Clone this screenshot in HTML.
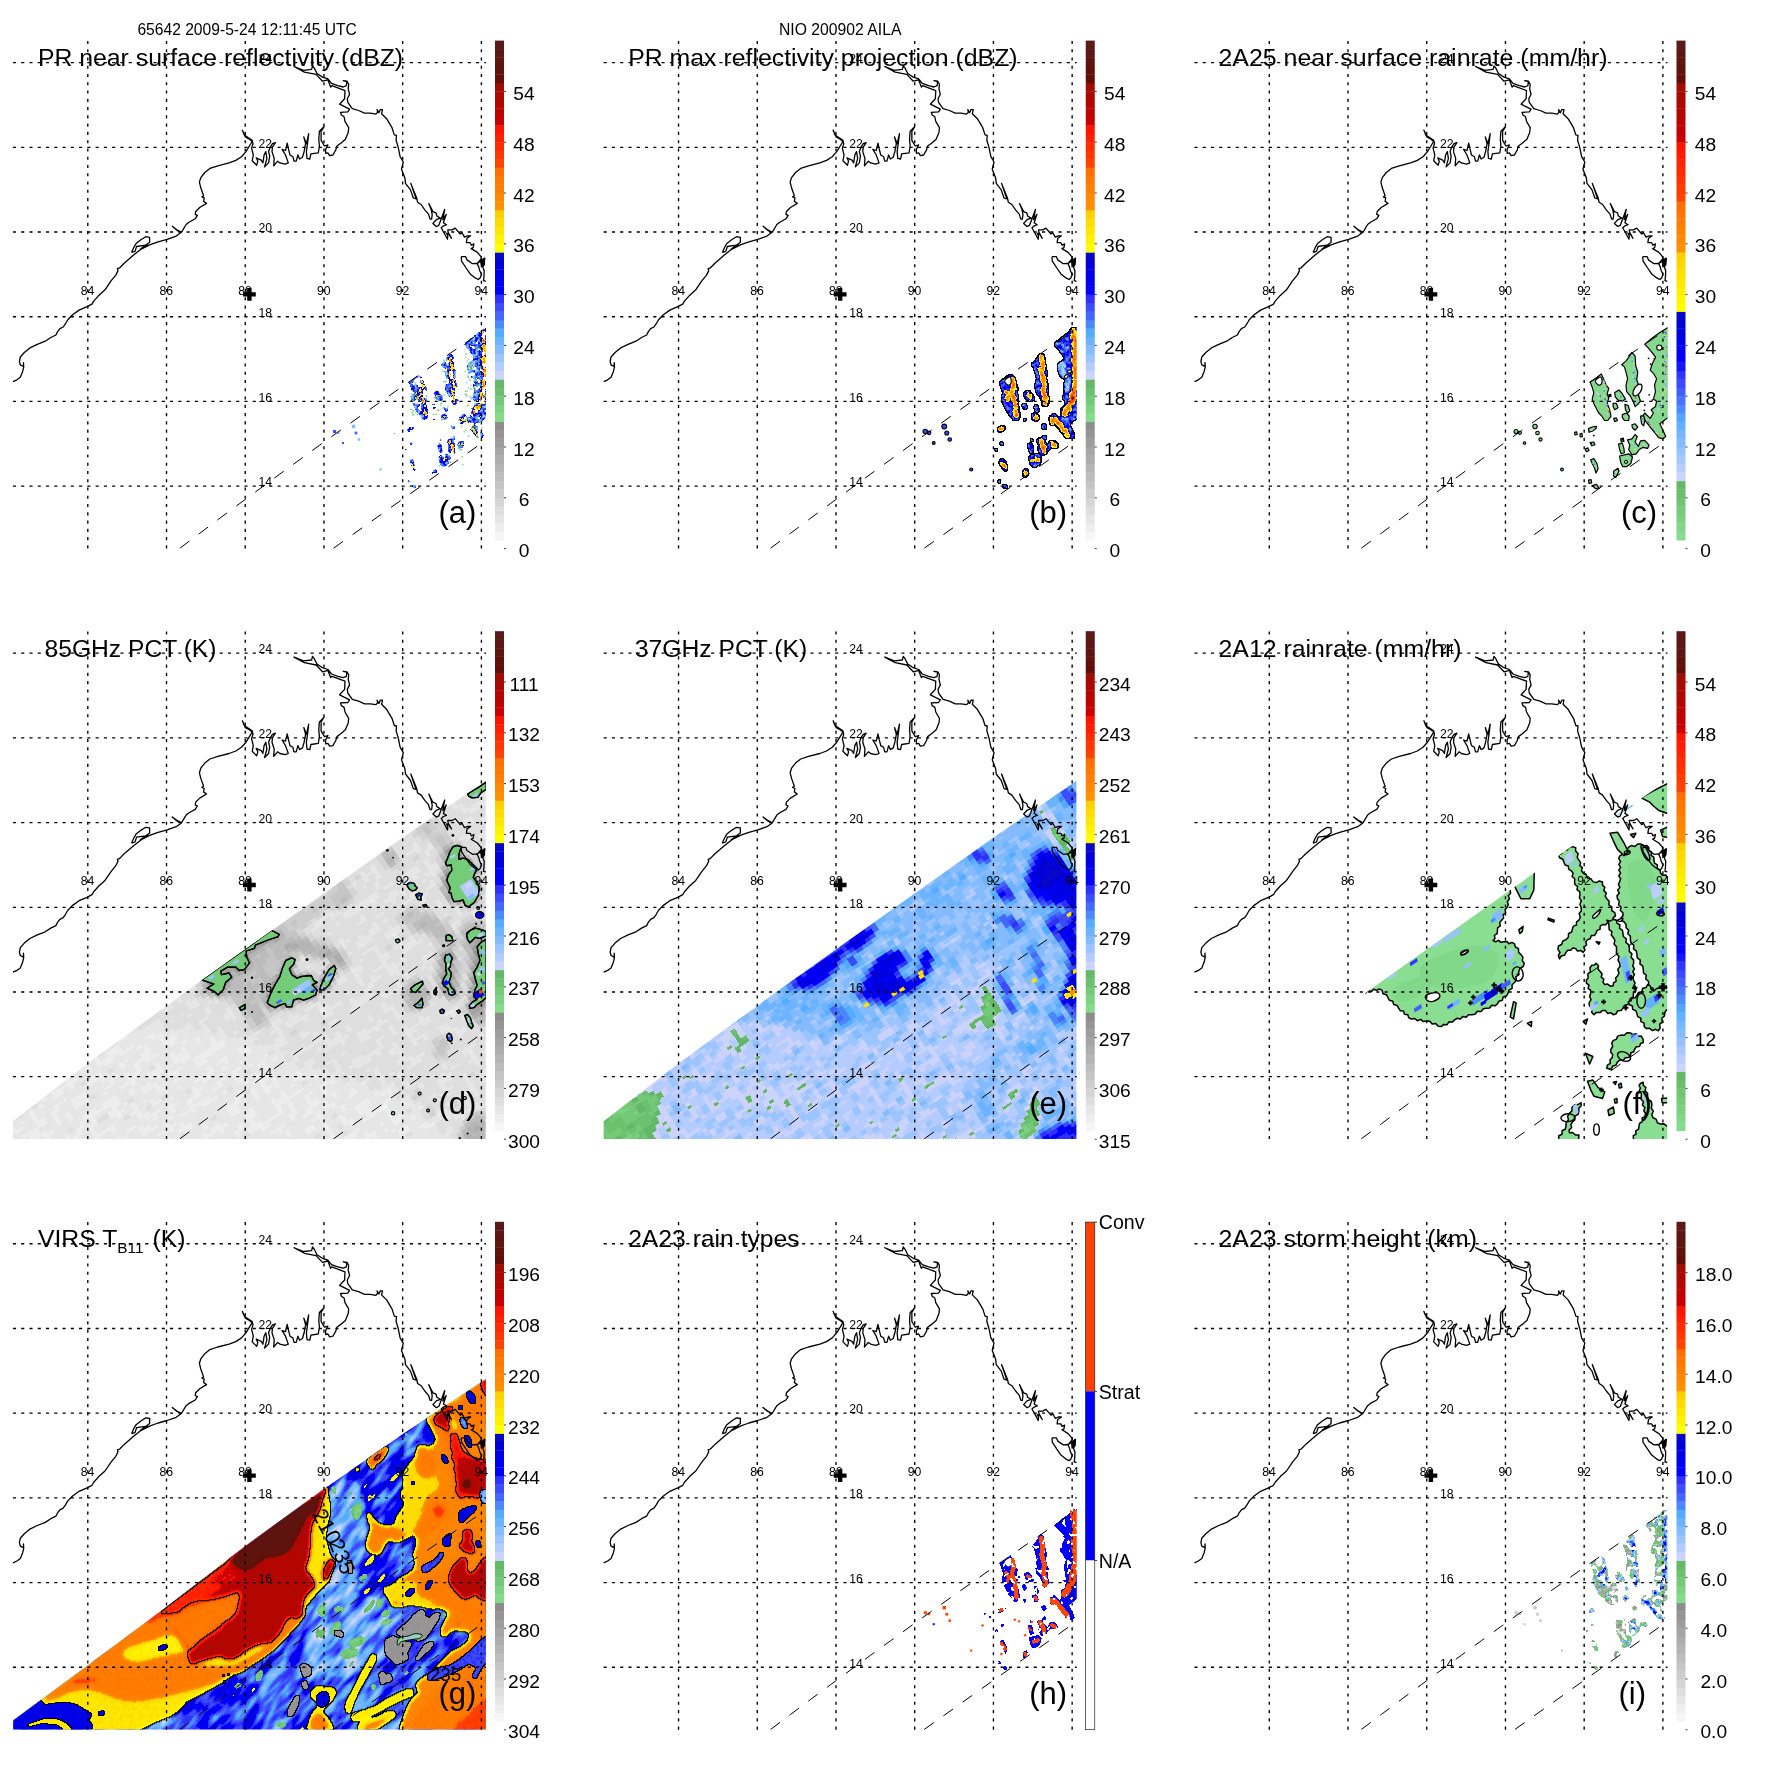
<!DOCTYPE html><html><head><meta charset="utf-8"><title>TRMM 65642 NIO 200902 AILA</title>
<style>html,body{margin:0;padding:0;background:#fff}svg{display:block}text{fill:#000;opacity:0.999}</style></head><body>
<svg width="1771" height="1771" viewBox="0 0 1771 1771">
<defs><clipPath id="plotclip"><rect x="12.9" y="41.0" width="473.1" height="507.8"/></clipPath>
<filter id="pa" x="300" y="300" width="200" height="250" filterUnits="userSpaceOnUse" color-interpolation-filters="sRGB"><feFlood flood-color="#6c6c6c" result="bg"/><feMerge result="comp"><feMergeNode in="bg"/><feMergeNode in="SourceGraphic"/></feMerge><feGaussianBlur in="comp" stdDeviation="0.80" result="f"/><feTurbulence type="fractalNoise" baseFrequency="0.33" numOctaves="2" seed="17" result="t"/><feColorMatrix in="t" type="matrix" values="1 0 0 0 0 1 0 0 0 0 1 0 0 0 0 0 0 0 0 1" result="tg"/><feComposite in="f" in2="tg" operator="arithmetic" k1="0" k2="1" k3="0.420" k4="-0.210" result="fn"/><feComponentTransfer in="fn" result="col"><feFuncR type="discrete" tableValues="1.000 0.965 0.933 0.902 0.871 0.839 0.808 0.776 0.745 0.714 0.682 0.651 0.620 0.588 0.557 0.518 0.486 0.455 0.424 0.392 0.800 0.706 0.612 0.518 0.424 0.329 0.298 0.267 0.235 0.188 0.000 0.000 0.000 0.000 0.031 1.000 1.000 1.000 1.000 1.000 1.000 1.000 1.000 1.000 1.000 1.000 1.000 1.000 1.000 1.000 0.784 0.745 0.706 0.667 0.627 0.384 0.376 0.369 0.361 0.353"/><feFuncG type="discrete" tableValues="1.000 0.965 0.933 0.902 0.871 0.835 0.804 0.773 0.741 0.710 0.678 0.643 0.612 0.580 0.549 0.863 0.827 0.792 0.757 0.722 0.831 0.800 0.769 0.737 0.706 0.675 0.533 0.408 0.298 0.188 0.000 0.000 0.000 0.000 0.031 1.000 0.953 0.910 0.863 0.816 0.565 0.533 0.502 0.471 0.439 0.267 0.220 0.173 0.125 0.078 0.000 0.012 0.024 0.035 0.047 0.055 0.067 0.078 0.090 0.102"/><feFuncB type="discrete" tableValues="1.000 0.965 0.933 0.902 0.871 0.835 0.804 0.773 0.741 0.710 0.678 0.643 0.612 0.580 0.549 0.533 0.502 0.471 0.439 0.408 0.988 1.000 1.000 1.000 1.000 1.000 1.000 1.000 1.000 1.000 1.000 0.957 0.902 0.847 0.784 0.000 0.000 0.000 0.000 0.000 0.000 0.000 0.000 0.000 0.000 0.000 0.000 0.000 0.000 0.000 0.000 0.000 0.000 0.000 0.000 0.024 0.039 0.059 0.078 0.094"/></feComponentTransfer><feGaussianBlur in="SourceAlpha" stdDeviation="0.80" result="ab"/><feComponentTransfer in="ab" result="m"><feFuncA type="discrete" tableValues="0 0 0 0 0 0 0 0 0 0 1 1 1 1 1 1 1 1 1 1"/></feComponentTransfer><feTurbulence type="fractalNoise" baseFrequency="0.22" numOctaves="1" seed="3" result="ht"/><feColorMatrix in="ht" type="matrix" values="0 0 0 0 0 0 0 0 0 0 0 0 0 0 0 1 0 0 0 0" result="hta"/><feComponentTransfer in="hta" result="hm"><feFuncA type="discrete" tableValues="0 0 0 0 0 0 0 0 0 0 0 0 0 0 0 0 1 1 1 1 1 1 1 1 1 1 1 1 1 1 1 1 1 1 1 1 1 1 1 1"/></feComponentTransfer><feComposite in="m" in2="hm" operator="in" result="m2"/><feComposite in="col" in2="m2" operator="in" result="colm"/><feMerge><feMergeNode in="colm"/></feMerge></filter><filter id="pb" x="300" y="300" width="200" height="250" filterUnits="userSpaceOnUse" color-interpolation-filters="sRGB"><feFlood flood-color="#797979" result="bg"/><feMerge result="comp"><feMergeNode in="bg"/><feMergeNode in="SourceGraphic"/></feMerge><feGaussianBlur in="comp" stdDeviation="0.90" result="f"/><feTurbulence type="fractalNoise" baseFrequency="0.28" numOctaves="2" seed="21" result="t"/><feColorMatrix in="t" type="matrix" values="1 0 0 0 0 1 0 0 0 0 1 0 0 0 0 0 0 0 0 1" result="tg"/><feComposite in="f" in2="tg" operator="arithmetic" k1="0" k2="1" k3="0.300" k4="-0.150" result="fn"/><feComponentTransfer in="fn" result="col"><feFuncR type="discrete" tableValues="1.000 0.965 0.933 0.902 0.871 0.839 0.808 0.776 0.745 0.714 0.682 0.651 0.620 0.588 0.557 0.518 0.486 0.455 0.424 0.392 0.800 0.706 0.612 0.518 0.424 0.329 0.298 0.267 0.235 0.188 0.000 0.000 0.000 0.000 0.031 1.000 1.000 1.000 1.000 1.000 1.000 1.000 1.000 1.000 1.000 1.000 1.000 1.000 1.000 1.000 0.784 0.745 0.706 0.667 0.627 0.384 0.376 0.369 0.361 0.353"/><feFuncG type="discrete" tableValues="1.000 0.965 0.933 0.902 0.871 0.835 0.804 0.773 0.741 0.710 0.678 0.643 0.612 0.580 0.549 0.863 0.827 0.792 0.757 0.722 0.831 0.800 0.769 0.737 0.706 0.675 0.533 0.408 0.298 0.188 0.000 0.000 0.000 0.000 0.031 1.000 0.953 0.910 0.863 0.816 0.565 0.533 0.502 0.471 0.439 0.267 0.220 0.173 0.125 0.078 0.000 0.012 0.024 0.035 0.047 0.055 0.067 0.078 0.090 0.102"/><feFuncB type="discrete" tableValues="1.000 0.965 0.933 0.902 0.871 0.835 0.804 0.773 0.741 0.710 0.678 0.643 0.612 0.580 0.549 0.533 0.502 0.471 0.439 0.408 0.988 1.000 1.000 1.000 1.000 1.000 1.000 1.000 1.000 1.000 1.000 0.957 0.902 0.847 0.784 0.000 0.000 0.000 0.000 0.000 0.000 0.000 0.000 0.000 0.000 0.000 0.000 0.000 0.000 0.000 0.000 0.000 0.000 0.000 0.000 0.024 0.039 0.059 0.078 0.094"/></feComponentTransfer><feGaussianBlur in="SourceAlpha" stdDeviation="0.90" result="ab"/><feComponentTransfer in="ab" result="m"><feFuncA type="discrete" tableValues="0 0 0 0 0 0 0 0 0 0 1 1 1 1 1 1 1 1 1 1"/></feComponentTransfer><feComposite in="col" in2="m" operator="in" result="colm"/><feMorphology in="m" operator="dilate" radius="0.60" result="md"/><feMorphology in="m" operator="erode" radius="0.36" result="me"/><feComposite in="md" in2="me" operator="out" result="edge"/><feMerge><feMergeNode in="colm"/><feMergeNode in="edge"/></feMerge></filter><clipPath id="trid"><path d="M12.3 531.1 L87.6 473.0 L189.2 398.6 L323.9 302.9 L402.7 247.0 L485.8 190.2 L485.8 548.3 L12.3 548.3Z"/></clipPath><filter id="pd" x="-80" y="40" width="660" height="660" filterUnits="userSpaceOnUse" color-interpolation-filters="sRGB"><feGaussianBlur in="SourceGraphic" stdDeviation="3.50" result="b"/><feTurbulence type="fractalNoise" baseFrequency="0.1" numOctaves="2" seed="11" result="t"/><feColorMatrix in="t" type="matrix" values="1 0 0 0 0 1 0 0 0 0 1 0 0 0 0 0 0 0 0 1" result="tg"/><feComposite in="b" in2="tg" operator="arithmetic" k1="0" k2="1" k3="0.060" k4="-0.030" result="bn"/><feFlood x="-77" y="42" width="1" height="1" flood-color="#000" result="dot"/><feComposite in="dot" in2="dot" operator="over" x="-80" y="40" width="6" height="4" result="cell"/><feTile in="cell" result="grid"/><feComposite in="bn" in2="grid" operator="in" result="samp"/><feMorphology in="samp" operator="dilate" radius="3 2" result="px"/><feComponentTransfer in="px"><feFuncR type="discrete" tableValues="1.000 0.965 0.933 0.902 0.871 0.839 0.808 0.776 0.745 0.714 0.682 0.651 0.620 0.588 0.557 0.518 0.486 0.455 0.424 0.392 0.800 0.706 0.612 0.518 0.424 0.329 0.298 0.267 0.235 0.188 0.000 0.000 0.000 0.000 0.031 1.000 1.000 1.000 1.000 1.000 1.000 1.000 1.000 1.000 1.000 1.000 1.000 1.000 1.000 1.000 0.784 0.745 0.706 0.667 0.627 0.384 0.376 0.369 0.361 0.353"/><feFuncG type="discrete" tableValues="1.000 0.965 0.933 0.902 0.871 0.835 0.804 0.773 0.741 0.710 0.678 0.643 0.612 0.580 0.549 0.863 0.827 0.792 0.757 0.722 0.831 0.800 0.769 0.737 0.706 0.675 0.533 0.408 0.298 0.188 0.000 0.000 0.000 0.000 0.031 1.000 0.953 0.910 0.863 0.816 0.565 0.533 0.502 0.471 0.439 0.267 0.220 0.173 0.125 0.078 0.000 0.012 0.024 0.035 0.047 0.055 0.067 0.078 0.090 0.102"/><feFuncB type="discrete" tableValues="1.000 0.965 0.933 0.902 0.871 0.835 0.804 0.773 0.741 0.710 0.678 0.643 0.612 0.580 0.549 0.533 0.502 0.471 0.439 0.408 0.988 1.000 1.000 1.000 1.000 1.000 1.000 1.000 1.000 1.000 1.000 0.957 0.902 0.847 0.784 0.000 0.000 0.000 0.000 0.000 0.000 0.000 0.000 0.000 0.000 0.000 0.000 0.000 0.000 0.000 0.000 0.000 0.000 0.000 0.000 0.024 0.039 0.059 0.078 0.094"/></feComponentTransfer></filter><clipPath id="trie"><path d="M12.3 531.1 L87.6 473.0 L189.2 398.6 L323.9 302.9 L402.7 247.0 L485.8 190.2 L485.8 548.3 L12.3 548.3Z"/></clipPath><filter id="pe" x="-80" y="40" width="660" height="660" filterUnits="userSpaceOnUse" color-interpolation-filters="sRGB"><feGaussianBlur in="SourceGraphic" stdDeviation="3.20" result="b"/><feTurbulence type="fractalNoise" baseFrequency="0.1" numOctaves="2" seed="5" result="t"/><feColorMatrix in="t" type="matrix" values="1 0 0 0 0 1 0 0 0 0 1 0 0 0 0 0 0 0 0 1" result="tg"/><feComposite in="b" in2="tg" operator="arithmetic" k1="0" k2="1" k3="0.105" k4="-0.052" result="bn"/><feFlood x="-77" y="42" width="1" height="1" flood-color="#000" result="dot"/><feComposite in="dot" in2="dot" operator="over" x="-80" y="40" width="6" height="4" result="cell"/><feTile in="cell" result="grid"/><feComposite in="bn" in2="grid" operator="in" result="samp"/><feMorphology in="samp" operator="dilate" radius="3 2" result="px"/><feComponentTransfer in="px"><feFuncR type="discrete" tableValues="1.000 0.965 0.933 0.902 0.871 0.839 0.808 0.776 0.745 0.714 0.682 0.651 0.620 0.588 0.557 0.518 0.486 0.455 0.424 0.392 0.800 0.706 0.612 0.518 0.424 0.329 0.298 0.267 0.235 0.188 0.000 0.000 0.000 0.000 0.031 1.000 1.000 1.000 1.000 1.000 1.000 1.000 1.000 1.000 1.000 1.000 1.000 1.000 1.000 1.000 0.784 0.745 0.706 0.667 0.627 0.384 0.376 0.369 0.361 0.353"/><feFuncG type="discrete" tableValues="1.000 0.965 0.933 0.902 0.871 0.835 0.804 0.773 0.741 0.710 0.678 0.643 0.612 0.580 0.549 0.863 0.827 0.792 0.757 0.722 0.831 0.800 0.769 0.737 0.706 0.675 0.533 0.408 0.298 0.188 0.000 0.000 0.000 0.000 0.031 1.000 0.953 0.910 0.863 0.816 0.565 0.533 0.502 0.471 0.439 0.267 0.220 0.173 0.125 0.078 0.000 0.012 0.024 0.035 0.047 0.055 0.067 0.078 0.090 0.102"/><feFuncB type="discrete" tableValues="1.000 0.965 0.933 0.902 0.871 0.835 0.804 0.773 0.741 0.710 0.678 0.643 0.612 0.580 0.549 0.533 0.502 0.471 0.439 0.408 0.988 1.000 1.000 1.000 1.000 1.000 1.000 1.000 1.000 1.000 1.000 0.957 0.902 0.847 0.784 0.000 0.000 0.000 0.000 0.000 0.000 0.000 0.000 0.000 0.000 0.000 0.000 0.000 0.000 0.000 0.000 0.000 0.000 0.000 0.000 0.024 0.039 0.059 0.078 0.094"/></feComponentTransfer></filter><clipPath id="trif"><path d="M12.3 531.1 L87.6 473.0 L189.2 398.6 L323.9 302.9 L402.7 247.0 L485.8 190.2 L485.8 548.3 L12.3 548.3Z"/></clipPath><filter id="pf" x="-80" y="40" width="660" height="660" filterUnits="userSpaceOnUse" color-interpolation-filters="sRGB"><feFlood x="-77" y="42" width="1" height="1" flood-color="#000" result="dot"/><feComposite in="dot" in2="dot" operator="over" x="-80" y="40" width="6" height="4" result="cell"/><feTile in="cell" result="grid"/><feComposite in="SourceGraphic" in2="grid" operator="in" result="samp"/><feMorphology in="samp" operator="dilate" radius="3 2" result="px0"/><feComponentTransfer in="px0" result="px"><feFuncA type="discrete" tableValues="0 1 1 1"/></feComponentTransfer><feComponentTransfer in="px" result="col"><feFuncR type="discrete" tableValues="1.000 0.525 0.506 0.482 0.463 0.443 0.420 0.400 0.800 0.729 0.663 0.592 0.522 0.455 0.384 0.325 0.302 0.278 0.255 0.231 0.196 0.078 0.000 0.000 0.000 0.000 0.008 0.031 1.000 1.000 1.000 1.000 1.000 1.000 1.000 1.000 1.000 1.000 1.000 1.000 1.000 1.000 1.000 1.000 1.000 1.000 1.000 1.000 0.784 0.757 0.733 0.706 0.678 0.655 0.627 0.384 0.376 0.369 0.361 0.353"/><feFuncG type="discrete" tableValues="1.000 0.863 0.839 0.816 0.792 0.769 0.745 0.722 0.831 0.808 0.784 0.761 0.737 0.718 0.694 0.651 0.549 0.455 0.369 0.286 0.204 0.078 0.000 0.000 0.000 0.000 0.008 0.031 1.000 0.969 0.937 0.910 0.878 0.847 0.816 0.565 0.541 0.514 0.490 0.463 0.439 0.267 0.235 0.204 0.173 0.141 0.110 0.078 0.000 0.008 0.016 0.024 0.031 0.039 0.047 0.055 0.067 0.078 0.090 0.102"/><feFuncB type="discrete" tableValues="1.000 0.557 0.529 0.506 0.478 0.451 0.427 0.400 0.988 0.996 1.000 1.000 1.000 1.000 1.000 1.000 1.000 1.000 1.000 1.000 1.000 1.000 0.988 0.953 0.914 0.875 0.831 0.784 0.000 0.000 0.000 0.000 0.000 0.000 0.000 0.000 0.000 0.000 0.000 0.000 0.000 0.000 0.000 0.000 0.000 0.000 0.000 0.000 0.000 0.000 0.000 0.000 0.000 0.000 0.000 0.024 0.039 0.059 0.078 0.094"/></feComponentTransfer><feColorMatrix in="px" type="matrix" values="0 0 0 0 0 0 0 0 0 0 0 0 0 0 0 0 0 0 1 0" result="a"/><feMorphology in="a" operator="dilate" radius="0.48" result="ad"/><feMorphology in="a" operator="erode" radius="0.80" result="ae"/><feComposite in="ad" in2="ae" operator="out" result="edge"/><feMerge><feMergeNode in="col"/><feMergeNode in="edge"/></feMerge></filter><clipPath id="trig"><path d="M13.2 539.2 L87.8 484.2 L166.4 425.7 L245.5 364.7 L324.0 307.8 L402.8 252.8 L485.8 198.0 L485.8 548.3 L13.2 548.3Z"/></clipPath><filter id="pg0" x="-200" y="-100" width="900" height="900" filterUnits="userSpaceOnUse" color-interpolation-filters="sRGB"><feGaussianBlur in="SourceGraphic" stdDeviation="1.40" result="b"/><feTurbulence type="fractalNoise" baseFrequency="0.035 0.11" numOctaves="2" seed="7" result="t"/><feColorMatrix in="t" type="matrix" values="1 0 0 0 0 1 0 0 0 0 1 0 0 0 0 0 0 0 0 1" result="tg"/><feComposite in="b" in2="tg" operator="arithmetic" k1="0" k2="1" k3="0.360" k4="-0.180" result="bn"/><feComponentTransfer in="bn"><feFuncR type="discrete" tableValues="1.000 0.965 0.933 0.902 0.871 0.839 0.808 0.776 0.745 0.714 0.682 0.651 0.620 0.588 0.557 0.518 0.486 0.455 0.424 0.392 0.800 0.706 0.612 0.518 0.424 0.329 0.298 0.267 0.235 0.188 0.000 0.000 0.000 0.000 0.031 1.000 1.000 1.000 1.000 1.000 1.000 1.000 1.000 1.000 1.000 1.000 1.000 1.000 1.000 1.000 0.784 0.745 0.706 0.667 0.627 0.384 0.376 0.369 0.361 0.353"/><feFuncG type="discrete" tableValues="1.000 0.965 0.933 0.902 0.871 0.835 0.804 0.773 0.741 0.710 0.678 0.643 0.612 0.580 0.549 0.863 0.827 0.792 0.757 0.722 0.831 0.800 0.769 0.737 0.706 0.675 0.533 0.408 0.298 0.188 0.000 0.000 0.000 0.000 0.031 1.000 0.953 0.910 0.863 0.816 0.565 0.533 0.502 0.471 0.439 0.267 0.220 0.173 0.125 0.078 0.000 0.012 0.024 0.035 0.047 0.055 0.067 0.078 0.090 0.102"/><feFuncB type="discrete" tableValues="1.000 0.965 0.933 0.902 0.871 0.835 0.804 0.773 0.741 0.710 0.678 0.643 0.612 0.580 0.549 0.533 0.502 0.471 0.439 0.408 0.988 1.000 1.000 1.000 1.000 1.000 1.000 1.000 1.000 1.000 1.000 0.957 0.902 0.847 0.784 0.000 0.000 0.000 0.000 0.000 0.000 0.000 0.000 0.000 0.000 0.000 0.000 0.000 0.000 0.000 0.000 0.000 0.000 0.000 0.000 0.024 0.039 0.059 0.078 0.094"/></feComponentTransfer></filter><filter id="pg1" x="-10" y="180" width="510" height="380" filterUnits="userSpaceOnUse" color-interpolation-filters="sRGB"><feFlood flood-color="#8f8f8f" result="bg"/><feMerge result="comp"><feMergeNode in="bg"/><feMergeNode in="SourceGraphic"/></feMerge><feGaussianBlur in="comp" stdDeviation="1.90" result="f"/><feTurbulence type="fractalNoise" baseFrequency="0.3" numOctaves="2" seed="4" result="t"/><feColorMatrix in="t" type="matrix" values="1 0 0 0 0 1 0 0 0 0 1 0 0 0 0 0 0 0 0 1" result="tg"/><feComposite in="f" in2="tg" operator="arithmetic" k1="0" k2="1" k3="0.035" k4="-0.018" result="fn"/><feComponentTransfer in="fn" result="col"><feFuncR type="discrete" tableValues="1.000 0.965 0.933 0.902 0.871 0.839 0.808 0.776 0.745 0.714 0.682 0.651 0.620 0.588 0.557 0.518 0.486 0.455 0.424 0.392 0.800 0.706 0.612 0.518 0.424 0.329 0.298 0.267 0.235 0.188 0.000 0.000 0.000 0.000 0.031 1.000 1.000 1.000 1.000 1.000 1.000 1.000 1.000 1.000 1.000 1.000 1.000 1.000 1.000 1.000 0.784 0.745 0.706 0.667 0.627 0.384 0.376 0.369 0.361 0.353"/><feFuncG type="discrete" tableValues="1.000 0.965 0.933 0.902 0.871 0.835 0.804 0.773 0.741 0.710 0.678 0.643 0.612 0.580 0.549 0.863 0.827 0.792 0.757 0.722 0.831 0.800 0.769 0.737 0.706 0.675 0.533 0.408 0.298 0.188 0.000 0.000 0.000 0.000 0.031 1.000 0.953 0.910 0.863 0.816 0.565 0.533 0.502 0.471 0.439 0.267 0.220 0.173 0.125 0.078 0.000 0.012 0.024 0.035 0.047 0.055 0.067 0.078 0.090 0.102"/><feFuncB type="discrete" tableValues="1.000 0.965 0.933 0.902 0.871 0.835 0.804 0.773 0.741 0.710 0.678 0.643 0.612 0.580 0.549 0.533 0.502 0.471 0.439 0.408 0.988 1.000 1.000 1.000 1.000 1.000 1.000 1.000 1.000 1.000 1.000 0.957 0.902 0.847 0.784 0.000 0.000 0.000 0.000 0.000 0.000 0.000 0.000 0.000 0.000 0.000 0.000 0.000 0.000 0.000 0.000 0.000 0.000 0.000 0.000 0.024 0.039 0.059 0.078 0.094"/></feComponentTransfer><feGaussianBlur in="SourceAlpha" stdDeviation="1.90" result="ab"/><feComponentTransfer in="ab" result="m"><feFuncA type="discrete" tableValues="0 0 0 0 0 0 0 0 0 1 1 1 1 1 1 1 1 1 1 1"/></feComponentTransfer><feComposite in="col" in2="m" operator="in" result="colm"/><feMorphology in="m" operator="dilate" radius="0.55" result="md"/><feMorphology in="m" operator="erode" radius="0.33" result="me"/><feComposite in="md" in2="me" operator="out" result="edge"/><feComponentTransfer in="f" result="th"><feFuncR type="discrete" tableValues="0 0 0 0 0 0 0 0 0 0 0 0 0 0 0 0 0 0 0 0 0 0 0 0 0 0 0 0 0 0 0 0 0 0 0 0 0 0 0 0 0 0 0 0 0 0 0 1 1 1 1 1 1 1 1 1 1 1 1 1"/></feComponentTransfer><feColorMatrix in="th" type="matrix" values="0 0 0 0 0 0 0 0 0 0 0 0 0 0 0 1 0 0 0 0" result="tha"/><feMorphology in="tha" operator="dilate" radius="0.55" result="thd"/><feMorphology in="tha" operator="erode" radius="0.33" result="the"/><feComposite in="thd" in2="the" operator="out" result="c0"/><feComposite in="c0" in2="m" operator="in" result="edge2"/><feMerge><feMergeNode in="colm"/><feMergeNode in="edge"/><feMergeNode in="edge2"/></feMerge></filter><filter id="pg2" x="-10" y="180" width="510" height="380" filterUnits="userSpaceOnUse" color-interpolation-filters="sRGB"><feFlood flood-color="#828282" result="bg"/><feMerge result="comp"><feMergeNode in="bg"/><feMergeNode in="SourceGraphic"/></feMerge><feGaussianBlur in="comp" stdDeviation="1.00" result="f"/><feTurbulence type="fractalNoise" baseFrequency="0.3" numOctaves="2" seed="9" result="t"/><feColorMatrix in="t" type="matrix" values="1 0 0 0 0 1 0 0 0 0 1 0 0 0 0 0 0 0 0 1" result="tg"/><feComposite in="f" in2="tg" operator="arithmetic" k1="0" k2="1" k3="0.050" k4="-0.025" result="fn"/><feComponentTransfer in="fn" result="col"><feFuncR type="discrete" tableValues="1.000 0.965 0.933 0.902 0.871 0.839 0.808 0.776 0.745 0.714 0.682 0.651 0.620 0.588 0.557 0.518 0.486 0.455 0.424 0.392 0.800 0.706 0.612 0.518 0.424 0.329 0.298 0.267 0.235 0.188 0.000 0.000 0.000 0.000 0.031 1.000 1.000 1.000 1.000 1.000 1.000 1.000 1.000 1.000 1.000 1.000 1.000 1.000 1.000 1.000 0.784 0.745 0.706 0.667 0.627 0.384 0.376 0.369 0.361 0.353"/><feFuncG type="discrete" tableValues="1.000 0.965 0.933 0.902 0.871 0.835 0.804 0.773 0.741 0.710 0.678 0.643 0.612 0.580 0.549 0.863 0.827 0.792 0.757 0.722 0.831 0.800 0.769 0.737 0.706 0.675 0.533 0.408 0.298 0.188 0.000 0.000 0.000 0.000 0.031 1.000 0.953 0.910 0.863 0.816 0.565 0.533 0.502 0.471 0.439 0.267 0.220 0.173 0.125 0.078 0.000 0.012 0.024 0.035 0.047 0.055 0.067 0.078 0.090 0.102"/><feFuncB type="discrete" tableValues="1.000 0.965 0.933 0.902 0.871 0.835 0.804 0.773 0.741 0.710 0.678 0.643 0.612 0.580 0.549 0.533 0.502 0.471 0.439 0.408 0.988 1.000 1.000 1.000 1.000 1.000 1.000 1.000 1.000 1.000 1.000 0.957 0.902 0.847 0.784 0.000 0.000 0.000 0.000 0.000 0.000 0.000 0.000 0.000 0.000 0.000 0.000 0.000 0.000 0.000 0.000 0.000 0.000 0.000 0.000 0.024 0.039 0.059 0.078 0.094"/></feComponentTransfer><feGaussianBlur in="SourceAlpha" stdDeviation="1.00" result="ab"/><feComponentTransfer in="ab" result="m"><feFuncA type="discrete" tableValues="0 0 0 0 0 0 0 0 0 0 1 1 1 1 1 1 1 1 1 1"/></feComponentTransfer><feComposite in="col" in2="m" operator="in" result="colm"/><feMorphology in="m" operator="dilate" radius="0.55" result="md"/><feMorphology in="m" operator="erode" radius="0.33" result="me"/><feComposite in="md" in2="me" operator="out" result="edge"/><feMerge><feMergeNode in="colm"/><feMergeNode in="edge"/></feMerge></filter><filter id="pg4" x="-10" y="180" width="510" height="380" filterUnits="userSpaceOnUse" color-interpolation-filters="sRGB"><feFlood flood-color="#5b5b5b" result="bg"/><feMerge result="comp"><feMergeNode in="bg"/><feMergeNode in="SourceGraphic"/></feMerge><feGaussianBlur in="comp" stdDeviation="1.20" result="f"/><feTurbulence type="fractalNoise" baseFrequency="0.22" numOctaves="2" seed="13" result="t"/><feColorMatrix in="t" type="matrix" values="1 0 0 0 0 1 0 0 0 0 1 0 0 0 0 0 0 0 0 1" result="tg"/><feComposite in="f" in2="tg" operator="arithmetic" k1="0" k2="1" k3="0.090" k4="-0.045" result="fn"/><feComponentTransfer in="fn" result="col"><feFuncR type="discrete" tableValues="1.000 0.965 0.933 0.902 0.871 0.839 0.808 0.776 0.745 0.714 0.682 0.651 0.620 0.588 0.557 0.518 0.486 0.455 0.424 0.392 0.800 0.706 0.612 0.518 0.424 0.329 0.298 0.267 0.235 0.188 0.000 0.000 0.000 0.000 0.031 1.000 1.000 1.000 1.000 1.000 1.000 1.000 1.000 1.000 1.000 1.000 1.000 1.000 1.000 1.000 0.784 0.745 0.706 0.667 0.627 0.384 0.376 0.369 0.361 0.353"/><feFuncG type="discrete" tableValues="1.000 0.965 0.933 0.902 0.871 0.835 0.804 0.773 0.741 0.710 0.678 0.643 0.612 0.580 0.549 0.863 0.827 0.792 0.757 0.722 0.831 0.800 0.769 0.737 0.706 0.675 0.533 0.408 0.298 0.188 0.000 0.000 0.000 0.000 0.031 1.000 0.953 0.910 0.863 0.816 0.565 0.533 0.502 0.471 0.439 0.267 0.220 0.173 0.125 0.078 0.000 0.012 0.024 0.035 0.047 0.055 0.067 0.078 0.090 0.102"/><feFuncB type="discrete" tableValues="1.000 0.965 0.933 0.902 0.871 0.835 0.804 0.773 0.741 0.710 0.678 0.643 0.612 0.580 0.549 0.533 0.502 0.471 0.439 0.408 0.988 1.000 1.000 1.000 1.000 1.000 1.000 1.000 1.000 1.000 1.000 0.957 0.902 0.847 0.784 0.000 0.000 0.000 0.000 0.000 0.000 0.000 0.000 0.000 0.000 0.000 0.000 0.000 0.000 0.000 0.000 0.000 0.000 0.000 0.000 0.024 0.039 0.059 0.078 0.094"/></feComponentTransfer><feGaussianBlur in="SourceAlpha" stdDeviation="1.20" result="ab"/><feComponentTransfer in="ab" result="m"><feFuncA type="discrete" tableValues="0 0 0 0 0 0 0 0 0 0 0 1 1 1 1 1 1 1 1 1"/></feComponentTransfer><feComposite in="col" in2="m" operator="in" result="colm"/><feMerge><feMergeNode in="colm"/></feMerge></filter><filter id="pg3" x="-10" y="180" width="510" height="380" filterUnits="userSpaceOnUse" color-interpolation-filters="sRGB"><feFlood flood-color="#393939" result="bg"/><feMerge result="comp"><feMergeNode in="bg"/><feMergeNode in="SourceGraphic"/></feMerge><feGaussianBlur in="comp" stdDeviation="0.80" result="f"/><feTurbulence type="fractalNoise" baseFrequency="0.3" numOctaves="2" seed="9" result="t"/><feColorMatrix in="t" type="matrix" values="1 0 0 0 0 1 0 0 0 0 1 0 0 0 0 0 0 0 0 1" result="tg"/><feComposite in="f" in2="tg" operator="arithmetic" k1="0" k2="1" k3="0.012" k4="-0.006" result="fn"/><feComponentTransfer in="fn" result="col"><feFuncR type="discrete" tableValues="1.000 0.965 0.933 0.902 0.871 0.839 0.808 0.776 0.745 0.714 0.682 0.651 0.620 0.588 0.557 0.518 0.486 0.455 0.424 0.392 0.800 0.706 0.612 0.518 0.424 0.329 0.298 0.267 0.235 0.188 0.000 0.000 0.000 0.000 0.031 1.000 1.000 1.000 1.000 1.000 1.000 1.000 1.000 1.000 1.000 1.000 1.000 1.000 1.000 1.000 0.784 0.745 0.706 0.667 0.627 0.384 0.376 0.369 0.361 0.353"/><feFuncG type="discrete" tableValues="1.000 0.965 0.933 0.902 0.871 0.835 0.804 0.773 0.741 0.710 0.678 0.643 0.612 0.580 0.549 0.863 0.827 0.792 0.757 0.722 0.831 0.800 0.769 0.737 0.706 0.675 0.533 0.408 0.298 0.188 0.000 0.000 0.000 0.000 0.031 1.000 0.953 0.910 0.863 0.816 0.565 0.533 0.502 0.471 0.439 0.267 0.220 0.173 0.125 0.078 0.000 0.012 0.024 0.035 0.047 0.055 0.067 0.078 0.090 0.102"/><feFuncB type="discrete" tableValues="1.000 0.965 0.933 0.902 0.871 0.835 0.804 0.773 0.741 0.710 0.678 0.643 0.612 0.580 0.549 0.533 0.502 0.471 0.439 0.408 0.988 1.000 1.000 1.000 1.000 1.000 1.000 1.000 1.000 1.000 1.000 0.957 0.902 0.847 0.784 0.000 0.000 0.000 0.000 0.000 0.000 0.000 0.000 0.000 0.000 0.000 0.000 0.000 0.000 0.000 0.000 0.000 0.000 0.000 0.000 0.024 0.039 0.059 0.078 0.094"/></feComponentTransfer><feGaussianBlur in="SourceAlpha" stdDeviation="0.80" result="ab"/><feComponentTransfer in="ab" result="m"><feFuncA type="discrete" tableValues="0 0 0 0 0 0 0 0 0 0 1 1 1 1 1 1 1 1 1 1"/></feComponentTransfer><feComposite in="col" in2="m" operator="in" result="colm"/><feMorphology in="m" operator="dilate" radius="0.50" result="md"/><feMorphology in="m" operator="erode" radius="0.30" result="me"/><feComposite in="md" in2="me" operator="out" result="edge"/><feMerge><feMergeNode in="colm"/><feMergeNode in="edge"/></feMerge></filter><filter id="ph" x="300" y="300" width="200" height="250" filterUnits="userSpaceOnUse" color-interpolation-filters="sRGB"><feFlood flood-color="#2d2d2d" result="bg"/><feMerge result="comp"><feMergeNode in="bg"/><feMergeNode in="SourceGraphic"/></feMerge><feGaussianBlur in="comp" stdDeviation="0.60" result="f"/><feTurbulence type="fractalNoise" baseFrequency="0.5" numOctaves="2" seed="31" result="t"/><feColorMatrix in="t" type="matrix" values="1 0 0 0 0 1 0 0 0 0 1 0 0 0 0 0 0 0 0 1" result="tg"/><feComposite in="f" in2="tg" operator="arithmetic" k1="0" k2="1" k3="0.350" k4="-0.175" result="fn"/><feComponentTransfer in="fn" result="col"><feFuncR type="discrete" tableValues="0.000 0.000 0.000 0.000 0.000 0.000 0.000 0.000 0.000 0.000 0.000 0.000 0.000 0.000 0.000 0.000 0.000 0.000 0.000 0.000 0.000 0.000 0.000 0.000 0.000 0.000 0.000 0.000 0.000 0.000 1.000 1.000 1.000 1.000 1.000 1.000 1.000 1.000 1.000 1.000 1.000 1.000 1.000 1.000 1.000 1.000 1.000 1.000 1.000 1.000 1.000 1.000 1.000 1.000 1.000 1.000 1.000 1.000 1.000 1.000"/><feFuncG type="discrete" tableValues="0.000 0.000 0.000 0.000 0.000 0.000 0.000 0.000 0.000 0.000 0.000 0.000 0.000 0.000 0.000 0.000 0.000 0.000 0.000 0.000 0.000 0.000 0.000 0.000 0.000 0.000 0.000 0.000 0.000 0.000 0.271 0.271 0.271 0.271 0.271 0.271 0.271 0.271 0.271 0.271 0.271 0.271 0.271 0.271 0.271 0.271 0.271 0.271 0.271 0.271 0.271 0.271 0.271 0.271 0.271 0.271 0.271 0.271 0.271 0.271"/><feFuncB type="discrete" tableValues="1.000 1.000 1.000 1.000 1.000 1.000 1.000 1.000 1.000 1.000 1.000 1.000 1.000 1.000 1.000 1.000 1.000 1.000 1.000 1.000 1.000 1.000 1.000 1.000 1.000 1.000 1.000 1.000 1.000 1.000 0.000 0.000 0.000 0.000 0.000 0.000 0.000 0.000 0.000 0.000 0.000 0.000 0.000 0.000 0.000 0.000 0.000 0.000 0.000 0.000 0.000 0.000 0.000 0.000 0.000 0.000 0.000 0.000 0.000 0.000"/></feComponentTransfer><feGaussianBlur in="SourceAlpha" stdDeviation="0.60" result="ab"/><feComponentTransfer in="ab" result="m"><feFuncA type="discrete" tableValues="0 0 0 0 0 0 0 0 0 0 1 1 1 1 1 1 1 1 1 1"/></feComponentTransfer><feTurbulence type="fractalNoise" baseFrequency="0.25" numOctaves="1" seed="5" result="ht"/><feColorMatrix in="ht" type="matrix" values="0 0 0 0 0 0 0 0 0 0 0 0 0 0 0 1 0 0 0 0" result="hta"/><feComponentTransfer in="hta" result="hm"><feFuncA type="discrete" tableValues="0 0 0 0 0 0 0 0 0 0 0 0 0 0 0 1 1 1 1 1 1 1 1 1 1 1 1 1 1 1 1 1 1 1 1 1 1 1 1 1"/></feComponentTransfer><feComposite in="m" in2="hm" operator="in" result="m2"/><feComposite in="col" in2="m2" operator="in" result="colm"/><feMerge><feMergeNode in="colm"/></feMerge></filter><filter id="pi" x="300" y="300" width="200" height="250" filterUnits="userSpaceOnUse" color-interpolation-filters="sRGB"><feFlood flood-color="#464646" result="bg"/><feMerge result="comp"><feMergeNode in="bg"/><feMergeNode in="SourceGraphic"/></feMerge><feGaussianBlur in="comp" stdDeviation="0.90" result="f"/><feTurbulence type="fractalNoise" baseFrequency="0.2" numOctaves="2" seed="41" result="t"/><feColorMatrix in="t" type="matrix" values="1 0 0 0 0 1 0 0 0 0 1 0 0 0 0 0 0 0 0 1" result="tg"/><feComposite in="f" in2="tg" operator="arithmetic" k1="0" k2="1" k3="0.600" k4="-0.300" result="fn"/><feComponentTransfer in="fn" result="col"><feFuncR type="discrete" tableValues="1.000 0.965 0.933 0.902 0.871 0.839 0.808 0.776 0.745 0.714 0.682 0.651 0.620 0.588 0.557 0.518 0.486 0.455 0.424 0.392 0.800 0.706 0.612 0.518 0.424 0.329 0.298 0.267 0.235 0.188 0.000 0.000 0.000 0.000 0.031 1.000 1.000 1.000 1.000 1.000 1.000 1.000 1.000 1.000 1.000 1.000 1.000 1.000 1.000 1.000 0.784 0.745 0.706 0.667 0.627 0.384 0.376 0.369 0.361 0.353"/><feFuncG type="discrete" tableValues="1.000 0.965 0.933 0.902 0.871 0.835 0.804 0.773 0.741 0.710 0.678 0.643 0.612 0.580 0.549 0.863 0.827 0.792 0.757 0.722 0.831 0.800 0.769 0.737 0.706 0.675 0.533 0.408 0.298 0.188 0.000 0.000 0.000 0.000 0.031 1.000 0.953 0.910 0.863 0.816 0.565 0.533 0.502 0.471 0.439 0.267 0.220 0.173 0.125 0.078 0.000 0.012 0.024 0.035 0.047 0.055 0.067 0.078 0.090 0.102"/><feFuncB type="discrete" tableValues="1.000 0.965 0.933 0.902 0.871 0.835 0.804 0.773 0.741 0.710 0.678 0.643 0.612 0.580 0.549 0.533 0.502 0.471 0.439 0.408 0.988 1.000 1.000 1.000 1.000 1.000 1.000 1.000 1.000 1.000 1.000 0.957 0.902 0.847 0.784 0.000 0.000 0.000 0.000 0.000 0.000 0.000 0.000 0.000 0.000 0.000 0.000 0.000 0.000 0.000 0.000 0.000 0.000 0.000 0.000 0.024 0.039 0.059 0.078 0.094"/></feComponentTransfer><feGaussianBlur in="SourceAlpha" stdDeviation="0.90" result="ab"/><feComponentTransfer in="ab" result="m"><feFuncA type="discrete" tableValues="0 0 0 0 0 0 0 0 0 0 1 1 1 1 1 1 1 1 1 1"/></feComponentTransfer><feTurbulence type="fractalNoise" baseFrequency="0.2" numOctaves="1" seed="7" result="ht"/><feColorMatrix in="ht" type="matrix" values="0 0 0 0 0 0 0 0 0 0 0 0 0 0 0 1 0 0 0 0" result="hta"/><feComponentTransfer in="hta" result="hm"><feFuncA type="discrete" tableValues="0 0 0 0 0 0 0 0 0 0 0 0 0 0 0 0 0 1 1 1 1 1 1 1 1 1 1 1 1 1 1 1 1 1 1 1 1 1 1 1"/></feComponentTransfer><feComposite in="m" in2="hm" operator="in" result="m2"/><feComposite in="col" in2="m2" operator="in" result="colm"/><feMerge><feMergeNode in="colm"/></feMerge></filter></defs>
<rect width="1771" height="1771" fill="#fff"/>
<text x="137.4" y="35.4" font-size="15.6" textLength="219.5" lengthAdjust="spacingAndGlyphs" font-family="Liberation Sans, Arial, Helvetica, sans-serif">65642 2009-5-24 12:11:45 UTC</text>
<text x="779.0" y="35.4" font-size="15.6" textLength="122.5" lengthAdjust="spacingAndGlyphs" font-family="Liberation Sans, Arial, Helvetica, sans-serif">NIO 200902 AILA</text>
<g transform="translate(0.00 0.00)">
<g clip-path="url(#plotclip)"><g filter="url(#pa)"><path d="M408.6 381.9 L413.9 378.7 L419.8 373.9 L422.0 378.7 L424.7 385.1 L427.3 388.3 L425.7 393.7 L427.3 398.0 L425.7 403.4 L427.9 408.7 L429.5 416.2 L426.3 420.5 L423.1 420.5 L420.4 416.2 L417.2 413.0 L415.0 408.7 L412.3 403.4 L410.7 399.1 L412.3 392.6 L410.7 387.3Z" fill="#777777" /><path d="M440.2 364.7 L445.1 360.4 L450.4 352.4 L453.6 356.1 L454.2 365.8 L456.3 372.2 L455.2 379.8 L457.9 387.3 L456.9 394.8 L459.0 401.2 L456.3 404.4 L453.6 406.6 L452.0 402.3 L448.8 395.9 L445.1 391.6 L444.5 385.1 L446.1 378.7 L444.5 372.2 L442.9 366.9Z" fill="#777777" /><path d="M463.3 344.3 L470.8 337.9 L478.3 332.5 L486.9 327.2 L486.9 417.3 L482.6 420.5 L478.3 423.8 L481.5 430.2 L484.2 436.6 L481.5 438.8 L477.2 437.7 L473.0 432.3 L468.7 427.0 L464.4 421.6 L461.2 416.2 L463.3 413.0 L468.7 418.4 L471.9 413.0 L469.7 409.8 L474.0 406.6 L475.1 401.2 L471.9 399.1 L474.0 391.6 L473.0 385.1 L475.1 378.7 L471.9 373.3 L468.7 370.1 L470.8 363.7 L474.0 357.2 L470.8 352.9 L466.5 347.6Z" fill="#777777" /><path d="M433.2 392.6 L437.5 390.0 L440.8 393.7 L444.0 399.1 L440.8 401.2 L436.5 400.1 L433.8 396.9Z" fill="#777777" /><path d="M431.6 403.4 L434.9 403.4 L436.5 407.7 L433.2 409.8 L431.6 406.6Z" fill="#777777" /><path d="M443.4 404.4 L446.7 405.5 L448.3 410.9 L446.1 413.0 L444.0 409.8Z" fill="#777777" /><path d="M440.8 414.6 L445.1 413.0 L447.7 416.2 L447.2 420.5 L442.9 420.5 L440.8 417.3Z" fill="#777777" /><path d="M432.2 418.4 L434.9 417.9 L435.9 420.5 L433.2 421.6Z" fill="#777777" /><path d="M459.0 416.2 L462.2 415.7 L463.3 420.5 L462.2 425.9 L460.1 423.8Z" fill="#777777" /><path d="M450.4 424.8 L453.6 423.8 L456.3 427.0 L453.6 430.2 L451.0 428.0Z" fill="#777777" /><path d="M446.1 439.9 L450.4 438.8 L453.6 434.5 L455.8 436.6 L453.6 442.0 L456.9 446.3 L459.0 440.9 L463.3 440.4 L467.6 445.2 L466.0 448.4 L461.2 447.4 L457.9 449.5 L454.7 453.8 L450.4 454.9 L447.2 449.5 L448.3 445.2Z" fill="#777777" /><path d="M438.1 456.0 L442.9 454.9 L447.2 453.8 L451.0 457.0 L449.3 463.5 L445.1 466.7 L441.3 466.7 L439.2 462.4Z" fill="#777777" /><path d="M437.0 444.1 L440.8 443.1 L442.4 448.4 L442.9 452.7 L439.7 453.8 L438.1 449.5Z" fill="#777777" /><path d="M439.2 438.8 L441.8 438.2 L442.4 441.5 L439.7 442.0Z" fill="#777777" /><path d="M407.0 428.6 L410.7 427.0 L415.0 426.4 L414.5 428.6 L410.7 431.3 L407.5 432.3Z" fill="#777777" /><path d="M393.0 432.3 L395.2 431.8 L395.7 434.5 L393.5 435.0Z" fill="#777777" /><path d="M398.4 434.0 L400.5 433.4 L400.8 436.6 L398.7 436.8Z" fill="#777777" /><path d="M403.7 449.0 L406.4 447.9 L407.5 450.6 L404.8 451.7Z" fill="#777777" /><path d="M409.1 459.7 L412.3 458.6 L415.5 463.5 L416.6 468.8 L414.5 473.1 L412.9 467.8 L410.7 463.5Z" fill="#777777" /><path d="M407.0 480.1 L409.6 479.6 L410.2 482.8 L407.5 483.3Z" fill="#777777" /><path d="M410.7 485.5 L415.0 484.4 L417.7 488.1 L413.9 488.7Z" fill="#777777" /><path d="M432.2 471.0 L436.5 468.3 L437.5 471.0 L434.3 477.4 L432.2 476.3Z" fill="#777777" /><path d="M408.6 442.5 L412.3 442.0 L413.4 444.7 L410.2 445.8Z" fill="#777777" /><path d="M427.3 394.8 L429.2 394.2 L429.5 396.4 L427.7 396.7Z" fill="#777777" /><path d="M421.4 378.7 L423.1 385.1 L420.9 392.6 L423.6 400.1 L425.2 408.7 L425.7 416.2" fill="none" stroke="#9d9d9d" stroke-width="3.1" stroke-linecap="round" stroke-linejoin="round"/><path d="M450.4 357.2 L452.0 365.8 L451.0 374.4 L453.6 383.0 L452.6 391.6 L454.7 399.1 L454.2 403.4" fill="none" stroke="#9d9d9d" stroke-width="3.4" stroke-linecap="round" stroke-linejoin="round"/><path d="M482.6 331.5 L484.8 345.4 L483.7 361.5 L485.3 378.7 L482.6 391.6 L481.5 400.1 L478.3 406.6 L474.0 413.0" fill="none" stroke="#9d9d9d" stroke-width="4.5" stroke-linecap="round" stroke-linejoin="round"/><path d="M464.4 419.5 L468.7 424.8 L473.0 430.2 L477.2 435.6" fill="none" stroke="#9d9d9d" stroke-width="3.2" stroke-linecap="round" stroke-linejoin="round"/><path d="M449.3 440.9 L452.6 446.3 L453.6 451.7" fill="none" stroke="#9d9d9d" stroke-width="3.1" stroke-linecap="round" stroke-linejoin="round"/><path d="M461.2 444.1 L464.4 445.8" fill="none" stroke="#9d9d9d" stroke-width="2.7" stroke-linecap="round" stroke-linejoin="round"/><path d="M442.9 460.2 L447.2 459.2" fill="none" stroke="#9d9d9d" stroke-width="2.7" stroke-linecap="round" stroke-linejoin="round"/><path d="M437.0 394.8 L439.7 396.9" fill="none" stroke="#9d9d9d" stroke-width="2.3" stroke-linecap="round" stroke-linejoin="round"/><path d="M444.5 416.2 L446.1 418.4" fill="none" stroke="#9d9d9d" stroke-width="2.3" stroke-linecap="round" stroke-linejoin="round"/><path d="M460.6 418.4 L461.7 422.7" fill="none" stroke="#9d9d9d" stroke-width="2.3" stroke-linecap="round" stroke-linejoin="round"/><path d="M410.7 462.4 L414.5 467.8" fill="none" stroke="#9d9d9d" stroke-width="2.3" stroke-linecap="round" stroke-linejoin="round"/><path d="M409.1 429.1 L412.3 428.0" fill="none" stroke="#9d9d9d" stroke-width="2.2" stroke-linecap="round" stroke-linejoin="round"/><path d="M434.3 472.0 L435.4 474.2" fill="none" stroke="#9d9d9d" stroke-width="2.2" stroke-linecap="round" stroke-linejoin="round"/><path d="M415.0 391.6 L418.2 395.9 L416.6 400.1" fill="none" stroke="#9d9d9d" stroke-width="2.3" stroke-linecap="round" stroke-linejoin="round"/><path d="M421.4 378.7 L423.1 385.1 L420.9 392.6 L423.6 400.1 L425.2 408.7 L425.7 416.2" fill="none" stroke="#b7b7b7" stroke-width="1.2" stroke-linecap="round" stroke-linejoin="round"/><path d="M450.4 357.2 L452.0 365.8 L451.0 374.4 L453.6 383.0 L452.6 391.6 L454.7 399.1 L454.2 403.4" fill="none" stroke="#b7b7b7" stroke-width="1.3" stroke-linecap="round" stroke-linejoin="round"/><path d="M482.6 331.5 L484.8 345.4 L483.7 361.5 L485.3 378.7 L482.6 391.6 L481.5 400.1 L478.3 406.6 L474.0 413.0" fill="none" stroke="#b7b7b7" stroke-width="1.8" stroke-linecap="round" stroke-linejoin="round"/><path d="M464.4 419.5 L468.7 424.8 L473.0 430.2 L477.2 435.6" fill="none" stroke="#b7b7b7" stroke-width="1.3" stroke-linecap="round" stroke-linejoin="round"/><path d="M449.3 440.9 L452.6 446.3 L453.6 451.7" fill="none" stroke="#b7b7b7" stroke-width="1.2" stroke-linecap="round" stroke-linejoin="round"/><path d="M461.2 444.1 L464.4 445.8" fill="none" stroke="#b7b7b7" stroke-width="1.0" stroke-linecap="round" stroke-linejoin="round"/><path d="M442.9 460.2 L447.2 459.2" fill="none" stroke="#b7b7b7" stroke-width="1.0" stroke-linecap="round" stroke-linejoin="round"/><path d="M437.0 394.8 L439.7 396.9" fill="none" stroke="#b7b7b7" stroke-width="0.9" stroke-linecap="round" stroke-linejoin="round"/><path d="M444.5 416.2 L446.1 418.4" fill="none" stroke="#b7b7b7" stroke-width="0.9" stroke-linecap="round" stroke-linejoin="round"/><path d="M460.6 418.4 L461.7 422.7" fill="none" stroke="#b7b7b7" stroke-width="0.9" stroke-linecap="round" stroke-linejoin="round"/><path d="M410.7 462.4 L414.5 467.8" fill="none" stroke="#b7b7b7" stroke-width="0.9" stroke-linecap="round" stroke-linejoin="round"/><path d="M409.1 429.1 L412.3 428.0" fill="none" stroke="#b7b7b7" stroke-width="0.8" stroke-linecap="round" stroke-linejoin="round"/><path d="M434.3 472.0 L435.4 474.2" fill="none" stroke="#b7b7b7" stroke-width="0.8" stroke-linecap="round" stroke-linejoin="round"/><path d="M415.0 391.6 L418.2 395.9 L416.6 400.1" fill="none" stroke="#b7b7b7" stroke-width="0.9" stroke-linecap="round" stroke-linejoin="round"/><path d="M467.6 363.7 C468.5 361.7 472.8 361.5 474.0 362.6 C475.3 363.7 475.1 367.4 475.1 370.1 C475.1 372.8 475.1 378.0 474.0 378.7 C473.0 379.4 469.7 376.9 468.7 374.4 C467.6 371.9 466.7 365.6 467.6 363.7Z" fill="#626262" /><ellipse cx="482.8" cy="399.1" rx="2.0" ry="3.2" fill="#cecece"/></g><path d="M413.9 380.8 C414.3 379.5 418.2 376.7 419.3 377.1 C420.4 377.4 420.7 381.6 420.4 383.0 C420.0 384.3 418.2 385.5 417.2 385.1 C416.1 384.8 413.6 382.2 413.9 380.8Z" fill="#fff"/><rect x="474.4" y="390.8" width="1.5" height="1.2" fill="#70c874"/><rect x="477.9" y="392.9" width="1.5" height="1.2" fill="#7cd480"/><rect x="474.8" y="400.5" width="1.5" height="1.2" fill="#70c874"/><rect x="470.4" y="398.5" width="1.5" height="1.2" fill="#9cc4ff"/><rect x="473.1" y="380.5" width="1.5" height="1.2" fill="#70c874"/><rect x="476.1" y="370.4" width="1.5" height="1.2" fill="#7cd480"/><rect x="479.1" y="392.3" width="1.5" height="1.2" fill="#7cd480"/><rect x="476.6" y="349.8" width="1.5" height="1.2" fill="#9cc4ff"/><rect x="466.4" y="345.5" width="1.5" height="1.2" fill="#70c874"/><rect x="467.7" y="358.6" width="1.5" height="1.2" fill="#7cd480"/><rect x="478.4" y="363.1" width="1.5" height="1.2" fill="#7cd480"/><rect x="473.1" y="386.9" width="1.5" height="1.2" fill="#7cd480"/><rect x="467.3" y="404.7" width="1.5" height="1.2" fill="#7cd480"/><rect x="479.9" y="400.1" width="1.5" height="1.2" fill="#64b868"/><rect x="464.7" y="370.8" width="1.5" height="1.2" fill="#7cd480"/><rect x="468.6" y="365.7" width="1.5" height="1.2" fill="#70c874"/><rect x="474.0" y="388.7" width="1.5" height="1.2" fill="#70c874"/><rect x="469.4" y="395.5" width="1.5" height="1.2" fill="#9cc4ff"/><rect x="475.6" y="356.7" width="1.5" height="1.2" fill="#9cc4ff"/><rect x="475.7" y="348.9" width="1.5" height="1.2" fill="#70c874"/><rect x="479.7" y="367.3" width="1.5" height="1.2" fill="#9cc4ff"/><rect x="464.7" y="393.6" width="1.5" height="1.2" fill="#64b868"/><rect x="470.4" y="396.9" width="1.5" height="1.2" fill="#9cc4ff"/><rect x="465.1" y="356.5" width="1.5" height="1.2" fill="#7cd480"/><rect x="466.3" y="360.5" width="1.5" height="1.2" fill="#9cc4ff"/><rect x="469.9" y="367.1" width="1.5" height="1.2" fill="#64b868"/><rect x="476.9" y="352.0" width="1.5" height="1.2" fill="#64b868"/><rect x="478.2" y="347.7" width="1.5" height="1.2" fill="#70c874"/><rect x="467.7" y="376.8" width="1.5" height="1.2" fill="#64b868"/><rect x="479.2" y="366.2" width="1.5" height="1.2" fill="#70c874"/><rect x="469.4" y="364.8" width="1.5" height="1.2" fill="#7cd480"/><rect x="477.2" y="383.8" width="1.5" height="1.2" fill="#64b868"/><rect x="480.4" y="355.3" width="1.5" height="1.2" fill="#70c874"/><rect x="465.7" y="382.2" width="1.5" height="1.2" fill="#9cc4ff"/><rect x="464.9" y="390.7" width="1.5" height="1.2" fill="#64b868"/><rect x="477.7" y="373.3" width="1.5" height="1.2" fill="#9cc4ff"/><rect x="466.7" y="405.3" width="1.5" height="1.2" fill="#70c874"/><rect x="477.3" y="365.9" width="1.5" height="1.2" fill="#7cd480"/><rect x="466.5" y="390.2" width="1.5" height="1.2" fill="#7cd480"/><rect x="474.5" y="393.6" width="1.5" height="1.2" fill="#70c874"/><rect x="467.1" y="368.2" width="1.5" height="1.2" fill="#70c874"/><rect x="478.0" y="363.4" width="1.5" height="1.2" fill="#9cc4ff"/><rect x="479.2" y="383.4" width="1.5" height="1.2" fill="#7cd480"/><rect x="480.1" y="373.2" width="1.5" height="1.2" fill="#9cc4ff"/><rect x="475.5" y="364.8" width="1.5" height="1.2" fill="#64b868"/><rect x="469.1" y="370.1" width="1.5" height="1.2" fill="#7cd480"/><rect x="466.2" y="395.7" width="1.5" height="1.2" fill="#7cd480"/><rect x="474.5" y="376.0" width="1.5" height="1.2" fill="#64b868"/><rect x="467.3" y="375.5" width="1.5" height="1.2" fill="#64b868"/><rect x="465.4" y="394.1" width="1.5" height="1.2" fill="#64b868"/><rect x="475.6" y="386.0" width="1.5" height="1.2" fill="#64b868"/><rect x="470.2" y="388.5" width="1.5" height="1.2" fill="#64b868"/><rect x="477.8" y="361.6" width="1.5" height="1.2" fill="#64b868"/><rect x="479.8" y="366.2" width="1.5" height="1.2" fill="#7cd480"/><rect x="473.7" y="346.1" width="1.5" height="1.2" fill="#64b868"/><rect x="469.6" y="362.2" width="1.5" height="1.2" fill="#64b868"/><rect x="477.5" y="385.0" width="1.5" height="1.2" fill="#64b868"/><rect x="470.0" y="384.8" width="1.5" height="1.2" fill="#9cc4ff"/><rect x="470.0" y="397.0" width="1.5" height="1.2" fill="#9cc4ff"/><rect x="480.1" y="403.9" width="1.5" height="1.2" fill="#7cd480"/><rect x="472.9" y="355.6" width="1.5" height="1.2" fill="#64b868"/><rect x="479.5" y="374.6" width="1.5" height="1.2" fill="#70c874"/><rect x="476.0" y="390.1" width="1.5" height="1.2" fill="#7cd480"/><rect x="474.3" y="402.7" width="1.5" height="1.2" fill="#9cc4ff"/><rect x="469.2" y="379.3" width="1.5" height="1.2" fill="#64b868"/><rect x="476.0" y="347.1" width="1.5" height="1.2" fill="#7cd480"/><rect x="473.8" y="383.6" width="1.5" height="1.2" fill="#7cd480"/><rect x="467.9" y="387.4" width="1.5" height="1.2" fill="#70c874"/><rect x="480.3" y="405.3" width="1.5" height="1.2" fill="#7cd480"/><rect x="465.2" y="353.6" width="1.5" height="1.2" fill="#64b868"/><rect x="416.9" y="396.8" width="1.5" height="1.2" fill="#64b868"/><rect x="409.9" y="396.2" width="1.5" height="1.2" fill="#7cd480"/><rect x="414.6" y="382.3" width="1.5" height="1.2" fill="#70c874"/><rect x="411.4" y="411.7" width="1.5" height="1.2" fill="#70c874"/><rect x="412.3" y="413.5" width="1.5" height="1.2" fill="#7cd480"/><rect x="416.1" y="404.2" width="1.5" height="1.2" fill="#64b868"/><rect x="412.4" y="381.0" width="1.5" height="1.2" fill="#64b868"/><rect x="411.9" y="390.2" width="1.5" height="1.2" fill="#64b868"/><rect x="412.2" y="400.3" width="1.5" height="1.2" fill="#7cd480"/><rect x="415.8" y="394.6" width="1.5" height="1.2" fill="#64b868"/><rect x="414.5" y="392.8" width="1.5" height="1.2" fill="#70c874"/><rect x="410.8" y="393.3" width="1.5" height="1.2" fill="#7cd480"/><rect x="416.8" y="414.0" width="1.5" height="1.2" fill="#64b868"/><rect x="410.3" y="408.8" width="1.5" height="1.2" fill="#64b868"/><rect x="409.6" y="383.6" width="1.5" height="1.2" fill="#64b868"/><rect x="416.5" y="398.9" width="1.5" height="1.2" fill="#7cd480"/><rect x="414.4" y="411.3" width="1.5" height="1.2" fill="#7cd480"/><rect x="412.9" y="414.3" width="1.5" height="1.2" fill="#7cd480"/><rect x="411.8" y="414.2" width="1.5" height="1.2" fill="#7cd480"/><rect x="412.5" y="410.0" width="1.5" height="1.2" fill="#70c874"/><rect x="414.1" y="389.0" width="1.5" height="1.2" fill="#7cd480"/><rect x="413.4" y="394.5" width="1.5" height="1.2" fill="#7cd480"/><rect x="446.9" y="373.1" width="1.5" height="1.2" fill="#64b868"/><rect x="442.6" y="359.4" width="1.5" height="1.2" fill="#9cc4ff"/><rect x="443.2" y="360.2" width="1.5" height="1.2" fill="#7cd480"/><rect x="446.3" y="358.9" width="1.5" height="1.2" fill="#64b868"/><rect x="443.1" y="381.2" width="1.5" height="1.2" fill="#70c874"/><rect x="443.2" y="371.2" width="1.5" height="1.2" fill="#7cd480"/><rect x="445.7" y="372.1" width="1.5" height="1.2" fill="#9cc4ff"/><rect x="445.1" y="381.2" width="1.5" height="1.2" fill="#70c874"/><rect x="441.9" y="364.4" width="1.5" height="1.2" fill="#64b868"/><rect x="444.7" y="374.5" width="1.5" height="1.2" fill="#64b868"/><rect x="445.8" y="359.6" width="1.5" height="1.2" fill="#64b868"/><rect x="443.8" y="394.3" width="1.5" height="1.2" fill="#7cd480"/><rect x="442.0" y="370.5" width="1.5" height="1.2" fill="#9cc4ff"/><rect x="445.5" y="363.5" width="1.5" height="1.2" fill="#7cd480"/><rect x="441.9" y="395.9" width="1.5" height="1.2" fill="#9cc4ff"/><rect x="445.0" y="391.6" width="1.5" height="1.2" fill="#9cc4ff"/><rect x="480.0" y="435.4" width="1.5" height="1.2" fill="#7cd480"/><rect x="468.0" y="435.6" width="1.5" height="1.2" fill="#70c874"/><rect x="481.1" y="427.3" width="1.5" height="1.2" fill="#70c874"/><rect x="465.8" y="417.4" width="1.5" height="1.2" fill="#7cd480"/><rect x="472.9" y="431.2" width="1.5" height="1.2" fill="#7cd480"/><rect x="481.4" y="420.4" width="1.5" height="1.2" fill="#7cd480"/><rect x="475.8" y="436.4" width="1.5" height="1.2" fill="#7cd480"/><rect x="471.8" y="426.5" width="1.5" height="1.2" fill="#64b868"/><rect x="478.8" y="418.8" width="1.5" height="1.2" fill="#70c874"/><rect x="464.8" y="419.1" width="1.5" height="1.2" fill="#70c874"/><rect x="475.0" y="417.9" width="1.5" height="1.2" fill="#64b868"/><rect x="469.0" y="418.8" width="1.5" height="1.2" fill="#7cd480"/><rect x="476.0" y="418.4" width="1.5" height="1.2" fill="#70c874"/><rect x="463.6" y="431.2" width="1.5" height="1.2" fill="#70c874"/><rect x="476.3" y="420.2" width="1.5" height="1.2" fill="#7cd480"/><rect x="476.1" y="426.7" width="1.5" height="1.2" fill="#70c874"/><rect x="473.7" y="426.2" width="1.5" height="1.2" fill="#70c874"/><rect x="459.7" y="421.9" width="1.5" height="1.2" fill="#64b868"/><rect x="460.7" y="425.5" width="1.5" height="1.2" fill="#70c874"/><rect x="465.1" y="429.6" width="1.5" height="1.2" fill="#70c874"/><rect x="477.1" y="436.2" width="1.5" height="1.2" fill="#70c874"/><rect x="458.2" y="419.3" width="1.5" height="1.2" fill="#64b868"/><rect x="442.5" y="407.4" width="1.5" height="1.2" fill="#64b868"/><rect x="438.6" y="395.3" width="1.5" height="1.2" fill="#64b868"/><rect x="437.2" y="409.6" width="1.5" height="1.2" fill="#64b868"/><rect x="440.9" y="419.1" width="1.5" height="1.2" fill="#64b868"/><rect x="441.6" y="399.9" width="1.5" height="1.2" fill="#70c874"/><rect x="441.6" y="400.8" width="1.5" height="1.2" fill="#7cd480"/><rect x="441.1" y="397.4" width="1.5" height="1.2" fill="#70c874"/><rect x="447.0" y="406.4" width="1.5" height="1.2" fill="#7cd480"/><rect x="435.3" y="413.6" width="1.5" height="1.2" fill="#64b868"/><rect x="438.0" y="409.7" width="1.5" height="1.2" fill="#70c874"/><rect x="433.7" y="397.2" width="1.5" height="1.2" fill="#64b868"/><rect x="440.0" y="404.6" width="1.5" height="1.2" fill="#7cd480"/><rect x="440.4" y="402.7" width="1.5" height="1.2" fill="#64b868"/><rect x="432.7" y="413.9" width="1.5" height="1.2" fill="#70c874"/><rect x="462.1" y="464.1" width="1.5" height="1.2" fill="#7cd480"/><rect x="457.3" y="444.8" width="1.5" height="1.2" fill="#70c874"/><rect x="440.0" y="463.2" width="1.5" height="1.2" fill="#7cd480"/><rect x="461.3" y="442.5" width="1.5" height="1.2" fill="#64b868"/><rect x="448.4" y="461.2" width="1.5" height="1.2" fill="#7cd480"/><rect x="447.2" y="455.2" width="1.5" height="1.2" fill="#7cd480"/><rect x="460.6" y="448.9" width="1.5" height="1.2" fill="#64b868"/><rect x="461.6" y="456.2" width="1.5" height="1.2" fill="#64b868"/><rect x="450.1" y="461.6" width="1.5" height="1.2" fill="#64b868"/><rect x="438.6" y="465.4" width="1.5" height="1.2" fill="#70c874"/><rect x="459.0" y="449.4" width="1.5" height="1.2" fill="#70c874"/><rect x="438.6" y="443.8" width="1.5" height="1.2" fill="#70c874"/><rect x="333.0" y="430.0" width="3.1" height="3.1" fill="#3c4cff"/><rect x="337.0" y="431.5" width="2.5" height="2.5" fill="#84bcff"/><rect x="351.8" y="424.8" width="3.4" height="3.4" fill="#84bcff"/><rect x="354.6" y="431.6" width="2.8" height="2.8" fill="#4468ff"/><rect x="357.7" y="438.2" width="2.5" height="2.5" fill="#84bcff"/><rect x="342.0" y="442.0" width="2.0" height="2.0" fill="#3c4cff"/><rect x="379.4" y="468.4" width="2.1" height="2.1" fill="#84bcff"/></g>
<line x1="87.80" y1="40.9" x2="87.80" y2="548.8" stroke="#000" stroke-width="1.35" stroke-dasharray="3.1 5.17" fill="none"/>
<line x1="166.52" y1="40.9" x2="166.52" y2="548.8" stroke="#000" stroke-width="1.35" stroke-dasharray="3.1 5.17" fill="none"/>
<line x1="245.24" y1="40.9" x2="245.24" y2="548.8" stroke="#000" stroke-width="1.35" stroke-dasharray="3.1 5.17" fill="none"/>
<line x1="323.96" y1="40.9" x2="323.96" y2="548.8" stroke="#000" stroke-width="1.35" stroke-dasharray="3.1 5.17" fill="none"/>
<line x1="402.68" y1="40.9" x2="402.68" y2="548.8" stroke="#000" stroke-width="1.35" stroke-dasharray="3.1 5.17" fill="none"/>
<line x1="481.40" y1="40.9" x2="481.40" y2="548.8" stroke="#000" stroke-width="1.35" stroke-dasharray="3.1 5.17" fill="none"/>
<line x1="12.9" y1="486.10" x2="486.0" y2="486.10" stroke="#000" stroke-width="1.35" stroke-dasharray="3.1 5.17" fill="none"/>
<line x1="12.9" y1="401.40" x2="486.0" y2="401.40" stroke="#000" stroke-width="1.35" stroke-dasharray="3.1 5.17" fill="none"/>
<line x1="12.9" y1="316.70" x2="486.0" y2="316.70" stroke="#000" stroke-width="1.35" stroke-dasharray="3.1 5.17" fill="none"/>
<line x1="12.9" y1="232.00" x2="486.0" y2="232.00" stroke="#000" stroke-width="1.35" stroke-dasharray="3.1 5.17" fill="none"/>
<line x1="12.9" y1="147.30" x2="486.0" y2="147.30" stroke="#000" stroke-width="1.35" stroke-dasharray="3.1 5.17" fill="none"/>
<line x1="12.9" y1="62.60" x2="486.0" y2="62.60" stroke="#000" stroke-width="1.35" stroke-dasharray="3.1 5.17" fill="none"/>
<text x="87.60" y="294.9" font-size="12.2" text-anchor="middle" font-family="Liberation Sans, Arial, Helvetica, sans-serif">84</text>
<text x="166.32" y="294.9" font-size="12.2" text-anchor="middle" font-family="Liberation Sans, Arial, Helvetica, sans-serif">86</text>
<text x="245.04" y="294.9" font-size="12.2" text-anchor="middle" font-family="Liberation Sans, Arial, Helvetica, sans-serif">88</text>
<text x="323.76" y="294.9" font-size="12.2" text-anchor="middle" font-family="Liberation Sans, Arial, Helvetica, sans-serif">90</text>
<text x="402.48" y="294.9" font-size="12.2" text-anchor="middle" font-family="Liberation Sans, Arial, Helvetica, sans-serif">92</text>
<text x="481.20" y="294.9" font-size="12.2" text-anchor="middle" font-family="Liberation Sans, Arial, Helvetica, sans-serif">94</text>
<text x="258.6" y="486.40" font-size="12.2" font-family="Liberation Sans, Arial, Helvetica, sans-serif">14</text>
<text x="258.6" y="401.70" font-size="12.2" font-family="Liberation Sans, Arial, Helvetica, sans-serif">16</text>
<text x="258.6" y="317.00" font-size="12.2" font-family="Liberation Sans, Arial, Helvetica, sans-serif">18</text>
<text x="258.6" y="232.30" font-size="12.2" font-family="Liberation Sans, Arial, Helvetica, sans-serif">20</text>
<text x="258.6" y="147.60" font-size="12.2" font-family="Liberation Sans, Arial, Helvetica, sans-serif">22</text>
<text x="258.6" y="62.90" font-size="12.2" font-family="Liberation Sans, Arial, Helvetica, sans-serif">24</text>
<g clip-path="url(#plotclip)"><path d="M179.9 548.2 L199.9 533.2 L219.9 518.2 L239.9 503.4 L259.9 488.7 L279.9 474.0 L299.9 459.5 L319.9 445.0 L339.9 430.7 L359.9 416.4 L379.9 402.3 L399.9 388.2 L419.9 374.3 L439.9 360.4 L459.9 346.6 L479.9 333.0" stroke="#000" stroke-width="1.0" stroke-dasharray="11.75 11.75" fill="none"/><line x1="333.5" y1="548.2" x2="492" y2="435.8" stroke="#000" stroke-width="1.0" stroke-dasharray="11.75 11.75" fill="none"/></g>
<path d="M13.0 381.6 L16.9 379.8 L20.3 377.3 L22.6 371.7 L23.7 367.1 L23.5 362.6 L23.4 366.5 L20.3 364.9 L19.4 361.5 L20.3 357.0 L24.3 352.5 L29.9 347.9 L37.3 344.3 L45.2 341.2 L50.8 337.5 L55.9 335.0 L57.6 331.6 L59.9 328.7 L63.2 327.0 L65.5 323.7 L67.8 319.7 L72.3 315.0 L79.1 310.1 L87.0 306.7 L92.0 304.1 L93.7 301.1 L98.8 295.4 L105.0 289.8 L111.2 280.7 L115.8 275.1 L118.0 270.6 L117.4 268.7 L119.7 267.8 L124.2 263.2 L133.3 255.3 L141.2 249.1 L150.2 244.6 L158.1 241.8 L167.1 239.3 L176.2 236.1 L181.4 232.3 L176.5 229.5 L172.3 226.3 L177.0 230.3 L181.4 232.3 L186.1 224.5 L189.0 222.2 L195.2 218.8 L197.4 215.4 L195.2 214.3 L195.7 211.5 L199.7 207.5 L206.5 203.4 L203.6 201.3 L204.2 197.9 L201.9 196.8 L203.6 195.7 L200.8 187.8 L199.4 182.1 L200.8 177.6 L204.8 172.5 L209.9 168.4 L217.8 165.8 L229.1 162.9 L235.8 160.4 L241.5 156.7 L246.0 151.6 L249.4 146.0 L252.2 141.5 L249.4 139.2 L245.4 137.0 L243.7 133.6 L242.4 130.2 L244.4 134.5 L245.4 135.8 L252.2 140.3 L253.0 143.7 L251.6 148.2 L253.3 155.0 L252.2 160.7 L256.7 165.2 L257.8 161.2 L256.2 157.8 L261.2 160.1 L262.9 162.9 L264.1 155.0 L265.8 151.6 L266.9 158.4 L264.6 166.9 L268.6 162.9 L269.7 156.2 L268.6 151.6 L270.3 147.1 L272.5 143.7 L275.4 142.6 L272.5 147.1 L272.0 151.6 L274.2 158.4 L273.7 165.8 L277.6 161.2 L279.9 162.9 L285.0 164.1 L288.3 162.9 L285.5 155.0 L282.1 149.4 L285.5 150.5 L287.2 143.2 L288.3 148.2 L290.0 155.0 L292.9 156.7 L294.0 161.2 L296.2 161.2 L297.9 155.0 L299.6 159.0 L302.5 157.3 L304.1 151.6 L305.6 143.7 L303.8 137.0 L306.4 143.7 L308.7 133.6 L307.5 143.7 L306.4 151.6 L307.0 158.4 L309.8 159.0 L310.9 153.9 L318.3 152.8 L319.4 146.0 L318.8 139.2 L319.4 131.3 L323.9 126.8 L321.1 131.3 L321.1 140.3 L324.5 146.0 L327.9 144.9 L325.6 149.4 L325.6 153.3 L327.9 152.8 L329.6 155.6 L332.9 155.0 L335.8 149.9 L336.9 146.0 L340.8 143.2 L345.4 139.2 L348.2 132.4 L348.7 127.7 L345.0 121.4 L344.1 116.8 L341.4 115.0 L340.5 112.3 L347.8 111.9 L349.6 109.2 L339.6 104.2 L344.6 98.8 L345.0 90.6 L331.9 85.7 L330.6 87.0 L327.9 79.8 L322.5 81.2 L316.1 74.4 L304.4 72.1 L293.6 66.3 M293.6 66.3 L303.5 70.3 L311.6 69.4 L312.5 65.8 L314.3 68.1 L317.0 73.5 L322.5 77.1 L327.9 78.9 L331.5 83.4 L337.8 85.7 L343.2 87.0 L346.4 85.7 L346.8 81.6 L343.2 80.7 L347.0 81.2 L348.7 84.3 L348.2 88.8 L349.6 94.3 L347.3 98.8 L347.8 102.4 L352.3 108.7 L358.6 110.5 L364.5 113.2 L370.3 113.2 L375.8 114.1 L377.6 112.3 L377.1 109.6 L378.9 112.8 L380.3 109.6 L382.5 109.6 L381.6 113.7 L386.6 118.7 L392.0 127.7 L394.3 134.9 L396.5 135.4 L396.1 140.3 L398.3 147.6 L400.1 156.6 L403.3 162.0 L401.5 169.2 L404.9 178.1 L405.5 183.4 L410.5 189.9 L413.3 198.0 L416.1 198.9 L410.8 183.4 L416.7 198.0 L417.6 202.3 L421.1 204.5 L424.8 209.8 L428.5 214.1 L430.1 219.1 L431.6 219.1 L432.2 214.7 L431.3 209.8 L428.8 203.5 L432.9 211.6 L436.0 212.9 L436.9 216.0 L440.3 218.1 L436.3 219.7 L432.9 223.4 L436.3 226.5 L438.8 225.3 L440.9 219.7 L444.7 209.4 L442.8 219.7 L446.2 214.4 L443.4 222.8 L446.5 224.7 L443.4 225.9 L441.2 227.8 L444.0 232.7 L447.5 239.3 L447.8 235.8 L446.5 233.4 L448.7 234.0 L451.5 238.3 L448.1 232.1 L447.8 229.9 L452.1 229.9 L455.2 228.1 L460.2 234.0 L462.0 232.7 L464.5 237.1 L467.6 235.8 L470.7 235.8 L467.0 238.3 L466.4 242.7 L470.1 242.7 L471.4 245.2 L473.9 243.9 L473.2 247.6 L471.2 248.6 L477.4 252.4 L481.0 256.7 L481.5 258.5 L477.4 263.5 L484.7 258.1 L484.2 264.4 L482.8 267.1 L484.2 270.7 L484.0 276.1 L483.5 280.7 L485.8 281.3 M461.2 256.7 L465.7 256.7 L467.0 259.9 L472.5 263.7 L477.0 263.3 L478.8 267.1 L479.7 270.7 L481.5 274.3 L480.1 277.9 L478.3 279.5 L475.2 277.9 L470.2 273.9 L466.1 268.0 L461.6 261.2 L461.2 256.7 M131.6 252.5 L133.8 247.4 L136.1 243.5 L141.2 239.5 L145.7 236.7 L149.6 237.3 L149.6 242.3 L145.7 245.2 L136.6 246.5 L135.0 251.4 L131.6 252.5 M140.0 249.5 L143.5 246.8 L147.5 244.3 L146.0 246.2" fill="none" stroke="#000" stroke-width="1.3" stroke-linejoin="round"/><path d="M480.1 261.2 L484.7 258.1 L484.2 264.8 L481.9 267.1Z" fill="#000" stroke="#000" stroke-width="0.8"/>
<path d="M243.0 294.4h12.8M249.4 288.0v12.8" stroke="#000" stroke-width="4.4" fill="none"/>

<text x="37.9" y="66.0" font-size="24.8" textLength="365.2" lengthAdjust="spacingAndGlyphs" font-family="Liberation Sans, Arial, Helvetica, sans-serif">PR near surface reflectivity (dBZ)</text>
<text x="438.5" y="523.3" font-size="31" font-family="Liberation Sans, Arial, Helvetica, sans-serif">(a)</text>
<rect x="495.0" y="531.67" width="9.0" height="8.77" fill="#f6f6f6"/>
<rect x="495.0" y="523.20" width="9.0" height="8.77" fill="#eeeeee"/>
<rect x="495.0" y="514.73" width="9.0" height="8.77" fill="#e6e6e6"/>
<rect x="495.0" y="506.27" width="9.0" height="8.77" fill="#dedede"/>
<rect x="495.0" y="497.80" width="9.0" height="8.77" fill="#d6d5d5"/>
<rect x="495.0" y="489.33" width="9.0" height="8.77" fill="#cecdcd"/>
<rect x="495.0" y="480.87" width="9.0" height="8.77" fill="#c6c5c5"/>
<rect x="495.0" y="472.40" width="9.0" height="8.77" fill="#bebdbd"/>
<rect x="495.0" y="463.93" width="9.0" height="8.77" fill="#b6b5b5"/>
<rect x="495.0" y="455.47" width="9.0" height="8.77" fill="#aeadad"/>
<rect x="495.0" y="447.00" width="9.0" height="8.77" fill="#a6a4a4"/>
<rect x="495.0" y="438.53" width="9.0" height="8.77" fill="#9e9c9c"/>
<rect x="495.0" y="430.07" width="9.0" height="8.77" fill="#969494"/>
<rect x="495.0" y="421.60" width="9.0" height="8.77" fill="#8e8c8c"/>
<rect x="495.0" y="413.13" width="9.0" height="8.77" fill="#84dc88"/>
<rect x="495.0" y="404.67" width="9.0" height="8.77" fill="#7cd380"/>
<rect x="495.0" y="396.20" width="9.0" height="8.77" fill="#74ca78"/>
<rect x="495.0" y="387.73" width="9.0" height="8.77" fill="#6cc170"/>
<rect x="495.0" y="379.27" width="9.0" height="8.77" fill="#64b868"/>
<rect x="495.0" y="370.80" width="9.0" height="8.77" fill="#ccd4fc"/>
<rect x="495.0" y="362.33" width="9.0" height="8.77" fill="#b4ccff"/>
<rect x="495.0" y="353.87" width="9.0" height="8.77" fill="#9cc4ff"/>
<rect x="495.0" y="345.40" width="9.0" height="8.77" fill="#84bcff"/>
<rect x="495.0" y="336.93" width="9.0" height="8.77" fill="#6cb4ff"/>
<rect x="495.0" y="328.47" width="9.0" height="8.77" fill="#54acff"/>
<rect x="495.0" y="320.00" width="9.0" height="8.77" fill="#4c88ff"/>
<rect x="495.0" y="311.53" width="9.0" height="8.77" fill="#4468ff"/>
<rect x="495.0" y="303.07" width="9.0" height="8.77" fill="#3c4cff"/>
<rect x="495.0" y="294.60" width="9.0" height="8.77" fill="#3030ff"/>
<rect x="495.0" y="286.13" width="9.0" height="8.77" fill="#0000ff"/>
<rect x="495.0" y="277.67" width="9.0" height="8.77" fill="#0000f4"/>
<rect x="495.0" y="269.20" width="9.0" height="8.77" fill="#0000e6"/>
<rect x="495.0" y="260.73" width="9.0" height="8.77" fill="#0000d8"/>
<rect x="495.0" y="252.27" width="9.0" height="8.77" fill="#0808c8"/>
<rect x="495.0" y="243.80" width="9.0" height="8.77" fill="#ffff00"/>
<rect x="495.0" y="235.33" width="9.0" height="8.77" fill="#fff300"/>
<rect x="495.0" y="226.87" width="9.0" height="8.77" fill="#ffe800"/>
<rect x="495.0" y="218.40" width="9.0" height="8.77" fill="#ffdc00"/>
<rect x="495.0" y="209.93" width="9.0" height="8.77" fill="#ffd000"/>
<rect x="495.0" y="201.47" width="9.0" height="8.77" fill="#ff9000"/>
<rect x="495.0" y="193.00" width="9.0" height="8.77" fill="#ff8800"/>
<rect x="495.0" y="184.53" width="9.0" height="8.77" fill="#ff8000"/>
<rect x="495.0" y="176.07" width="9.0" height="8.77" fill="#ff7800"/>
<rect x="495.0" y="167.60" width="9.0" height="8.77" fill="#ff7000"/>
<rect x="495.0" y="159.13" width="9.0" height="8.77" fill="#ff4400"/>
<rect x="495.0" y="150.67" width="9.0" height="8.77" fill="#ff3800"/>
<rect x="495.0" y="142.20" width="9.0" height="8.77" fill="#ff2c00"/>
<rect x="495.0" y="133.73" width="9.0" height="8.77" fill="#ff2000"/>
<rect x="495.0" y="125.27" width="9.0" height="8.77" fill="#ff1400"/>
<rect x="495.0" y="116.80" width="9.0" height="8.77" fill="#c80000"/>
<rect x="495.0" y="108.33" width="9.0" height="8.77" fill="#be0300"/>
<rect x="495.0" y="99.87" width="9.0" height="8.77" fill="#b40600"/>
<rect x="495.0" y="91.40" width="9.0" height="8.77" fill="#aa0900"/>
<rect x="495.0" y="82.93" width="9.0" height="8.77" fill="#a00c00"/>
<rect x="495.0" y="74.47" width="9.0" height="8.77" fill="#620e06"/>
<rect x="495.0" y="66.00" width="9.0" height="8.77" fill="#60110a"/>
<rect x="495.0" y="57.53" width="9.0" height="8.77" fill="#5e140f"/>
<rect x="495.0" y="49.07" width="9.0" height="8.77" fill="#5c1714"/>
<rect x="495.0" y="40.60" width="9.0" height="8.77" fill="#5a1a18"/>
<line x1="504.0" y1="548.60" x2="506.0" y2="548.60" stroke="#222" stroke-width="0.9"/>
<text x="524.0" y="557.20" font-size="19.2" text-anchor="middle" font-family="Liberation Sans, Arial, Helvetica, sans-serif">0</text>
<line x1="504.0" y1="497.80" x2="506.0" y2="497.80" stroke="#222" stroke-width="0.9"/>
<text x="524.0" y="506.40" font-size="19.2" text-anchor="middle" font-family="Liberation Sans, Arial, Helvetica, sans-serif">6</text>
<line x1="504.0" y1="447.00" x2="506.0" y2="447.00" stroke="#222" stroke-width="0.9"/>
<text x="524.0" y="455.60" font-size="19.2" text-anchor="middle" font-family="Liberation Sans, Arial, Helvetica, sans-serif">12</text>
<line x1="504.0" y1="396.20" x2="506.0" y2="396.20" stroke="#222" stroke-width="0.9"/>
<text x="524.0" y="404.80" font-size="19.2" text-anchor="middle" font-family="Liberation Sans, Arial, Helvetica, sans-serif">18</text>
<line x1="504.0" y1="345.40" x2="506.0" y2="345.40" stroke="#222" stroke-width="0.9"/>
<text x="524.0" y="354.00" font-size="19.2" text-anchor="middle" font-family="Liberation Sans, Arial, Helvetica, sans-serif">24</text>
<line x1="504.0" y1="294.60" x2="506.0" y2="294.60" stroke="#222" stroke-width="0.9"/>
<text x="524.0" y="303.20" font-size="19.2" text-anchor="middle" font-family="Liberation Sans, Arial, Helvetica, sans-serif">30</text>
<line x1="504.0" y1="243.80" x2="506.0" y2="243.80" stroke="#222" stroke-width="0.9"/>
<text x="524.0" y="252.40" font-size="19.2" text-anchor="middle" font-family="Liberation Sans, Arial, Helvetica, sans-serif">36</text>
<line x1="504.0" y1="193.00" x2="506.0" y2="193.00" stroke="#222" stroke-width="0.9"/>
<text x="524.0" y="201.60" font-size="19.2" text-anchor="middle" font-family="Liberation Sans, Arial, Helvetica, sans-serif">42</text>
<line x1="504.0" y1="142.20" x2="506.0" y2="142.20" stroke="#222" stroke-width="0.9"/>
<text x="524.0" y="150.80" font-size="19.2" text-anchor="middle" font-family="Liberation Sans, Arial, Helvetica, sans-serif">48</text>
<line x1="504.0" y1="91.40" x2="506.0" y2="91.40" stroke="#222" stroke-width="0.9"/>
<text x="524.0" y="100.00" font-size="19.2" text-anchor="middle" font-family="Liberation Sans, Arial, Helvetica, sans-serif">54</text>
</g>
<g transform="translate(590.75 0.00)">
<g clip-path="url(#plotclip)"><g filter="url(#pb)"><path d="M408.6 381.9 L413.9 378.7 L419.8 373.9 L422.0 378.7 L424.7 385.1 L427.3 388.3 L425.7 393.7 L427.3 398.0 L425.7 403.4 L427.9 408.7 L429.5 416.2 L426.3 420.5 L423.1 420.5 L420.4 416.2 L417.2 413.0 L415.0 408.7 L412.3 403.4 L410.7 399.1 L412.3 392.6 L410.7 387.3Z" fill="#7b7b7b" /><path d="M440.2 364.7 L445.1 360.4 L450.4 352.4 L453.6 356.1 L454.2 365.8 L456.3 372.2 L455.2 379.8 L457.9 387.3 L456.9 394.8 L459.0 401.2 L456.3 404.4 L453.6 406.6 L452.0 402.3 L448.8 395.9 L445.1 391.6 L444.5 385.1 L446.1 378.7 L444.5 372.2 L442.9 366.9Z" fill="#7b7b7b" /><path d="M463.3 344.3 L470.8 337.9 L478.3 332.5 L486.9 327.2 L486.9 417.3 L482.6 420.5 L478.3 423.8 L481.5 430.2 L484.2 436.6 L481.5 438.8 L477.2 437.7 L473.0 432.3 L468.7 427.0 L464.4 421.6 L461.2 416.2 L463.3 413.0 L468.7 418.4 L471.9 413.0 L469.7 409.8 L474.0 406.6 L475.1 401.2 L471.9 399.1 L474.0 391.6 L473.0 385.1 L475.1 378.7 L471.9 373.3 L468.7 370.1 L470.8 363.7 L474.0 357.2 L470.8 352.9 L466.5 347.6Z" fill="#7b7b7b" /><path d="M433.2 392.6 L437.5 390.0 L440.8 393.7 L444.0 399.1 L440.8 401.2 L436.5 400.1 L433.8 396.9Z" fill="#7b7b7b" /><path d="M431.6 403.4 L434.9 403.4 L436.5 407.7 L433.2 409.8 L431.6 406.6Z" fill="#7b7b7b" /><path d="M443.4 404.4 L446.7 405.5 L448.3 410.9 L446.1 413.0 L444.0 409.8Z" fill="#7b7b7b" /><path d="M440.8 414.6 L445.1 413.0 L447.7 416.2 L447.2 420.5 L442.9 420.5 L440.8 417.3Z" fill="#7b7b7b" /><path d="M432.2 418.4 L434.9 417.9 L435.9 420.5 L433.2 421.6Z" fill="#7b7b7b" /><path d="M459.0 416.2 L462.2 415.7 L463.3 420.5 L462.2 425.9 L460.1 423.8Z" fill="#7b7b7b" /><path d="M450.4 424.8 L453.6 423.8 L456.3 427.0 L453.6 430.2 L451.0 428.0Z" fill="#7b7b7b" /><path d="M446.1 439.9 L450.4 438.8 L453.6 434.5 L455.8 436.6 L453.6 442.0 L456.9 446.3 L459.0 440.9 L463.3 440.4 L467.6 445.2 L466.0 448.4 L461.2 447.4 L457.9 449.5 L454.7 453.8 L450.4 454.9 L447.2 449.5 L448.3 445.2Z" fill="#7b7b7b" /><path d="M438.1 456.0 L442.9 454.9 L447.2 453.8 L451.0 457.0 L449.3 463.5 L445.1 466.7 L441.3 466.7 L439.2 462.4Z" fill="#7b7b7b" /><path d="M437.0 444.1 L440.8 443.1 L442.4 448.4 L442.9 452.7 L439.7 453.8 L438.1 449.5Z" fill="#7b7b7b" /><path d="M439.2 438.8 L441.8 438.2 L442.4 441.5 L439.7 442.0Z" fill="#7b7b7b" /><path d="M407.0 428.6 L410.7 427.0 L415.0 426.4 L414.5 428.6 L410.7 431.3 L407.5 432.3Z" fill="#7b7b7b" /><path d="M393.0 432.3 L395.2 431.8 L395.7 434.5 L393.5 435.0Z" fill="#7b7b7b" /><path d="M398.4 434.0 L400.5 433.4 L400.8 436.6 L398.7 436.8Z" fill="#7b7b7b" /><path d="M403.7 449.0 L406.4 447.9 L407.5 450.6 L404.8 451.7Z" fill="#7b7b7b" /><path d="M409.1 459.7 L412.3 458.6 L415.5 463.5 L416.6 468.8 L414.5 473.1 L412.9 467.8 L410.7 463.5Z" fill="#7b7b7b" /><path d="M407.0 480.1 L409.6 479.6 L410.2 482.8 L407.5 483.3Z" fill="#7b7b7b" /><path d="M410.7 485.5 L415.0 484.4 L417.7 488.1 L413.9 488.7Z" fill="#7b7b7b" /><path d="M432.2 471.0 L436.5 468.3 L437.5 471.0 L434.3 477.4 L432.2 476.3Z" fill="#7b7b7b" /><path d="M408.6 442.5 L412.3 442.0 L413.4 444.7 L410.2 445.8Z" fill="#7b7b7b" /><path d="M427.3 394.8 L429.2 394.2 L429.5 396.4 L427.7 396.7Z" fill="#7b7b7b" /><path d="M421.4 378.7 L423.1 385.1 L420.9 392.6 L423.6 400.1 L425.2 408.7 L425.7 416.2" fill="none" stroke="#a4a4a4" stroke-width="5.4" stroke-linecap="round" stroke-linejoin="round"/><path d="M450.4 357.2 L452.0 365.8 L451.0 374.4 L453.6 383.0 L452.6 391.6 L454.7 399.1 L454.2 403.4" fill="none" stroke="#a4a4a4" stroke-width="5.8" stroke-linecap="round" stroke-linejoin="round"/><path d="M482.6 331.5 L484.8 345.4 L483.7 361.5 L485.3 378.7 L482.6 391.6 L481.5 400.1 L478.3 406.6 L474.0 413.0" fill="none" stroke="#a4a4a4" stroke-width="7.0" stroke-linecap="round" stroke-linejoin="round"/><path d="M464.4 419.5 L468.7 424.8 L473.0 430.2 L477.2 435.6" fill="none" stroke="#a4a4a4" stroke-width="5.6" stroke-linecap="round" stroke-linejoin="round"/><path d="M449.3 440.9 L452.6 446.3 L453.6 451.7" fill="none" stroke="#a4a4a4" stroke-width="5.4" stroke-linecap="round" stroke-linejoin="round"/><path d="M461.2 444.1 L464.4 445.8" fill="none" stroke="#a4a4a4" stroke-width="5.0" stroke-linecap="round" stroke-linejoin="round"/><path d="M442.9 460.2 L447.2 459.2" fill="none" stroke="#a4a4a4" stroke-width="5.0" stroke-linecap="round" stroke-linejoin="round"/><path d="M437.0 394.8 L439.7 396.9" fill="none" stroke="#a4a4a4" stroke-width="4.6" stroke-linecap="round" stroke-linejoin="round"/><path d="M444.5 416.2 L446.1 418.4" fill="none" stroke="#a4a4a4" stroke-width="4.6" stroke-linecap="round" stroke-linejoin="round"/><path d="M460.6 418.4 L461.7 422.7" fill="none" stroke="#a4a4a4" stroke-width="4.6" stroke-linecap="round" stroke-linejoin="round"/><path d="M410.7 462.4 L414.5 467.8" fill="none" stroke="#a4a4a4" stroke-width="4.6" stroke-linecap="round" stroke-linejoin="round"/><path d="M409.1 429.1 L412.3 428.0" fill="none" stroke="#a4a4a4" stroke-width="4.4" stroke-linecap="round" stroke-linejoin="round"/><path d="M434.3 472.0 L435.4 474.2" fill="none" stroke="#a4a4a4" stroke-width="4.4" stroke-linecap="round" stroke-linejoin="round"/><path d="M415.0 391.6 L418.2 395.9 L416.6 400.1" fill="none" stroke="#a4a4a4" stroke-width="4.6" stroke-linecap="round" stroke-linejoin="round"/><path d="M421.4 378.7 L423.1 385.1 L420.9 392.6 L423.6 400.1 L425.2 408.7 L425.7 416.2" fill="none" stroke="#bbbbbb" stroke-width="2.4" stroke-linecap="round" stroke-linejoin="round"/><path d="M450.4 357.2 L452.0 365.8 L451.0 374.4 L453.6 383.0 L452.6 391.6 L454.7 399.1 L454.2 403.4" fill="none" stroke="#bbbbbb" stroke-width="2.7" stroke-linecap="round" stroke-linejoin="round"/><path d="M482.6 331.5 L484.8 345.4 L483.7 361.5 L485.3 378.7 L482.6 391.6 L481.5 400.1 L478.3 406.6 L474.0 413.0" fill="none" stroke="#bbbbbb" stroke-width="3.5" stroke-linecap="round" stroke-linejoin="round"/><path d="M464.4 419.5 L468.7 424.8 L473.0 430.2 L477.2 435.6" fill="none" stroke="#bbbbbb" stroke-width="2.5" stroke-linecap="round" stroke-linejoin="round"/><path d="M449.3 440.9 L452.6 446.3 L453.6 451.7" fill="none" stroke="#bbbbbb" stroke-width="2.4" stroke-linecap="round" stroke-linejoin="round"/><path d="M461.2 444.1 L464.4 445.8" fill="none" stroke="#bbbbbb" stroke-width="2.1" stroke-linecap="round" stroke-linejoin="round"/><path d="M442.9 460.2 L447.2 459.2" fill="none" stroke="#bbbbbb" stroke-width="2.1" stroke-linecap="round" stroke-linejoin="round"/><path d="M437.0 394.8 L439.7 396.9" fill="none" stroke="#bbbbbb" stroke-width="1.8" stroke-linecap="round" stroke-linejoin="round"/><path d="M444.5 416.2 L446.1 418.4" fill="none" stroke="#bbbbbb" stroke-width="1.8" stroke-linecap="round" stroke-linejoin="round"/><path d="M460.6 418.4 L461.7 422.7" fill="none" stroke="#bbbbbb" stroke-width="1.8" stroke-linecap="round" stroke-linejoin="round"/><path d="M410.7 462.4 L414.5 467.8" fill="none" stroke="#bbbbbb" stroke-width="1.8" stroke-linecap="round" stroke-linejoin="round"/><path d="M409.1 429.1 L412.3 428.0" fill="none" stroke="#bbbbbb" stroke-width="1.7" stroke-linecap="round" stroke-linejoin="round"/><path d="M434.3 472.0 L435.4 474.2" fill="none" stroke="#bbbbbb" stroke-width="1.7" stroke-linecap="round" stroke-linejoin="round"/><path d="M415.0 391.6 L418.2 395.9 L416.6 400.1" fill="none" stroke="#bbbbbb" stroke-width="1.8" stroke-linecap="round" stroke-linejoin="round"/><path d="M467.6 363.7 C468.5 361.7 472.8 361.5 474.0 362.6 C475.3 363.7 475.1 367.4 475.1 370.1 C475.1 372.8 475.1 378.0 474.0 378.7 C473.0 379.4 469.7 376.9 468.7 374.4 C467.6 371.9 466.7 365.6 467.6 363.7Z" fill="#626262" /><path d="M475.1 379.8 C475.8 377.6 478.5 377.4 479.4 378.7 C480.3 379.9 481.2 385.1 480.5 387.3 C479.8 389.4 476.0 392.8 475.1 391.6 C474.2 390.3 474.4 381.9 475.1 379.8Z" fill="#646464" /><ellipse cx="482.8" cy="399.1" rx="2.2" ry="3.5" fill="#cecece"/></g><path d="M413.9 380.8 C414.3 379.5 418.2 376.7 419.3 377.1 C420.4 377.4 420.7 381.6 420.4 383.0 C420.0 384.3 418.2 385.5 417.2 385.1 C416.1 384.8 413.6 382.2 413.9 380.8Z" fill="#fff" stroke="#000" stroke-width="1.1"/><path d="M474.0 376.0 C474.5 375.3 476.8 374.1 477.2 374.4 C477.7 374.7 477.2 376.9 476.7 377.6 C476.3 378.3 475.0 379.0 474.6 378.7 C474.1 378.4 473.6 376.7 474.0 376.0Z" fill="#fff" stroke="#000" stroke-width="1.1"/><path d="M476.7 371.2 C477.1 370.6 479.3 369.5 479.9 369.6 C480.6 369.7 480.8 371.1 480.5 371.7 C480.1 372.3 478.4 373.2 477.8 373.1 C477.2 373.0 476.4 371.8 476.7 371.2Z" fill="#fff" stroke="#000" stroke-width="1.1"/><circle cx="334.5" cy="431.5" r="2.2" fill="#3c4cff" stroke="#000" stroke-width="1.1"/><circle cx="338.3" cy="432.8" r="1.8" fill="#3c4cff" stroke="#000" stroke-width="1.1"/><circle cx="353.5" cy="426.5" r="2.4" fill="#3c4cff" stroke="#000" stroke-width="1.1"/><circle cx="356.0" cy="433.0" r="2.0" fill="#3c4cff" stroke="#000" stroke-width="1.1"/><circle cx="359.0" cy="439.5" r="1.8" fill="#3c4cff" stroke="#000" stroke-width="1.1"/><circle cx="343.0" cy="443.0" r="1.4" fill="#3c4cff" stroke="#000" stroke-width="1.1"/><circle cx="380.5" cy="469.5" r="1.5" fill="#3c4cff" stroke="#000" stroke-width="1.1"/></g>
<line x1="87.80" y1="40.9" x2="87.80" y2="548.8" stroke="#000" stroke-width="1.35" stroke-dasharray="3.1 5.17" fill="none"/>
<line x1="166.52" y1="40.9" x2="166.52" y2="548.8" stroke="#000" stroke-width="1.35" stroke-dasharray="3.1 5.17" fill="none"/>
<line x1="245.24" y1="40.9" x2="245.24" y2="548.8" stroke="#000" stroke-width="1.35" stroke-dasharray="3.1 5.17" fill="none"/>
<line x1="323.96" y1="40.9" x2="323.96" y2="548.8" stroke="#000" stroke-width="1.35" stroke-dasharray="3.1 5.17" fill="none"/>
<line x1="402.68" y1="40.9" x2="402.68" y2="548.8" stroke="#000" stroke-width="1.35" stroke-dasharray="3.1 5.17" fill="none"/>
<line x1="481.40" y1="40.9" x2="481.40" y2="548.8" stroke="#000" stroke-width="1.35" stroke-dasharray="3.1 5.17" fill="none"/>
<line x1="12.9" y1="486.10" x2="486.0" y2="486.10" stroke="#000" stroke-width="1.35" stroke-dasharray="3.1 5.17" fill="none"/>
<line x1="12.9" y1="401.40" x2="486.0" y2="401.40" stroke="#000" stroke-width="1.35" stroke-dasharray="3.1 5.17" fill="none"/>
<line x1="12.9" y1="316.70" x2="486.0" y2="316.70" stroke="#000" stroke-width="1.35" stroke-dasharray="3.1 5.17" fill="none"/>
<line x1="12.9" y1="232.00" x2="486.0" y2="232.00" stroke="#000" stroke-width="1.35" stroke-dasharray="3.1 5.17" fill="none"/>
<line x1="12.9" y1="147.30" x2="486.0" y2="147.30" stroke="#000" stroke-width="1.35" stroke-dasharray="3.1 5.17" fill="none"/>
<line x1="12.9" y1="62.60" x2="486.0" y2="62.60" stroke="#000" stroke-width="1.35" stroke-dasharray="3.1 5.17" fill="none"/>
<text x="87.60" y="294.9" font-size="12.2" text-anchor="middle" font-family="Liberation Sans, Arial, Helvetica, sans-serif">84</text>
<text x="166.32" y="294.9" font-size="12.2" text-anchor="middle" font-family="Liberation Sans, Arial, Helvetica, sans-serif">86</text>
<text x="245.04" y="294.9" font-size="12.2" text-anchor="middle" font-family="Liberation Sans, Arial, Helvetica, sans-serif">88</text>
<text x="323.76" y="294.9" font-size="12.2" text-anchor="middle" font-family="Liberation Sans, Arial, Helvetica, sans-serif">90</text>
<text x="402.48" y="294.9" font-size="12.2" text-anchor="middle" font-family="Liberation Sans, Arial, Helvetica, sans-serif">92</text>
<text x="481.20" y="294.9" font-size="12.2" text-anchor="middle" font-family="Liberation Sans, Arial, Helvetica, sans-serif">94</text>
<text x="258.6" y="486.40" font-size="12.2" font-family="Liberation Sans, Arial, Helvetica, sans-serif">14</text>
<text x="258.6" y="401.70" font-size="12.2" font-family="Liberation Sans, Arial, Helvetica, sans-serif">16</text>
<text x="258.6" y="317.00" font-size="12.2" font-family="Liberation Sans, Arial, Helvetica, sans-serif">18</text>
<text x="258.6" y="232.30" font-size="12.2" font-family="Liberation Sans, Arial, Helvetica, sans-serif">20</text>
<text x="258.6" y="147.60" font-size="12.2" font-family="Liberation Sans, Arial, Helvetica, sans-serif">22</text>
<text x="258.6" y="62.90" font-size="12.2" font-family="Liberation Sans, Arial, Helvetica, sans-serif">24</text>
<g clip-path="url(#plotclip)"><path d="M179.9 548.2 L199.9 533.2 L219.9 518.2 L239.9 503.4 L259.9 488.7 L279.9 474.0 L299.9 459.5 L319.9 445.0 L339.9 430.7 L359.9 416.4 L379.9 402.3 L399.9 388.2 L419.9 374.3 L439.9 360.4 L459.9 346.6 L479.9 333.0" stroke="#000" stroke-width="1.0" stroke-dasharray="11.75 11.75" fill="none"/><line x1="333.5" y1="548.2" x2="492" y2="435.8" stroke="#000" stroke-width="1.0" stroke-dasharray="11.75 11.75" fill="none"/></g>
<path d="M13.0 381.6 L16.9 379.8 L20.3 377.3 L22.6 371.7 L23.7 367.1 L23.5 362.6 L23.4 366.5 L20.3 364.9 L19.4 361.5 L20.3 357.0 L24.3 352.5 L29.9 347.9 L37.3 344.3 L45.2 341.2 L50.8 337.5 L55.9 335.0 L57.6 331.6 L59.9 328.7 L63.2 327.0 L65.5 323.7 L67.8 319.7 L72.3 315.0 L79.1 310.1 L87.0 306.7 L92.0 304.1 L93.7 301.1 L98.8 295.4 L105.0 289.8 L111.2 280.7 L115.8 275.1 L118.0 270.6 L117.4 268.7 L119.7 267.8 L124.2 263.2 L133.3 255.3 L141.2 249.1 L150.2 244.6 L158.1 241.8 L167.1 239.3 L176.2 236.1 L181.4 232.3 L176.5 229.5 L172.3 226.3 L177.0 230.3 L181.4 232.3 L186.1 224.5 L189.0 222.2 L195.2 218.8 L197.4 215.4 L195.2 214.3 L195.7 211.5 L199.7 207.5 L206.5 203.4 L203.6 201.3 L204.2 197.9 L201.9 196.8 L203.6 195.7 L200.8 187.8 L199.4 182.1 L200.8 177.6 L204.8 172.5 L209.9 168.4 L217.8 165.8 L229.1 162.9 L235.8 160.4 L241.5 156.7 L246.0 151.6 L249.4 146.0 L252.2 141.5 L249.4 139.2 L245.4 137.0 L243.7 133.6 L242.4 130.2 L244.4 134.5 L245.4 135.8 L252.2 140.3 L253.0 143.7 L251.6 148.2 L253.3 155.0 L252.2 160.7 L256.7 165.2 L257.8 161.2 L256.2 157.8 L261.2 160.1 L262.9 162.9 L264.1 155.0 L265.8 151.6 L266.9 158.4 L264.6 166.9 L268.6 162.9 L269.7 156.2 L268.6 151.6 L270.3 147.1 L272.5 143.7 L275.4 142.6 L272.5 147.1 L272.0 151.6 L274.2 158.4 L273.7 165.8 L277.6 161.2 L279.9 162.9 L285.0 164.1 L288.3 162.9 L285.5 155.0 L282.1 149.4 L285.5 150.5 L287.2 143.2 L288.3 148.2 L290.0 155.0 L292.9 156.7 L294.0 161.2 L296.2 161.2 L297.9 155.0 L299.6 159.0 L302.5 157.3 L304.1 151.6 L305.6 143.7 L303.8 137.0 L306.4 143.7 L308.7 133.6 L307.5 143.7 L306.4 151.6 L307.0 158.4 L309.8 159.0 L310.9 153.9 L318.3 152.8 L319.4 146.0 L318.8 139.2 L319.4 131.3 L323.9 126.8 L321.1 131.3 L321.1 140.3 L324.5 146.0 L327.9 144.9 L325.6 149.4 L325.6 153.3 L327.9 152.8 L329.6 155.6 L332.9 155.0 L335.8 149.9 L336.9 146.0 L340.8 143.2 L345.4 139.2 L348.2 132.4 L348.7 127.7 L345.0 121.4 L344.1 116.8 L341.4 115.0 L340.5 112.3 L347.8 111.9 L349.6 109.2 L339.6 104.2 L344.6 98.8 L345.0 90.6 L331.9 85.7 L330.6 87.0 L327.9 79.8 L322.5 81.2 L316.1 74.4 L304.4 72.1 L293.6 66.3 M293.6 66.3 L303.5 70.3 L311.6 69.4 L312.5 65.8 L314.3 68.1 L317.0 73.5 L322.5 77.1 L327.9 78.9 L331.5 83.4 L337.8 85.7 L343.2 87.0 L346.4 85.7 L346.8 81.6 L343.2 80.7 L347.0 81.2 L348.7 84.3 L348.2 88.8 L349.6 94.3 L347.3 98.8 L347.8 102.4 L352.3 108.7 L358.6 110.5 L364.5 113.2 L370.3 113.2 L375.8 114.1 L377.6 112.3 L377.1 109.6 L378.9 112.8 L380.3 109.6 L382.5 109.6 L381.6 113.7 L386.6 118.7 L392.0 127.7 L394.3 134.9 L396.5 135.4 L396.1 140.3 L398.3 147.6 L400.1 156.6 L403.3 162.0 L401.5 169.2 L404.9 178.1 L405.5 183.4 L410.5 189.9 L413.3 198.0 L416.1 198.9 L410.8 183.4 L416.7 198.0 L417.6 202.3 L421.1 204.5 L424.8 209.8 L428.5 214.1 L430.1 219.1 L431.6 219.1 L432.2 214.7 L431.3 209.8 L428.8 203.5 L432.9 211.6 L436.0 212.9 L436.9 216.0 L440.3 218.1 L436.3 219.7 L432.9 223.4 L436.3 226.5 L438.8 225.3 L440.9 219.7 L444.7 209.4 L442.8 219.7 L446.2 214.4 L443.4 222.8 L446.5 224.7 L443.4 225.9 L441.2 227.8 L444.0 232.7 L447.5 239.3 L447.8 235.8 L446.5 233.4 L448.7 234.0 L451.5 238.3 L448.1 232.1 L447.8 229.9 L452.1 229.9 L455.2 228.1 L460.2 234.0 L462.0 232.7 L464.5 237.1 L467.6 235.8 L470.7 235.8 L467.0 238.3 L466.4 242.7 L470.1 242.7 L471.4 245.2 L473.9 243.9 L473.2 247.6 L471.2 248.6 L477.4 252.4 L481.0 256.7 L481.5 258.5 L477.4 263.5 L484.7 258.1 L484.2 264.4 L482.8 267.1 L484.2 270.7 L484.0 276.1 L483.5 280.7 L485.8 281.3 M461.2 256.7 L465.7 256.7 L467.0 259.9 L472.5 263.7 L477.0 263.3 L478.8 267.1 L479.7 270.7 L481.5 274.3 L480.1 277.9 L478.3 279.5 L475.2 277.9 L470.2 273.9 L466.1 268.0 L461.6 261.2 L461.2 256.7 M131.6 252.5 L133.8 247.4 L136.1 243.5 L141.2 239.5 L145.7 236.7 L149.6 237.3 L149.6 242.3 L145.7 245.2 L136.6 246.5 L135.0 251.4 L131.6 252.5 M140.0 249.5 L143.5 246.8 L147.5 244.3 L146.0 246.2" fill="none" stroke="#000" stroke-width="1.3" stroke-linejoin="round"/><path d="M480.1 261.2 L484.7 258.1 L484.2 264.8 L481.9 267.1Z" fill="#000" stroke="#000" stroke-width="0.8"/>
<path d="M243.0 294.4h12.8M249.4 288.0v12.8" stroke="#000" stroke-width="4.4" fill="none"/>

<text x="37.4" y="66.0" font-size="24.8" textLength="389.5" lengthAdjust="spacingAndGlyphs" font-family="Liberation Sans, Arial, Helvetica, sans-serif">PR max reflectivity projection (dBZ)</text>
<text x="438.5" y="523.3" font-size="31" font-family="Liberation Sans, Arial, Helvetica, sans-serif">(b)</text>
<rect x="495.0" y="531.67" width="9.0" height="8.77" fill="#f6f6f6"/>
<rect x="495.0" y="523.20" width="9.0" height="8.77" fill="#eeeeee"/>
<rect x="495.0" y="514.73" width="9.0" height="8.77" fill="#e6e6e6"/>
<rect x="495.0" y="506.27" width="9.0" height="8.77" fill="#dedede"/>
<rect x="495.0" y="497.80" width="9.0" height="8.77" fill="#d6d5d5"/>
<rect x="495.0" y="489.33" width="9.0" height="8.77" fill="#cecdcd"/>
<rect x="495.0" y="480.87" width="9.0" height="8.77" fill="#c6c5c5"/>
<rect x="495.0" y="472.40" width="9.0" height="8.77" fill="#bebdbd"/>
<rect x="495.0" y="463.93" width="9.0" height="8.77" fill="#b6b5b5"/>
<rect x="495.0" y="455.47" width="9.0" height="8.77" fill="#aeadad"/>
<rect x="495.0" y="447.00" width="9.0" height="8.77" fill="#a6a4a4"/>
<rect x="495.0" y="438.53" width="9.0" height="8.77" fill="#9e9c9c"/>
<rect x="495.0" y="430.07" width="9.0" height="8.77" fill="#969494"/>
<rect x="495.0" y="421.60" width="9.0" height="8.77" fill="#8e8c8c"/>
<rect x="495.0" y="413.13" width="9.0" height="8.77" fill="#84dc88"/>
<rect x="495.0" y="404.67" width="9.0" height="8.77" fill="#7cd380"/>
<rect x="495.0" y="396.20" width="9.0" height="8.77" fill="#74ca78"/>
<rect x="495.0" y="387.73" width="9.0" height="8.77" fill="#6cc170"/>
<rect x="495.0" y="379.27" width="9.0" height="8.77" fill="#64b868"/>
<rect x="495.0" y="370.80" width="9.0" height="8.77" fill="#ccd4fc"/>
<rect x="495.0" y="362.33" width="9.0" height="8.77" fill="#b4ccff"/>
<rect x="495.0" y="353.87" width="9.0" height="8.77" fill="#9cc4ff"/>
<rect x="495.0" y="345.40" width="9.0" height="8.77" fill="#84bcff"/>
<rect x="495.0" y="336.93" width="9.0" height="8.77" fill="#6cb4ff"/>
<rect x="495.0" y="328.47" width="9.0" height="8.77" fill="#54acff"/>
<rect x="495.0" y="320.00" width="9.0" height="8.77" fill="#4c88ff"/>
<rect x="495.0" y="311.53" width="9.0" height="8.77" fill="#4468ff"/>
<rect x="495.0" y="303.07" width="9.0" height="8.77" fill="#3c4cff"/>
<rect x="495.0" y="294.60" width="9.0" height="8.77" fill="#3030ff"/>
<rect x="495.0" y="286.13" width="9.0" height="8.77" fill="#0000ff"/>
<rect x="495.0" y="277.67" width="9.0" height="8.77" fill="#0000f4"/>
<rect x="495.0" y="269.20" width="9.0" height="8.77" fill="#0000e6"/>
<rect x="495.0" y="260.73" width="9.0" height="8.77" fill="#0000d8"/>
<rect x="495.0" y="252.27" width="9.0" height="8.77" fill="#0808c8"/>
<rect x="495.0" y="243.80" width="9.0" height="8.77" fill="#ffff00"/>
<rect x="495.0" y="235.33" width="9.0" height="8.77" fill="#fff300"/>
<rect x="495.0" y="226.87" width="9.0" height="8.77" fill="#ffe800"/>
<rect x="495.0" y="218.40" width="9.0" height="8.77" fill="#ffdc00"/>
<rect x="495.0" y="209.93" width="9.0" height="8.77" fill="#ffd000"/>
<rect x="495.0" y="201.47" width="9.0" height="8.77" fill="#ff9000"/>
<rect x="495.0" y="193.00" width="9.0" height="8.77" fill="#ff8800"/>
<rect x="495.0" y="184.53" width="9.0" height="8.77" fill="#ff8000"/>
<rect x="495.0" y="176.07" width="9.0" height="8.77" fill="#ff7800"/>
<rect x="495.0" y="167.60" width="9.0" height="8.77" fill="#ff7000"/>
<rect x="495.0" y="159.13" width="9.0" height="8.77" fill="#ff4400"/>
<rect x="495.0" y="150.67" width="9.0" height="8.77" fill="#ff3800"/>
<rect x="495.0" y="142.20" width="9.0" height="8.77" fill="#ff2c00"/>
<rect x="495.0" y="133.73" width="9.0" height="8.77" fill="#ff2000"/>
<rect x="495.0" y="125.27" width="9.0" height="8.77" fill="#ff1400"/>
<rect x="495.0" y="116.80" width="9.0" height="8.77" fill="#c80000"/>
<rect x="495.0" y="108.33" width="9.0" height="8.77" fill="#be0300"/>
<rect x="495.0" y="99.87" width="9.0" height="8.77" fill="#b40600"/>
<rect x="495.0" y="91.40" width="9.0" height="8.77" fill="#aa0900"/>
<rect x="495.0" y="82.93" width="9.0" height="8.77" fill="#a00c00"/>
<rect x="495.0" y="74.47" width="9.0" height="8.77" fill="#620e06"/>
<rect x="495.0" y="66.00" width="9.0" height="8.77" fill="#60110a"/>
<rect x="495.0" y="57.53" width="9.0" height="8.77" fill="#5e140f"/>
<rect x="495.0" y="49.07" width="9.0" height="8.77" fill="#5c1714"/>
<rect x="495.0" y="40.60" width="9.0" height="8.77" fill="#5a1a18"/>
<line x1="504.0" y1="548.60" x2="506.0" y2="548.60" stroke="#222" stroke-width="0.9"/>
<text x="524.0" y="557.20" font-size="19.2" text-anchor="middle" font-family="Liberation Sans, Arial, Helvetica, sans-serif">0</text>
<line x1="504.0" y1="497.80" x2="506.0" y2="497.80" stroke="#222" stroke-width="0.9"/>
<text x="524.0" y="506.40" font-size="19.2" text-anchor="middle" font-family="Liberation Sans, Arial, Helvetica, sans-serif">6</text>
<line x1="504.0" y1="447.00" x2="506.0" y2="447.00" stroke="#222" stroke-width="0.9"/>
<text x="524.0" y="455.60" font-size="19.2" text-anchor="middle" font-family="Liberation Sans, Arial, Helvetica, sans-serif">12</text>
<line x1="504.0" y1="396.20" x2="506.0" y2="396.20" stroke="#222" stroke-width="0.9"/>
<text x="524.0" y="404.80" font-size="19.2" text-anchor="middle" font-family="Liberation Sans, Arial, Helvetica, sans-serif">18</text>
<line x1="504.0" y1="345.40" x2="506.0" y2="345.40" stroke="#222" stroke-width="0.9"/>
<text x="524.0" y="354.00" font-size="19.2" text-anchor="middle" font-family="Liberation Sans, Arial, Helvetica, sans-serif">24</text>
<line x1="504.0" y1="294.60" x2="506.0" y2="294.60" stroke="#222" stroke-width="0.9"/>
<text x="524.0" y="303.20" font-size="19.2" text-anchor="middle" font-family="Liberation Sans, Arial, Helvetica, sans-serif">30</text>
<line x1="504.0" y1="243.80" x2="506.0" y2="243.80" stroke="#222" stroke-width="0.9"/>
<text x="524.0" y="252.40" font-size="19.2" text-anchor="middle" font-family="Liberation Sans, Arial, Helvetica, sans-serif">36</text>
<line x1="504.0" y1="193.00" x2="506.0" y2="193.00" stroke="#222" stroke-width="0.9"/>
<text x="524.0" y="201.60" font-size="19.2" text-anchor="middle" font-family="Liberation Sans, Arial, Helvetica, sans-serif">42</text>
<line x1="504.0" y1="142.20" x2="506.0" y2="142.20" stroke="#222" stroke-width="0.9"/>
<text x="524.0" y="150.80" font-size="19.2" text-anchor="middle" font-family="Liberation Sans, Arial, Helvetica, sans-serif">48</text>
<line x1="504.0" y1="91.40" x2="506.0" y2="91.40" stroke="#222" stroke-width="0.9"/>
<text x="524.0" y="100.00" font-size="19.2" text-anchor="middle" font-family="Liberation Sans, Arial, Helvetica, sans-serif">54</text>
</g>
<g transform="translate(1181.50 0.00)">
<g clip-path="url(#plotclip)"><path d="M408.6 381.9 L413.9 378.7 L419.8 373.9 L422.0 378.7 L424.7 385.1 L427.3 388.3 L425.7 393.7 L427.3 398.0 L425.7 403.4 L427.9 408.7 L429.5 416.2 L426.3 420.5 L423.1 420.5 L420.4 416.2 L417.2 413.0 L415.0 408.7 L412.3 403.4 L410.7 399.1 L412.3 392.6 L410.7 387.3Z" fill="#86d98c" stroke="#000" stroke-width="1.2" stroke-linejoin="round"/><path d="M440.2 364.7 L445.1 360.4 L450.4 352.4 L453.6 356.1 L454.2 365.8 L456.3 372.2 L455.2 379.8 L457.9 387.3 L456.9 394.8 L459.0 401.2 L456.3 404.4 L453.6 406.6 L452.0 402.3 L448.8 395.9 L445.1 391.6 L444.5 385.1 L446.1 378.7 L444.5 372.2 L442.9 366.9Z" fill="#86d98c" stroke="#000" stroke-width="1.2" stroke-linejoin="round"/><path d="M463.3 344.3 L470.8 337.9 L478.3 332.5 L486.9 327.2 L486.9 417.3 L482.6 420.5 L478.3 423.8 L481.5 430.2 L484.2 436.6 L481.5 438.8 L477.2 437.7 L473.0 432.3 L468.7 427.0 L464.4 421.6 L461.2 416.2 L463.3 413.0 L468.7 418.4 L471.9 413.0 L469.7 409.8 L474.0 406.6 L475.1 401.2 L471.9 399.1 L474.0 391.6 L473.0 385.1 L475.1 378.7 L471.9 373.3 L468.7 370.1 L470.8 363.7 L474.0 357.2 L470.8 352.9 L466.5 347.6Z" fill="#86d98c" stroke="#000" stroke-width="1.2" stroke-linejoin="round"/><path d="M433.2 392.6 L437.5 390.0 L440.8 393.7 L444.0 399.1 L440.8 401.2 L436.5 400.1 L433.8 396.9Z" fill="#86d98c" stroke="#000" stroke-width="1.2" stroke-linejoin="round"/><path d="M431.6 403.4 L434.9 403.4 L436.5 407.7 L433.2 409.8 L431.6 406.6Z" fill="#86d98c" stroke="#000" stroke-width="1.2" stroke-linejoin="round"/><path d="M443.4 404.4 L446.7 405.5 L448.3 410.9 L446.1 413.0 L444.0 409.8Z" fill="#86d98c" stroke="#000" stroke-width="1.2" stroke-linejoin="round"/><path d="M440.8 414.6 L445.1 413.0 L447.7 416.2 L447.2 420.5 L442.9 420.5 L440.8 417.3Z" fill="#86d98c" stroke="#000" stroke-width="1.2" stroke-linejoin="round"/><path d="M432.2 418.4 L434.9 417.9 L435.9 420.5 L433.2 421.6Z" fill="#86d98c" stroke="#000" stroke-width="1.2" stroke-linejoin="round"/><path d="M459.0 416.2 L462.2 415.7 L463.3 420.5 L462.2 425.9 L460.1 423.8Z" fill="#86d98c" stroke="#000" stroke-width="1.2" stroke-linejoin="round"/><path d="M450.4 424.8 L453.6 423.8 L456.3 427.0 L453.6 430.2 L451.0 428.0Z" fill="#86d98c" stroke="#000" stroke-width="1.2" stroke-linejoin="round"/><path d="M446.1 439.9 L450.4 438.8 L453.6 434.5 L455.8 436.6 L453.6 442.0 L456.9 446.3 L459.0 440.9 L463.3 440.4 L467.6 445.2 L466.0 448.4 L461.2 447.4 L457.9 449.5 L454.7 453.8 L450.4 454.9 L447.2 449.5 L448.3 445.2Z" fill="#86d98c" stroke="#000" stroke-width="1.2" stroke-linejoin="round"/><path d="M438.1 456.0 L442.9 454.9 L447.2 453.8 L451.0 457.0 L449.3 463.5 L445.1 466.7 L441.3 466.7 L439.2 462.4Z" fill="#86d98c" stroke="#000" stroke-width="1.2" stroke-linejoin="round"/><path d="M437.0 444.1 L440.8 443.1 L442.4 448.4 L442.9 452.7 L439.7 453.8 L438.1 449.5Z" fill="#86d98c" stroke="#000" stroke-width="1.2" stroke-linejoin="round"/><path d="M439.2 438.8 L441.8 438.2 L442.4 441.5 L439.7 442.0Z" fill="#86d98c" stroke="#000" stroke-width="1.2" stroke-linejoin="round"/><path d="M407.0 428.6 L410.7 427.0 L415.0 426.4 L414.5 428.6 L410.7 431.3 L407.5 432.3Z" fill="#86d98c" stroke="#000" stroke-width="1.2" stroke-linejoin="round"/><path d="M393.0 432.3 L395.2 431.8 L395.7 434.5 L393.5 435.0Z" fill="#86d98c" stroke="#000" stroke-width="1.2" stroke-linejoin="round"/><path d="M398.4 434.0 L400.5 433.4 L400.8 436.6 L398.7 436.8Z" fill="#86d98c" stroke="#000" stroke-width="1.2" stroke-linejoin="round"/><path d="M403.7 449.0 L406.4 447.9 L407.5 450.6 L404.8 451.7Z" fill="#86d98c" stroke="#000" stroke-width="1.2" stroke-linejoin="round"/><path d="M409.1 459.7 L412.3 458.6 L415.5 463.5 L416.6 468.8 L414.5 473.1 L412.9 467.8 L410.7 463.5Z" fill="#86d98c" stroke="#000" stroke-width="1.2" stroke-linejoin="round"/><path d="M407.0 480.1 L409.6 479.6 L410.2 482.8 L407.5 483.3Z" fill="#86d98c" stroke="#000" stroke-width="1.2" stroke-linejoin="round"/><path d="M410.7 485.5 L415.0 484.4 L417.7 488.1 L413.9 488.7Z" fill="#86d98c" stroke="#000" stroke-width="1.2" stroke-linejoin="round"/><path d="M432.2 471.0 L436.5 468.3 L437.5 471.0 L434.3 477.4 L432.2 476.3Z" fill="#86d98c" stroke="#000" stroke-width="1.2" stroke-linejoin="round"/><path d="M408.6 442.5 L412.3 442.0 L413.4 444.7 L410.2 445.8Z" fill="#86d98c" stroke="#000" stroke-width="1.2" stroke-linejoin="round"/><path d="M427.3 394.8 L429.2 394.2 L429.5 396.4 L427.7 396.7Z" fill="#86d98c" stroke="#000" stroke-width="1.2" stroke-linejoin="round"/><rect x="420.8" y="378.7" width="1.4" height="1.2" fill="#3030ff"/><rect x="421.8" y="380.4" width="1.4" height="1.2" fill="#b4ccff"/><rect x="422.2" y="382.0" width="1.4" height="1.2" fill="#ccd4fc"/><rect x="422.6" y="383.9" width="1.4" height="1.2" fill="#ccd4fc"/><rect x="423.9" y="384.8" width="1.4" height="1.2" fill="#ff9000"/><rect x="422.3" y="386.4" width="1.4" height="1.2" fill="#9cc4ff"/><rect x="422.6" y="389.0" width="1.4" height="1.2" fill="#ccd4fc"/><rect x="422.2" y="390.5" width="1.4" height="1.2" fill="#4468ff"/><rect x="421.4" y="393.1" width="1.4" height="1.2" fill="#b4ccff"/><rect x="421.8" y="395.1" width="1.4" height="1.2" fill="#ffe000"/><rect x="421.3" y="396.0" width="1.4" height="1.2" fill="#ccd4fc"/><rect x="422.8" y="398.4" width="1.4" height="1.2" fill="#3030ff"/><rect x="424.4" y="400.2" width="1.4" height="1.2" fill="#4468ff"/><rect x="424.1" y="402.3" width="1.4" height="1.2" fill="#ccd4fc"/><rect x="425.1" y="404.2" width="1.4" height="1.2" fill="#9cc4ff"/><rect x="425.0" y="405.1" width="1.4" height="1.2" fill="#3030ff"/><rect x="425.0" y="407.3" width="1.4" height="1.2" fill="#b4ccff"/><rect x="426.4" y="408.5" width="1.4" height="1.2" fill="#ffe000"/><rect x="426.2" y="411.2" width="1.4" height="1.2" fill="#ff2000"/><rect x="425.3" y="412.1" width="1.4" height="1.2" fill="#b4ccff"/><rect x="425.4" y="413.9" width="1.4" height="1.2" fill="#b4ccff"/><rect x="449.2" y="357.5" width="1.4" height="1.2" fill="#6cb4ff"/><rect x="450.8" y="359.5" width="1.4" height="1.2" fill="#ccd4fc"/><rect x="450.0" y="360.7" width="1.4" height="1.2" fill="#4468ff"/><rect x="450.8" y="362.1" width="1.4" height="1.2" fill="#b4ccff"/><rect x="451.3" y="363.9" width="1.4" height="1.2" fill="#ffe000"/><rect x="451.7" y="366.2" width="1.4" height="1.2" fill="#b4ccff"/><rect x="452.1" y="367.6" width="1.4" height="1.2" fill="#b4ccff"/><rect x="451.6" y="369.2" width="1.4" height="1.2" fill="#9cc4ff"/><rect x="452.5" y="370.9" width="1.4" height="1.2" fill="#6cb4ff"/><rect x="451.3" y="372.1" width="1.4" height="1.2" fill="#3030ff"/><rect x="450.5" y="374.2" width="1.4" height="1.2" fill="#9cc4ff"/><rect x="450.3" y="376.3" width="1.4" height="1.2" fill="#ccd4fc"/><rect x="453.1" y="378.0" width="1.4" height="1.2" fill="#4468ff"/><rect x="451.3" y="379.0" width="1.4" height="1.2" fill="#6cb4ff"/><rect x="452.4" y="381.2" width="1.4" height="1.2" fill="#6cb4ff"/><rect x="452.8" y="382.6" width="1.4" height="1.2" fill="#b4ccff"/><rect x="453.7" y="384.5" width="1.4" height="1.2" fill="#b4ccff"/><rect x="454.0" y="387.0" width="1.4" height="1.2" fill="#9cc4ff"/><rect x="452.5" y="387.8" width="1.4" height="1.2" fill="#9cc4ff"/><rect x="452.3" y="390.1" width="1.4" height="1.2" fill="#ccd4fc"/><rect x="451.5" y="391.3" width="1.4" height="1.2" fill="#b4ccff"/><rect x="452.4" y="393.8" width="1.4" height="1.2" fill="#ccd4fc"/><rect x="453.2" y="395.5" width="1.4" height="1.2" fill="#4468ff"/><rect x="453.6" y="397.5" width="1.4" height="1.2" fill="#ff2000"/><rect x="454.2" y="399.5" width="1.4" height="1.2" fill="#b4ccff"/><rect x="453.9" y="401.6" width="1.4" height="1.2" fill="#b4ccff"/><rect x="483.0" y="331.6" width="1.4" height="1.2" fill="#3030ff"/><rect x="483.9" y="332.9" width="1.4" height="1.2" fill="#4468ff"/><rect x="482.4" y="335.0" width="1.4" height="1.2" fill="#ffe000"/><rect x="482.2" y="336.1" width="1.4" height="1.2" fill="#3030ff"/><rect x="485.4" y="338.4" width="1.4" height="1.2" fill="#ccd4fc"/><rect x="483.0" y="340.5" width="1.4" height="1.2" fill="#ccd4fc"/><rect x="485.1" y="342.5" width="1.4" height="1.2" fill="#9cc4ff"/><rect x="485.8" y="344.1" width="1.4" height="1.2" fill="#ccd4fc"/><rect x="485.8" y="344.9" width="1.4" height="1.2" fill="#ccd4fc"/><rect x="484.7" y="346.7" width="1.4" height="1.2" fill="#4468ff"/><rect x="484.8" y="348.0" width="1.4" height="1.2" fill="#9cc4ff"/><rect x="484.5" y="349.9" width="1.4" height="1.2" fill="#ff9000"/><rect x="484.0" y="352.4" width="1.4" height="1.2" fill="#6cb4ff"/><rect x="482.9" y="354.0" width="1.4" height="1.2" fill="#b4ccff"/><rect x="485.1" y="354.9" width="1.4" height="1.2" fill="#3030ff"/><rect x="485.4" y="356.2" width="1.4" height="1.2" fill="#6cb4ff"/><rect x="485.4" y="358.7" width="1.4" height="1.2" fill="#ccd4fc"/><rect x="483.8" y="360.0" width="1.4" height="1.2" fill="#b4ccff"/><rect x="482.9" y="361.2" width="1.4" height="1.2" fill="#4468ff"/><rect x="482.3" y="363.0" width="1.4" height="1.2" fill="#b4ccff"/><rect x="482.5" y="364.5" width="1.4" height="1.2" fill="#ff2000"/><rect x="484.1" y="366.1" width="1.4" height="1.2" fill="#3030ff"/><rect x="484.3" y="368.2" width="1.4" height="1.2" fill="#6cb4ff"/><rect x="484.1" y="370.0" width="1.4" height="1.2" fill="#6cb4ff"/><rect x="483.6" y="371.6" width="1.4" height="1.2" fill="#ff9000"/><rect x="483.1" y="373.8" width="1.4" height="1.2" fill="#3030ff"/><rect x="483.9" y="375.1" width="1.4" height="1.2" fill="#b4ccff"/><rect x="485.3" y="377.1" width="1.4" height="1.2" fill="#ffe000"/><rect x="483.7" y="378.8" width="1.4" height="1.2" fill="#6cb4ff"/><rect x="484.7" y="380.5" width="1.4" height="1.2" fill="#9cc4ff"/><rect x="483.6" y="381.6" width="1.4" height="1.2" fill="#b4ccff"/><rect x="484.0" y="383.4" width="1.4" height="1.2" fill="#6cb4ff"/><rect x="483.5" y="385.6" width="1.4" height="1.2" fill="#6cb4ff"/><rect x="482.3" y="387.0" width="1.4" height="1.2" fill="#ccd4fc"/><rect x="483.9" y="388.8" width="1.4" height="1.2" fill="#ccd4fc"/><rect x="481.6" y="389.7" width="1.4" height="1.2" fill="#b4ccff"/><rect x="482.9" y="391.0" width="1.4" height="1.2" fill="#ffe000"/><rect x="480.8" y="392.8" width="1.4" height="1.2" fill="#ffe000"/><rect x="481.1" y="394.4" width="1.4" height="1.2" fill="#ccd4fc"/><rect x="480.3" y="396.3" width="1.4" height="1.2" fill="#ccd4fc"/><rect x="483.3" y="398.5" width="1.4" height="1.2" fill="#ccd4fc"/><rect x="483.3" y="400.2" width="1.4" height="1.2" fill="#9cc4ff"/><rect x="479.4" y="402.1" width="1.4" height="1.2" fill="#ccd4fc"/><rect x="480.1" y="403.8" width="1.4" height="1.2" fill="#ccd4fc"/><rect x="478.2" y="404.6" width="1.4" height="1.2" fill="#3030ff"/><rect x="479.0" y="407.1" width="1.4" height="1.2" fill="#3030ff"/><rect x="476.9" y="408.0" width="1.4" height="1.2" fill="#ccd4fc"/><rect x="475.7" y="409.5" width="1.4" height="1.2" fill="#b4ccff"/><rect x="476.0" y="411.0" width="1.4" height="1.2" fill="#b4ccff"/><rect x="464.6" y="420.0" width="1.4" height="1.2" fill="#9cc4ff"/><rect x="465.8" y="421.3" width="1.4" height="1.2" fill="#ff2000"/><rect x="466.5" y="422.1" width="1.4" height="1.2" fill="#4468ff"/><rect x="467.8" y="423.9" width="1.4" height="1.2" fill="#ff2000"/><rect x="467.8" y="424.8" width="1.4" height="1.2" fill="#b4ccff"/><rect x="470.2" y="426.7" width="1.4" height="1.2" fill="#ccd4fc"/><rect x="471.7" y="427.6" width="1.4" height="1.2" fill="#6cb4ff"/><rect x="472.9" y="428.6" width="1.4" height="1.2" fill="#b4ccff"/><rect x="472.7" y="429.8" width="1.4" height="1.2" fill="#6cb4ff"/><rect x="474.0" y="432.0" width="1.4" height="1.2" fill="#ccd4fc"/><rect x="475.1" y="433.0" width="1.4" height="1.2" fill="#b4ccff"/><rect x="477.2" y="434.4" width="1.4" height="1.2" fill="#ff9000"/><rect x="448.3" y="441.5" width="1.4" height="1.2" fill="#ccd4fc"/><rect x="450.3" y="442.4" width="1.4" height="1.2" fill="#ccd4fc"/><rect x="452.2" y="444.0" width="1.4" height="1.2" fill="#6cb4ff"/><rect x="452.0" y="445.9" width="1.4" height="1.2" fill="#9cc4ff"/><rect x="453.2" y="448.3" width="1.4" height="1.2" fill="#ffe000"/><rect x="452.5" y="449.3" width="1.4" height="1.2" fill="#ccd4fc"/><rect x="461.6" y="443.6" width="1.4" height="1.2" fill="#ccd4fc"/><rect x="462.3" y="445.4" width="1.4" height="1.2" fill="#ccd4fc"/><rect x="442.6" y="460.3" width="1.4" height="1.2" fill="#ccd4fc"/><rect x="444.7" y="459.1" width="1.4" height="1.2" fill="#6cb4ff"/><rect x="436.9" y="394.8" width="1.4" height="1.2" fill="#9cc4ff"/><rect x="438.6" y="396.1" width="1.4" height="1.2" fill="#4468ff"/><rect x="444.3" y="416.3" width="1.4" height="1.2" fill="#ccd4fc"/><rect x="461.3" y="417.9" width="1.4" height="1.2" fill="#4468ff"/><rect x="460.4" y="421.0" width="1.4" height="1.2" fill="#6cb4ff"/><rect x="410.0" y="462.9" width="1.4" height="1.2" fill="#6cb4ff"/><rect x="412.0" y="463.6" width="1.4" height="1.2" fill="#4468ff"/><rect x="412.2" y="465.3" width="1.4" height="1.2" fill="#ccd4fc"/><rect x="414.3" y="466.8" width="1.4" height="1.2" fill="#ccd4fc"/><rect x="409.5" y="429.7" width="1.4" height="1.2" fill="#ccd4fc"/><rect x="410.8" y="428.6" width="1.4" height="1.2" fill="#ccd4fc"/><rect x="434.3" y="471.9" width="1.4" height="1.2" fill="#ccd4fc"/><rect x="414.6" y="391.8" width="1.4" height="1.2" fill="#ccd4fc"/><rect x="415.5" y="393.2" width="1.4" height="1.2" fill="#ccd4fc"/><rect x="416.5" y="394.3" width="1.4" height="1.2" fill="#ccd4fc"/><rect x="418.1" y="395.4" width="1.4" height="1.2" fill="#3030ff"/><rect x="416.8" y="397.8" width="1.4" height="1.2" fill="#ccd4fc"/><path d="M413.9 380.8 C414.3 379.5 418.2 376.7 419.3 377.1 C420.4 377.4 420.7 381.6 420.4 383.0 C420.0 384.3 418.2 385.5 417.2 385.1 C416.1 384.8 413.6 382.2 413.9 380.8Z" fill="#fff" stroke="#000" stroke-width="1.1"/><circle cx="477.8" cy="347.6" r="2.6" fill="#fff" stroke="#000" stroke-width="1.1"/><ellipse cx="456.0" cy="390.0" rx="3.4" ry="6.6" fill="#fff" stroke="#000" stroke-width="1.3" transform="rotate(32 456.0 390.0)"/><circle cx="444.5" cy="461.9" r="1.6" fill="none" stroke="#000" stroke-width="1"/><circle cx="334.5" cy="431.5" r="2.0" fill="#86d98c" stroke="#000" stroke-width="1.1"/><circle cx="338.3" cy="432.8" r="1.6" fill="#86d98c" stroke="#000" stroke-width="1.1"/><circle cx="353.5" cy="426.5" r="2.2" fill="#86d98c" stroke="#000" stroke-width="1.1"/><circle cx="356.0" cy="433.0" r="1.8" fill="#86d98c" stroke="#000" stroke-width="1.1"/><circle cx="359.0" cy="439.5" r="1.6" fill="#86d98c" stroke="#000" stroke-width="1.1"/><circle cx="343.0" cy="443.0" r="1.3" fill="#86d98c" stroke="#000" stroke-width="1.1"/><circle cx="380.5" cy="469.5" r="1.4" fill="#86d98c" stroke="#000" stroke-width="1.1"/><circle cx="467.1" cy="358.3" r="0.9" fill="#000"/><circle cx="473.0" cy="358.8" r="0.9" fill="#000"/><circle cx="469.2" cy="364.2" r="0.9" fill="#000"/><circle cx="463.3" cy="405.0" r="0.9" fill="#000"/><circle cx="462.8" cy="410.3" r="0.9" fill="#000"/><circle cx="467.6" cy="394.8" r="0.9" fill="#000"/><circle cx="470.8" cy="400.1" r="0.9" fill="#000"/><circle cx="427.9" cy="395.3" r="0.9" fill="#000"/><circle cx="412.3" cy="435.6" r="0.9" fill="#000"/><circle cx="409.6" cy="443.1" r="0.9" fill="#000"/><circle cx="440.8" cy="439.9" r="0.9" fill="#000"/></g>
<line x1="87.80" y1="40.9" x2="87.80" y2="548.8" stroke="#000" stroke-width="1.35" stroke-dasharray="3.1 5.17" fill="none"/>
<line x1="166.52" y1="40.9" x2="166.52" y2="548.8" stroke="#000" stroke-width="1.35" stroke-dasharray="3.1 5.17" fill="none"/>
<line x1="245.24" y1="40.9" x2="245.24" y2="548.8" stroke="#000" stroke-width="1.35" stroke-dasharray="3.1 5.17" fill="none"/>
<line x1="323.96" y1="40.9" x2="323.96" y2="548.8" stroke="#000" stroke-width="1.35" stroke-dasharray="3.1 5.17" fill="none"/>
<line x1="402.68" y1="40.9" x2="402.68" y2="548.8" stroke="#000" stroke-width="1.35" stroke-dasharray="3.1 5.17" fill="none"/>
<line x1="481.40" y1="40.9" x2="481.40" y2="548.8" stroke="#000" stroke-width="1.35" stroke-dasharray="3.1 5.17" fill="none"/>
<line x1="12.9" y1="486.10" x2="486.0" y2="486.10" stroke="#000" stroke-width="1.35" stroke-dasharray="3.1 5.17" fill="none"/>
<line x1="12.9" y1="401.40" x2="486.0" y2="401.40" stroke="#000" stroke-width="1.35" stroke-dasharray="3.1 5.17" fill="none"/>
<line x1="12.9" y1="316.70" x2="486.0" y2="316.70" stroke="#000" stroke-width="1.35" stroke-dasharray="3.1 5.17" fill="none"/>
<line x1="12.9" y1="232.00" x2="486.0" y2="232.00" stroke="#000" stroke-width="1.35" stroke-dasharray="3.1 5.17" fill="none"/>
<line x1="12.9" y1="147.30" x2="486.0" y2="147.30" stroke="#000" stroke-width="1.35" stroke-dasharray="3.1 5.17" fill="none"/>
<line x1="12.9" y1="62.60" x2="486.0" y2="62.60" stroke="#000" stroke-width="1.35" stroke-dasharray="3.1 5.17" fill="none"/>
<text x="87.60" y="294.9" font-size="12.2" text-anchor="middle" font-family="Liberation Sans, Arial, Helvetica, sans-serif">84</text>
<text x="166.32" y="294.9" font-size="12.2" text-anchor="middle" font-family="Liberation Sans, Arial, Helvetica, sans-serif">86</text>
<text x="245.04" y="294.9" font-size="12.2" text-anchor="middle" font-family="Liberation Sans, Arial, Helvetica, sans-serif">88</text>
<text x="323.76" y="294.9" font-size="12.2" text-anchor="middle" font-family="Liberation Sans, Arial, Helvetica, sans-serif">90</text>
<text x="402.48" y="294.9" font-size="12.2" text-anchor="middle" font-family="Liberation Sans, Arial, Helvetica, sans-serif">92</text>
<text x="481.20" y="294.9" font-size="12.2" text-anchor="middle" font-family="Liberation Sans, Arial, Helvetica, sans-serif">94</text>
<text x="258.6" y="486.40" font-size="12.2" font-family="Liberation Sans, Arial, Helvetica, sans-serif">14</text>
<text x="258.6" y="401.70" font-size="12.2" font-family="Liberation Sans, Arial, Helvetica, sans-serif">16</text>
<text x="258.6" y="317.00" font-size="12.2" font-family="Liberation Sans, Arial, Helvetica, sans-serif">18</text>
<text x="258.6" y="232.30" font-size="12.2" font-family="Liberation Sans, Arial, Helvetica, sans-serif">20</text>
<text x="258.6" y="147.60" font-size="12.2" font-family="Liberation Sans, Arial, Helvetica, sans-serif">22</text>
<text x="258.6" y="62.90" font-size="12.2" font-family="Liberation Sans, Arial, Helvetica, sans-serif">24</text>
<g clip-path="url(#plotclip)"><path d="M179.9 548.2 L199.9 533.2 L219.9 518.2 L239.9 503.4 L259.9 488.7 L279.9 474.0 L299.9 459.5 L319.9 445.0 L339.9 430.7 L359.9 416.4 L379.9 402.3 L399.9 388.2 L419.9 374.3 L439.9 360.4 L459.9 346.6 L479.9 333.0" stroke="#000" stroke-width="1.0" stroke-dasharray="11.75 11.75" fill="none"/><line x1="333.5" y1="548.2" x2="492" y2="435.8" stroke="#000" stroke-width="1.0" stroke-dasharray="11.75 11.75" fill="none"/></g>
<path d="M13.0 381.6 L16.9 379.8 L20.3 377.3 L22.6 371.7 L23.7 367.1 L23.5 362.6 L23.4 366.5 L20.3 364.9 L19.4 361.5 L20.3 357.0 L24.3 352.5 L29.9 347.9 L37.3 344.3 L45.2 341.2 L50.8 337.5 L55.9 335.0 L57.6 331.6 L59.9 328.7 L63.2 327.0 L65.5 323.7 L67.8 319.7 L72.3 315.0 L79.1 310.1 L87.0 306.7 L92.0 304.1 L93.7 301.1 L98.8 295.4 L105.0 289.8 L111.2 280.7 L115.8 275.1 L118.0 270.6 L117.4 268.7 L119.7 267.8 L124.2 263.2 L133.3 255.3 L141.2 249.1 L150.2 244.6 L158.1 241.8 L167.1 239.3 L176.2 236.1 L181.4 232.3 L176.5 229.5 L172.3 226.3 L177.0 230.3 L181.4 232.3 L186.1 224.5 L189.0 222.2 L195.2 218.8 L197.4 215.4 L195.2 214.3 L195.7 211.5 L199.7 207.5 L206.5 203.4 L203.6 201.3 L204.2 197.9 L201.9 196.8 L203.6 195.7 L200.8 187.8 L199.4 182.1 L200.8 177.6 L204.8 172.5 L209.9 168.4 L217.8 165.8 L229.1 162.9 L235.8 160.4 L241.5 156.7 L246.0 151.6 L249.4 146.0 L252.2 141.5 L249.4 139.2 L245.4 137.0 L243.7 133.6 L242.4 130.2 L244.4 134.5 L245.4 135.8 L252.2 140.3 L253.0 143.7 L251.6 148.2 L253.3 155.0 L252.2 160.7 L256.7 165.2 L257.8 161.2 L256.2 157.8 L261.2 160.1 L262.9 162.9 L264.1 155.0 L265.8 151.6 L266.9 158.4 L264.6 166.9 L268.6 162.9 L269.7 156.2 L268.6 151.6 L270.3 147.1 L272.5 143.7 L275.4 142.6 L272.5 147.1 L272.0 151.6 L274.2 158.4 L273.7 165.8 L277.6 161.2 L279.9 162.9 L285.0 164.1 L288.3 162.9 L285.5 155.0 L282.1 149.4 L285.5 150.5 L287.2 143.2 L288.3 148.2 L290.0 155.0 L292.9 156.7 L294.0 161.2 L296.2 161.2 L297.9 155.0 L299.6 159.0 L302.5 157.3 L304.1 151.6 L305.6 143.7 L303.8 137.0 L306.4 143.7 L308.7 133.6 L307.5 143.7 L306.4 151.6 L307.0 158.4 L309.8 159.0 L310.9 153.9 L318.3 152.8 L319.4 146.0 L318.8 139.2 L319.4 131.3 L323.9 126.8 L321.1 131.3 L321.1 140.3 L324.5 146.0 L327.9 144.9 L325.6 149.4 L325.6 153.3 L327.9 152.8 L329.6 155.6 L332.9 155.0 L335.8 149.9 L336.9 146.0 L340.8 143.2 L345.4 139.2 L348.2 132.4 L348.7 127.7 L345.0 121.4 L344.1 116.8 L341.4 115.0 L340.5 112.3 L347.8 111.9 L349.6 109.2 L339.6 104.2 L344.6 98.8 L345.0 90.6 L331.9 85.7 L330.6 87.0 L327.9 79.8 L322.5 81.2 L316.1 74.4 L304.4 72.1 L293.6 66.3 M293.6 66.3 L303.5 70.3 L311.6 69.4 L312.5 65.8 L314.3 68.1 L317.0 73.5 L322.5 77.1 L327.9 78.9 L331.5 83.4 L337.8 85.7 L343.2 87.0 L346.4 85.7 L346.8 81.6 L343.2 80.7 L347.0 81.2 L348.7 84.3 L348.2 88.8 L349.6 94.3 L347.3 98.8 L347.8 102.4 L352.3 108.7 L358.6 110.5 L364.5 113.2 L370.3 113.2 L375.8 114.1 L377.6 112.3 L377.1 109.6 L378.9 112.8 L380.3 109.6 L382.5 109.6 L381.6 113.7 L386.6 118.7 L392.0 127.7 L394.3 134.9 L396.5 135.4 L396.1 140.3 L398.3 147.6 L400.1 156.6 L403.3 162.0 L401.5 169.2 L404.9 178.1 L405.5 183.4 L410.5 189.9 L413.3 198.0 L416.1 198.9 L410.8 183.4 L416.7 198.0 L417.6 202.3 L421.1 204.5 L424.8 209.8 L428.5 214.1 L430.1 219.1 L431.6 219.1 L432.2 214.7 L431.3 209.8 L428.8 203.5 L432.9 211.6 L436.0 212.9 L436.9 216.0 L440.3 218.1 L436.3 219.7 L432.9 223.4 L436.3 226.5 L438.8 225.3 L440.9 219.7 L444.7 209.4 L442.8 219.7 L446.2 214.4 L443.4 222.8 L446.5 224.7 L443.4 225.9 L441.2 227.8 L444.0 232.7 L447.5 239.3 L447.8 235.8 L446.5 233.4 L448.7 234.0 L451.5 238.3 L448.1 232.1 L447.8 229.9 L452.1 229.9 L455.2 228.1 L460.2 234.0 L462.0 232.7 L464.5 237.1 L467.6 235.8 L470.7 235.8 L467.0 238.3 L466.4 242.7 L470.1 242.7 L471.4 245.2 L473.9 243.9 L473.2 247.6 L471.2 248.6 L477.4 252.4 L481.0 256.7 L481.5 258.5 L477.4 263.5 L484.7 258.1 L484.2 264.4 L482.8 267.1 L484.2 270.7 L484.0 276.1 L483.5 280.7 L485.8 281.3 M461.2 256.7 L465.7 256.7 L467.0 259.9 L472.5 263.7 L477.0 263.3 L478.8 267.1 L479.7 270.7 L481.5 274.3 L480.1 277.9 L478.3 279.5 L475.2 277.9 L470.2 273.9 L466.1 268.0 L461.6 261.2 L461.2 256.7 M131.6 252.5 L133.8 247.4 L136.1 243.5 L141.2 239.5 L145.7 236.7 L149.6 237.3 L149.6 242.3 L145.7 245.2 L136.6 246.5 L135.0 251.4 L131.6 252.5 M140.0 249.5 L143.5 246.8 L147.5 244.3 L146.0 246.2" fill="none" stroke="#000" stroke-width="1.3" stroke-linejoin="round"/><path d="M480.1 261.2 L484.7 258.1 L484.2 264.8 L481.9 267.1Z" fill="#000" stroke="#000" stroke-width="0.8"/>
<path d="M243.0 294.4h12.8M249.4 288.0v12.8" stroke="#000" stroke-width="4.4" fill="none"/>

<text x="37.0" y="66.0" font-size="24.8" textLength="389.0" lengthAdjust="spacingAndGlyphs" font-family="Liberation Sans, Arial, Helvetica, sans-serif">2A25 near surface rainrate (mm/hr)</text>
<text x="439.5" y="523.3" font-size="31" font-family="Liberation Sans, Arial, Helvetica, sans-serif">(c)</text>
<rect x="495.0" y="531.67" width="9.0" height="8.77" fill="#86dc8e"/>
<rect x="495.0" y="523.20" width="9.0" height="8.77" fill="#81d687"/>
<rect x="495.0" y="514.73" width="9.0" height="8.77" fill="#7bd081"/>
<rect x="495.0" y="506.27" width="9.0" height="8.77" fill="#76ca7a"/>
<rect x="495.0" y="497.80" width="9.0" height="8.77" fill="#71c473"/>
<rect x="495.0" y="489.33" width="9.0" height="8.77" fill="#6bbe6d"/>
<rect x="495.0" y="480.87" width="9.0" height="8.77" fill="#66b866"/>
<rect x="495.0" y="472.40" width="9.0" height="8.77" fill="#ccd4fc"/>
<rect x="495.0" y="463.93" width="9.0" height="8.77" fill="#bacefe"/>
<rect x="495.0" y="455.47" width="9.0" height="8.77" fill="#a9c8ff"/>
<rect x="495.0" y="447.00" width="9.0" height="8.77" fill="#97c2ff"/>
<rect x="495.0" y="438.53" width="9.0" height="8.77" fill="#85bcff"/>
<rect x="495.0" y="430.07" width="9.0" height="8.77" fill="#74b7ff"/>
<rect x="495.0" y="421.60" width="9.0" height="8.77" fill="#62b1ff"/>
<rect x="495.0" y="413.13" width="9.0" height="8.77" fill="#53a6ff"/>
<rect x="495.0" y="404.67" width="9.0" height="8.77" fill="#4d8cff"/>
<rect x="495.0" y="396.20" width="9.0" height="8.77" fill="#4774ff"/>
<rect x="495.0" y="387.73" width="9.0" height="8.77" fill="#415eff"/>
<rect x="495.0" y="379.27" width="9.0" height="8.77" fill="#3b49ff"/>
<rect x="495.0" y="370.80" width="9.0" height="8.77" fill="#3234ff"/>
<rect x="495.0" y="362.33" width="9.0" height="8.77" fill="#1414ff"/>
<rect x="495.0" y="353.87" width="9.0" height="8.77" fill="#0000fc"/>
<rect x="495.0" y="345.40" width="9.0" height="8.77" fill="#0000f3"/>
<rect x="495.0" y="336.93" width="9.0" height="8.77" fill="#0000e9"/>
<rect x="495.0" y="328.47" width="9.0" height="8.77" fill="#0000df"/>
<rect x="495.0" y="320.00" width="9.0" height="8.77" fill="#0202d4"/>
<rect x="495.0" y="311.53" width="9.0" height="8.77" fill="#0808c8"/>
<rect x="495.0" y="303.07" width="9.0" height="8.77" fill="#ffff00"/>
<rect x="495.0" y="294.60" width="9.0" height="8.77" fill="#fff700"/>
<rect x="495.0" y="286.13" width="9.0" height="8.77" fill="#ffef00"/>
<rect x="495.0" y="277.67" width="9.0" height="8.77" fill="#ffe800"/>
<rect x="495.0" y="269.20" width="9.0" height="8.77" fill="#ffe000"/>
<rect x="495.0" y="260.73" width="9.0" height="8.77" fill="#ffd800"/>
<rect x="495.0" y="252.27" width="9.0" height="8.77" fill="#ffd000"/>
<rect x="495.0" y="243.80" width="9.0" height="8.77" fill="#ff9000"/>
<rect x="495.0" y="235.33" width="9.0" height="8.77" fill="#ff8a00"/>
<rect x="495.0" y="226.87" width="9.0" height="8.77" fill="#ff8300"/>
<rect x="495.0" y="218.40" width="9.0" height="8.77" fill="#ff7d00"/>
<rect x="495.0" y="209.93" width="9.0" height="8.77" fill="#ff7600"/>
<rect x="495.0" y="201.47" width="9.0" height="8.77" fill="#ff7000"/>
<rect x="495.0" y="193.00" width="9.0" height="8.77" fill="#ff4400"/>
<rect x="495.0" y="184.53" width="9.0" height="8.77" fill="#ff3c00"/>
<rect x="495.0" y="176.07" width="9.0" height="8.77" fill="#ff3400"/>
<rect x="495.0" y="167.60" width="9.0" height="8.77" fill="#ff2c00"/>
<rect x="495.0" y="159.13" width="9.0" height="8.77" fill="#ff2400"/>
<rect x="495.0" y="150.67" width="9.0" height="8.77" fill="#ff1c00"/>
<rect x="495.0" y="142.20" width="9.0" height="8.77" fill="#ff1400"/>
<rect x="495.0" y="133.73" width="9.0" height="8.77" fill="#c80000"/>
<rect x="495.0" y="125.27" width="9.0" height="8.77" fill="#c10200"/>
<rect x="495.0" y="116.80" width="9.0" height="8.77" fill="#bb0400"/>
<rect x="495.0" y="108.33" width="9.0" height="8.77" fill="#b40600"/>
<rect x="495.0" y="99.87" width="9.0" height="8.77" fill="#ad0800"/>
<rect x="495.0" y="91.40" width="9.0" height="8.77" fill="#a70a00"/>
<rect x="495.0" y="82.93" width="9.0" height="8.77" fill="#a00c00"/>
<rect x="495.0" y="74.47" width="9.0" height="8.77" fill="#620e06"/>
<rect x="495.0" y="66.00" width="9.0" height="8.77" fill="#60110a"/>
<rect x="495.0" y="57.53" width="9.0" height="8.77" fill="#5e140f"/>
<rect x="495.0" y="49.07" width="9.0" height="8.77" fill="#5c1714"/>
<rect x="495.0" y="40.60" width="9.0" height="8.77" fill="#5a1a18"/>
<line x1="504.0" y1="548.60" x2="506.0" y2="548.60" stroke="#222" stroke-width="0.9"/>
<text x="524.0" y="557.20" font-size="19.2" text-anchor="middle" font-family="Liberation Sans, Arial, Helvetica, sans-serif">0</text>
<line x1="504.0" y1="497.80" x2="506.0" y2="497.80" stroke="#222" stroke-width="0.9"/>
<text x="524.0" y="506.40" font-size="19.2" text-anchor="middle" font-family="Liberation Sans, Arial, Helvetica, sans-serif">6</text>
<line x1="504.0" y1="447.00" x2="506.0" y2="447.00" stroke="#222" stroke-width="0.9"/>
<text x="524.0" y="455.60" font-size="19.2" text-anchor="middle" font-family="Liberation Sans, Arial, Helvetica, sans-serif">12</text>
<line x1="504.0" y1="396.20" x2="506.0" y2="396.20" stroke="#222" stroke-width="0.9"/>
<text x="524.0" y="404.80" font-size="19.2" text-anchor="middle" font-family="Liberation Sans, Arial, Helvetica, sans-serif">18</text>
<line x1="504.0" y1="345.40" x2="506.0" y2="345.40" stroke="#222" stroke-width="0.9"/>
<text x="524.0" y="354.00" font-size="19.2" text-anchor="middle" font-family="Liberation Sans, Arial, Helvetica, sans-serif">24</text>
<line x1="504.0" y1="294.60" x2="506.0" y2="294.60" stroke="#222" stroke-width="0.9"/>
<text x="524.0" y="303.20" font-size="19.2" text-anchor="middle" font-family="Liberation Sans, Arial, Helvetica, sans-serif">30</text>
<line x1="504.0" y1="243.80" x2="506.0" y2="243.80" stroke="#222" stroke-width="0.9"/>
<text x="524.0" y="252.40" font-size="19.2" text-anchor="middle" font-family="Liberation Sans, Arial, Helvetica, sans-serif">36</text>
<line x1="504.0" y1="193.00" x2="506.0" y2="193.00" stroke="#222" stroke-width="0.9"/>
<text x="524.0" y="201.60" font-size="19.2" text-anchor="middle" font-family="Liberation Sans, Arial, Helvetica, sans-serif">42</text>
<line x1="504.0" y1="142.20" x2="506.0" y2="142.20" stroke="#222" stroke-width="0.9"/>
<text x="524.0" y="150.80" font-size="19.2" text-anchor="middle" font-family="Liberation Sans, Arial, Helvetica, sans-serif">48</text>
<line x1="504.0" y1="91.40" x2="506.0" y2="91.40" stroke="#222" stroke-width="0.9"/>
<text x="524.0" y="100.00" font-size="19.2" text-anchor="middle" font-family="Liberation Sans, Arial, Helvetica, sans-serif">54</text>
</g>
<g transform="translate(0.00 590.60)">
<g clip-path="url(#plotclip)"><g clip-path="url(#trid)"><g transform="rotate(-33 250 370)"><g filter="url(#pd)"><g transform="rotate(33 250 370)"><rect x="-200" y="-100" width="900" height="900" fill="#111111"/><path d="M-16.9 592.3 C-90.3 577.0 -36.7 526.2 -16.9 500.8 C2.8 475.4 59.3 448.3 101.6 439.8 C144.0 431.4 197.6 441.5 237.2 450.0 C276.7 458.5 310.6 481.0 338.8 490.6 C367.0 500.2 392.4 490.6 406.5 507.6 C420.7 524.5 494.1 578.2 423.5 592.3 C352.9 606.4 56.5 607.5 -16.9 592.3Z" fill="#0d0d0d" /><path d="M200.3 394.3 C212.2 383.0 265.3 345.1 281.6 336.7 C298.0 328.2 288.7 339.5 298.6 343.4 C308.5 347.4 333.0 354.7 340.9 360.4 C348.8 366.0 347.4 375.6 346.0 377.3 C344.6 379.0 338.7 372.8 332.5 370.5 C326.2 368.3 316.1 364.9 308.7 363.8 C301.4 362.6 294.1 360.9 288.4 363.8 C282.8 366.6 278.8 373.4 274.9 380.7 C270.9 388.1 267.2 399.9 264.7 407.8 C262.2 415.7 263.0 425.3 259.6 428.1 C256.2 431.0 249.2 428.1 244.4 424.8 C239.6 421.4 236.5 411.2 230.8 407.8 C225.2 404.4 215.6 406.7 210.5 404.4 C205.4 402.2 188.5 405.6 200.3 394.3Z" fill="#222222" /><path d="M281.6 355.3 C286.2 355.7 300.3 356.1 308.7 357.8 C317.2 359.5 326.8 362.8 332.5 365.5 C338.1 368.1 340.9 372.5 342.6 373.9" fill="none" stroke="#2f2f2f" stroke-width="7.0" stroke-linecap="round" stroke-linejoin="round"/><path d="M274.9 331.6 C278.2 325.9 296.3 315.5 308.7 309.6 C321.2 303.6 342.6 296.0 349.4 296.0 C356.2 296.0 354.5 304.8 349.4 309.6 C344.3 314.4 329.1 319.2 318.9 324.8 C308.7 330.5 295.8 342.3 288.4 343.4 C281.1 344.6 271.5 337.2 274.9 331.6Z" fill="#1c1c1c" /><ellipse cx="259.6" cy="429.8" rx="10.2" ry="5.9" fill="#262626" transform="rotate(-35.0 259.6 429.8)"/><ellipse cx="274.9" cy="401.0" rx="8.5" ry="18.6" fill="#282828" transform="rotate(20.0 274.9 401.0)"/><path d="M403.6 323.1 C406.7 320.6 418.8 317.5 425.6 319.7 C432.4 322.0 438.9 330.7 444.3 336.7 C449.6 342.6 457.8 352.2 457.8 355.3 C457.8 358.4 449.9 357.6 444.3 355.3 C438.6 353.0 430.1 345.1 423.9 341.7 C417.7 338.4 410.4 338.1 407.0 335.0 C403.6 331.9 400.5 325.7 403.6 323.1Z" fill="#242424" /><ellipse cx="417.2" cy="404.4" rx="11.9" ry="15.2" fill="#2a2a2a"/><path d="M382.9 257.5 C383.8 255.8 388.6 256.3 390.8 258.6 C393.1 260.9 396.1 268.0 396.5 271.0 C396.8 274.0 395.0 277.0 393.1 276.7 C391.2 276.3 386.9 272.0 385.2 268.8 C383.5 265.6 382.0 259.2 382.9 257.5Z" fill="#2f2f2f" /><path d="M413.4 232.6 C414.5 229.2 426.8 225.9 432.6 228.1 C438.4 230.4 445.0 240.9 448.4 246.2 C451.8 251.5 453.5 257.1 452.9 259.7 C452.4 262.4 449.5 263.9 445.0 262.0 C440.5 260.1 431.1 253.3 425.8 248.4 C420.5 243.5 412.3 236.0 413.4 232.6Z" fill="#1e1e1e" /><path d="M445.0 259.7 C446.7 255.8 452.7 251.1 454.0 253.0 C455.4 254.8 453.5 266.1 452.9 271.0 C452.4 275.9 451.4 278.6 450.7 282.3 C449.9 286.1 448.2 288.9 448.4 293.6 C448.6 298.3 452.2 308.1 451.8 310.5 C451.4 313.0 447.6 311.1 446.1 308.3 C444.7 305.5 443.7 298.9 443.3 293.6 C442.9 288.3 443.6 282.3 443.9 276.7 C444.2 271.0 443.3 263.7 445.0 259.7Z" fill="#2f2f2f" /><path d="M403.2 325.2 C405.5 322.8 412.6 318.8 419.0 319.6 C425.4 320.3 436.0 325.4 441.6 329.7 C447.3 334.1 452.9 342.9 452.9 345.5 C452.9 348.2 446.9 347.2 441.6 345.5 C436.4 343.9 427.3 337.3 421.3 335.4 C415.3 333.5 408.5 335.9 405.5 334.3 C402.5 332.6 401.0 327.7 403.2 325.2Z" fill="#242424" /><path d="M337.7 291.3 C338.9 288.0 343.2 290.2 344.5 293.6 C345.8 297.0 346.8 308.3 345.6 311.7 C344.5 315.1 339.1 317.3 337.7 313.9 C336.4 310.5 336.6 294.7 337.7 291.3Z" fill="#262626" /><path d="M464.2 334.3 C468.2 330.9 483.0 326.1 486.8 332.0 C490.6 337.8 489.0 363.1 486.8 369.4 C484.5 375.6 477.2 372.2 473.2 369.4 C469.3 366.5 464.6 358.2 463.1 352.3 C461.6 346.5 460.3 337.6 464.2 334.3Z" fill="#282828" /><path d="M469.9 360.7 C471.9 354.7 479.4 349.4 482.3 347.1 C485.1 344.9 486.0 333.6 486.8 347.1 C487.5 360.7 488.7 414.5 486.8 428.4 C484.9 442.4 478.9 431.8 475.5 430.7 C472.1 429.6 467.2 425.8 466.5 421.7 C465.7 417.5 470.4 412.3 471.0 405.9 C471.5 399.5 470.0 390.8 469.9 383.3 C469.7 375.7 467.8 366.7 469.9 360.7Z" fill="#2d2d2d" /><path d="M439.4 362.9 C442.0 357.3 452.0 353.9 455.2 360.7 C458.4 367.5 460.1 395.7 458.6 403.6 C457.1 411.5 449.3 409.6 446.1 408.1 C442.9 406.6 440.5 402.1 439.4 394.6 C438.2 387.0 436.7 368.6 439.4 362.9Z" fill="#262626" /><path d="M433.7 451.0 C435.6 447.6 444.8 446.5 447.3 448.8 C449.7 451.0 450.3 461.2 448.4 464.6 C446.5 468.0 438.4 471.3 436.0 469.1 C433.5 466.8 431.8 454.4 433.7 451.0Z" fill="#202020" /><path d="M466.5 530.1 C470.4 525.7 483.4 522.0 486.8 525.5 C490.2 529.1 490.7 547.2 486.8 551.5 C482.8 555.8 466.5 555.1 463.1 551.5 C459.7 547.9 462.5 534.4 466.5 530.1Z" fill="#282828" /><ellipse cx="416.8" cy="505.2" rx="5.6" ry="4.5" fill="#1e1e1e"/><ellipse cx="429.2" cy="521.0" rx="5.6" ry="4.5" fill="#1e1e1e"/><ellipse cx="352.4" cy="428.4" rx="5.6" ry="2.5" fill="#1c1c1c" transform="rotate(-33.0 352.4 428.4)"/><path d="M202.0 389.2 L271.5 339.7 L279.1 343.8 L278.2 346.0 L268.1 349.4 L255.4 354.5 L254.5 357.8 L246.1 360.4 L246.9 367.2 L249.5 372.2 L244.4 379.0 L239.3 379.9 L235.9 376.5 L227.4 376.5 L220.7 380.7 L221.5 384.1 L229.1 382.4 L231.7 386.6 L225.7 391.7 L223.2 399.3 L218.1 404.4 L214.7 401.0 L207.1 397.6 L213.9 393.4 L203.7 390.0Z" fill="#4b4b4b" /><path d="M267.2 412.0 L271.5 401.0 L274.9 394.3 L279.9 385.8 L282.5 377.3 L285.9 369.7 L291.8 367.2 L295.2 368.9 L293.5 373.9 L289.3 378.2 L291.8 384.1 L296.9 387.5 L302.0 385.8 L311.3 384.9 L313.8 390.0 L317.2 391.7 L312.1 394.3 L317.2 399.3 L315.5 404.4 L308.7 407.8 L303.7 409.5 L298.6 407.8 L293.5 409.5 L291.8 416.3 L286.7 416.3 L285.0 412.9 L279.9 414.6 L274.9 417.1 L269.8 414.6Z" fill="#4b4b4b" /><path d="M320.6 396.0 L324.0 387.5 L329.1 379.0 L334.2 374.8 L335.8 378.2 L333.3 385.8 L329.1 394.3 L324.0 399.3 L319.8 399.3Z" fill="#4b4b4b" /><path d="M452.9 256.3 L457.4 254.7 L461.4 256.3 L459.7 260.9 L458.6 265.4 L459.1 268.8 L463.1 267.6 L467.6 268.8 L472.1 273.3 L477.2 277.8 L474.9 282.3 L473.2 286.8 L477.2 292.5 L479.4 297.0 L478.3 304.9 L474.4 311.7 L468.7 316.2 L465.3 315.1 L463.1 309.4 L458.6 310.5 L454.0 311.1 L451.8 306.6 L451.2 302.6 L449.0 302.1 L450.1 297.0 L446.7 289.7 L448.4 284.6 L451.8 279.5 L451.2 274.4 L446.7 275.0 L445.6 272.7 L448.4 265.4 L450.1 260.9Z" fill="#4b4b4b" /><path d="M486.2 348.8 L481.1 351.7 L477.2 356.2 L478.3 362.9 L480.0 369.7 L477.2 376.5 L473.8 382.1 L475.5 388.9 L477.2 394.6 L474.9 399.1 L473.8 405.9 L476.6 409.2 L473.2 410.9 L469.3 414.9 L469.9 417.7 L473.8 417.1 L477.2 413.8 L482.3 410.4 L486.2 407.0Z" fill="#4b4b4b" /><path d="M445.6 364.6 L449.5 363.5 L452.4 367.5 L450.7 372.0 L450.1 376.5 L448.4 378.2 L451.2 382.1 L450.7 386.7 L449.0 391.2 L451.2 396.8 L454.6 400.2 L455.2 403.0 L451.8 404.7 L449.0 403.6 L447.8 398.0 L444.4 395.7 L442.2 392.3 L443.9 387.8 L446.7 383.3 L445.6 377.6 L446.1 373.1 L444.4 369.7Z" fill="#4b4b4b" /></g></g></g><path d="M202.0 389.2 L271.5 339.7 L279.1 343.8 L278.2 346.0 L268.1 349.4 L255.4 354.5 L254.5 357.8 L246.1 360.4 L246.9 367.2 L249.5 372.2 L244.4 379.0 L239.3 379.9 L235.9 376.5 L227.4 376.5 L220.7 380.7 L221.5 384.1 L229.1 382.4 L231.7 386.6 L225.7 391.7 L223.2 399.3 L218.1 404.4 L214.7 401.0 L207.1 397.6 L213.9 393.4 L203.7 390.0Z" fill="#74cc78" stroke="#000" stroke-width="1.3" stroke-linejoin="round"/><path d="M267.2 412.0 L271.5 401.0 L274.9 394.3 L279.9 385.8 L282.5 377.3 L285.9 369.7 L291.8 367.2 L295.2 368.9 L293.5 373.9 L289.3 378.2 L291.8 384.1 L296.9 387.5 L302.0 385.8 L311.3 384.9 L313.8 390.0 L317.2 391.7 L312.1 394.3 L317.2 399.3 L315.5 404.4 L308.7 407.8 L303.7 409.5 L298.6 407.8 L293.5 409.5 L291.8 416.3 L286.7 416.3 L285.0 412.9 L279.9 414.6 L274.9 417.1 L269.8 414.6Z" fill="#74cc78" stroke="#000" stroke-width="1.3" stroke-linejoin="round"/><path d="M320.6 396.0 L324.0 387.5 L329.1 379.0 L334.2 374.8 L335.8 378.2 L333.3 385.8 L329.1 394.3 L324.0 399.3 L319.8 399.3Z" fill="#74cc78" stroke="#000" stroke-width="1.3" stroke-linejoin="round"/><path d="M239.3 417.1 L244.4 414.3 L245.2 418.0 L241.0 419.7Z" fill="#74cc78" stroke="#000" stroke-width="1.3" stroke-linejoin="round"/><path d="M395.5 349.4 L398.5 348.5 L399.9 350.6 L397.7 351.9Z" fill="#74cc78" stroke="#000" stroke-width="1.3" stroke-linejoin="round"/><path d="M452.9 256.3 L457.4 254.7 L461.4 256.3 L459.7 260.9 L458.6 265.4 L459.1 268.8 L463.1 267.6 L467.6 268.8 L472.1 273.3 L477.2 277.8 L474.9 282.3 L473.2 286.8 L477.2 292.5 L479.4 297.0 L478.3 304.9 L474.4 311.7 L468.7 316.2 L465.3 315.1 L463.1 309.4 L458.6 310.5 L454.0 311.1 L451.8 306.6 L451.2 302.6 L449.0 302.1 L450.1 297.0 L446.7 289.7 L448.4 284.6 L451.8 279.5 L451.2 274.4 L446.7 275.0 L445.6 272.7 L448.4 265.4 L450.1 260.9Z" fill="#74cc78" stroke="#000" stroke-width="1.3" stroke-linejoin="round"/><path d="M467.6 203.3 L473.2 199.9 L478.9 196.5 L486.2 191.4 L486.2 198.8 L481.1 202.1 L477.8 206.7 L472.1 207.2 L468.7 205.5Z" fill="#74cc78" stroke="#000" stroke-width="1.3" stroke-linejoin="round"/><path d="M407.7 293.0 L410.6 291.9 L414.5 293.0 L415.1 295.3 L417.3 297.0 L415.7 299.3 L412.3 300.4 L408.9 298.1 L407.2 295.3Z" fill="#74cc78" stroke="#000" stroke-width="1.3" stroke-linejoin="round"/><path d="M415.7 304.3 L419.0 302.6 L422.4 303.2 L420.7 306.6 L421.3 309.4 L417.9 308.8Z" fill="#74cc78" stroke="#000" stroke-width="1.3" stroke-linejoin="round"/><path d="M423.0 314.5 L425.8 313.7 L426.9 315.6 L424.1 316.4Z" fill="#74cc78" stroke="#000" stroke-width="1.3" stroke-linejoin="round"/><path d="M466.5 343.9 L469.9 339.9 L475.5 337.6 L482.3 339.3 L486.2 341.0 L486.2 345.5 L478.9 347.8 L475.5 346.7 L472.1 350.1 L469.9 352.3 L467.6 348.9Z" fill="#74cc78" stroke="#000" stroke-width="1.3" stroke-linejoin="round"/><path d="M486.2 348.8 L481.1 351.7 L477.2 356.2 L478.3 362.9 L480.0 369.7 L477.2 376.5 L473.8 382.1 L475.5 388.9 L477.2 394.6 L474.9 399.1 L473.8 405.9 L476.6 409.2 L473.2 410.9 L469.3 414.9 L469.9 417.7 L473.8 417.1 L477.2 413.8 L482.3 410.4 L486.2 407.0Z" fill="#74cc78" stroke="#000" stroke-width="1.3" stroke-linejoin="round"/><path d="M445.6 364.6 L449.5 363.5 L452.4 367.5 L450.7 372.0 L450.1 376.5 L448.4 378.2 L451.2 382.1 L450.7 386.7 L449.0 391.2 L451.2 396.8 L454.6 400.2 L455.2 403.0 L451.8 404.7 L449.0 403.6 L447.8 398.0 L444.4 395.7 L442.2 392.3 L443.9 387.8 L446.7 383.3 L445.6 377.6 L446.1 373.1 L444.4 369.7Z" fill="#74cc78" stroke="#000" stroke-width="1.3" stroke-linejoin="round"/><path d="M410.6 398.0 L414.5 394.6 L422.4 390.6 L423.0 393.4 L419.0 398.0 L415.7 401.9 L412.3 400.8Z" fill="#74cc78" stroke="#000" stroke-width="1.3" stroke-linejoin="round"/><path d="M414.0 414.9 L417.9 412.1 L421.9 407.6 L423.0 413.8 L421.9 417.1 L416.8 417.1Z" fill="#74cc78" stroke="#000" stroke-width="1.3" stroke-linejoin="round"/><path d="M433.7 400.8 L436.5 396.8 L436.0 404.2 L434.3 403.6Z" fill="#74cc78" stroke="#000" stroke-width="1.3" stroke-linejoin="round"/><path d="M439.9 420.0 L442.2 418.5 L444.4 420.0 L443.3 422.8 L440.5 422.6Z" fill="#74cc78" stroke="#000" stroke-width="1.3" stroke-linejoin="round"/><path d="M456.9 420.3 L459.1 419.4 L460.3 421.1 L458.6 422.8Z" fill="#74cc78" stroke="#000" stroke-width="1.3" stroke-linejoin="round"/><path d="M464.8 425.1 L467.6 423.9 L470.4 427.3 L471.5 431.8 L473.2 435.2 L471.5 438.0 L468.7 435.2 L467.0 430.7Z" fill="#74cc78" stroke="#000" stroke-width="1.3" stroke-linejoin="round"/><path d="M446.7 444.8 L449.0 442.6 L451.2 444.2 L452.4 448.8 L450.7 451.0 L447.8 449.3Z" fill="#74cc78" stroke="#000" stroke-width="1.3" stroke-linejoin="round"/><path d="M446.1 344.9 L449.0 344.0 L451.8 346.0 L452.9 350.0 L446.1 350.0Z" fill="#74cc78" stroke="#000" stroke-width="1.3" stroke-linejoin="round"/><rect x="232.5" y="370.0" width="6.8" height="2.7" fill="#9cc4ff" transform="rotate(-33 235.9 371.4)"/><rect x="208.3" y="385.3" width="6.1" height="2.7" fill="#9cc4ff" transform="rotate(-33 211.3 386.6)"/><rect x="291.8" y="393.4" width="20.3" height="6.8" fill="#9cc4ff" transform="rotate(-33 302.0 396.8)"/><rect x="302.0" y="397.3" width="10.2" height="4.1" fill="#6cb4ff" transform="rotate(-33 307.0 399.3)"/><rect x="292.6" y="399.3" width="8.5" height="3.4" fill="#ccd4fc" transform="rotate(-33 296.9 401.0)"/><rect x="276.0" y="409.8" width="6.1" height="2.7" fill="#4468ff" transform="rotate(-33 279.1 411.2)"/><rect x="311.3" y="398.5" width="5.1" height="2.4" fill="#3c4cff" transform="rotate(-33 313.8 399.7)"/><rect x="286.7" y="410.0" width="5.1" height="2.4" fill="#84bcff" transform="rotate(-33 289.3 411.2)"/><rect x="324.8" y="386.0" width="8.5" height="3.0" fill="#9cc4ff" transform="rotate(-33 329.1 387.5)"/><rect x="327.9" y="383.1" width="4.1" height="2.0" fill="#3c4cff" transform="rotate(-33 329.9 384.1)"/><rect x="320.9" y="395.8" width="4.4" height="2.0" fill="#b4ccff" transform="rotate(-33 323.1 396.8)"/><rect x="463.1" y="290.8" width="13.5" height="16.9" fill="#b4ccff" transform="rotate(-33 469.9 299.3)"/><rect x="465.3" y="292.5" width="6.8" height="4.5" fill="#ccd4fc" transform="rotate(-33 468.7 294.7)"/><rect x="467.6" y="304.3" width="6.8" height="3.4" fill="#84bcff" transform="rotate(-33 471.0 306.0)"/><rect x="450.1" y="264.7" width="5.6" height="2.5" fill="#b4ccff" transform="rotate(-33 452.9 265.9)"/><rect x="469.3" y="277.1" width="5.6" height="2.5" fill="#9cc4ff" transform="rotate(-33 472.1 278.4)"/><rect x="472.7" y="203.2" width="5.6" height="2.5" fill="#9cc4ff" transform="rotate(-33 475.5 204.4)"/><rect x="408.9" y="292.6" width="4.5" height="2.0" fill="#54acff" transform="rotate(-33 411.1 293.6)"/><rect x="417.1" y="303.9" width="3.8" height="2.0" fill="#0000f4" transform="rotate(-33 419.0 304.9)"/><rect x="477.8" y="342.7" width="5.6" height="3.4" fill="#b4ccff" transform="rotate(-33 480.6 344.4)"/><rect x="480.9" y="359.6" width="4.5" height="4.5" fill="#84bcff" transform="rotate(-33 483.2 361.8)"/><rect x="480.2" y="376.5" width="4.5" height="4.5" fill="#9cc4ff" transform="rotate(-33 482.5 378.8)"/><rect x="477.2" y="381.6" width="3.4" height="3.4" fill="#ccd4fc" transform="rotate(-33 478.9 383.3)"/><rect x="474.4" y="399.6" width="9.0" height="7.9" fill="#0000f4" transform="rotate(-33 478.9 403.6)"/><rect x="478.7" y="399.4" width="3.8" height="3.4" fill="#ff4400" transform="rotate(-33 480.6 401.1)"/><rect x="478.1" y="407.3" width="2.9" height="1.6" fill="#ffe000" transform="rotate(-33 479.6 408.1)"/><rect x="481.7" y="391.0" width="3.4" height="2.7" fill="#3c4cff" transform="rotate(-33 483.4 392.3)"/><rect x="470.1" y="412.1" width="4.1" height="4.5" fill="#b4ccff" transform="rotate(-33 472.1 414.3)"/><rect x="446.9" y="366.0" width="3.4" height="2.9" fill="#84bcff" transform="rotate(-33 448.6 367.5)"/><rect x="446.7" y="372.8" width="3.4" height="2.9" fill="#ccd4fc" transform="rotate(-33 448.4 374.2)"/><rect x="443.7" y="390.0" width="5.0" height="4.5" fill="#0000f4" transform="rotate(-33 446.1 392.3)"/><rect x="446.7" y="387.8" width="2.9" height="2.3" fill="#84bcff" transform="rotate(-33 448.2 388.9)"/><rect x="449.5" y="399.9" width="4.5" height="3.4" fill="#9cc4ff" transform="rotate(-33 451.8 401.6)"/><rect x="417.9" y="413.3" width="3.4" height="2.0" fill="#4468ff" transform="rotate(-33 419.6 414.3)"/><rect x="440.7" y="419.9" width="2.5" height="1.8" fill="#3c4cff" transform="rotate(-33 442.0 420.8)"/><rect x="457.7" y="420.4" width="1.8" height="1.4" fill="#6cb4ff" transform="rotate(-33 458.6 421.1)"/><rect x="467.0" y="427.9" width="3.4" height="4.5" fill="#b4ccff" transform="rotate(-33 468.7 430.1)"/><rect x="447.6" y="444.5" width="3.4" height="4.5" fill="#3c4cff" transform="rotate(-33 449.3 446.7)"/><rect x="447.9" y="444.2" width="2.0" height="1.8" fill="#9cc4ff" transform="rotate(-33 449.0 445.2)"/><path d="M202.0 389.2 L271.5 339.7 L279.1 343.8 L278.2 346.0 L268.1 349.4 L255.4 354.5 L254.5 357.8 L246.1 360.4 L246.9 367.2 L249.5 372.2 L244.4 379.0 L239.3 379.9 L235.9 376.5 L227.4 376.5 L220.7 380.7 L221.5 384.1 L229.1 382.4 L231.7 386.6 L225.7 391.7 L223.2 399.3 L218.1 404.4 L214.7 401.0 L207.1 397.6 L213.9 393.4 L203.7 390.0Z" fill="none" stroke="#000" stroke-width="1.3" stroke-linejoin="round"/><path d="M267.2 412.0 L271.5 401.0 L274.9 394.3 L279.9 385.8 L282.5 377.3 L285.9 369.7 L291.8 367.2 L295.2 368.9 L293.5 373.9 L289.3 378.2 L291.8 384.1 L296.9 387.5 L302.0 385.8 L311.3 384.9 L313.8 390.0 L317.2 391.7 L312.1 394.3 L317.2 399.3 L315.5 404.4 L308.7 407.8 L303.7 409.5 L298.6 407.8 L293.5 409.5 L291.8 416.3 L286.7 416.3 L285.0 412.9 L279.9 414.6 L274.9 417.1 L269.8 414.6Z" fill="none" stroke="#000" stroke-width="1.3" stroke-linejoin="round"/><path d="M320.6 396.0 L324.0 387.5 L329.1 379.0 L334.2 374.8 L335.8 378.2 L333.3 385.8 L329.1 394.3 L324.0 399.3 L319.8 399.3Z" fill="none" stroke="#000" stroke-width="1.3" stroke-linejoin="round"/><path d="M239.3 417.1 L244.4 414.3 L245.2 418.0 L241.0 419.7Z" fill="none" stroke="#000" stroke-width="1.3" stroke-linejoin="round"/><path d="M395.5 349.4 L398.5 348.5 L399.9 350.6 L397.7 351.9Z" fill="none" stroke="#000" stroke-width="1.3" stroke-linejoin="round"/><path d="M452.9 256.3 L457.4 254.7 L461.4 256.3 L459.7 260.9 L458.6 265.4 L459.1 268.8 L463.1 267.6 L467.6 268.8 L472.1 273.3 L477.2 277.8 L474.9 282.3 L473.2 286.8 L477.2 292.5 L479.4 297.0 L478.3 304.9 L474.4 311.7 L468.7 316.2 L465.3 315.1 L463.1 309.4 L458.6 310.5 L454.0 311.1 L451.8 306.6 L451.2 302.6 L449.0 302.1 L450.1 297.0 L446.7 289.7 L448.4 284.6 L451.8 279.5 L451.2 274.4 L446.7 275.0 L445.6 272.7 L448.4 265.4 L450.1 260.9Z" fill="none" stroke="#000" stroke-width="1.3" stroke-linejoin="round"/><path d="M467.6 203.3 L473.2 199.9 L478.9 196.5 L486.2 191.4 L486.2 198.8 L481.1 202.1 L477.8 206.7 L472.1 207.2 L468.7 205.5Z" fill="none" stroke="#000" stroke-width="1.3" stroke-linejoin="round"/><path d="M407.7 293.0 L410.6 291.9 L414.5 293.0 L415.1 295.3 L417.3 297.0 L415.7 299.3 L412.3 300.4 L408.9 298.1 L407.2 295.3Z" fill="none" stroke="#000" stroke-width="1.3" stroke-linejoin="round"/><path d="M415.7 304.3 L419.0 302.6 L422.4 303.2 L420.7 306.6 L421.3 309.4 L417.9 308.8Z" fill="none" stroke="#000" stroke-width="1.3" stroke-linejoin="round"/><path d="M423.0 314.5 L425.8 313.7 L426.9 315.6 L424.1 316.4Z" fill="none" stroke="#000" stroke-width="1.3" stroke-linejoin="round"/><path d="M466.5 343.9 L469.9 339.9 L475.5 337.6 L482.3 339.3 L486.2 341.0 L486.2 345.5 L478.9 347.8 L475.5 346.7 L472.1 350.1 L469.9 352.3 L467.6 348.9Z" fill="none" stroke="#000" stroke-width="1.3" stroke-linejoin="round"/><path d="M486.2 348.8 L481.1 351.7 L477.2 356.2 L478.3 362.9 L480.0 369.7 L477.2 376.5 L473.8 382.1 L475.5 388.9 L477.2 394.6 L474.9 399.1 L473.8 405.9 L476.6 409.2 L473.2 410.9 L469.3 414.9 L469.9 417.7 L473.8 417.1 L477.2 413.8 L482.3 410.4 L486.2 407.0Z" fill="none" stroke="#000" stroke-width="1.3" stroke-linejoin="round"/><path d="M445.6 364.6 L449.5 363.5 L452.4 367.5 L450.7 372.0 L450.1 376.5 L448.4 378.2 L451.2 382.1 L450.7 386.7 L449.0 391.2 L451.2 396.8 L454.6 400.2 L455.2 403.0 L451.8 404.7 L449.0 403.6 L447.8 398.0 L444.4 395.7 L442.2 392.3 L443.9 387.8 L446.7 383.3 L445.6 377.6 L446.1 373.1 L444.4 369.7Z" fill="none" stroke="#000" stroke-width="1.3" stroke-linejoin="round"/><path d="M410.6 398.0 L414.5 394.6 L422.4 390.6 L423.0 393.4 L419.0 398.0 L415.7 401.9 L412.3 400.8Z" fill="none" stroke="#000" stroke-width="1.3" stroke-linejoin="round"/><path d="M414.0 414.9 L417.9 412.1 L421.9 407.6 L423.0 413.8 L421.9 417.1 L416.8 417.1Z" fill="none" stroke="#000" stroke-width="1.3" stroke-linejoin="round"/><path d="M433.7 400.8 L436.5 396.8 L436.0 404.2 L434.3 403.6Z" fill="none" stroke="#000" stroke-width="1.3" stroke-linejoin="round"/><path d="M439.9 420.0 L442.2 418.5 L444.4 420.0 L443.3 422.8 L440.5 422.6Z" fill="none" stroke="#000" stroke-width="1.3" stroke-linejoin="round"/><path d="M456.9 420.3 L459.1 419.4 L460.3 421.1 L458.6 422.8Z" fill="none" stroke="#000" stroke-width="1.3" stroke-linejoin="round"/><path d="M464.8 425.1 L467.6 423.9 L470.4 427.3 L471.5 431.8 L473.2 435.2 L471.5 438.0 L468.7 435.2 L467.0 430.7Z" fill="none" stroke="#000" stroke-width="1.3" stroke-linejoin="round"/><path d="M446.7 444.8 L449.0 442.6 L451.2 444.2 L452.4 448.8 L450.7 451.0 L447.8 449.3Z" fill="none" stroke="#000" stroke-width="1.3" stroke-linejoin="round"/><path d="M446.1 344.9 L449.0 344.0 L451.8 346.0 L452.9 350.0 L446.1 350.0Z" fill="none" stroke="#000" stroke-width="1.3" stroke-linejoin="round"/><circle cx="307.0" cy="368.9" r="1.5" fill="#000"/><circle cx="252.0" cy="387.1" r="1.2" fill="#000"/><circle cx="252.0" cy="421.4" r="1.0" fill="#000"/><circle cx="443.4" cy="355.3" r="1.4" fill="#000"/><circle cx="423.9" cy="315.5" r="1.5" fill="#222"/><circle cx="387.4" cy="259.7" r="1.4" fill="#000"/><circle cx="393.1" cy="267.1" r="0.9" fill="#000"/><circle cx="452.9" cy="244.8" r="1.4" fill="#000"/><circle cx="397.6" cy="350.4" r="1.8" fill="#9ad0a0" stroke="#000" stroke-width="1.2"/><circle cx="443.9" cy="355.1" r="1.4" fill="#000"/><circle cx="476.1" cy="333.1" r="1.0" fill="#000"/><circle cx="478.3" cy="317.3" r="1.4" fill="#9ad0a0" stroke="#000" stroke-width="1.2"/><circle cx="460.8" cy="448.8" r="1.0" fill="#000"/><circle cx="451.8" cy="452.7" r="0.9" fill="#000"/><circle cx="451.2" cy="427.9" r="0.7" fill="#000"/><circle cx="419.6" cy="503.0" r="1.5" fill="#9ad0a0" stroke="#000" stroke-width="1.2"/><circle cx="434.8" cy="509.7" r="1.5" fill="#9ad0a0" stroke="#000" stroke-width="1.2"/><circle cx="428.1" cy="519.9" r="1.4" fill="#9ad0a0" stroke="#000" stroke-width="1.2"/><circle cx="393.1" cy="522.7" r="1.7" fill="#9ad0a0" stroke="#000" stroke-width="1.2"/><circle cx="464.8" cy="507.5" r="1.6" fill="#9cc4ff" stroke="#000" stroke-width="1.2"/><circle cx="467.6" cy="543.0" r="1.0" fill="#000"/><circle cx="473.2" cy="515.4" r="0.7" fill="#000"/><circle cx="459.7" cy="547.6" r="1.1" fill="#000"/><ellipse cx="479.7" cy="324.4" rx="4.2" ry="3.4" fill="#0000f4" stroke="#000" stroke-width="1.2"/></g></g>
<line x1="87.80" y1="40.9" x2="87.80" y2="548.8" stroke="#000" stroke-width="1.35" stroke-dasharray="3.1 5.17" fill="none"/>
<line x1="166.52" y1="40.9" x2="166.52" y2="548.8" stroke="#000" stroke-width="1.35" stroke-dasharray="3.1 5.17" fill="none"/>
<line x1="245.24" y1="40.9" x2="245.24" y2="548.8" stroke="#000" stroke-width="1.35" stroke-dasharray="3.1 5.17" fill="none"/>
<line x1="323.96" y1="40.9" x2="323.96" y2="548.8" stroke="#000" stroke-width="1.35" stroke-dasharray="3.1 5.17" fill="none"/>
<line x1="402.68" y1="40.9" x2="402.68" y2="548.8" stroke="#000" stroke-width="1.35" stroke-dasharray="3.1 5.17" fill="none"/>
<line x1="481.40" y1="40.9" x2="481.40" y2="548.8" stroke="#000" stroke-width="1.35" stroke-dasharray="3.1 5.17" fill="none"/>
<line x1="12.9" y1="486.10" x2="486.0" y2="486.10" stroke="#000" stroke-width="1.35" stroke-dasharray="3.1 5.17" fill="none"/>
<line x1="12.9" y1="401.40" x2="486.0" y2="401.40" stroke="#000" stroke-width="1.35" stroke-dasharray="3.1 5.17" fill="none"/>
<line x1="12.9" y1="316.70" x2="486.0" y2="316.70" stroke="#000" stroke-width="1.35" stroke-dasharray="3.1 5.17" fill="none"/>
<line x1="12.9" y1="232.00" x2="486.0" y2="232.00" stroke="#000" stroke-width="1.35" stroke-dasharray="3.1 5.17" fill="none"/>
<line x1="12.9" y1="147.30" x2="486.0" y2="147.30" stroke="#000" stroke-width="1.35" stroke-dasharray="3.1 5.17" fill="none"/>
<line x1="12.9" y1="62.60" x2="486.0" y2="62.60" stroke="#000" stroke-width="1.35" stroke-dasharray="3.1 5.17" fill="none"/>
<text x="87.60" y="294.9" font-size="12.2" text-anchor="middle" font-family="Liberation Sans, Arial, Helvetica, sans-serif">84</text>
<text x="166.32" y="294.9" font-size="12.2" text-anchor="middle" font-family="Liberation Sans, Arial, Helvetica, sans-serif">86</text>
<text x="245.04" y="294.9" font-size="12.2" text-anchor="middle" font-family="Liberation Sans, Arial, Helvetica, sans-serif">88</text>
<text x="323.76" y="294.9" font-size="12.2" text-anchor="middle" font-family="Liberation Sans, Arial, Helvetica, sans-serif">90</text>
<text x="402.48" y="294.9" font-size="12.2" text-anchor="middle" font-family="Liberation Sans, Arial, Helvetica, sans-serif">92</text>
<text x="481.20" y="294.9" font-size="12.2" text-anchor="middle" font-family="Liberation Sans, Arial, Helvetica, sans-serif">94</text>
<text x="258.6" y="486.40" font-size="12.2" font-family="Liberation Sans, Arial, Helvetica, sans-serif">14</text>
<text x="258.6" y="401.70" font-size="12.2" font-family="Liberation Sans, Arial, Helvetica, sans-serif">16</text>
<text x="258.6" y="317.00" font-size="12.2" font-family="Liberation Sans, Arial, Helvetica, sans-serif">18</text>
<text x="258.6" y="232.30" font-size="12.2" font-family="Liberation Sans, Arial, Helvetica, sans-serif">20</text>
<text x="258.6" y="147.60" font-size="12.2" font-family="Liberation Sans, Arial, Helvetica, sans-serif">22</text>
<text x="258.6" y="62.90" font-size="12.2" font-family="Liberation Sans, Arial, Helvetica, sans-serif">24</text>
<g clip-path="url(#plotclip)"><path d="M179.9 548.2 L199.9 533.2 L219.9 518.2 L239.9 503.4 L259.9 488.7 L279.9 474.0 L299.9 459.5 L319.9 445.0 L339.9 430.7 L359.9 416.4 L379.9 402.3 L399.9 388.2 L419.9 374.3 L439.9 360.4 L459.9 346.6 L479.9 333.0" stroke="#000" stroke-width="1.0" stroke-dasharray="11.75 11.75" fill="none"/><line x1="333.5" y1="548.2" x2="492" y2="435.8" stroke="#000" stroke-width="1.0" stroke-dasharray="11.75 11.75" fill="none"/></g>
<path d="M13.0 381.6 L16.9 379.8 L20.3 377.3 L22.6 371.7 L23.7 367.1 L23.5 362.6 L23.4 366.5 L20.3 364.9 L19.4 361.5 L20.3 357.0 L24.3 352.5 L29.9 347.9 L37.3 344.3 L45.2 341.2 L50.8 337.5 L55.9 335.0 L57.6 331.6 L59.9 328.7 L63.2 327.0 L65.5 323.7 L67.8 319.7 L72.3 315.0 L79.1 310.1 L87.0 306.7 L92.0 304.1 L93.7 301.1 L98.8 295.4 L105.0 289.8 L111.2 280.7 L115.8 275.1 L118.0 270.6 L117.4 268.7 L119.7 267.8 L124.2 263.2 L133.3 255.3 L141.2 249.1 L150.2 244.6 L158.1 241.8 L167.1 239.3 L176.2 236.1 L181.4 232.3 L176.5 229.5 L172.3 226.3 L177.0 230.3 L181.4 232.3 L186.1 224.5 L189.0 222.2 L195.2 218.8 L197.4 215.4 L195.2 214.3 L195.7 211.5 L199.7 207.5 L206.5 203.4 L203.6 201.3 L204.2 197.9 L201.9 196.8 L203.6 195.7 L200.8 187.8 L199.4 182.1 L200.8 177.6 L204.8 172.5 L209.9 168.4 L217.8 165.8 L229.1 162.9 L235.8 160.4 L241.5 156.7 L246.0 151.6 L249.4 146.0 L252.2 141.5 L249.4 139.2 L245.4 137.0 L243.7 133.6 L242.4 130.2 L244.4 134.5 L245.4 135.8 L252.2 140.3 L253.0 143.7 L251.6 148.2 L253.3 155.0 L252.2 160.7 L256.7 165.2 L257.8 161.2 L256.2 157.8 L261.2 160.1 L262.9 162.9 L264.1 155.0 L265.8 151.6 L266.9 158.4 L264.6 166.9 L268.6 162.9 L269.7 156.2 L268.6 151.6 L270.3 147.1 L272.5 143.7 L275.4 142.6 L272.5 147.1 L272.0 151.6 L274.2 158.4 L273.7 165.8 L277.6 161.2 L279.9 162.9 L285.0 164.1 L288.3 162.9 L285.5 155.0 L282.1 149.4 L285.5 150.5 L287.2 143.2 L288.3 148.2 L290.0 155.0 L292.9 156.7 L294.0 161.2 L296.2 161.2 L297.9 155.0 L299.6 159.0 L302.5 157.3 L304.1 151.6 L305.6 143.7 L303.8 137.0 L306.4 143.7 L308.7 133.6 L307.5 143.7 L306.4 151.6 L307.0 158.4 L309.8 159.0 L310.9 153.9 L318.3 152.8 L319.4 146.0 L318.8 139.2 L319.4 131.3 L323.9 126.8 L321.1 131.3 L321.1 140.3 L324.5 146.0 L327.9 144.9 L325.6 149.4 L325.6 153.3 L327.9 152.8 L329.6 155.6 L332.9 155.0 L335.8 149.9 L336.9 146.0 L340.8 143.2 L345.4 139.2 L348.2 132.4 L348.7 127.7 L345.0 121.4 L344.1 116.8 L341.4 115.0 L340.5 112.3 L347.8 111.9 L349.6 109.2 L339.6 104.2 L344.6 98.8 L345.0 90.6 L331.9 85.7 L330.6 87.0 L327.9 79.8 L322.5 81.2 L316.1 74.4 L304.4 72.1 L293.6 66.3 M293.6 66.3 L303.5 70.3 L311.6 69.4 L312.5 65.8 L314.3 68.1 L317.0 73.5 L322.5 77.1 L327.9 78.9 L331.5 83.4 L337.8 85.7 L343.2 87.0 L346.4 85.7 L346.8 81.6 L343.2 80.7 L347.0 81.2 L348.7 84.3 L348.2 88.8 L349.6 94.3 L347.3 98.8 L347.8 102.4 L352.3 108.7 L358.6 110.5 L364.5 113.2 L370.3 113.2 L375.8 114.1 L377.6 112.3 L377.1 109.6 L378.9 112.8 L380.3 109.6 L382.5 109.6 L381.6 113.7 L386.6 118.7 L392.0 127.7 L394.3 134.9 L396.5 135.4 L396.1 140.3 L398.3 147.6 L400.1 156.6 L403.3 162.0 L401.5 169.2 L404.9 178.1 L405.5 183.4 L410.5 189.9 L413.3 198.0 L416.1 198.9 L410.8 183.4 L416.7 198.0 L417.6 202.3 L421.1 204.5 L424.8 209.8 L428.5 214.1 L430.1 219.1 L431.6 219.1 L432.2 214.7 L431.3 209.8 L428.8 203.5 L432.9 211.6 L436.0 212.9 L436.9 216.0 L440.3 218.1 L436.3 219.7 L432.9 223.4 L436.3 226.5 L438.8 225.3 L440.9 219.7 L444.7 209.4 L442.8 219.7 L446.2 214.4 L443.4 222.8 L446.5 224.7 L443.4 225.9 L441.2 227.8 L444.0 232.7 L447.5 239.3 L447.8 235.8 L446.5 233.4 L448.7 234.0 L451.5 238.3 L448.1 232.1 L447.8 229.9 L452.1 229.9 L455.2 228.1 L460.2 234.0 L462.0 232.7 L464.5 237.1 L467.6 235.8 L470.7 235.8 L467.0 238.3 L466.4 242.7 L470.1 242.7 L471.4 245.2 L473.9 243.9 L473.2 247.6 L471.2 248.6 L477.4 252.4 L481.0 256.7 L481.5 258.5 L477.4 263.5 L484.7 258.1 L484.2 264.4 L482.8 267.1 L484.2 270.7 L484.0 276.1 L483.5 280.7 L485.8 281.3 M461.2 256.7 L465.7 256.7 L467.0 259.9 L472.5 263.7 L477.0 263.3 L478.8 267.1 L479.7 270.7 L481.5 274.3 L480.1 277.9 L478.3 279.5 L475.2 277.9 L470.2 273.9 L466.1 268.0 L461.6 261.2 L461.2 256.7 M131.6 252.5 L133.8 247.4 L136.1 243.5 L141.2 239.5 L145.7 236.7 L149.6 237.3 L149.6 242.3 L145.7 245.2 L136.6 246.5 L135.0 251.4 L131.6 252.5 M140.0 249.5 L143.5 246.8 L147.5 244.3 L146.0 246.2" fill="none" stroke="#000" stroke-width="1.3" stroke-linejoin="round"/><path d="M480.1 261.2 L484.7 258.1 L484.2 264.8 L481.9 267.1Z" fill="#000" stroke="#000" stroke-width="0.8"/>
<path d="M243.0 294.4h12.8M249.4 288.0v12.8" stroke="#000" stroke-width="4.4" fill="none"/>

<text x="44.5" y="66.0" font-size="24.8" textLength="172.0" lengthAdjust="spacingAndGlyphs" font-family="Liberation Sans, Arial, Helvetica, sans-serif">85GHz PCT (K)</text>
<text x="438.5" y="523.3" font-size="31" font-family="Liberation Sans, Arial, Helvetica, sans-serif">(d)</text>
<rect x="495.0" y="531.67" width="9.0" height="8.77" fill="#f6f6f6"/>
<rect x="495.0" y="523.20" width="9.0" height="8.77" fill="#eeeeee"/>
<rect x="495.0" y="514.73" width="9.0" height="8.77" fill="#e6e6e6"/>
<rect x="495.0" y="506.27" width="9.0" height="8.77" fill="#dedede"/>
<rect x="495.0" y="497.80" width="9.0" height="8.77" fill="#d6d5d5"/>
<rect x="495.0" y="489.33" width="9.0" height="8.77" fill="#cecdcd"/>
<rect x="495.0" y="480.87" width="9.0" height="8.77" fill="#c6c5c5"/>
<rect x="495.0" y="472.40" width="9.0" height="8.77" fill="#bebdbd"/>
<rect x="495.0" y="463.93" width="9.0" height="8.77" fill="#b6b5b5"/>
<rect x="495.0" y="455.47" width="9.0" height="8.77" fill="#aeadad"/>
<rect x="495.0" y="447.00" width="9.0" height="8.77" fill="#a6a4a4"/>
<rect x="495.0" y="438.53" width="9.0" height="8.77" fill="#9e9c9c"/>
<rect x="495.0" y="430.07" width="9.0" height="8.77" fill="#969494"/>
<rect x="495.0" y="421.60" width="9.0" height="8.77" fill="#8e8c8c"/>
<rect x="495.0" y="413.13" width="9.0" height="8.77" fill="#84dc88"/>
<rect x="495.0" y="404.67" width="9.0" height="8.77" fill="#7cd380"/>
<rect x="495.0" y="396.20" width="9.0" height="8.77" fill="#74ca78"/>
<rect x="495.0" y="387.73" width="9.0" height="8.77" fill="#6cc170"/>
<rect x="495.0" y="379.27" width="9.0" height="8.77" fill="#64b868"/>
<rect x="495.0" y="370.80" width="9.0" height="8.77" fill="#ccd4fc"/>
<rect x="495.0" y="362.33" width="9.0" height="8.77" fill="#b4ccff"/>
<rect x="495.0" y="353.87" width="9.0" height="8.77" fill="#9cc4ff"/>
<rect x="495.0" y="345.40" width="9.0" height="8.77" fill="#84bcff"/>
<rect x="495.0" y="336.93" width="9.0" height="8.77" fill="#6cb4ff"/>
<rect x="495.0" y="328.47" width="9.0" height="8.77" fill="#54acff"/>
<rect x="495.0" y="320.00" width="9.0" height="8.77" fill="#4c88ff"/>
<rect x="495.0" y="311.53" width="9.0" height="8.77" fill="#4468ff"/>
<rect x="495.0" y="303.07" width="9.0" height="8.77" fill="#3c4cff"/>
<rect x="495.0" y="294.60" width="9.0" height="8.77" fill="#3030ff"/>
<rect x="495.0" y="286.13" width="9.0" height="8.77" fill="#0000ff"/>
<rect x="495.0" y="277.67" width="9.0" height="8.77" fill="#0000f4"/>
<rect x="495.0" y="269.20" width="9.0" height="8.77" fill="#0000e6"/>
<rect x="495.0" y="260.73" width="9.0" height="8.77" fill="#0000d8"/>
<rect x="495.0" y="252.27" width="9.0" height="8.77" fill="#0808c8"/>
<rect x="495.0" y="243.80" width="9.0" height="8.77" fill="#ffff00"/>
<rect x="495.0" y="235.33" width="9.0" height="8.77" fill="#fff300"/>
<rect x="495.0" y="226.87" width="9.0" height="8.77" fill="#ffe800"/>
<rect x="495.0" y="218.40" width="9.0" height="8.77" fill="#ffdc00"/>
<rect x="495.0" y="209.93" width="9.0" height="8.77" fill="#ffd000"/>
<rect x="495.0" y="201.47" width="9.0" height="8.77" fill="#ff9000"/>
<rect x="495.0" y="193.00" width="9.0" height="8.77" fill="#ff8800"/>
<rect x="495.0" y="184.53" width="9.0" height="8.77" fill="#ff8000"/>
<rect x="495.0" y="176.07" width="9.0" height="8.77" fill="#ff7800"/>
<rect x="495.0" y="167.60" width="9.0" height="8.77" fill="#ff7000"/>
<rect x="495.0" y="159.13" width="9.0" height="8.77" fill="#ff4400"/>
<rect x="495.0" y="150.67" width="9.0" height="8.77" fill="#ff3800"/>
<rect x="495.0" y="142.20" width="9.0" height="8.77" fill="#ff2c00"/>
<rect x="495.0" y="133.73" width="9.0" height="8.77" fill="#ff2000"/>
<rect x="495.0" y="125.27" width="9.0" height="8.77" fill="#ff1400"/>
<rect x="495.0" y="116.80" width="9.0" height="8.77" fill="#c80000"/>
<rect x="495.0" y="108.33" width="9.0" height="8.77" fill="#be0300"/>
<rect x="495.0" y="99.87" width="9.0" height="8.77" fill="#b40600"/>
<rect x="495.0" y="91.40" width="9.0" height="8.77" fill="#aa0900"/>
<rect x="495.0" y="82.93" width="9.0" height="8.77" fill="#a00c00"/>
<rect x="495.0" y="74.47" width="9.0" height="8.77" fill="#620e06"/>
<rect x="495.0" y="66.00" width="9.0" height="8.77" fill="#60110a"/>
<rect x="495.0" y="57.53" width="9.0" height="8.77" fill="#5e140f"/>
<rect x="495.0" y="49.07" width="9.0" height="8.77" fill="#5c1714"/>
<rect x="495.0" y="40.60" width="9.0" height="8.77" fill="#5a1a18"/>
<line x1="504.0" y1="548.60" x2="506.0" y2="548.60" stroke="#222" stroke-width="0.9"/>
<text x="524.0" y="557.20" font-size="19.2" text-anchor="middle" font-family="Liberation Sans, Arial, Helvetica, sans-serif">300</text>
<line x1="504.0" y1="497.80" x2="506.0" y2="497.80" stroke="#222" stroke-width="0.9"/>
<text x="524.0" y="506.40" font-size="19.2" text-anchor="middle" font-family="Liberation Sans, Arial, Helvetica, sans-serif">279</text>
<line x1="504.0" y1="447.00" x2="506.0" y2="447.00" stroke="#222" stroke-width="0.9"/>
<text x="524.0" y="455.60" font-size="19.2" text-anchor="middle" font-family="Liberation Sans, Arial, Helvetica, sans-serif">258</text>
<line x1="504.0" y1="396.20" x2="506.0" y2="396.20" stroke="#222" stroke-width="0.9"/>
<text x="524.0" y="404.80" font-size="19.2" text-anchor="middle" font-family="Liberation Sans, Arial, Helvetica, sans-serif">237</text>
<line x1="504.0" y1="345.40" x2="506.0" y2="345.40" stroke="#222" stroke-width="0.9"/>
<text x="524.0" y="354.00" font-size="19.2" text-anchor="middle" font-family="Liberation Sans, Arial, Helvetica, sans-serif">216</text>
<line x1="504.0" y1="294.60" x2="506.0" y2="294.60" stroke="#222" stroke-width="0.9"/>
<text x="524.0" y="303.20" font-size="19.2" text-anchor="middle" font-family="Liberation Sans, Arial, Helvetica, sans-serif">195</text>
<line x1="504.0" y1="243.80" x2="506.0" y2="243.80" stroke="#222" stroke-width="0.9"/>
<text x="524.0" y="252.40" font-size="19.2" text-anchor="middle" font-family="Liberation Sans, Arial, Helvetica, sans-serif">174</text>
<line x1="504.0" y1="193.00" x2="506.0" y2="193.00" stroke="#222" stroke-width="0.9"/>
<text x="524.0" y="201.60" font-size="19.2" text-anchor="middle" font-family="Liberation Sans, Arial, Helvetica, sans-serif">153</text>
<line x1="504.0" y1="142.20" x2="506.0" y2="142.20" stroke="#222" stroke-width="0.9"/>
<text x="524.0" y="150.80" font-size="19.2" text-anchor="middle" font-family="Liberation Sans, Arial, Helvetica, sans-serif">132</text>
<line x1="504.0" y1="91.40" x2="506.0" y2="91.40" stroke="#222" stroke-width="0.9"/>
<text x="524.0" y="100.00" font-size="19.2" text-anchor="middle" font-family="Liberation Sans, Arial, Helvetica, sans-serif">111</text>
</g>
<g transform="translate(590.75 590.60)">
<g clip-path="url(#plotclip)"><g clip-path="url(#trie)"><g transform="rotate(-33 250 370)"><g filter="url(#pe)"><g transform="rotate(33 250 370)"><rect x="-200" y="-100" width="900" height="900" fill="#616161"/><path d="M-17.7 592.3 C-82.6 578.2 -37.5 531.3 -17.7 507.6 C2.1 483.9 68.7 462.4 100.9 450.0 C133.1 437.6 152.8 433.1 175.4 433.1 C198.0 433.1 214.9 449.4 236.4 450.0 C257.9 450.6 287.2 442.1 304.2 436.4 C321.1 430.8 327.9 425.7 338.0 416.1 C348.2 406.5 355.0 386.2 365.1 378.8 C375.3 371.5 387.2 370.4 399.0 372.1 C410.9 373.8 427.8 381.7 436.3 389.0 C444.8 396.4 452.1 402.0 449.8 416.1 C447.6 430.2 434.6 461.3 422.7 473.7 C410.9 486.1 387.2 470.9 378.7 490.6 C370.2 510.4 438.0 575.3 371.9 592.3 C305.9 609.2 47.2 606.4 -17.7 592.3Z" fill="#5b5b5b" /><path d="M388.9 456.8 C394.5 448.3 419.9 441.0 439.7 439.8 C459.4 438.7 496.1 438.7 507.4 450.0 C518.7 461.3 517.0 499.1 507.4 507.6 C497.8 516.1 466.8 503.6 449.8 500.8 C432.9 498.0 416.0 498.0 405.8 490.6 C395.6 483.3 383.2 465.2 388.9 456.8Z" fill="#5d5d5d" /><path d="M287.2 321.3 C317.4 294.1 448.7 204.4 485.4 182.3 C522.1 160.3 503.8 179.0 507.4 189.1 C511.1 199.3 521.6 228.6 507.4 243.3 C493.3 258.0 448.1 263.7 422.7 277.2 C397.3 290.8 374.7 313.3 355.0 324.6 C335.2 335.9 315.5 345.5 304.2 345.0 C292.9 344.4 257.0 348.4 287.2 321.3Z" fill="#636363" /><path d="M168.6 416.1 C169.8 408.8 204.8 387.3 216.1 385.6 C227.4 383.9 237.5 398.6 236.4 405.9 C235.3 413.3 220.6 428.0 209.3 429.7 C198.0 431.4 167.5 423.5 168.6 416.1Z" fill="#656565" /><path d="M450.1 257.2 C454.4 256.0 462.3 258.9 467.1 262.2 C471.9 265.6 475.5 272.7 478.9 277.5 C482.3 282.3 486.0 284.3 487.4 291.0 C488.8 297.8 490.5 314.5 487.4 318.1 C484.3 321.8 474.4 313.3 468.8 313.1 C463.1 312.8 458.6 318.4 453.5 316.4 C448.4 314.5 441.2 306.0 438.3 301.2 C435.3 296.4 435.2 293.0 435.7 287.6 C436.3 282.3 439.2 274.1 441.6 269.0 C444.0 263.9 445.9 258.3 450.1 257.2Z" fill="#828282" /><path d="M453.5 263.9 C457.0 263.1 463.1 264.5 467.1 267.3 C471.0 270.1 474.1 276.4 477.2 280.9 C480.3 285.4 484.3 289.9 485.7 294.4 C487.1 298.9 488.5 306.3 485.7 308.0 C482.9 309.7 473.8 304.9 468.8 304.6 C463.7 304.3 459.4 307.7 455.2 306.3 C451.0 304.9 445.6 299.2 443.3 296.1 C441.1 293.0 441.2 291.6 441.6 287.6 C442.1 283.7 443.9 276.4 445.9 272.4 C447.9 268.5 450.0 264.8 453.5 263.9Z" fill="#8e8e8e" /><path d="M375.6 263.9 C375.9 262.0 384.1 257.2 387.4 257.2 C390.8 257.2 394.6 261.1 395.9 263.9 C397.2 266.8 396.8 273.3 395.1 274.1 C393.4 274.9 389.0 270.7 385.7 269.0 C382.5 267.3 375.3 265.9 375.6 263.9Z" fill="#868686" /><path d="M404.4 293.6 C405.9 292.2 413.0 294.1 416.2 296.1 C419.5 298.1 423.6 303.0 423.9 305.4 C424.1 307.8 420.8 310.7 417.9 310.5 C415.1 310.4 409.2 307.4 406.9 304.6 C404.7 301.8 402.8 295.0 404.4 293.6Z" fill="#848484" /><path d="M339.2 294.4 C339.7 295.6 341.7 298.8 342.6 301.2 C343.4 303.6 344.0 307.6 344.2 308.8" fill="none" stroke="#777777" stroke-width="4.0" stroke-linecap="round" stroke-linejoin="round"/><path d="M465.4 203.0 C465.9 200.6 473.6 197.6 477.2 197.9 C480.9 198.2 485.7 202.1 487.4 204.6 C489.1 207.2 489.6 211.8 487.4 213.1 C485.1 214.4 477.5 214.0 473.8 212.3 C470.2 210.6 464.8 205.4 465.4 203.0Z" fill="#7b7b7b" /><path d="M404.4 323.2 C405.2 321.8 410.9 323.8 414.5 324.9 C418.2 326.0 422.7 328.6 426.4 330.0 C430.1 331.4 435.4 331.8 436.6 333.4 C437.7 334.9 435.4 338.9 433.2 339.3 C430.9 339.7 427.0 336.9 423.0 335.9 C419.1 334.9 412.6 335.5 409.5 333.4 C406.4 331.3 403.5 324.6 404.4 323.2Z" fill="#777777" /><path d="M455.2 324.9 C456.6 323.2 463.4 322.7 468.8 321.5 C474.1 320.4 484.3 316.4 487.4 318.1 C490.5 319.8 489.6 329.2 487.4 331.7 C485.1 334.2 478.4 333.4 473.8 333.4 C469.3 333.4 463.4 333.1 460.3 331.7 C457.2 330.3 453.8 326.6 455.2 324.9Z" fill="#7d7d7d" /><path d="M196.0 395.2 C208.0 385.1 263.8 343.9 278.2 335.4 C292.5 326.9 283.4 340.5 282.1 344.4 C280.8 348.3 274.7 355.7 270.2 358.8 C265.7 361.9 258.9 360.2 255.0 363.0 C251.0 365.9 249.9 371.4 246.5 375.7 C243.1 380.1 238.9 385.7 234.6 389.3 C230.4 392.9 225.8 396.2 221.1 397.4 C216.4 398.6 210.4 396.8 206.2 396.4 C202.0 396.0 184.0 405.4 196.0 395.2Z" fill="#868686" /><ellipse cx="263.8" cy="350.3" rx="11.9" ry="5.1" fill="#8e8e8e" transform="rotate(-35.0 263.8 350.3)"/><ellipse cx="235.0" cy="372.3" rx="14.4" ry="5.8" fill="#8e8e8e" transform="rotate(-35.0 235.0 372.3)"/><ellipse cx="213.0" cy="389.3" rx="10.2" ry="4.1" fill="#8c8c8c" transform="rotate(-35.0 213.0 389.3)"/><ellipse cx="262.1" cy="371.5" rx="6.4" ry="4.4" fill="#848484" transform="rotate(-35.0 262.1 371.5)"/><path d="M284.1 372.3 C286.8 369.2 290.3 364.0 294.3 362.2 C298.2 360.3 303.9 360.3 307.8 361.3 C311.8 362.3 316.7 365.9 318.0 368.1 C319.3 370.4 317.4 373.5 315.4 374.9 C313.5 376.3 307.0 374.7 306.1 376.6 C305.3 378.4 307.5 383.6 310.4 385.9 C313.2 388.2 319.8 391.8 323.1 390.1 C326.3 388.4 328.4 380.7 329.8 375.7 C331.3 370.8 330.1 362.9 331.5 360.5 C333.0 358.1 336.5 359.9 338.3 361.3 C340.2 362.7 343.0 364.9 342.6 369.0 C342.1 373.1 338.6 381.0 335.8 385.9 C333.0 390.8 329.7 395.6 325.6 398.6 C321.5 401.6 316.4 402.6 311.2 403.7 C306.0 404.8 299.4 405.9 294.3 405.4 C289.2 404.8 284.3 402.4 280.7 400.3 C277.2 398.2 273.5 395.9 273.1 392.7 C272.7 389.4 276.3 384.2 278.2 380.8 C280.0 377.4 281.4 375.5 284.1 372.3Z" fill="#8a8a8a" /><path d="M284.1 389.3 C286.1 388.0 293.7 389.6 297.7 391.0 C301.6 392.4 307.8 395.9 307.8 397.8 C307.8 399.6 301.3 401.9 297.7 402.0 C294.0 402.1 288.1 400.7 285.8 398.6 C283.5 396.5 282.1 390.6 284.1 389.3Z" fill="#909090" /><path d="M268.9 397.8 C272.3 397.5 277.6 401.1 284.1 402.8 C290.6 404.5 305.6 405.9 307.8 407.9 C310.1 409.9 302.7 414.1 297.7 414.7 C292.6 415.3 283.0 413.0 277.3 411.3 C271.7 409.6 265.2 406.8 263.8 404.5 C262.4 402.3 265.5 398.0 268.9 397.8Z" fill="#808080" /><path d="M236.4 416.3 C235.8 413.7 240.4 413.2 244.9 414.6 C249.4 416.0 261.0 421.6 263.5 424.8 C266.0 427.9 262.7 432.4 260.1 433.2 C257.6 434.1 252.2 432.7 248.3 429.8 C244.3 427.0 237.0 418.8 236.4 416.3Z" fill="#777777" /><path d="M458.6 331.6 C460.3 331.3 465.4 338.1 468.8 338.4 C472.2 338.6 475.9 335.5 479.0 333.3 C482.1 331.0 486.0 310.1 487.4 324.8 C488.9 339.5 489.4 406.1 487.4 421.4 C485.5 436.6 478.7 418.5 475.6 416.3 C472.5 414.0 468.8 411.5 468.8 407.8 C468.8 404.1 473.9 399.3 475.6 394.3 C477.3 389.2 479.0 383.5 479.0 377.3 C479.0 371.1 477.6 361.8 475.6 357.0 C473.6 352.2 469.9 351.3 467.1 348.5 C464.3 345.7 460.1 342.9 458.6 340.1 C457.2 337.2 457.0 331.9 458.6 331.6Z" fill="#848484" /><path d="M441.7 299.4 C447.6 297.7 479.8 296.9 487.4 299.4 C495.1 301.9 491.1 312.4 487.4 314.6 C483.8 316.9 471.4 313.8 465.4 313.0 C459.5 312.1 455.8 311.8 451.9 309.6 C447.9 307.3 435.8 301.1 441.7 299.4Z" fill="#868686" /><path d="M407.8 387.5 C409.0 389.2 412.9 393.7 414.6 397.6 C416.3 401.6 416.4 407.7 418.0 411.2 C419.5 414.7 422.9 417.6 423.9 418.8" fill="none" stroke="#868686" stroke-width="6.5" stroke-linecap="round" stroke-linejoin="round"/><path d="M438.3 355.3 C439.7 358.1 444.8 366.3 446.8 372.2 C448.8 378.2 449.2 386.1 450.2 390.9 C451.2 395.7 452.3 399.3 452.7 401.0" fill="none" stroke="#828282" stroke-width="5.0" stroke-linecap="round" stroke-linejoin="round"/><path d="M407.8 328.2 C409.5 329.0 414.9 331.4 418.0 333.3 C421.1 335.1 423.6 338.8 426.5 339.2 C429.3 339.6 433.5 336.4 434.9 335.8" fill="none" stroke="#777777" stroke-width="5.0" stroke-linecap="round" stroke-linejoin="round"/><path d="M463.7 421.4 L469.7 434.9" fill="none" stroke="#868686" stroke-width="5.0" stroke-linecap="round" stroke-linejoin="round"/><path d="M440.0 418.0 L441.7 421.4" fill="none" stroke="#868686" stroke-width="5.0" stroke-linecap="round" stroke-linejoin="round"/><path d="M448.5 443.4 C448.8 444.8 451.2 448.9 450.2 451.9 C449.2 454.8 445.1 459.5 442.6 461.2 C440.0 462.9 436.2 461.9 434.9 462.0" fill="none" stroke="#757575" stroke-width="5.0" stroke-linecap="round" stroke-linejoin="round"/><path d="M414.6 497.6 L418.8 508.6" fill="none" stroke="#797979" stroke-width="5.0" stroke-linecap="round" stroke-linejoin="round"/><path d="M390.9 517.9 L392.6 521.3" fill="none" stroke="#797979" stroke-width="5.0" stroke-linecap="round" stroke-linejoin="round"/><path d="M406.1 394.3 C407.0 393.1 409.0 389.2 411.2 387.5 C413.5 385.8 418.3 384.7 419.7 384.1" fill="none" stroke="#757575" stroke-width="4.0" stroke-linecap="round" stroke-linejoin="round"/><ellipse cx="397.7" cy="352.8" rx="4.7" ry="3.7" fill="#777777" transform="rotate(-35.0 397.7 352.8)"/><ellipse cx="407.8" cy="470.5" rx="7.6" ry="4.2" fill="#6a6a6a" transform="rotate(-35.0 407.8 470.5)"/><ellipse cx="433.2" cy="456.9" rx="10.2" ry="5.1" fill="#6a6a6a" transform="rotate(-35.0 433.2 456.9)"/><path d="M446.8 550.1 C442.0 547.8 451.9 539.7 458.6 536.6 C465.4 533.4 482.6 529.2 487.4 531.5 C492.2 533.7 494.2 547.0 487.4 550.1 C480.7 553.2 451.6 552.4 446.8 550.1Z" fill="#808080" /><ellipse cx="480.3" cy="401.0" rx="5.8" ry="8.1" fill="#a2a2a2" transform="rotate(25.0 480.3 401.0)"/><ellipse cx="480.3" cy="400.7" rx="2.4" ry="4.1" fill="#cacaca" transform="rotate(25.0 480.3 400.7)"/><path d="M9.4 532.3 C16.2 524.3 40.5 506.3 50.1 501.8 C59.7 497.3 63.5 502.3 67.0 505.2 C70.5 508.2 71.7 515.5 71.2 519.6 C70.8 523.7 67.0 527.0 64.5 529.8 C61.9 532.6 56.0 533.2 56.0 536.6 C56.0 539.9 72.2 547.8 64.5 550.1 C56.7 552.4 18.6 553.1 9.4 550.1 C0.2 547.1 2.6 540.4 9.4 532.3Z" fill="#4b4b4b" /><path d="M55.2 524.7 C57.1 521.6 74.1 523.8 78.9 526.4 C83.7 528.9 85.9 536.8 83.9 539.9 C82.0 543.0 71.8 547.6 67.0 545.0 C62.2 542.5 53.2 527.8 55.2 524.7Z" fill="#555555" /><path d="M128.0 438.3 C130.8 432.4 146.6 430.1 151.7 433.2 C156.8 436.3 161.3 451.0 158.5 456.9 C155.7 462.9 139.8 471.9 134.8 468.8 C129.7 465.7 125.2 444.2 128.0 438.3Z" fill="#565656" /><path d="M134.8 499.3 C143.2 496.7 191.2 494.8 202.5 497.6 C213.8 500.4 211.0 513.7 202.5 516.2 C194.1 518.8 163.0 515.7 151.7 512.8 C140.4 510.0 126.3 501.8 134.8 499.3Z" fill="#565656" /><path d="M389.2 401.9 C390.1 399.9 397.3 400.0 400.2 402.7 C403.1 405.4 405.5 413.6 406.5 418.0 C407.5 422.4 407.6 426.4 406.1 429.0 C404.7 431.6 400.5 433.7 397.7 433.6 C394.8 433.4 389.4 431.3 388.9 428.1 C388.3 425.0 394.6 419.0 394.6 414.6 C394.7 410.2 388.3 403.9 389.2 401.9Z" fill="#4a4a4a" /><path d="M367.2 433.2 C369.4 431.5 380.2 429.6 384.1 429.8 C388.1 430.1 393.1 433.2 390.9 434.9 C388.6 436.6 374.5 440.3 370.6 440.0 C366.6 439.7 364.9 434.9 367.2 433.2Z" fill="#545454" /><path d="M428.2 535.7 C429.1 531.5 434.6 530.1 437.0 524.7 C439.3 519.3 440.1 505.8 442.0 503.5 C444.0 501.3 448.0 505.6 448.8 511.1 C449.7 516.7 448.3 530.1 447.1 536.6 C446.0 543.0 444.6 547.8 442.0 550.1 C439.4 552.4 433.9 552.5 431.5 550.1 C429.2 547.7 427.3 539.9 428.2 535.7Z" fill="#4a4a4a" /><path d="M407.8 507.8 C409.2 501.8 419.4 495.1 423.1 494.2 C426.7 493.4 431.3 496.7 429.8 502.7 C428.4 508.6 418.3 528.9 414.6 529.8 C410.9 530.6 406.4 513.7 407.8 507.8Z" fill="#555555" /><path d="M443.3 216.5 C444.2 215.7 450.1 216.5 453.5 218.2 C456.9 219.9 463.1 224.9 463.7 226.7 C464.2 228.4 459.4 229.3 456.9 228.7 C454.4 228.1 450.7 225.3 448.4 223.3 C446.2 221.2 442.5 217.4 443.3 216.5Z" fill="#4c4c4c" /><path d="M455.2 238.5 C456.6 236.8 463.4 234.9 467.1 236.8 C470.7 238.8 474.3 246.4 477.2 250.4 C480.1 254.3 483.2 255.3 484.3 260.5 C485.5 265.8 485.5 280.3 484.3 281.7 C483.2 283.1 480.1 273.4 477.2 269.0 C474.3 264.6 470.2 259.1 467.1 255.5 C464.0 251.8 460.6 249.8 458.6 247.0 C456.6 244.2 453.8 240.2 455.2 238.5Z" fill="#4c4c4c" /></g></g></g><rect x="475.9" y="322.2" width="5.5" height="3.6" fill="#ffe000" transform="rotate(-33 478.6 324.0)"/><rect x="440.7" y="388.2" width="5.5" height="3.6" fill="#ffe000" transform="rotate(-33 443.4 390.0)"/><rect x="481.4" y="378.9" width="5.5" height="3.6" fill="#ffe000" transform="rotate(-33 484.1 380.7)"/><rect x="328.1" y="384.0" width="5.5" height="3.6" fill="#ffe000" transform="rotate(-33 330.8 385.8)"/><rect x="327.2" y="380.3" width="5.5" height="3.6" fill="#ffe000" transform="rotate(-33 329.9 382.1)"/><rect x="308.6" y="397.2" width="5.5" height="3.6" fill="#ffe000" transform="rotate(-33 311.3 399.0)"/><rect x="300.9" y="401.3" width="5.5" height="3.6" fill="#ffe000" transform="rotate(-33 303.6 403.1)"/><rect x="273.0" y="412.5" width="5.5" height="3.6" fill="#ffe000" transform="rotate(-33 275.7 414.3)"/></g></g>
<line x1="87.80" y1="40.9" x2="87.80" y2="548.8" stroke="#000" stroke-width="1.35" stroke-dasharray="3.1 5.17" fill="none"/>
<line x1="166.52" y1="40.9" x2="166.52" y2="548.8" stroke="#000" stroke-width="1.35" stroke-dasharray="3.1 5.17" fill="none"/>
<line x1="245.24" y1="40.9" x2="245.24" y2="548.8" stroke="#000" stroke-width="1.35" stroke-dasharray="3.1 5.17" fill="none"/>
<line x1="323.96" y1="40.9" x2="323.96" y2="548.8" stroke="#000" stroke-width="1.35" stroke-dasharray="3.1 5.17" fill="none"/>
<line x1="402.68" y1="40.9" x2="402.68" y2="548.8" stroke="#000" stroke-width="1.35" stroke-dasharray="3.1 5.17" fill="none"/>
<line x1="481.40" y1="40.9" x2="481.40" y2="548.8" stroke="#000" stroke-width="1.35" stroke-dasharray="3.1 5.17" fill="none"/>
<line x1="12.9" y1="486.10" x2="486.0" y2="486.10" stroke="#000" stroke-width="1.35" stroke-dasharray="3.1 5.17" fill="none"/>
<line x1="12.9" y1="401.40" x2="486.0" y2="401.40" stroke="#000" stroke-width="1.35" stroke-dasharray="3.1 5.17" fill="none"/>
<line x1="12.9" y1="316.70" x2="486.0" y2="316.70" stroke="#000" stroke-width="1.35" stroke-dasharray="3.1 5.17" fill="none"/>
<line x1="12.9" y1="232.00" x2="486.0" y2="232.00" stroke="#000" stroke-width="1.35" stroke-dasharray="3.1 5.17" fill="none"/>
<line x1="12.9" y1="147.30" x2="486.0" y2="147.30" stroke="#000" stroke-width="1.35" stroke-dasharray="3.1 5.17" fill="none"/>
<line x1="12.9" y1="62.60" x2="486.0" y2="62.60" stroke="#000" stroke-width="1.35" stroke-dasharray="3.1 5.17" fill="none"/>
<text x="87.60" y="294.9" font-size="12.2" text-anchor="middle" font-family="Liberation Sans, Arial, Helvetica, sans-serif">84</text>
<text x="166.32" y="294.9" font-size="12.2" text-anchor="middle" font-family="Liberation Sans, Arial, Helvetica, sans-serif">86</text>
<text x="245.04" y="294.9" font-size="12.2" text-anchor="middle" font-family="Liberation Sans, Arial, Helvetica, sans-serif">88</text>
<text x="323.76" y="294.9" font-size="12.2" text-anchor="middle" font-family="Liberation Sans, Arial, Helvetica, sans-serif">90</text>
<text x="402.48" y="294.9" font-size="12.2" text-anchor="middle" font-family="Liberation Sans, Arial, Helvetica, sans-serif">92</text>
<text x="481.20" y="294.9" font-size="12.2" text-anchor="middle" font-family="Liberation Sans, Arial, Helvetica, sans-serif">94</text>
<text x="258.6" y="486.40" font-size="12.2" font-family="Liberation Sans, Arial, Helvetica, sans-serif">14</text>
<text x="258.6" y="401.70" font-size="12.2" font-family="Liberation Sans, Arial, Helvetica, sans-serif">16</text>
<text x="258.6" y="317.00" font-size="12.2" font-family="Liberation Sans, Arial, Helvetica, sans-serif">18</text>
<text x="258.6" y="232.30" font-size="12.2" font-family="Liberation Sans, Arial, Helvetica, sans-serif">20</text>
<text x="258.6" y="147.60" font-size="12.2" font-family="Liberation Sans, Arial, Helvetica, sans-serif">22</text>
<text x="258.6" y="62.90" font-size="12.2" font-family="Liberation Sans, Arial, Helvetica, sans-serif">24</text>
<g clip-path="url(#plotclip)"><path d="M179.9 548.2 L199.9 533.2 L219.9 518.2 L239.9 503.4 L259.9 488.7 L279.9 474.0 L299.9 459.5 L319.9 445.0 L339.9 430.7 L359.9 416.4 L379.9 402.3 L399.9 388.2 L419.9 374.3 L439.9 360.4 L459.9 346.6 L479.9 333.0" stroke="#000" stroke-width="1.0" stroke-dasharray="11.75 11.75" fill="none"/><line x1="333.5" y1="548.2" x2="492" y2="435.8" stroke="#000" stroke-width="1.0" stroke-dasharray="11.75 11.75" fill="none"/></g>
<path d="M13.0 381.6 L16.9 379.8 L20.3 377.3 L22.6 371.7 L23.7 367.1 L23.5 362.6 L23.4 366.5 L20.3 364.9 L19.4 361.5 L20.3 357.0 L24.3 352.5 L29.9 347.9 L37.3 344.3 L45.2 341.2 L50.8 337.5 L55.9 335.0 L57.6 331.6 L59.9 328.7 L63.2 327.0 L65.5 323.7 L67.8 319.7 L72.3 315.0 L79.1 310.1 L87.0 306.7 L92.0 304.1 L93.7 301.1 L98.8 295.4 L105.0 289.8 L111.2 280.7 L115.8 275.1 L118.0 270.6 L117.4 268.7 L119.7 267.8 L124.2 263.2 L133.3 255.3 L141.2 249.1 L150.2 244.6 L158.1 241.8 L167.1 239.3 L176.2 236.1 L181.4 232.3 L176.5 229.5 L172.3 226.3 L177.0 230.3 L181.4 232.3 L186.1 224.5 L189.0 222.2 L195.2 218.8 L197.4 215.4 L195.2 214.3 L195.7 211.5 L199.7 207.5 L206.5 203.4 L203.6 201.3 L204.2 197.9 L201.9 196.8 L203.6 195.7 L200.8 187.8 L199.4 182.1 L200.8 177.6 L204.8 172.5 L209.9 168.4 L217.8 165.8 L229.1 162.9 L235.8 160.4 L241.5 156.7 L246.0 151.6 L249.4 146.0 L252.2 141.5 L249.4 139.2 L245.4 137.0 L243.7 133.6 L242.4 130.2 L244.4 134.5 L245.4 135.8 L252.2 140.3 L253.0 143.7 L251.6 148.2 L253.3 155.0 L252.2 160.7 L256.7 165.2 L257.8 161.2 L256.2 157.8 L261.2 160.1 L262.9 162.9 L264.1 155.0 L265.8 151.6 L266.9 158.4 L264.6 166.9 L268.6 162.9 L269.7 156.2 L268.6 151.6 L270.3 147.1 L272.5 143.7 L275.4 142.6 L272.5 147.1 L272.0 151.6 L274.2 158.4 L273.7 165.8 L277.6 161.2 L279.9 162.9 L285.0 164.1 L288.3 162.9 L285.5 155.0 L282.1 149.4 L285.5 150.5 L287.2 143.2 L288.3 148.2 L290.0 155.0 L292.9 156.7 L294.0 161.2 L296.2 161.2 L297.9 155.0 L299.6 159.0 L302.5 157.3 L304.1 151.6 L305.6 143.7 L303.8 137.0 L306.4 143.7 L308.7 133.6 L307.5 143.7 L306.4 151.6 L307.0 158.4 L309.8 159.0 L310.9 153.9 L318.3 152.8 L319.4 146.0 L318.8 139.2 L319.4 131.3 L323.9 126.8 L321.1 131.3 L321.1 140.3 L324.5 146.0 L327.9 144.9 L325.6 149.4 L325.6 153.3 L327.9 152.8 L329.6 155.6 L332.9 155.0 L335.8 149.9 L336.9 146.0 L340.8 143.2 L345.4 139.2 L348.2 132.4 L348.7 127.7 L345.0 121.4 L344.1 116.8 L341.4 115.0 L340.5 112.3 L347.8 111.9 L349.6 109.2 L339.6 104.2 L344.6 98.8 L345.0 90.6 L331.9 85.7 L330.6 87.0 L327.9 79.8 L322.5 81.2 L316.1 74.4 L304.4 72.1 L293.6 66.3 M293.6 66.3 L303.5 70.3 L311.6 69.4 L312.5 65.8 L314.3 68.1 L317.0 73.5 L322.5 77.1 L327.9 78.9 L331.5 83.4 L337.8 85.7 L343.2 87.0 L346.4 85.7 L346.8 81.6 L343.2 80.7 L347.0 81.2 L348.7 84.3 L348.2 88.8 L349.6 94.3 L347.3 98.8 L347.8 102.4 L352.3 108.7 L358.6 110.5 L364.5 113.2 L370.3 113.2 L375.8 114.1 L377.6 112.3 L377.1 109.6 L378.9 112.8 L380.3 109.6 L382.5 109.6 L381.6 113.7 L386.6 118.7 L392.0 127.7 L394.3 134.9 L396.5 135.4 L396.1 140.3 L398.3 147.6 L400.1 156.6 L403.3 162.0 L401.5 169.2 L404.9 178.1 L405.5 183.4 L410.5 189.9 L413.3 198.0 L416.1 198.9 L410.8 183.4 L416.7 198.0 L417.6 202.3 L421.1 204.5 L424.8 209.8 L428.5 214.1 L430.1 219.1 L431.6 219.1 L432.2 214.7 L431.3 209.8 L428.8 203.5 L432.9 211.6 L436.0 212.9 L436.9 216.0 L440.3 218.1 L436.3 219.7 L432.9 223.4 L436.3 226.5 L438.8 225.3 L440.9 219.7 L444.7 209.4 L442.8 219.7 L446.2 214.4 L443.4 222.8 L446.5 224.7 L443.4 225.9 L441.2 227.8 L444.0 232.7 L447.5 239.3 L447.8 235.8 L446.5 233.4 L448.7 234.0 L451.5 238.3 L448.1 232.1 L447.8 229.9 L452.1 229.9 L455.2 228.1 L460.2 234.0 L462.0 232.7 L464.5 237.1 L467.6 235.8 L470.7 235.8 L467.0 238.3 L466.4 242.7 L470.1 242.7 L471.4 245.2 L473.9 243.9 L473.2 247.6 L471.2 248.6 L477.4 252.4 L481.0 256.7 L481.5 258.5 L477.4 263.5 L484.7 258.1 L484.2 264.4 L482.8 267.1 L484.2 270.7 L484.0 276.1 L483.5 280.7 L485.8 281.3 M461.2 256.7 L465.7 256.7 L467.0 259.9 L472.5 263.7 L477.0 263.3 L478.8 267.1 L479.7 270.7 L481.5 274.3 L480.1 277.9 L478.3 279.5 L475.2 277.9 L470.2 273.9 L466.1 268.0 L461.6 261.2 L461.2 256.7 M131.6 252.5 L133.8 247.4 L136.1 243.5 L141.2 239.5 L145.7 236.7 L149.6 237.3 L149.6 242.3 L145.7 245.2 L136.6 246.5 L135.0 251.4 L131.6 252.5 M140.0 249.5 L143.5 246.8 L147.5 244.3 L146.0 246.2" fill="none" stroke="#000" stroke-width="1.3" stroke-linejoin="round"/><path d="M480.1 261.2 L484.7 258.1 L484.2 264.8 L481.9 267.1Z" fill="#000" stroke="#000" stroke-width="0.8"/>
<path d="M243.0 294.4h12.8M249.4 288.0v12.8" stroke="#000" stroke-width="4.4" fill="none"/>

<text x="44.0" y="66.0" font-size="24.8" textLength="172.5" lengthAdjust="spacingAndGlyphs" font-family="Liberation Sans, Arial, Helvetica, sans-serif">37GHz PCT (K)</text>
<text x="438.5" y="523.3" font-size="31" font-family="Liberation Sans, Arial, Helvetica, sans-serif">(e)</text>
<rect x="495.0" y="531.67" width="9.0" height="8.77" fill="#f6f6f6"/>
<rect x="495.0" y="523.20" width="9.0" height="8.77" fill="#eeeeee"/>
<rect x="495.0" y="514.73" width="9.0" height="8.77" fill="#e6e6e6"/>
<rect x="495.0" y="506.27" width="9.0" height="8.77" fill="#dedede"/>
<rect x="495.0" y="497.80" width="9.0" height="8.77" fill="#d6d5d5"/>
<rect x="495.0" y="489.33" width="9.0" height="8.77" fill="#cecdcd"/>
<rect x="495.0" y="480.87" width="9.0" height="8.77" fill="#c6c5c5"/>
<rect x="495.0" y="472.40" width="9.0" height="8.77" fill="#bebdbd"/>
<rect x="495.0" y="463.93" width="9.0" height="8.77" fill="#b6b5b5"/>
<rect x="495.0" y="455.47" width="9.0" height="8.77" fill="#aeadad"/>
<rect x="495.0" y="447.00" width="9.0" height="8.77" fill="#a6a4a4"/>
<rect x="495.0" y="438.53" width="9.0" height="8.77" fill="#9e9c9c"/>
<rect x="495.0" y="430.07" width="9.0" height="8.77" fill="#969494"/>
<rect x="495.0" y="421.60" width="9.0" height="8.77" fill="#8e8c8c"/>
<rect x="495.0" y="413.13" width="9.0" height="8.77" fill="#84dc88"/>
<rect x="495.0" y="404.67" width="9.0" height="8.77" fill="#7cd380"/>
<rect x="495.0" y="396.20" width="9.0" height="8.77" fill="#74ca78"/>
<rect x="495.0" y="387.73" width="9.0" height="8.77" fill="#6cc170"/>
<rect x="495.0" y="379.27" width="9.0" height="8.77" fill="#64b868"/>
<rect x="495.0" y="370.80" width="9.0" height="8.77" fill="#ccd4fc"/>
<rect x="495.0" y="362.33" width="9.0" height="8.77" fill="#b4ccff"/>
<rect x="495.0" y="353.87" width="9.0" height="8.77" fill="#9cc4ff"/>
<rect x="495.0" y="345.40" width="9.0" height="8.77" fill="#84bcff"/>
<rect x="495.0" y="336.93" width="9.0" height="8.77" fill="#6cb4ff"/>
<rect x="495.0" y="328.47" width="9.0" height="8.77" fill="#54acff"/>
<rect x="495.0" y="320.00" width="9.0" height="8.77" fill="#4c88ff"/>
<rect x="495.0" y="311.53" width="9.0" height="8.77" fill="#4468ff"/>
<rect x="495.0" y="303.07" width="9.0" height="8.77" fill="#3c4cff"/>
<rect x="495.0" y="294.60" width="9.0" height="8.77" fill="#3030ff"/>
<rect x="495.0" y="286.13" width="9.0" height="8.77" fill="#0000ff"/>
<rect x="495.0" y="277.67" width="9.0" height="8.77" fill="#0000f4"/>
<rect x="495.0" y="269.20" width="9.0" height="8.77" fill="#0000e6"/>
<rect x="495.0" y="260.73" width="9.0" height="8.77" fill="#0000d8"/>
<rect x="495.0" y="252.27" width="9.0" height="8.77" fill="#0808c8"/>
<rect x="495.0" y="243.80" width="9.0" height="8.77" fill="#ffff00"/>
<rect x="495.0" y="235.33" width="9.0" height="8.77" fill="#fff300"/>
<rect x="495.0" y="226.87" width="9.0" height="8.77" fill="#ffe800"/>
<rect x="495.0" y="218.40" width="9.0" height="8.77" fill="#ffdc00"/>
<rect x="495.0" y="209.93" width="9.0" height="8.77" fill="#ffd000"/>
<rect x="495.0" y="201.47" width="9.0" height="8.77" fill="#ff9000"/>
<rect x="495.0" y="193.00" width="9.0" height="8.77" fill="#ff8800"/>
<rect x="495.0" y="184.53" width="9.0" height="8.77" fill="#ff8000"/>
<rect x="495.0" y="176.07" width="9.0" height="8.77" fill="#ff7800"/>
<rect x="495.0" y="167.60" width="9.0" height="8.77" fill="#ff7000"/>
<rect x="495.0" y="159.13" width="9.0" height="8.77" fill="#ff4400"/>
<rect x="495.0" y="150.67" width="9.0" height="8.77" fill="#ff3800"/>
<rect x="495.0" y="142.20" width="9.0" height="8.77" fill="#ff2c00"/>
<rect x="495.0" y="133.73" width="9.0" height="8.77" fill="#ff2000"/>
<rect x="495.0" y="125.27" width="9.0" height="8.77" fill="#ff1400"/>
<rect x="495.0" y="116.80" width="9.0" height="8.77" fill="#c80000"/>
<rect x="495.0" y="108.33" width="9.0" height="8.77" fill="#be0300"/>
<rect x="495.0" y="99.87" width="9.0" height="8.77" fill="#b40600"/>
<rect x="495.0" y="91.40" width="9.0" height="8.77" fill="#aa0900"/>
<rect x="495.0" y="82.93" width="9.0" height="8.77" fill="#a00c00"/>
<rect x="495.0" y="74.47" width="9.0" height="8.77" fill="#620e06"/>
<rect x="495.0" y="66.00" width="9.0" height="8.77" fill="#60110a"/>
<rect x="495.0" y="57.53" width="9.0" height="8.77" fill="#5e140f"/>
<rect x="495.0" y="49.07" width="9.0" height="8.77" fill="#5c1714"/>
<rect x="495.0" y="40.60" width="9.0" height="8.77" fill="#5a1a18"/>
<line x1="504.0" y1="548.60" x2="506.0" y2="548.60" stroke="#222" stroke-width="0.9"/>
<text x="524.0" y="557.20" font-size="19.2" text-anchor="middle" font-family="Liberation Sans, Arial, Helvetica, sans-serif">315</text>
<line x1="504.0" y1="497.80" x2="506.0" y2="497.80" stroke="#222" stroke-width="0.9"/>
<text x="524.0" y="506.40" font-size="19.2" text-anchor="middle" font-family="Liberation Sans, Arial, Helvetica, sans-serif">306</text>
<line x1="504.0" y1="447.00" x2="506.0" y2="447.00" stroke="#222" stroke-width="0.9"/>
<text x="524.0" y="455.60" font-size="19.2" text-anchor="middle" font-family="Liberation Sans, Arial, Helvetica, sans-serif">297</text>
<line x1="504.0" y1="396.20" x2="506.0" y2="396.20" stroke="#222" stroke-width="0.9"/>
<text x="524.0" y="404.80" font-size="19.2" text-anchor="middle" font-family="Liberation Sans, Arial, Helvetica, sans-serif">288</text>
<line x1="504.0" y1="345.40" x2="506.0" y2="345.40" stroke="#222" stroke-width="0.9"/>
<text x="524.0" y="354.00" font-size="19.2" text-anchor="middle" font-family="Liberation Sans, Arial, Helvetica, sans-serif">279</text>
<line x1="504.0" y1="294.60" x2="506.0" y2="294.60" stroke="#222" stroke-width="0.9"/>
<text x="524.0" y="303.20" font-size="19.2" text-anchor="middle" font-family="Liberation Sans, Arial, Helvetica, sans-serif">270</text>
<line x1="504.0" y1="243.80" x2="506.0" y2="243.80" stroke="#222" stroke-width="0.9"/>
<text x="524.0" y="252.40" font-size="19.2" text-anchor="middle" font-family="Liberation Sans, Arial, Helvetica, sans-serif">261</text>
<line x1="504.0" y1="193.00" x2="506.0" y2="193.00" stroke="#222" stroke-width="0.9"/>
<text x="524.0" y="201.60" font-size="19.2" text-anchor="middle" font-family="Liberation Sans, Arial, Helvetica, sans-serif">252</text>
<line x1="504.0" y1="142.20" x2="506.0" y2="142.20" stroke="#222" stroke-width="0.9"/>
<text x="524.0" y="150.80" font-size="19.2" text-anchor="middle" font-family="Liberation Sans, Arial, Helvetica, sans-serif">243</text>
<line x1="504.0" y1="91.40" x2="506.0" y2="91.40" stroke="#222" stroke-width="0.9"/>
<text x="524.0" y="100.00" font-size="19.2" text-anchor="middle" font-family="Liberation Sans, Arial, Helvetica, sans-serif">234</text>
</g>
<g transform="translate(1181.50 590.60)">
<g clip-path="url(#plotclip)"><g clip-path="url(#trif)"><path d="M178.5 402.6 L180.7 400.1 L180.6 396.5 L182.8 394.0 L185.8 393.0 L187.2 389.8 L190.7 389.5 L192.1 386.2 L195.6 385.9 L197.0 382.7 L200.5 382.4 L201.9 379.2 L205.4 378.9 L206.8 375.7 L210.3 375.4 L211.7 372.1 L215.2 371.8 L216.6 368.6 L220.1 368.3 L221.5 365.1 L225.0 364.8 L226.4 361.6 L229.9 361.3 L231.3 358.0 L234.8 357.7 L236.2 354.5 L239.7 354.2 L241.1 351.0 L244.6 350.7 L246.0 347.5 L249.5 347.2 L250.9 343.9 L254.4 343.6 L255.9 340.4 L259.4 340.1 L260.8 336.9 L264.3 336.6 L265.7 333.3 L269.2 333.0 L270.6 329.8 L274.1 329.5 L275.5 326.3 L279.0 326.0 L280.4 322.8 L283.9 322.5 L285.3 319.2 L288.8 318.9 L290.2 315.7 L293.7 315.4 L295.1 312.2 L298.6 311.9 L300.0 308.7 L303.5 308.4 L304.9 305.1 L308.4 304.8 L309.8 301.6 L313.3 301.3 L314.7 298.1 L318.2 297.8 L320.1 295.3 L323.4 295.9 L325.5 299.0 L328.7 299.6 L329.1 302.6 L326.8 305.1 L328.0 308.3 L325.7 310.9 L326.9 314.1 L325.5 316.8 L323.6 319.0 L324.2 322.3 L321.5 324.1 L322.1 327.4 L320.1 329.6 L318.2 332.0 L318.8 335.3 L316.1 337.3 L315.9 340.4 L315.6 343.1 L312.9 344.8 L313.5 348.0 L311.6 350.0 L314.2 351.2 L317.0 349.7 L319.5 351.7 L322.3 351.1 L325.2 350.8 L327.5 353.1 L330.5 351.8 L333.0 353.2 L333.9 356.4 L337.0 358.1 L337.1 361.8 L339.5 364.0 L341.4 366.5 L340.8 370.0 L342.7 372.6 L341.7 375.9 L338.3 377.8 L337.3 381.1 L337.1 384.2 L334.3 386.2 L334.9 389.5 L333.0 391.9 L330.6 394.1 L330.6 397.7 L327.4 399.5 L326.6 402.6 L325.1 405.4 L321.7 406.3 L320.8 409.7 L317.4 410.6 L315.9 413.3 L313.5 415.2 L310.2 414.6 L308.1 417.4 L305.1 417.6 L301.8 418.1 L299.5 421.0 L295.8 420.7 L293.5 423.6 L290.1 424.1 L287.0 424.1 L284.6 426.7 L281.2 425.9 L278.9 428.5 L275.5 427.7 L272.9 429.4 L270.8 431.5 L267.4 431.2 L265.6 434.1 L262.2 433.8 L260.1 435.9 L256.7 435.6 L254.3 432.9 L250.7 433.5 L248.3 430.7 L245.0 430.5 L241.9 431.0 L239.2 428.8 L235.9 430.1 L233.1 427.9 L230.0 428.4 L227.3 427.3 L226.3 424.1 L223.0 423.7 L222.0 420.5 L218.7 420.1 L217.1 417.6 L215.6 414.8 L212.2 414.0 L211.3 410.6 L207.9 409.7 L206.4 406.9 L204.9 404.1 L201.5 403.2 L200.6 399.8 L197.8 398.3 L195.3 399.8 L192.1 398.7 L189.7 401.0 L186.6 399.9 L184.2 402.3 L181.1 401.1Z" fill="#8ade92" stroke="#000" stroke-width="1.5" stroke-linejoin="round"/><path d="M333.0 295.3 L352.8 279.8 L352.3 299.6 L348.1 308.2 L339.5 308.2 L336.2 301.7Z" fill="#8ade92" stroke="#000" stroke-width="1.5" stroke-linejoin="round"/><path d="M328.7 426.2 L332.0 411.2 L334.7 412.3 L332.0 428.4Z" fill="#8ade92" stroke="#000" stroke-width="1.5" stroke-linejoin="round"/><path d="M337.3 339.3 L341.6 335.6 L340.8 340.8 L338.4 342.9Z" fill="#8ade92" stroke="#000" stroke-width="1.5" stroke-linejoin="round"/><path d="M366.9 327.5 L372.7 329.6 L372.3 331.4 L366.5 329.2Z" fill="#8ade92" stroke="#000" stroke-width="1.5" stroke-linejoin="round"/><path d="M345.9 432.7 L350.2 430.9 L349.8 435.9Z" fill="#8ade92" stroke="#000" stroke-width="1.5" stroke-linejoin="round"/><path d="M377.0 264.2 L380.2 263.0 L381.9 259.7 L385.6 259.3 L387.8 256.7 L391.0 256.0 L394.2 257.1 L394.1 260.4 L396.7 263.1 L395.7 266.7 L397.4 269.5 L399.1 271.8 L398.3 275.0 L400.8 277.0 L400.0 280.1 L401.7 282.4 L404.7 283.9 L405.9 287.4 L409.5 288.2 L411.4 291.0 L414.5 292.0 L417.8 290.4 L421.0 291.4 L420.9 294.4 L423.3 296.8 L422.3 300.0 L424.8 302.4 L423.7 305.6 L425.3 308.2 L427.6 310.6 L427.4 314.3 L430.4 316.4 L430.2 320.0 L433.3 322.1 L433.9 325.3 L431.7 327.0 L431.8 330.1 L429.6 331.8 L426.5 331.6 L424.1 334.1 L421.0 333.9 L418.7 335.5 L418.5 338.8 L415.5 339.8 L414.6 342.5 L413.0 344.8 L409.8 345.0 L408.7 348.1 L406.0 349.0 L404.3 351.2 L405.1 354.4 L402.6 356.4 L403.4 359.5 L401.7 361.8 L399.4 359.9 L396.0 360.5 L394.0 357.8 L391.0 357.5 L389.3 359.7 L386.2 359.6 L384.5 361.8 L383.0 364.6 L379.6 365.5 L378.1 368.3 L376.9 365.1 L378.5 361.8 L376.4 358.7 L377.0 355.4 L380.1 353.9 L381.4 350.4 L384.5 349.0 L386.9 346.7 L387.0 343.1 L390.1 341.4 L391.0 338.2 L391.9 335.5 L394.9 334.5 L395.1 331.2 L397.4 329.6 L398.8 326.6 L397.6 323.0 L399.9 320.1 L399.6 316.8 L398.4 313.6 L399.9 310.2 L397.9 307.2 L398.5 303.9 L398.2 301.0 L395.5 299.1 L396.1 295.8 L393.4 293.9 L393.1 291.0 L393.2 288.1 L390.6 285.9 L391.6 282.7 L389.9 280.3 L387.3 278.7 L386.8 275.4 L383.6 274.4 L382.4 271.7 L381.3 268.7 L378.1 267.2Z" fill="#8ade92" stroke="#000" stroke-width="1.5" stroke-linejoin="round"/><path d="M438.2 265.2 L441.0 263.7 L441.8 260.3 L445.3 259.4 L446.8 256.7 L449.8 255.0 L453.4 255.9 L456.2 253.4 L459.7 253.4 L461.8 255.3 L465.0 254.8 L467.2 256.7 L467.4 259.6 L470.1 261.5 L469.6 264.7 L472.3 266.6 L472.5 269.5 L473.0 272.5 L475.9 274.3 L475.6 277.7 L478.5 279.4 L479.0 282.4 L481.0 284.6 L484.4 284.5 L486.0 287.5 L489.4 287.4 L491.0 290.4 L494.0 291.0 L494.9 294.0 L493.1 297.0 L494.9 300.0 L493.1 303.0 L494.9 306.0 L493.1 309.0 L494.9 312.0 L493.1 315.0 L494.9 318.0 L493.1 321.0 L494.9 324.1 L493.1 327.1 L494.9 330.1 L493.1 333.1 L494.9 336.1 L493.1 339.1 L494.9 342.1 L493.1 345.1 L494.9 348.1 L493.1 351.1 L494.9 354.1 L493.1 357.1 L494.9 360.1 L493.1 363.1 L494.9 366.1 L493.1 369.1 L494.9 372.1 L493.1 375.1 L494.9 378.1 L493.1 381.1 L494.9 384.1 L493.1 387.2 L494.9 390.2 L493.1 393.2 L494.0 396.2 L490.8 397.3 L487.5 395.7 L484.4 397.7 L481.1 396.1 L477.9 397.2 L475.7 399.6 L472.5 400.5 L471.4 397.7 L468.3 396.7 L467.2 394.0 L466.9 390.7 L464.2 388.3 L464.8 384.7 L462.0 382.3 L461.8 379.0 L461.3 375.6 L458.4 373.3 L458.8 369.6 L455.8 367.3 L455.4 364.0 L454.9 360.6 L452.0 358.3 L452.3 354.6 L449.4 352.3 L448.9 349.0 L448.9 345.7 L446.3 343.2 L447.2 339.7 L444.6 337.2 L444.6 333.9 L442.5 331.1 L439.3 329.6 L439.5 327.1 L441.4 325.3 L441.4 322.2 L438.8 319.9 L439.6 316.5 L437.0 314.2 L437.8 310.8 L436.0 308.2 L435.5 305.2 L437.7 302.6 L436.2 299.5 L438.4 296.8 L436.9 293.8 L438.2 291.0 L439.1 288.1 L437.3 285.3 L439.1 282.4 L437.3 279.6 L439.1 276.7 L437.3 273.8 L439.1 271.0 L437.3 268.1Z" fill="#8ade92" stroke="#000" stroke-width="1.5" stroke-linejoin="round"/><path d="M428.5 242.7 L436.0 241.6 L442.5 252.4 L446.8 261.0 L442.5 265.2 L436.0 258.8 L431.8 250.2Z" fill="#8ade92" stroke="#000" stroke-width="1.5" stroke-linejoin="round"/><path d="M425.3 329.6 L428.5 330.5 L431.8 328.7 L435.0 329.6 L435.5 332.6 L438.4 334.4 L438.0 337.8 L440.9 339.5 L441.4 342.5 L441.9 345.9 L444.8 348.2 L444.4 351.9 L447.4 354.2 L447.8 357.5 L447.8 360.8 L450.4 363.3 L449.6 366.8 L452.1 369.3 L452.1 372.6 L451.2 375.4 L453.0 378.3 L451.2 381.1 L453.0 384.0 L451.2 386.9 L452.1 389.7 L453.6 392.2 L452.3 395.3 L454.6 397.6 L454.3 400.5 L451.9 402.7 L451.8 406.3 L448.7 408.0 L447.8 411.2 L446.3 414.0 L442.9 414.8 L441.4 417.6 L439.5 420.0 L436.1 420.1 L434.7 423.2 L431.8 424.1 L429.4 422.2 L426.1 422.8 L424.0 420.0 L421.0 419.8 L418.6 422.0 L414.9 421.8 L412.4 424.1 L410.2 421.6 L410.4 417.9 L408.1 415.5 L407.5 412.2 L409.6 409.1 L408.1 405.8 L409.2 402.6 L409.2 399.7 L406.6 397.7 L407.5 394.6 L404.9 392.6 L404.9 389.7 L406.8 387.0 L406.2 383.4 L409.0 381.0 L408.4 377.4 L410.3 374.7 L412.8 374.4 L414.6 372.6 L416.8 375.0 L416.6 378.7 L418.9 381.1 L420.6 383.4 L419.7 386.6 L422.3 388.6 L421.5 391.7 L423.2 394.0 L426.1 393.5 L428.8 395.6 L431.8 395.1 L432.0 392.3 L434.7 390.6 L434.1 387.5 L436.0 385.4 L437.5 382.4 L436.2 378.8 L438.5 375.9 L438.2 372.6 L436.5 369.6 L437.5 365.9 L434.9 363.1 L435.0 359.7 L435.0 356.2 L432.5 353.5 L433.4 349.8 L431.8 346.8 L429.8 344.5 L430.4 341.1 L427.7 339.1 L427.5 336.1 L427.2 332.6Z" fill="#8ade92" stroke="#000" stroke-width="1.5" stroke-linejoin="round"/><path d="M446.8 411.2 L449.5 410.3 L450.5 407.3 L453.8 407.1 L455.4 404.8 L456.9 402.0 L460.3 401.1 L461.2 397.7 L464.6 396.8 L466.1 394.0 L468.9 395.5 L469.7 398.9 L472.5 400.5 L474.8 398.1 L477.9 397.2 L481.2 397.9 L484.3 395.9 L487.6 397.5 L490.7 395.5 L494.0 396.2 L493.1 399.0 L494.9 401.9 L493.1 404.8 L494.9 407.6 L493.1 410.5 L494.0 413.3 L492.4 415.8 L489.1 416.1 L488.1 419.2 L484.8 419.5 L483.3 421.9 L483.0 425.3 L480.3 427.7 L480.9 431.3 L478.1 433.8 L478.7 437.4 L476.8 440.2 L474.0 438.7 L470.8 440.0 L468.1 437.7 L465.0 438.0 L462.7 436.0 L462.6 432.5 L459.4 431.0 L459.3 427.5 L456.2 426.0 L455.4 423.0 L454.4 420.1 L451.2 418.8 L450.9 415.4 L447.8 414.1Z" fill="#8ade92" stroke="#000" stroke-width="1.5" stroke-linejoin="round"/><path d="M431.8 449.8 L434.8 448.8 L436.2 445.5 L439.3 444.5 L442.7 444.6 L445.5 442.1 L448.9 442.3 L451.3 444.0 L454.5 443.1 L456.7 445.6 L459.7 445.5 L461.6 448.5 L461.8 452.0 L459.1 452.9 L458.0 455.9 L454.8 456.1 L453.2 458.4 L452.3 461.1 L449.3 462.2 L449.1 465.4 L446.8 467.0 L443.8 467.2 L441.7 470.0 L438.4 469.4 L436.0 471.3 L434.6 474.4 L431.1 475.7 L429.6 478.8 L425.3 477.7 L425.9 474.6 L428.8 472.8 L428.5 469.3 L430.7 467.0 L431.2 464.0 L429.1 461.4 L429.6 458.4 L431.2 455.8 L430.2 452.5Z" fill="#8ade92" stroke="#000" stroke-width="1.5" stroke-linejoin="round"/><path d="M403.9 462.7 L411.4 465.9 L408.1 473.4Z" fill="#8ade92" stroke="#000" stroke-width="1.5" stroke-linejoin="round"/><path d="M406.0 490.6 L411.4 489.5 L416.7 497.0 L423.2 501.3 L421.0 507.8 L412.4 505.6 L409.2 499.2Z" fill="#8ade92" stroke="#000" stroke-width="1.5" stroke-linejoin="round"/><path d="M374.9 550.7 L377.2 548.7 L377.3 545.2 L380.5 543.7 L380.6 540.2 L383.7 538.7 L384.5 535.7 L384.5 532.2 L387.0 529.5 L386.1 525.8 L387.8 522.8 L390.3 520.4 L390.6 516.6 L393.1 514.2 L396.6 514.0 L399.6 512.1 L399.7 515.1 L397.3 517.6 L397.4 520.6 L396.6 523.8 L393.4 525.5 L393.4 529.2 L391.0 531.4 L389.3 533.8 L390.2 537.0 L387.7 539.2 L387.8 542.1 L391.2 541.9 L394.0 544.4 L397.4 544.3 L397.2 547.8 L395.3 550.7 L392.4 549.8 L389.4 551.6 L386.5 549.8 L383.6 551.6 L380.7 549.8 L377.8 551.6Z" fill="#8ade92" stroke="#000" stroke-width="1.5" stroke-linejoin="round"/><path d="M450.0 550.7 L452.1 548.6 L451.7 545.3 L454.6 543.6 L454.2 540.3 L457.1 538.6 L457.5 535.7 L458.0 532.7 L460.9 530.9 L460.6 527.5 L463.5 525.8 L463.9 522.8 L462.4 520.2 L463.4 516.9 L460.9 514.4 L462.0 511.1 L459.5 508.7 L459.7 505.6 L460.0 502.8 L457.7 500.4 L458.9 497.4 L457.5 494.9 L459.1 492.6 L461.8 491.7 L461.8 494.7 L464.4 497.0 L463.5 500.3 L466.1 502.6 L466.1 505.6 L466.7 508.9 L469.8 510.9 L470.4 514.2 L469.8 517.5 L471.8 520.6 L470.3 523.9 L471.5 527.1 L474.5 528.5 L475.9 532.1 L479.0 533.5 L482.1 533.1 L484.9 535.3 L488.1 533.9 L490.9 536.1 L494.0 535.7 L494.9 538.7 L493.1 541.7 L494.9 544.7 L493.1 547.7 L494.0 550.7 L491.1 551.6 L488.1 549.8 L485.2 551.6 L482.3 549.8 L479.3 551.6 L476.4 549.8 L473.5 551.6 L470.5 549.8 L467.6 551.6 L464.7 549.8 L461.7 551.6 L458.8 549.8 L455.9 551.6 L452.9 549.8Z" fill="#8ade92" stroke="#000" stroke-width="1.5" stroke-linejoin="round"/><path d="M426.4 519.6 L431.8 516.4 L432.8 522.8 L427.5 524.9Z" fill="#8ade92" stroke="#000" stroke-width="1.5" stroke-linejoin="round"/><path d="M432.8 508.8 L435.4 507.8 L435.6 512.1 L433.5 512.5Z" fill="#8ade92" stroke="#000" stroke-width="1.5" stroke-linejoin="round"/><path d="M437.1 493.8 L439.7 492.7 L440.3 497.0 L437.8 497.5Z" fill="#8ade92" stroke="#000" stroke-width="1.5" stroke-linejoin="round"/><path d="M431.8 491.7 L435.0 491.0 L433.9 493.8Z" fill="#8ade92" stroke="#000" stroke-width="1.5" stroke-linejoin="round"/><path d="M480.0 507.8 L494.0 506.7 L494.0 512.5 L480.7 512.1Z" fill="#8ade92" stroke="#000" stroke-width="1.5" stroke-linejoin="round"/><path d="M459.7 207.3 L470.4 200.9 L494.0 189.1 L494.0 225.5 L477.9 220.2 L472.5 215.9 L468.2 211.6Z" fill="#8ade92" stroke="#000" stroke-width="1.5" stroke-linejoin="round"/><path d="M479.0 239.5 L494.0 233.1 L494.0 248.1 L481.1 245.9Z" fill="#8ade92" stroke="#000" stroke-width="1.5" stroke-linejoin="round"/><path d="M448.9 243.8 L454.3 242.7 L452.1 247.0Z" fill="#8ade92" stroke="#000" stroke-width="1.5" stroke-linejoin="round"/><path d="M414.6 351.1 L418.4 351.7 L417.2 353.7Z" fill="#8ade92" stroke="#000" stroke-width="1.5" stroke-linejoin="round"/><path d="M401.7 430.9 L406.0 428.4 L404.3 433.7Z" fill="#8ade92" stroke="#000" stroke-width="1.5" stroke-linejoin="round"/><path d="M242.9 372.6 C250.8 366.8 277.9 356.8 290.1 355.4 C302.3 354.0 313.0 358.3 315.9 364.0 C318.7 369.7 315.1 384.0 307.3 389.7 C299.4 395.5 279.4 398.3 268.6 398.3 C257.9 398.3 247.2 394.0 242.9 389.7 C238.6 385.4 235.0 378.3 242.9 372.6Z" fill="#7cd684" opacity="0.7"/><path d="M446.8 276.0 C449.3 268.5 461.4 267.8 466.1 271.7 C470.7 275.6 475.0 289.9 474.7 299.6 C474.3 309.2 467.9 326.8 463.9 329.6 C460.0 332.5 453.9 325.7 451.1 316.8 C448.2 307.8 444.3 283.5 446.8 276.0Z" fill="#7cd684" opacity="0.7"/><path d="M210.7 398.3 C214.3 394.0 236.4 385.8 242.9 385.4 C249.3 385.1 252.9 391.9 249.3 396.2 C245.7 400.5 227.9 410.8 221.4 411.2 C215.0 411.5 207.1 402.6 210.7 398.3Z" fill="#7cd684" opacity="0.7"/><rect x="-9.7" y="-2.8" width="19.3" height="5.6" fill="#4d8cff" transform="translate(298.7 406.9) rotate(-33) skewX(-20)"/><rect x="-7.5" y="-3.2" width="15.0" height="6.4" fill="#0000fc" transform="translate(309.4 403.7) rotate(-33) skewX(-20)"/><rect x="-6.4" y="-2.6" width="12.9" height="5.2" fill="#0000df" transform="translate(315.9 398.3) rotate(-33) skewX(-20)"/><rect x="-5.4" y="-2.4" width="10.7" height="4.7" fill="#415eff" transform="translate(324.4 394.0) rotate(-33) skewX(-20)"/><rect x="-3.2" y="-1.7" width="6.4" height="3.4" fill="#0808c8" transform="translate(311.6 402.6) rotate(-33) skewX(-20)"/><rect x="-3.2" y="-1.5" width="6.4" height="3.0" fill="#0000e9" transform="translate(301.9 412.3) rotate(-33) skewX(-20)"/><rect x="-5.4" y="-4.3" width="10.7" height="8.6" fill="#85bcff" transform="translate(315.9 325.3) rotate(-33) skewX(-20)"/><rect x="-2.6" y="-1.5" width="5.2" height="3.0" fill="#4d8cff" transform="translate(311.6 329.6) rotate(-33) skewX(-20)"/><rect x="-9.7" y="-2.4" width="19.3" height="4.7" fill="#97c2ff" transform="translate(270.8 344.7) rotate(-33) skewX(-20)"/><rect x="-5.4" y="-1.5" width="10.7" height="3.0" fill="#a9c8ff" transform="translate(255.8 353.2) rotate(-33) skewX(-20)"/><rect x="-4.3" y="-1.7" width="8.6" height="3.4" fill="#3234ff" transform="translate(232.2 371.5) rotate(-33) skewX(-20)"/><rect x="-6.4" y="-2.1" width="12.9" height="4.3" fill="#97c2ff" transform="translate(227.9 368.3) rotate(-33) skewX(-20)"/><rect x="-4.3" y="-1.9" width="8.6" height="3.9" fill="#415eff" transform="translate(236.4 417.6) rotate(-33) skewX(-20)"/><rect x="-6.4" y="-2.1" width="12.9" height="4.3" fill="#74b7ff" transform="translate(272.9 413.3) rotate(-33) skewX(-20)"/><rect x="-3.2" y="-1.3" width="6.4" height="2.6" fill="#3234ff" transform="translate(268.6 415.5) rotate(-33) skewX(-20)"/><rect x="-4.3" y="-1.5" width="8.6" height="3.0" fill="#a9c8ff" transform="translate(210.7 385.4) rotate(-33) skewX(-20)"/><rect x="-4.3" y="-4.3" width="8.6" height="8.6" fill="#a9c8ff" transform="translate(328.7 364.0) rotate(-33) skewX(-20)"/><rect x="-2.4" y="-1.5" width="4.7" height="3.0" fill="#62b1ff" transform="translate(333.0 372.6) rotate(-33) skewX(-20)"/><rect x="-4.3" y="-1.5" width="8.6" height="3.0" fill="#97c2ff" transform="translate(285.8 374.7) rotate(-33) skewX(-20)"/><rect x="-4.3" y="-1.5" width="8.6" height="3.0" fill="#85bcff" transform="translate(305.1 357.5) rotate(-33) skewX(-20)"/><rect x="-4.3" y="-2.6" width="8.6" height="5.2" fill="#85bcff" transform="translate(341.6 298.5) rotate(-33) skewX(-20)"/><rect x="-1.9" y="-1.1" width="3.9" height="2.1" fill="#4d8cff" transform="translate(343.8 296.4) rotate(-33) skewX(-20)"/><rect x="-4.3" y="-4.3" width="8.6" height="8.6" fill="#bacefe" transform="translate(387.8 267.4) rotate(-33) skewX(-20)"/><rect x="-2.6" y="-1.5" width="5.2" height="3.0" fill="#97c2ff" transform="translate(393.1 273.8) rotate(-33) skewX(-20)"/><rect x="-3.2" y="-2.1" width="6.4" height="4.3" fill="#a9c8ff" transform="translate(414.6 299.6) rotate(-33) skewX(-20)"/><rect x="-4.3" y="-2.6" width="8.6" height="5.2" fill="#a9c8ff" transform="translate(412.4 415.5) rotate(-33) skewX(-20)"/><rect x="-2.1" y="-1.3" width="4.3" height="2.6" fill="#53a6ff" transform="translate(414.6 412.3) rotate(-33) skewX(-20)"/><rect x="-5.4" y="-6.4" width="10.7" height="12.9" fill="#bacefe" transform="translate(474.7 299.6) rotate(-33) skewX(-20)"/><rect x="-2.6" y="-1.7" width="5.2" height="3.4" fill="#97c2ff" transform="translate(468.2 295.3) rotate(-33) skewX(-20)"/><rect x="-3.2" y="-2.1" width="6.4" height="4.3" fill="#a9c8ff" transform="translate(479.0 310.3) rotate(-33) skewX(-20)"/><rect x="-3.6" y="-2.4" width="7.3" height="4.7" fill="#0000e9" transform="translate(479.0 321.0) rotate(-33) skewX(-20)"/><rect x="-3.2" y="-1.7" width="6.4" height="3.4" fill="#a9c8ff" transform="translate(459.7 338.2) rotate(-33) skewX(-20)"/><rect x="-3.2" y="-1.7" width="6.4" height="3.4" fill="#a9c8ff" transform="translate(465.0 351.1) rotate(-33) skewX(-20)"/><rect x="-3.2" y="-3.2" width="6.4" height="6.4" fill="#74b7ff" transform="translate(481.1 361.8) rotate(-33) skewX(-20)"/><rect x="-2.6" y="-3.2" width="5.2" height="6.4" fill="#415eff" transform="translate(483.3 381.1) rotate(-33) skewX(-20)"/><rect x="-3.9" y="-11.8" width="7.7" height="23.6" fill="#74b7ff" transform="translate(444.6 379.0) rotate(-33) skewX(-20)"/><rect x="-2.1" y="-4.3" width="4.3" height="8.6" fill="#3b49ff" transform="translate(446.8 385.4) rotate(-33) skewX(-20)"/><rect x="-7.5" y="-4.7" width="15.0" height="9.4" fill="#62b1ff" transform="translate(470.4 411.2) rotate(-33) skewX(-20)"/><rect x="-3.2" y="-2.6" width="6.4" height="5.2" fill="#3234ff" transform="translate(475.8 406.9) rotate(-33) skewX(-20)"/><rect x="-4.3" y="-3.2" width="8.6" height="6.4" fill="#97c2ff" transform="translate(463.9 421.9) rotate(-33) skewX(-20)"/><rect x="-4.3" y="-2.6" width="8.6" height="5.2" fill="#85bcff" transform="translate(453.2 447.7) rotate(-33) skewX(-20)"/><rect x="-1.9" y="-1.3" width="3.9" height="2.6" fill="#4774ff" transform="translate(451.1 445.5) rotate(-33) skewX(-20)"/><rect x="-2.1" y="-4.3" width="4.3" height="8.6" fill="#a9c8ff" transform="translate(394.2 518.5) rotate(-33) skewX(-20)"/><rect x="-1.7" y="-3.2" width="3.4" height="6.4" fill="#a9c8ff" transform="translate(463.9 507.8) rotate(-33) skewX(-20)"/><rect x="-2.6" y="-1.7" width="5.2" height="3.4" fill="#bacefe" transform="translate(466.1 265.2) rotate(-33) skewX(-20)"/><path d="M244.0 405.8 C244.5 404.6 247.2 403.1 249.3 402.6 C251.5 402.1 255.4 401.9 256.8 402.6 C258.3 403.3 258.8 405.5 257.9 406.9 C257.0 408.3 253.4 410.2 251.5 410.8 C249.5 411.3 247.4 410.9 246.1 410.1 C244.9 409.3 243.4 407.1 244.0 405.8Z" fill="#fff" stroke="#000" stroke-width="1.4"/><path d="M279.4 362.9 C280.2 362.0 284.6 359.5 285.8 359.3 C287.0 359.0 287.3 360.5 286.5 361.4 C285.6 362.3 281.8 364.2 280.7 364.4 C279.5 364.7 278.5 363.8 279.4 362.9Z" fill="#fff" stroke="#000" stroke-width="1.4"/><path d="M411.4 325.3 C412.4 323.9 417.9 319.2 418.9 318.9 C419.8 318.6 418.2 322.2 417.2 323.6 C416.2 325.1 413.8 327.2 412.9 327.5 C411.9 327.8 410.4 326.8 411.4 325.3Z" fill="#fff" stroke="#000" stroke-width="1.4"/><path d="M436.0 329.6 C436.4 329.1 440.9 327.3 441.4 327.5 C441.9 327.7 440.2 330.4 439.3 330.7 C438.4 331.1 435.7 330.2 436.0 329.6Z" fill="#fff" stroke="#000" stroke-width="1.4"/><ellipse cx="336.2" cy="383.3" rx="5.4" ry="7.1" fill="none" stroke="#000" stroke-width="1.4" transform="rotate(-10 336.2 383.3)"/><ellipse cx="459.7" cy="410.1" rx="4.3" ry="7.5" fill="none" stroke="#000" stroke-width="1.4" transform="rotate(0 459.7 410.1)"/><ellipse cx="442.5" cy="465.9" rx="6.9" ry="4.3" fill="none" stroke="#000" stroke-width="1.4" transform="rotate(25 442.5 465.9)"/><ellipse cx="386.3" cy="527.1" rx="6.9" ry="3.9" fill="none" stroke="#000" stroke-width="1.4" transform="rotate(-5 386.3 527.1)"/><ellipse cx="415.0" cy="538.9" rx="2.8" ry="5.6" fill="none" stroke="#000" stroke-width="1.4" transform="rotate(0 415.0 538.9)"/><ellipse cx="282.6" cy="361.8" rx="3.4" ry="1.7" fill="none" stroke="#000" stroke-width="1.4" transform="rotate(-25 282.6 361.8)"/><ellipse cx="445.7" cy="262.0" rx="3.0" ry="1.9" fill="none" stroke="#000" stroke-width="1.4" transform="rotate(-20 445.7 262.0)"/><ellipse cx="463.9" cy="262.0" rx="2.6" ry="8.6" fill="none" stroke="#000" stroke-width="1.4" transform="rotate(-25 463.9 262.0)"/><ellipse cx="479.0" cy="323.2" rx="3.9" ry="2.1" fill="none" stroke="#000" stroke-width="1.4" transform="rotate(10 479.0 323.2)"/><path d="M289.4 406.5h4.8M291.8 404.1v4.8" stroke="#000" stroke-width="1.9" fill="none"/><path d="M286.6 412.3h4.8M289.0 409.8v4.8" stroke="#000" stroke-width="1.9" fill="none"/><path d="M310.0 394.7h5.4M312.6 392.0v5.4" stroke="#000" stroke-width="2.1" fill="none"/><path d="M314.2 398.3h5.4M316.9 395.6v5.4" stroke="#000" stroke-width="2.1" fill="none"/><path d="M317.5 400.5h5.4M320.1 397.8v5.4" stroke="#000" stroke-width="2.1" fill="none"/><path d="M446.7 387.2h5.4M449.4 384.5v5.4" stroke="#000" stroke-width="2.1" fill="none"/><path d="M450.5 397.2h5.4M453.2 394.6v5.4" stroke="#000" stroke-width="2.1" fill="none"/><path d="M419.7 411.2h4.8M422.1 408.8v4.8" stroke="#000" stroke-width="1.9" fill="none"/><path d="M441.5 417.2h5.4M444.2 414.5v5.4" stroke="#000" stroke-width="2.1" fill="none"/><path d="M475.2 404.8h5.4M477.9 402.1v5.4" stroke="#000" stroke-width="2.1" fill="none"/><path d="M477.3 396.6h8.6M481.5 392.3v8.6" stroke="#000" stroke-width="3.4" fill="none"/><path d="M470.4 430.5h4.3M472.5 428.4v4.3" stroke="#000" stroke-width="1.7" fill="none"/><path d="M417.5 499.2h4.8M419.9 496.8v4.8" stroke="#000" stroke-width="1.9" fill="none"/><path d="M335.1 383.7h3.2M336.7 382.1v3.2" stroke="#000" stroke-width="1.3" fill="none"/><line x1="430.0" y1="227.7" x2="451.1" y2="214.8" stroke="#54acff" stroke-width="1.3"/></g></g>
<line x1="87.80" y1="40.9" x2="87.80" y2="548.8" stroke="#000" stroke-width="1.35" stroke-dasharray="3.1 5.17" fill="none"/>
<line x1="166.52" y1="40.9" x2="166.52" y2="548.8" stroke="#000" stroke-width="1.35" stroke-dasharray="3.1 5.17" fill="none"/>
<line x1="245.24" y1="40.9" x2="245.24" y2="548.8" stroke="#000" stroke-width="1.35" stroke-dasharray="3.1 5.17" fill="none"/>
<line x1="323.96" y1="40.9" x2="323.96" y2="548.8" stroke="#000" stroke-width="1.35" stroke-dasharray="3.1 5.17" fill="none"/>
<line x1="402.68" y1="40.9" x2="402.68" y2="548.8" stroke="#000" stroke-width="1.35" stroke-dasharray="3.1 5.17" fill="none"/>
<line x1="481.40" y1="40.9" x2="481.40" y2="548.8" stroke="#000" stroke-width="1.35" stroke-dasharray="3.1 5.17" fill="none"/>
<line x1="12.9" y1="486.10" x2="486.0" y2="486.10" stroke="#000" stroke-width="1.35" stroke-dasharray="3.1 5.17" fill="none"/>
<line x1="12.9" y1="401.40" x2="486.0" y2="401.40" stroke="#000" stroke-width="1.35" stroke-dasharray="3.1 5.17" fill="none"/>
<line x1="12.9" y1="316.70" x2="486.0" y2="316.70" stroke="#000" stroke-width="1.35" stroke-dasharray="3.1 5.17" fill="none"/>
<line x1="12.9" y1="232.00" x2="486.0" y2="232.00" stroke="#000" stroke-width="1.35" stroke-dasharray="3.1 5.17" fill="none"/>
<line x1="12.9" y1="147.30" x2="486.0" y2="147.30" stroke="#000" stroke-width="1.35" stroke-dasharray="3.1 5.17" fill="none"/>
<line x1="12.9" y1="62.60" x2="486.0" y2="62.60" stroke="#000" stroke-width="1.35" stroke-dasharray="3.1 5.17" fill="none"/>
<text x="87.60" y="294.9" font-size="12.2" text-anchor="middle" font-family="Liberation Sans, Arial, Helvetica, sans-serif">84</text>
<text x="166.32" y="294.9" font-size="12.2" text-anchor="middle" font-family="Liberation Sans, Arial, Helvetica, sans-serif">86</text>
<text x="245.04" y="294.9" font-size="12.2" text-anchor="middle" font-family="Liberation Sans, Arial, Helvetica, sans-serif">88</text>
<text x="323.76" y="294.9" font-size="12.2" text-anchor="middle" font-family="Liberation Sans, Arial, Helvetica, sans-serif">90</text>
<text x="402.48" y="294.9" font-size="12.2" text-anchor="middle" font-family="Liberation Sans, Arial, Helvetica, sans-serif">92</text>
<text x="481.20" y="294.9" font-size="12.2" text-anchor="middle" font-family="Liberation Sans, Arial, Helvetica, sans-serif">94</text>
<text x="258.6" y="486.40" font-size="12.2" font-family="Liberation Sans, Arial, Helvetica, sans-serif">14</text>
<text x="258.6" y="401.70" font-size="12.2" font-family="Liberation Sans, Arial, Helvetica, sans-serif">16</text>
<text x="258.6" y="317.00" font-size="12.2" font-family="Liberation Sans, Arial, Helvetica, sans-serif">18</text>
<text x="258.6" y="232.30" font-size="12.2" font-family="Liberation Sans, Arial, Helvetica, sans-serif">20</text>
<text x="258.6" y="147.60" font-size="12.2" font-family="Liberation Sans, Arial, Helvetica, sans-serif">22</text>
<text x="258.6" y="62.90" font-size="12.2" font-family="Liberation Sans, Arial, Helvetica, sans-serif">24</text>
<g clip-path="url(#plotclip)"><path d="M179.9 548.2 L199.9 533.2 L219.9 518.2 L239.9 503.4 L259.9 488.7 L279.9 474.0 L299.9 459.5 L319.9 445.0 L339.9 430.7 L359.9 416.4 L379.9 402.3 L399.9 388.2 L419.9 374.3 L439.9 360.4 L459.9 346.6 L479.9 333.0" stroke="#000" stroke-width="1.0" stroke-dasharray="11.75 11.75" fill="none"/><line x1="333.5" y1="548.2" x2="492" y2="435.8" stroke="#000" stroke-width="1.0" stroke-dasharray="11.75 11.75" fill="none"/></g>
<path d="M13.0 381.6 L16.9 379.8 L20.3 377.3 L22.6 371.7 L23.7 367.1 L23.5 362.6 L23.4 366.5 L20.3 364.9 L19.4 361.5 L20.3 357.0 L24.3 352.5 L29.9 347.9 L37.3 344.3 L45.2 341.2 L50.8 337.5 L55.9 335.0 L57.6 331.6 L59.9 328.7 L63.2 327.0 L65.5 323.7 L67.8 319.7 L72.3 315.0 L79.1 310.1 L87.0 306.7 L92.0 304.1 L93.7 301.1 L98.8 295.4 L105.0 289.8 L111.2 280.7 L115.8 275.1 L118.0 270.6 L117.4 268.7 L119.7 267.8 L124.2 263.2 L133.3 255.3 L141.2 249.1 L150.2 244.6 L158.1 241.8 L167.1 239.3 L176.2 236.1 L181.4 232.3 L176.5 229.5 L172.3 226.3 L177.0 230.3 L181.4 232.3 L186.1 224.5 L189.0 222.2 L195.2 218.8 L197.4 215.4 L195.2 214.3 L195.7 211.5 L199.7 207.5 L206.5 203.4 L203.6 201.3 L204.2 197.9 L201.9 196.8 L203.6 195.7 L200.8 187.8 L199.4 182.1 L200.8 177.6 L204.8 172.5 L209.9 168.4 L217.8 165.8 L229.1 162.9 L235.8 160.4 L241.5 156.7 L246.0 151.6 L249.4 146.0 L252.2 141.5 L249.4 139.2 L245.4 137.0 L243.7 133.6 L242.4 130.2 L244.4 134.5 L245.4 135.8 L252.2 140.3 L253.0 143.7 L251.6 148.2 L253.3 155.0 L252.2 160.7 L256.7 165.2 L257.8 161.2 L256.2 157.8 L261.2 160.1 L262.9 162.9 L264.1 155.0 L265.8 151.6 L266.9 158.4 L264.6 166.9 L268.6 162.9 L269.7 156.2 L268.6 151.6 L270.3 147.1 L272.5 143.7 L275.4 142.6 L272.5 147.1 L272.0 151.6 L274.2 158.4 L273.7 165.8 L277.6 161.2 L279.9 162.9 L285.0 164.1 L288.3 162.9 L285.5 155.0 L282.1 149.4 L285.5 150.5 L287.2 143.2 L288.3 148.2 L290.0 155.0 L292.9 156.7 L294.0 161.2 L296.2 161.2 L297.9 155.0 L299.6 159.0 L302.5 157.3 L304.1 151.6 L305.6 143.7 L303.8 137.0 L306.4 143.7 L308.7 133.6 L307.5 143.7 L306.4 151.6 L307.0 158.4 L309.8 159.0 L310.9 153.9 L318.3 152.8 L319.4 146.0 L318.8 139.2 L319.4 131.3 L323.9 126.8 L321.1 131.3 L321.1 140.3 L324.5 146.0 L327.9 144.9 L325.6 149.4 L325.6 153.3 L327.9 152.8 L329.6 155.6 L332.9 155.0 L335.8 149.9 L336.9 146.0 L340.8 143.2 L345.4 139.2 L348.2 132.4 L348.7 127.7 L345.0 121.4 L344.1 116.8 L341.4 115.0 L340.5 112.3 L347.8 111.9 L349.6 109.2 L339.6 104.2 L344.6 98.8 L345.0 90.6 L331.9 85.7 L330.6 87.0 L327.9 79.8 L322.5 81.2 L316.1 74.4 L304.4 72.1 L293.6 66.3 M293.6 66.3 L303.5 70.3 L311.6 69.4 L312.5 65.8 L314.3 68.1 L317.0 73.5 L322.5 77.1 L327.9 78.9 L331.5 83.4 L337.8 85.7 L343.2 87.0 L346.4 85.7 L346.8 81.6 L343.2 80.7 L347.0 81.2 L348.7 84.3 L348.2 88.8 L349.6 94.3 L347.3 98.8 L347.8 102.4 L352.3 108.7 L358.6 110.5 L364.5 113.2 L370.3 113.2 L375.8 114.1 L377.6 112.3 L377.1 109.6 L378.9 112.8 L380.3 109.6 L382.5 109.6 L381.6 113.7 L386.6 118.7 L392.0 127.7 L394.3 134.9 L396.5 135.4 L396.1 140.3 L398.3 147.6 L400.1 156.6 L403.3 162.0 L401.5 169.2 L404.9 178.1 L405.5 183.4 L410.5 189.9 L413.3 198.0 L416.1 198.9 L410.8 183.4 L416.7 198.0 L417.6 202.3 L421.1 204.5 L424.8 209.8 L428.5 214.1 L430.1 219.1 L431.6 219.1 L432.2 214.7 L431.3 209.8 L428.8 203.5 L432.9 211.6 L436.0 212.9 L436.9 216.0 L440.3 218.1 L436.3 219.7 L432.9 223.4 L436.3 226.5 L438.8 225.3 L440.9 219.7 L444.7 209.4 L442.8 219.7 L446.2 214.4 L443.4 222.8 L446.5 224.7 L443.4 225.9 L441.2 227.8 L444.0 232.7 L447.5 239.3 L447.8 235.8 L446.5 233.4 L448.7 234.0 L451.5 238.3 L448.1 232.1 L447.8 229.9 L452.1 229.9 L455.2 228.1 L460.2 234.0 L462.0 232.7 L464.5 237.1 L467.6 235.8 L470.7 235.8 L467.0 238.3 L466.4 242.7 L470.1 242.7 L471.4 245.2 L473.9 243.9 L473.2 247.6 L471.2 248.6 L477.4 252.4 L481.0 256.7 L481.5 258.5 L477.4 263.5 L484.7 258.1 L484.2 264.4 L482.8 267.1 L484.2 270.7 L484.0 276.1 L483.5 280.7 L485.8 281.3 M461.2 256.7 L465.7 256.7 L467.0 259.9 L472.5 263.7 L477.0 263.3 L478.8 267.1 L479.7 270.7 L481.5 274.3 L480.1 277.9 L478.3 279.5 L475.2 277.9 L470.2 273.9 L466.1 268.0 L461.6 261.2 L461.2 256.7 M131.6 252.5 L133.8 247.4 L136.1 243.5 L141.2 239.5 L145.7 236.7 L149.6 237.3 L149.6 242.3 L145.7 245.2 L136.6 246.5 L135.0 251.4 L131.6 252.5 M140.0 249.5 L143.5 246.8 L147.5 244.3 L146.0 246.2" fill="none" stroke="#000" stroke-width="1.3" stroke-linejoin="round"/><path d="M480.1 261.2 L484.7 258.1 L484.2 264.8 L481.9 267.1Z" fill="#000" stroke="#000" stroke-width="0.8"/>
<path d="M243.0 294.4h12.8M249.4 288.0v12.8" stroke="#000" stroke-width="4.4" fill="none"/>

<text x="37.0" y="66.0" font-size="24.8" textLength="243.0" lengthAdjust="spacingAndGlyphs" font-family="Liberation Sans, Arial, Helvetica, sans-serif">2A12 rainrate (mm/hr)</text>
<text x="441.0" y="523.3" font-size="31" font-family="Liberation Sans, Arial, Helvetica, sans-serif">(f)</text>
<rect x="495.0" y="531.67" width="9.0" height="8.77" fill="#86dc8e"/>
<rect x="495.0" y="523.20" width="9.0" height="8.77" fill="#81d687"/>
<rect x="495.0" y="514.73" width="9.0" height="8.77" fill="#7bd081"/>
<rect x="495.0" y="506.27" width="9.0" height="8.77" fill="#76ca7a"/>
<rect x="495.0" y="497.80" width="9.0" height="8.77" fill="#71c473"/>
<rect x="495.0" y="489.33" width="9.0" height="8.77" fill="#6bbe6d"/>
<rect x="495.0" y="480.87" width="9.0" height="8.77" fill="#66b866"/>
<rect x="495.0" y="472.40" width="9.0" height="8.77" fill="#ccd4fc"/>
<rect x="495.0" y="463.93" width="9.0" height="8.77" fill="#bacefe"/>
<rect x="495.0" y="455.47" width="9.0" height="8.77" fill="#a9c8ff"/>
<rect x="495.0" y="447.00" width="9.0" height="8.77" fill="#97c2ff"/>
<rect x="495.0" y="438.53" width="9.0" height="8.77" fill="#85bcff"/>
<rect x="495.0" y="430.07" width="9.0" height="8.77" fill="#74b7ff"/>
<rect x="495.0" y="421.60" width="9.0" height="8.77" fill="#62b1ff"/>
<rect x="495.0" y="413.13" width="9.0" height="8.77" fill="#53a6ff"/>
<rect x="495.0" y="404.67" width="9.0" height="8.77" fill="#4d8cff"/>
<rect x="495.0" y="396.20" width="9.0" height="8.77" fill="#4774ff"/>
<rect x="495.0" y="387.73" width="9.0" height="8.77" fill="#415eff"/>
<rect x="495.0" y="379.27" width="9.0" height="8.77" fill="#3b49ff"/>
<rect x="495.0" y="370.80" width="9.0" height="8.77" fill="#3234ff"/>
<rect x="495.0" y="362.33" width="9.0" height="8.77" fill="#1414ff"/>
<rect x="495.0" y="353.87" width="9.0" height="8.77" fill="#0000fc"/>
<rect x="495.0" y="345.40" width="9.0" height="8.77" fill="#0000f3"/>
<rect x="495.0" y="336.93" width="9.0" height="8.77" fill="#0000e9"/>
<rect x="495.0" y="328.47" width="9.0" height="8.77" fill="#0000df"/>
<rect x="495.0" y="320.00" width="9.0" height="8.77" fill="#0202d4"/>
<rect x="495.0" y="311.53" width="9.0" height="8.77" fill="#0808c8"/>
<rect x="495.0" y="303.07" width="9.0" height="8.77" fill="#ffff00"/>
<rect x="495.0" y="294.60" width="9.0" height="8.77" fill="#fff700"/>
<rect x="495.0" y="286.13" width="9.0" height="8.77" fill="#ffef00"/>
<rect x="495.0" y="277.67" width="9.0" height="8.77" fill="#ffe800"/>
<rect x="495.0" y="269.20" width="9.0" height="8.77" fill="#ffe000"/>
<rect x="495.0" y="260.73" width="9.0" height="8.77" fill="#ffd800"/>
<rect x="495.0" y="252.27" width="9.0" height="8.77" fill="#ffd000"/>
<rect x="495.0" y="243.80" width="9.0" height="8.77" fill="#ff9000"/>
<rect x="495.0" y="235.33" width="9.0" height="8.77" fill="#ff8a00"/>
<rect x="495.0" y="226.87" width="9.0" height="8.77" fill="#ff8300"/>
<rect x="495.0" y="218.40" width="9.0" height="8.77" fill="#ff7d00"/>
<rect x="495.0" y="209.93" width="9.0" height="8.77" fill="#ff7600"/>
<rect x="495.0" y="201.47" width="9.0" height="8.77" fill="#ff7000"/>
<rect x="495.0" y="193.00" width="9.0" height="8.77" fill="#ff4400"/>
<rect x="495.0" y="184.53" width="9.0" height="8.77" fill="#ff3c00"/>
<rect x="495.0" y="176.07" width="9.0" height="8.77" fill="#ff3400"/>
<rect x="495.0" y="167.60" width="9.0" height="8.77" fill="#ff2c00"/>
<rect x="495.0" y="159.13" width="9.0" height="8.77" fill="#ff2400"/>
<rect x="495.0" y="150.67" width="9.0" height="8.77" fill="#ff1c00"/>
<rect x="495.0" y="142.20" width="9.0" height="8.77" fill="#ff1400"/>
<rect x="495.0" y="133.73" width="9.0" height="8.77" fill="#c80000"/>
<rect x="495.0" y="125.27" width="9.0" height="8.77" fill="#c10200"/>
<rect x="495.0" y="116.80" width="9.0" height="8.77" fill="#bb0400"/>
<rect x="495.0" y="108.33" width="9.0" height="8.77" fill="#b40600"/>
<rect x="495.0" y="99.87" width="9.0" height="8.77" fill="#ad0800"/>
<rect x="495.0" y="91.40" width="9.0" height="8.77" fill="#a70a00"/>
<rect x="495.0" y="82.93" width="9.0" height="8.77" fill="#a00c00"/>
<rect x="495.0" y="74.47" width="9.0" height="8.77" fill="#620e06"/>
<rect x="495.0" y="66.00" width="9.0" height="8.77" fill="#60110a"/>
<rect x="495.0" y="57.53" width="9.0" height="8.77" fill="#5e140f"/>
<rect x="495.0" y="49.07" width="9.0" height="8.77" fill="#5c1714"/>
<rect x="495.0" y="40.60" width="9.0" height="8.77" fill="#5a1a18"/>
<line x1="504.0" y1="548.60" x2="506.0" y2="548.60" stroke="#222" stroke-width="0.9"/>
<text x="524.0" y="557.20" font-size="19.2" text-anchor="middle" font-family="Liberation Sans, Arial, Helvetica, sans-serif">0</text>
<line x1="504.0" y1="497.80" x2="506.0" y2="497.80" stroke="#222" stroke-width="0.9"/>
<text x="524.0" y="506.40" font-size="19.2" text-anchor="middle" font-family="Liberation Sans, Arial, Helvetica, sans-serif">6</text>
<line x1="504.0" y1="447.00" x2="506.0" y2="447.00" stroke="#222" stroke-width="0.9"/>
<text x="524.0" y="455.60" font-size="19.2" text-anchor="middle" font-family="Liberation Sans, Arial, Helvetica, sans-serif">12</text>
<line x1="504.0" y1="396.20" x2="506.0" y2="396.20" stroke="#222" stroke-width="0.9"/>
<text x="524.0" y="404.80" font-size="19.2" text-anchor="middle" font-family="Liberation Sans, Arial, Helvetica, sans-serif">18</text>
<line x1="504.0" y1="345.40" x2="506.0" y2="345.40" stroke="#222" stroke-width="0.9"/>
<text x="524.0" y="354.00" font-size="19.2" text-anchor="middle" font-family="Liberation Sans, Arial, Helvetica, sans-serif">24</text>
<line x1="504.0" y1="294.60" x2="506.0" y2="294.60" stroke="#222" stroke-width="0.9"/>
<text x="524.0" y="303.20" font-size="19.2" text-anchor="middle" font-family="Liberation Sans, Arial, Helvetica, sans-serif">30</text>
<line x1="504.0" y1="243.80" x2="506.0" y2="243.80" stroke="#222" stroke-width="0.9"/>
<text x="524.0" y="252.40" font-size="19.2" text-anchor="middle" font-family="Liberation Sans, Arial, Helvetica, sans-serif">36</text>
<line x1="504.0" y1="193.00" x2="506.0" y2="193.00" stroke="#222" stroke-width="0.9"/>
<text x="524.0" y="201.60" font-size="19.2" text-anchor="middle" font-family="Liberation Sans, Arial, Helvetica, sans-serif">42</text>
<line x1="504.0" y1="142.20" x2="506.0" y2="142.20" stroke="#222" stroke-width="0.9"/>
<text x="524.0" y="150.80" font-size="19.2" text-anchor="middle" font-family="Liberation Sans, Arial, Helvetica, sans-serif">48</text>
<line x1="504.0" y1="91.40" x2="506.0" y2="91.40" stroke="#222" stroke-width="0.9"/>
<text x="524.0" y="100.00" font-size="19.2" text-anchor="middle" font-family="Liberation Sans, Arial, Helvetica, sans-serif">54</text>
</g>
<g transform="translate(0.00 1181.20)">
<g clip-path="url(#plotclip)"><g clip-path="url(#trig)"><g transform="rotate(-50 300 400)"><g filter="url(#pg0)"><g transform="rotate(50 300 400)"><rect x="-300" y="-200" width="1200" height="1200" fill="#757575"/><path d="M325.4 309.6 C330.4 296.1 353.6 287.6 369.4 279.1 C385.2 270.7 411.2 253.7 420.2 258.8 C429.2 263.9 424.2 292.1 423.6 309.6 C423.0 327.1 423.0 346.9 416.8 363.8 C410.6 380.8 395.7 400.5 386.3 411.3 C377.0 422.0 369.4 428.2 360.9 428.2 C352.5 428.2 339.2 422.5 335.5 411.3 C331.8 400.0 340.6 377.4 338.9 360.4 C337.2 343.5 320.3 323.2 325.4 309.6Z" fill="#808080" /><path d="M328.7 314.7 C331.8 304.3 346.2 295.8 352.5 297.8 C358.7 299.7 364.3 313.3 366.0 326.6 C367.7 339.8 365.4 360.4 362.6 377.4 C359.8 394.3 353.6 412.7 349.1 428.2 C344.6 443.7 340.6 462.1 335.5 470.5 C330.4 479.0 323.1 481.8 318.6 479.0 C314.1 476.2 306.7 467.7 308.4 453.6 C310.1 439.5 324.5 409.8 328.7 394.3 C333.0 378.8 333.8 373.7 333.8 360.4 C333.8 347.2 325.6 325.1 328.7 314.7Z" fill="#6a6a6a" /><path d="M200.0 516.3 C205.6 507.2 224.0 497.1 233.9 496.0 C243.8 494.8 256.5 503.3 259.3 509.5 C262.1 515.7 256.5 526.4 250.8 533.2 C245.2 540.0 233.9 547.3 225.4 550.2 C216.9 553.0 204.2 555.8 200.0 550.2 C195.8 544.5 194.4 525.3 200.0 516.3Z" fill="#828282" /><path d="M310.1 428.2 C317.2 416.9 339.8 411.3 352.5 411.3 C365.2 411.3 382.1 418.3 386.3 428.2 C390.6 438.1 384.9 459.3 377.9 470.5 C370.8 481.8 355.3 494.5 344.0 496.0 C332.7 497.4 315.8 490.3 310.1 479.0 C304.5 467.7 303.0 439.5 310.1 428.2Z" fill="#6a6a6a" /><path d="M386.3 479.0 C394.8 469.1 420.5 462.1 437.2 453.6 C453.8 445.1 478.1 424.0 486.3 428.2 C494.5 432.4 497.3 464.9 486.3 479.0 C475.3 493.1 436.9 507.2 420.2 512.9 C403.6 518.5 392.0 518.5 386.3 512.9 C380.7 507.2 377.9 488.9 386.3 479.0Z" fill="#7b7b7b" /></g></g></g><g filter="url(#pg4)"><ellipse cx="357.5" cy="329.9" rx="4.7" ry="9.5" fill="#4a4a4a" transform="rotate(10.0 357.5 329.9)"/><ellipse cx="357.5" cy="460.4" rx="9.5" ry="4.7" fill="#4a4a4a" transform="rotate(-20.0 357.5 460.4)"/><ellipse cx="386.3" cy="440.9" rx="6.8" ry="3.0" fill="#4a4a4a" transform="rotate(-20.0 386.3 440.9)"/><ellipse cx="259.3" cy="494.3" rx="3.4" ry="6.8" fill="#4a4a4a" transform="rotate(20.0 259.3 494.3)"/><ellipse cx="238.1" cy="504.4" rx="4.7" ry="2.4" fill="#4a4a4a" transform="rotate(-30.0 238.1 504.4)"/><ellipse cx="281.3" cy="543.4" rx="5.4" ry="3.4" fill="#4a4a4a"/><ellipse cx="338.9" cy="428.2" rx="5.4" ry="3.4" fill="#4a4a4a"/><ellipse cx="322.0" cy="429.9" rx="4.1" ry="6.8" fill="#4a4a4a"/><ellipse cx="349.1" cy="472.2" rx="9.5" ry="5.4" fill="#4a4a4a" transform="rotate(-10.0 349.1 472.2)"/><ellipse cx="469.3" cy="394.3" rx="3.4" ry="5.4" fill="#4a4a4a"/><ellipse cx="333.9" cy="308.7" rx="2.3" ry="5.4" fill="#4a4a4a" transform="rotate(-20.0 333.9 308.7)"/><ellipse cx="355.3" cy="331.3" rx="4.5" ry="7.2" fill="#4a4a4a" transform="rotate(-25.0 355.3 331.3)"/><ellipse cx="406.2" cy="253.3" rx="1.8" ry="2.7" fill="#4a4a4a"/><ellipse cx="350.8" cy="312.1" rx="2.7" ry="1.8" fill="#4a4a4a"/><ellipse cx="336.1" cy="446.9" rx="4.5" ry="8.1" fill="#4a4a4a" transform="rotate(30.0 336.1 446.9)"/><ellipse cx="385.8" cy="432.2" rx="5.4" ry="3.6" fill="#4a4a4a" transform="rotate(-20.0 385.8 432.2)"/><ellipse cx="445.7" cy="433.3" rx="2.7" ry="4.5" fill="#4a4a4a"/><ellipse cx="363.2" cy="396.1" rx="5.4" ry="2.7" fill="#4a4a4a" transform="rotate(-30.0 363.2 396.1)"/><ellipse cx="379.1" cy="422.0" rx="3.6" ry="5.4" fill="#4a4a4a" transform="rotate(20.0 379.1 422.0)"/><ellipse cx="320.3" cy="428.8" rx="3.6" ry="2.7" fill="#4a4a4a"/><ellipse cx="354.2" cy="460.4" rx="5.4" ry="3.2" fill="#4a4a4a" transform="rotate(-20.0 354.2 460.4)"/><ellipse cx="406.2" cy="492.1" rx="3.6" ry="1.8" fill="#4a4a4a" transform="rotate(-30.0 406.2 492.1)"/><ellipse cx="373.4" cy="505.6" rx="2.7" ry="3.6" fill="#4a4a4a"/></g><g filter="url(#pg1)"><path d="M8.2 532.2 L82.8 477.2 L161.4 418.7 L240.5 357.7 L320.0 300.0 L324.9 306.9 L326.2 306.2 L328.7 316.4 L330.4 329.9 L327.0 343.5 L325.4 357.0 L328.7 370.6 L333.8 384.2 L328.7 399.4 L322.0 406.2 L316.9 411.3 L308.4 421.4 L301.6 429.9 L294.9 438.4 L288.1 448.5 L281.3 458.7 L272.8 468.9 L264.4 473.9 L255.9 477.3 L245.7 484.1 L233.9 492.6 L222.0 501.0 L210.2 507.8 L200.0 512.9 L186.3 519.7 L179.6 528.2 L169.4 535.0 L152.5 541.7 L137.2 549.4 L130.0 560.0 L5.0 560.0 L5.0 539.0Z" fill="#a1a1a1" /><path d="M50.8 512.1 C66.9 498.6 132.7 448.5 152.5 435.4 C172.2 422.2 162.9 428.0 169.4 433.3 C175.9 438.6 185.8 458.7 191.4 467.2 C197.1 475.7 195.1 481.2 203.3 484.2 C211.5 487.1 236.6 483.3 240.5 485.0 C244.5 486.7 231.8 491.4 227.0 494.3 C222.2 497.3 218.5 500.2 211.7 502.8 C205.0 505.3 194.8 507.3 186.3 509.6 C177.9 511.8 169.4 514.6 160.9 516.3 C152.5 518.0 142.6 519.4 135.5 519.7 C128.5 520.0 124.2 519.4 118.6 518.0 C112.9 516.6 107.3 513.0 101.6 511.3 C96.0 509.6 90.3 507.9 84.7 507.9 C79.1 507.9 72.6 509.8 67.8 511.3 C63.0 512.7 58.7 516.2 55.9 516.3 C53.1 516.5 34.7 525.6 50.8 512.1Z" fill="#b7b7b7" /><path d="M233.8 485.8 C236.0 483.0 245.6 478.8 250.7 475.7 C255.8 472.6 260.3 470.0 264.3 467.2 C268.2 464.4 270.5 463.5 274.4 458.7 C278.4 453.9 283.7 444.1 288.0 438.4 C292.2 432.8 297.2 425.7 300.0 424.9 C302.8 424.0 306.9 428.5 304.9 433.3 C302.9 438.1 293.6 447.5 288.0 453.7 C282.3 459.9 277.2 465.5 271.0 470.6 C264.8 475.7 256.4 480.5 250.7 484.2 C245.1 487.8 240.0 492.3 237.2 492.6 C234.3 492.9 231.5 488.7 233.8 485.8Z" fill="#b7b7b7" /><path d="M123.7 468.9 C125.4 466.6 130.7 465.5 135.5 463.8 C140.3 462.1 146.8 460.4 152.5 458.7 C158.1 457.0 164.3 453.4 169.4 453.7 C174.5 453.9 180.1 457.9 182.9 460.4 C185.8 463.0 188.6 466.6 186.3 468.9 C184.1 471.2 175.0 472.6 169.4 474.0 C163.7 475.4 157.5 476.2 152.5 477.4 C147.4 478.5 143.4 480.8 138.9 480.8 C134.4 480.8 127.9 479.4 125.4 477.4 C122.8 475.4 122.0 471.2 123.7 468.9Z" fill="#9d9d9d" /><path d="M71.1 499.4 C72.3 498.4 77.4 497.4 81.3 496.9 C85.3 496.3 92.3 495.8 94.9 496.3 C97.4 496.9 98.2 499.3 96.6 500.2 C94.9 501.2 88.4 501.5 84.7 501.9 C81.0 502.4 76.8 503.2 74.5 502.8 C72.3 502.4 70.0 500.4 71.1 499.4Z" fill="#c5c5c5" /><path d="M149.1 437.1 C165.4 423.9 243.9 365.1 264.3 355.4 C284.6 345.8 272.7 371.2 271.0 379.1 C269.3 387.0 259.2 397.8 254.1 402.8 C249.0 407.9 246.2 407.6 240.5 409.6 C234.9 411.6 227.8 413.0 220.2 414.7 C212.6 416.4 201.6 417.2 194.8 419.8 C188.0 422.3 184.4 427.5 179.6 429.9 C174.8 432.3 171.1 433.0 166.0 434.2 C160.9 435.4 132.7 450.2 149.1 437.1Z" fill="#cccccc" /><path d="M211.7 397.8 C216.3 389.6 254.4 362.5 264.3 358.8 C274.1 355.1 272.7 369.0 271.0 375.7 C269.3 382.5 259.7 394.1 254.1 399.5 C248.4 404.8 244.2 408.2 237.2 407.9 C230.1 407.6 207.2 405.9 211.7 397.8Z" fill="#d5d5d5" /><path d="M242.6 414.7 C243.5 411.0 243.7 405.7 245.6 401.1 C247.5 396.6 251.0 392.4 254.1 387.6 C257.2 382.8 261.4 379.4 264.3 372.4 C267.1 365.3 264.5 354.1 271.0 345.2 C277.5 336.4 297.9 305.6 303.2 319.0 C308.6 332.4 305.8 406.2 303.2 425.7 C300.7 445.2 291.9 431.6 288.0 435.9 C284.0 440.1 282.3 447.3 279.5 451.1 C276.7 455.0 275.3 456.7 271.0 459.1 C266.8 461.4 259.7 462.6 254.1 465.2 C248.4 467.7 241.4 472.1 237.2 474.3 C232.9 476.6 231.8 478.6 228.7 478.6 C225.6 478.6 221.9 474.5 218.5 474.3 C215.1 474.2 212.0 476.8 208.4 477.7 C204.7 478.7 199.2 481.1 196.5 480.1 C193.8 479.0 191.6 474.4 192.3 471.4 C193.0 468.5 197.6 464.8 200.7 462.1 C203.8 459.4 207.5 457.6 210.9 455.4 C214.3 453.1 218.5 450.8 221.1 448.6 C223.6 446.4 224.3 443.7 226.1 442.1 C228.0 440.6 230.8 440.6 232.4 439.4 C234.0 438.2 234.7 436.6 235.8 435.0 C236.9 433.4 238.5 431.9 239.2 429.9 C239.9 428.0 239.6 425.7 240.2 423.2 C240.8 420.6 241.7 418.4 242.6 414.7Z" fill="#e0e0e0" /><path d="M244.4 394.3 C253.5 383.9 231.0 380.0 244.4 365.5 C257.7 351.1 311.5 315.8 324.5 307.6 C337.5 299.4 323.2 312.7 322.3 316.4 C321.4 320.1 320.6 325.4 318.9 329.9 C317.2 334.5 313.6 337.9 312.1 343.5 C310.7 349.1 311.0 358.2 310.4 363.8 C309.9 369.5 309.6 373.4 308.8 377.4 C307.9 381.3 305.1 384.7 305.4 387.5 C305.6 390.4 308.8 391.5 310.4 394.3 C312.1 397.1 315.8 401.7 315.5 404.5 C315.2 407.3 311.0 408.4 308.8 411.3 C306.5 414.1 304.2 418.0 302.0 421.4 C299.7 424.8 297.5 429.0 295.2 431.6 C292.9 434.1 290.7 434.4 288.4 436.7 C286.2 438.9 283.9 441.7 281.6 445.1 C279.4 448.5 277.1 454.2 274.9 457.0 C272.6 459.8 271.2 460.9 268.1 462.1 C265.0 463.2 259.9 462.6 256.2 463.8 C252.6 464.9 249.7 466.6 246.1 468.9 C242.4 471.1 238.5 476.3 234.2 477.3 C230.0 478.3 224.6 474.9 220.7 474.9 C216.7 474.9 213.9 476.6 210.5 477.3 C207.1 478.0 203.4 478.7 200.0 479.0 C196.6 479.3 191.5 487.5 189.8 479.0 C188.1 470.5 180.7 442.3 189.8 428.2 C198.9 414.1 235.3 404.8 244.4 394.3Z" fill="#e0e0e0" /><path d="M155.0 433.7 C155.6 432.6 165.6 432.5 169.4 432.0 C173.2 431.4 175.6 431.4 177.9 430.3 C180.1 429.2 180.7 426.9 182.9 425.2 C185.2 423.5 188.0 421.4 191.4 420.1 C194.8 418.9 199.0 418.4 203.3 417.6 C207.5 416.7 212.6 416.0 216.8 415.0 C221.1 414.1 225.0 412.8 228.7 411.7 C232.4 410.5 236.6 407.7 238.8 408.3 C241.1 408.8 242.1 412.5 242.2 415.0 C242.4 417.6 240.3 421.0 239.7 423.5 C239.1 426.1 239.6 428.3 238.8 430.3 C238.1 432.3 236.6 433.8 235.5 435.4 C234.3 436.9 233.8 438.5 232.1 439.6 C230.4 440.7 227.3 440.6 225.3 442.1 C223.3 443.7 222.8 446.7 220.2 448.9 C217.7 451.2 213.4 453.4 210.1 455.7 C206.7 458.0 203.0 459.9 199.9 462.5 C196.8 465.0 194.0 470.1 191.4 470.9 C188.9 471.7 187.2 470.1 184.6 467.2 C182.1 464.3 179.3 458.5 176.2 453.7 C173.1 448.9 169.5 441.7 166.0 438.4 C162.5 435.1 154.4 434.7 155.0 433.7Z" fill="#c6c6c6" /><path d="M162.6 435.9 C163.2 433.6 173.9 434.7 177.9 433.3 C181.8 431.9 182.1 429.4 186.3 427.4 C190.6 425.4 197.6 423.0 203.3 421.5 C208.9 419.9 214.7 419.6 220.2 418.1 C225.7 416.6 233.3 412.4 236.3 412.7 C239.4 413.0 238.5 416.9 238.5 419.8 C238.5 422.7 237.9 426.8 236.3 429.9 C234.7 433.1 231.6 435.9 228.7 438.4 C225.7 441.0 222.2 442.7 218.5 445.2 C214.9 447.7 210.3 450.8 206.7 453.7 C203.0 456.5 199.2 459.9 196.5 462.1 C193.8 464.4 192.8 467.5 190.6 467.2 C188.3 466.9 185.6 463.8 182.9 460.4 C180.3 457.0 177.9 451.0 174.5 446.9 C171.1 442.8 162.1 438.1 162.6 435.9Z" fill="#b9b9b9" /><path d="M236.4 369.8 C249.6 357.0 304.4 320.5 318.6 311.7 C332.8 302.8 321.7 313.3 321.6 316.4 C321.6 319.4 320.4 327.1 318.2 329.9 C316.0 332.8 311.2 330.8 308.4 333.7 C305.6 336.5 303.9 342.4 301.6 346.9 C299.4 351.3 297.1 356.5 294.9 360.4 C292.6 364.4 291.5 368.1 288.1 370.6 C284.7 373.1 278.5 374.6 274.5 375.7 C270.6 376.8 268.3 375.4 264.4 377.4 C260.4 379.4 255.0 385.7 250.8 387.5 C246.6 389.4 241.7 391.4 239.3 388.4 C236.9 385.4 223.2 382.5 236.4 369.8Z" fill="#f4f4f4" /><path d="M322.8 392.6 C322.7 390.1 323.9 386.7 325.4 384.2 C326.8 381.6 329.6 377.9 331.3 377.4 C333.0 376.8 335.7 378.2 335.5 380.8 C335.4 383.3 332.0 389.5 330.4 392.6 C328.9 395.7 327.5 399.4 326.2 399.4 C324.9 399.4 323.0 395.2 322.8 392.6Z" fill="#e0e0e0" /><path d="M366.6 279.5 C369.7 276.4 384.3 265.8 387.5 264.6 C390.8 263.5 386.9 270.7 386.1 272.8 C385.2 274.9 383.8 276.0 382.7 277.3 C381.5 278.6 380.6 279.5 379.3 280.7 C378.0 281.8 375.9 282.4 374.8 284.1 C373.6 285.7 373.4 291.0 372.5 290.8 C371.6 290.7 370.1 285.1 369.1 283.3 C368.1 281.4 363.6 282.6 366.6 279.5Z" fill="#bbbbbb" /><path d="M372.3 277.0 C373.6 275.2 382.1 269.3 383.6 269.1 C385.1 269.0 382.6 274.0 381.3 275.9 C380.0 277.8 377.2 280.2 375.7 280.4 C374.2 280.6 371.0 278.9 372.3 277.0Z" fill="#d0d0d0" /><path d="M354.2 288.1 C354.3 287.0 358.5 284.4 359.3 285.0 C360.0 285.6 359.6 291.2 358.7 291.7 C357.9 292.3 354.1 289.2 354.2 288.1Z" fill="#a1a1a1" /><path d="M426.5 238.4 L429.9 242.0 L433.3 248.8 L437.2 255.6 L436.6 262.4 L431.0 266.3 L425.4 265.8 L419.7 264.6 L417.4 269.1 L416.3 274.8 L416.3 280.4 L412.9 286.1 L408.4 289.5 L405.0 294.0 L406.2 300.8 L405.0 306.4 L401.6 312.1 L402.8 317.7 L407.3 320.0 L411.8 324.5 L416.3 317.7 L419.7 313.2 L423.1 315.4 L424.2 320.0 L422.0 325.6 L418.6 331.3 L415.2 336.9 L410.7 342.5 L406.2 347.1 L399.4 347.1 L392.6 344.8 L385.8 345.9 L379.1 343.7 L373.4 339.2 L368.9 332.4 L367.8 329.0 L368.9 339.2 L372.3 345.9 L370.0 352.7 L367.8 359.5 L366.6 365.1 L370.0 370.8 L379.1 373.0 L385.8 359.5 L390.3 357.2 L396.0 360.6 L401.6 358.4 L408.4 355.0 L414.1 350.5 L417.4 357.2 L418.6 366.3 L424.2 364.0 L431.0 359.5 L437.8 356.1 L444.6 352.7 L450.2 348.2 L458.1 341.4 L462.6 334.6 L467.1 327.9 L476.2 324.5 L482.9 320.0 L492.0 314.3 L492.0 190.1Z" fill="#9f9f9f" stroke="#9f9f9f" stroke-width="2.0" stroke-linejoin="round"/><path d="M419.7 355.4 L429.9 356.5 L441.2 348.6 L450.2 336.2 L458.1 321.5 L492.0 313.6 L492.0 467.2 L480.7 470.6 L476.2 467.2 L473.9 460.4 L469.4 457.0 L471.7 452.5 L466.0 448.0 L460.4 449.1 L455.8 446.9 L451.3 449.1 L446.8 452.5 L443.4 455.9 L441.2 449.1 L443.4 444.6 L446.8 437.9 L450.2 431.1 L446.8 428.8 L440.0 425.4 L433.3 426.6 L426.5 425.4 L419.7 423.2 L412.9 422.0 L406.2 423.2 L399.4 425.4 L392.6 424.3 L390.3 417.5 L385.8 411.9 L383.6 406.2 L389.2 407.4 L394.9 402.8 L401.6 397.2 L408.4 393.8 L415.2 388.2 L416.3 381.4 L414.1 372.4 L417.4 365.6Z" fill="#9f9f9f" stroke="#9f9f9f" stroke-width="2.0" stroke-linejoin="round"/><path d="M399.9 549.3 L406.7 529.8 L411.7 519.7 L420.2 512.9 L416.8 502.7 L425.3 496.0 L433.8 490.9 L437.2 485.8 L443.9 479.0 L450.7 472.2 L460.9 467.2 L471.0 458.7 L479.5 450.2 L488.0 445.1 L488.0 549.3Z" fill="#9f9f9f" stroke="#9f9f9f" stroke-width="2.0" stroke-linejoin="round"/><path d="M426.5 238.4 L429.9 242.0 L433.3 248.8 L437.2 255.6 L436.6 262.4 L431.0 266.3 L425.4 265.8 L419.7 264.6 L417.4 269.1 L416.3 274.8 L416.3 280.4 L412.9 286.1 L408.4 289.5 L405.0 294.0 L406.2 300.8 L405.0 306.4 L401.6 312.1 L402.8 317.7 L407.3 320.0 L411.8 324.5 L416.3 317.7 L419.7 313.2 L423.1 315.4 L424.2 320.0 L422.0 325.6 L418.6 331.3 L415.2 336.9 L410.7 342.5 L406.2 347.1 L399.4 347.1 L392.6 344.8 L385.8 345.9 L379.1 343.7 L373.4 339.2 L368.9 332.4 L367.8 329.0 L368.9 339.2 L372.3 345.9 L370.0 352.7 L367.8 359.5 L366.6 365.1 L370.0 370.8 L379.1 373.0 L385.8 359.5 L390.3 357.2 L396.0 360.6 L401.6 358.4 L408.4 355.0 L414.1 350.5 L417.4 357.2 L418.6 366.3 L424.2 364.0 L431.0 359.5 L437.8 356.1 L444.6 352.7 L450.2 348.2 L458.1 341.4 L462.6 334.6 L467.1 327.9 L476.2 324.5 L482.9 320.0 L492.0 314.3 L492.0 190.1Z" fill="#b2b2b2" /><path d="M419.7 355.4 L429.9 356.5 L441.2 348.6 L450.2 336.2 L458.1 321.5 L492.0 313.6 L492.0 467.2 L480.7 470.6 L476.2 467.2 L473.9 460.4 L469.4 457.0 L471.7 452.5 L466.0 448.0 L460.4 449.1 L455.8 446.9 L451.3 449.1 L446.8 452.5 L443.4 455.9 L441.2 449.1 L443.4 444.6 L446.8 437.9 L450.2 431.1 L446.8 428.8 L440.0 425.4 L433.3 426.6 L426.5 425.4 L419.7 423.2 L412.9 422.0 L406.2 423.2 L399.4 425.4 L392.6 424.3 L390.3 417.5 L385.8 411.9 L383.6 406.2 L389.2 407.4 L394.9 402.8 L401.6 397.2 L408.4 393.8 L415.2 388.2 L416.3 381.4 L414.1 372.4 L417.4 365.6Z" fill="#b2b2b2" /><path d="M399.9 549.3 L406.7 529.8 L411.7 519.7 L420.2 512.9 L416.8 502.7 L425.3 496.0 L433.8 490.9 L437.2 485.8 L443.9 479.0 L450.7 472.2 L460.9 467.2 L471.0 458.7 L479.5 450.2 L488.0 445.1 L488.0 549.3Z" fill="#b2b2b2" /><path d="M422.0 296.2 C424.4 294.7 430.4 294.0 433.3 295.1 C436.1 296.2 438.9 300.2 438.9 303.0 C438.9 305.8 435.7 310.7 433.3 312.1 C430.8 313.4 426.7 312.2 424.2 310.9 C421.8 309.6 419.0 306.6 418.6 304.2 C418.2 301.7 419.5 297.8 422.0 296.2Z" fill="#a1a1a1" /><path d="M406.2 298.5 C407.3 295.7 412.2 295.1 414.1 296.2 C415.9 297.4 417.6 302.3 417.4 305.3 C417.3 308.3 414.6 313.0 412.9 314.3 C411.2 315.6 408.4 315.8 407.3 313.2 C406.2 310.6 405.0 301.3 406.2 298.5Z" fill="#a1a1a1" /><path d="M403.3 294.3 C404.9 286.9 411.0 280.8 415.4 276.0 C419.9 271.3 425.6 265.2 429.7 265.9 C433.7 266.6 438.8 274.3 439.8 280.1 C440.9 285.9 438.1 293.7 435.8 300.4 C433.4 307.2 428.3 314.0 425.6 320.8 C422.9 327.5 422.6 335.7 419.5 341.1 C416.5 346.5 411.4 353.3 407.3 353.3 C403.3 353.3 395.5 346.5 395.1 341.1 C394.8 335.7 403.9 328.5 405.3 320.8 C406.6 313.0 401.6 301.8 403.3 294.3Z" fill="#a4a4a4" /><path d="M387.0 408.1 C389.0 405.1 397.2 401.0 403.3 400.0 C409.3 399.0 417.1 399.7 423.6 402.1 C430.0 404.4 440.9 410.5 441.9 414.2 C442.9 418.0 436.1 423.1 429.7 424.4 C423.2 425.8 409.7 423.4 403.3 422.4 C396.8 421.4 393.8 420.7 391.1 418.3 C388.3 415.9 385.0 411.2 387.0 408.1Z" fill="#a4a4a4" /><path d="M437.8 211.0 C440.5 205.6 451.7 204.2 456.1 206.9 C460.5 209.6 464.6 219.8 464.2 227.3 C463.9 234.7 458.1 249.6 454.1 251.6 C450.0 253.7 442.5 246.2 439.8 239.5 C437.1 232.7 435.1 216.4 437.8 211.0Z" fill="#a4a4a4" /><path d="M419.7 271.4 C421.6 269.5 425.0 269.0 427.6 269.1 C430.2 269.3 433.6 270.3 435.5 272.5 C437.4 274.8 438.9 279.3 438.9 282.7 C438.9 286.1 437.6 290.6 435.5 292.9 C433.4 295.1 429.3 296.4 426.5 296.2 C423.7 296.1 420.3 294.4 418.6 291.7 C416.9 289.1 416.1 283.8 416.3 280.4 C416.5 277.0 417.8 273.3 419.7 271.4Z" fill="#b7b7b7" /><path d="M426.5 321.1 C428.4 319.2 432.3 317.7 435.5 317.7 C438.7 317.7 443.4 318.8 445.7 321.1 C447.9 323.4 449.3 327.9 449.1 331.3 C448.9 334.6 446.8 338.6 444.6 341.4 C442.3 344.2 438.9 345.9 435.5 348.2 C432.1 350.5 427.8 354.2 424.2 355.0 C420.6 355.7 414.8 355.3 414.1 352.7 C413.3 350.1 418.0 343.1 419.7 339.2 C421.4 335.2 423.1 332.0 424.2 329.0 C425.4 326.0 424.6 323.0 426.5 321.1Z" fill="#b7b7b7" /><path d="M434.4 325.6 C435.9 324.1 440.6 323.5 442.3 324.5 C444.0 325.4 445.1 329.2 444.6 331.3 C444.0 333.3 440.8 336.5 438.9 336.9 C437.0 337.3 434.0 335.4 433.3 333.5 C432.5 331.6 432.9 327.1 434.4 325.6Z" fill="#c6c6c6" /><path d="M374.5 348.2 C375.7 347.3 382.1 348.8 385.8 349.3 C389.6 349.9 394.5 350.6 397.1 351.6 C399.8 352.5 402.8 354.2 401.6 355.0 C400.5 355.7 394.1 356.1 390.3 356.1 C386.6 356.1 381.7 356.3 379.1 355.0 C376.4 353.7 373.4 349.1 374.5 348.2Z" fill="#b7b7b7" /><path d="M437.8 245.4 C439.7 245.4 444.7 247.9 446.8 251.1 C448.9 254.3 449.4 260.1 450.2 264.6 C451.0 269.1 451.9 277.0 451.3 278.2 C450.8 279.3 448.3 274.4 446.8 271.4 C445.3 268.4 444.2 263.5 442.3 260.1 C440.4 256.7 436.3 253.5 435.5 251.1 C434.8 248.6 435.9 245.4 437.8 245.4Z" fill="#b7b7b7" /><path d="M451.3 226.2 C451.7 222.3 457.3 221.0 460.4 218.3 C463.4 215.7 466.0 213.2 469.4 210.4 C472.8 207.6 476.9 203.8 480.7 201.4 C484.5 198.9 490.1 191.6 492.0 195.7 C493.9 199.9 493.5 219.3 492.0 226.2 C490.5 233.2 485.6 233.4 482.9 237.5 C480.3 241.7 478.8 248.8 476.2 251.1 C473.5 253.3 470.1 252.6 467.1 251.1 C464.1 249.6 460.7 246.2 458.1 242.0 C455.5 237.9 451.0 230.2 451.3 226.2Z" fill="#b7b7b7" /><path d="M434.4 236.4 C435.5 234.3 439.7 231.7 442.3 229.6 C444.9 227.5 448.5 224.2 450.2 224.0 C451.9 223.8 452.8 227.0 452.5 228.5 C452.1 230.0 448.3 231.5 447.9 233.0 C447.6 234.5 450.2 236.0 450.2 237.5 C450.2 239.0 447.9 240.5 447.9 242.0 C447.9 243.5 450.4 245.1 450.2 246.6 C450.0 248.1 447.8 251.1 446.8 251.1 C445.9 251.1 445.9 247.7 444.6 246.6 C443.2 245.4 440.4 245.1 438.9 244.3 C437.4 243.5 436.3 243.4 435.5 242.0 C434.8 240.7 433.3 238.5 434.4 236.4Z" fill="#e0e0e0" /><path d="M447.9 253.3 C447.9 252.4 450.2 252.8 451.3 252.2 C452.5 251.6 453.6 249.4 454.7 249.9 C455.8 250.5 457.2 253.5 458.1 255.6 C459.0 257.7 459.6 260.1 460.4 262.4 C461.1 264.6 461.5 267.5 462.6 269.1 C463.7 270.8 465.4 271.4 467.1 272.5 C468.8 273.7 470.7 275.0 472.8 275.9 C474.9 276.9 476.4 277.4 479.6 278.2 C482.8 278.9 489.9 275.4 492.0 280.4 C494.1 285.5 493.9 303.0 492.0 308.7 C490.1 314.3 483.3 312.4 480.7 314.3 C478.1 316.2 477.3 320.0 476.2 320.0 C475.0 320.0 475.0 314.7 473.9 314.3 C472.8 313.9 470.7 317.9 469.4 317.7 C468.1 317.5 467.1 313.0 466.0 313.2 C464.9 313.4 463.9 318.6 462.6 318.8 C461.3 319.0 459.4 316.0 458.1 314.3 C456.8 312.6 454.9 310.6 454.7 308.7 C454.5 306.8 457.0 304.9 457.0 303.0 C457.0 301.1 454.9 299.3 454.7 297.4 C454.5 295.5 456.2 293.4 455.8 291.7 C455.5 290.0 452.5 288.7 452.5 287.2 C452.5 285.7 456.0 284.2 455.8 282.7 C455.7 281.2 451.9 280.1 451.3 278.2 C450.8 276.3 452.6 273.7 452.5 271.4 C452.3 269.1 450.4 266.9 450.2 264.6 C450.0 262.4 451.7 259.7 451.3 257.9 C451.0 256.0 447.9 254.3 447.9 253.3Z" fill="#d4d4d4" /><path d="M460.4 280.4 C462.4 277.2 467.9 277.8 471.7 278.2 C475.4 278.6 480.7 278.6 482.9 282.7 C485.2 286.8 486.3 298.1 485.2 303.0 C484.1 307.9 479.6 310.9 476.2 312.1 C472.8 313.2 467.7 312.2 464.9 309.8 C462.1 307.4 460.0 302.3 459.2 297.4 C458.5 292.5 458.3 283.6 460.4 280.4Z" fill="#e0e0e0" /><ellipse cx="466.6" cy="303.0" rx="5.1" ry="6.2" fill="#f0f0f0" transform="rotate(20.0 466.6 303.0)"/><path d="M462.6 350.5 C463.6 348.6 467.7 347.4 469.4 348.2 C471.1 348.9 472.8 352.7 472.8 355.0 C472.8 357.2 469.4 359.9 469.4 361.7 C469.4 363.6 471.7 364.8 472.8 366.3 C473.9 367.8 476.7 369.8 476.2 370.8 C475.6 371.7 471.7 372.3 469.4 371.9 C467.1 371.5 464.3 369.8 462.6 368.5 C460.9 367.2 459.0 365.5 459.2 364.0 C459.4 362.5 463.2 361.7 463.7 359.5 C464.3 357.2 461.7 352.3 462.6 350.5Z" fill="#dcdcdc" /><path d="M480.7 199.1 C481.8 195.7 490.1 189.5 492.0 192.4 C493.9 195.2 493.1 212.7 492.0 216.1 C490.9 219.5 487.1 215.5 485.2 212.7 C483.3 209.9 479.6 202.5 480.7 199.1Z" fill="#d7d7d7" /><path d="M424.2 396.1 C427.2 393.4 431.8 390.4 435.5 390.4 C439.3 390.4 444.4 392.9 446.8 396.1 C449.3 399.3 448.3 405.7 450.2 409.6 C452.1 413.6 453.8 417.7 458.1 419.8 C462.4 421.9 470.5 421.7 476.2 422.0 C481.8 422.4 489.3 415.6 492.0 422.0 C494.6 428.4 493.9 454.0 492.0 460.4 C490.1 466.8 484.5 462.7 480.7 460.4 C476.9 458.2 473.2 450.3 469.4 446.9 C465.6 443.5 461.1 443.5 458.1 440.1 C455.1 436.7 455.1 429.9 451.3 426.6 C447.6 423.2 440.4 421.7 435.5 419.8 C430.6 417.9 425.0 417.5 422.0 415.3 C419.0 413.0 417.1 409.4 417.4 406.2 C417.8 403.0 421.2 398.7 424.2 396.1Z" fill="#b7b7b7" /><path d="M449.1 396.1 C449.4 393.6 451.0 389.7 452.5 387.0 C454.0 384.4 456.2 382.1 458.1 380.3 C460.0 378.4 462.2 375.6 463.7 375.7 C465.3 375.9 466.8 379.3 467.1 381.4 C467.5 383.5 465.6 386.3 466.0 388.2 C466.4 390.0 467.7 392.5 469.4 392.7 C471.1 392.9 474.3 391.2 476.2 389.3 C478.1 387.4 478.1 383.6 480.7 381.4 C483.3 379.1 490.1 370.1 492.0 375.7 C493.9 381.4 493.9 408.3 492.0 415.3 C490.1 422.2 483.3 417.9 480.7 417.5 C478.1 417.1 478.1 413.2 476.2 413.0 C474.3 412.8 471.5 415.6 469.4 416.4 C467.3 417.1 465.6 418.3 463.7 417.5 C461.9 416.8 459.8 413.6 458.1 411.9 C456.4 410.2 454.9 409.1 453.6 407.4 C452.3 405.7 451.0 403.6 450.2 401.7 C449.4 399.8 448.7 398.5 449.1 396.1Z" fill="#e0e0e0" /><path d="M322.6 396.1 C322.4 394.4 323.7 390.6 324.8 388.2 C326.0 385.7 328.0 382.0 329.4 381.4 C330.7 380.8 332.6 382.9 332.7 384.8 C332.9 386.7 331.6 390.4 330.5 392.7 C329.4 394.9 327.3 397.8 326.0 398.3 C324.7 398.9 322.8 397.8 322.6 396.1Z" fill="#e0e0e0" /><path d="M460.4 362.2 C460.9 360.9 464.9 359.7 467.1 359.9 C469.4 360.1 473.2 362.0 473.9 363.3 C474.7 364.6 473.3 367.1 471.7 367.8 C470.0 368.6 465.6 368.8 463.7 367.8 C461.9 366.9 459.8 363.5 460.4 362.2Z" fill="#dcdcdc" /><ellipse cx="458.1" cy="442.9" rx="3.2" ry="1.1" fill="#d7d7d7" transform="rotate(-5.0 458.1 442.9)"/><path d="M413.4 549.3 C402.1 546.1 416.8 535.9 420.2 529.8 C423.6 523.8 428.7 518.5 433.8 512.9 C438.8 507.2 444.5 501.6 450.7 496.0 C456.9 490.3 464.8 483.5 471.0 479.0 C477.2 474.5 485.1 457.1 488.0 468.9 C490.8 480.6 500.4 535.9 488.0 549.3 C475.6 562.7 424.7 552.6 413.4 549.3Z" fill="#b7b7b7" /><path d="M454.1 549.3 C451.3 546.1 465.4 535.3 471.0 529.8 C476.7 524.3 485.1 513.0 488.0 516.3 C490.8 519.5 493.6 543.8 488.0 549.3 C482.3 554.8 456.9 552.6 454.1 549.3Z" fill="#c4c4c4" /><path d="M310.1 512.9 C310.1 509.8 316.0 505.5 318.6 504.4 C321.1 503.4 322.8 506.0 325.4 506.5 C327.9 506.9 332.1 505.9 333.8 507.0 C335.5 508.0 336.4 510.2 335.5 512.9 C334.7 515.6 331.0 520.2 328.7 523.1 C326.5 525.9 322.0 527.3 322.0 529.8 C322.0 532.4 327.0 535.1 328.7 538.3 C330.4 541.5 335.5 547.5 332.1 549.3 C328.7 551.1 312.4 550.3 308.4 549.3 C304.5 548.3 307.8 546.1 308.4 543.4 C309.0 540.7 310.1 536.6 311.8 533.2 C313.5 529.8 318.9 526.4 318.6 523.1 C318.3 519.7 310.1 516.0 310.1 512.9Z" fill="#a1a1a1" /><path d="M311.8 536.6 C313.5 533.9 319.4 532.1 322.0 533.2 C324.5 534.4 326.5 540.7 327.0 543.4 C327.6 546.1 327.9 548.3 325.4 549.3 C322.8 550.3 314.1 551.4 311.8 549.3 C309.5 547.2 310.1 539.3 311.8 536.6Z" fill="#b7b7b7" /><path d="M345.7 523.1 C346.5 519.1 350.2 514.0 352.5 509.5 C354.7 505.0 357.0 500.2 359.2 496.0 C361.5 491.7 363.7 488.0 366.0 484.1 C368.3 480.1 371.1 473.4 372.8 472.2 C374.5 471.1 376.7 474.2 376.2 477.3 C375.6 480.4 371.7 486.6 369.4 490.9 C367.1 495.1 364.9 498.5 362.6 502.7 C360.4 507.0 357.8 511.8 355.8 516.3 C353.9 520.8 352.2 527.0 350.8 529.8 C349.4 532.7 348.2 534.4 347.4 533.2 C346.5 532.1 344.8 527.0 345.7 523.1Z" fill="#a1a1a1" /><path d="M352.5 533.2 C354.2 531.5 358.7 531.2 362.6 529.8 C366.6 528.4 372.2 526.7 376.2 524.8 C380.1 522.8 382.9 520.0 386.3 518.0 C389.7 516.0 392.5 514.6 396.5 512.9 C400.5 511.2 407.2 507.8 410.1 507.8 C412.9 507.8 415.1 510.9 413.4 512.9 C411.7 514.9 404.4 517.4 399.9 519.7 C395.4 521.9 390.9 524.2 386.3 526.4 C381.8 528.7 377.0 531.2 372.8 533.2 C368.5 535.2 364.3 537.2 360.9 538.3 C357.5 539.4 353.9 540.8 352.5 540.0 C351.0 539.2 350.8 534.9 352.5 533.2Z" fill="#a1a1a1" /><path d="M357.5 549.3 C355.8 547.8 359.5 542.1 362.6 540.0 C365.7 537.9 371.7 538.3 376.2 536.6 C380.7 534.9 386.3 530.4 389.7 529.8 C393.1 529.3 397.1 531.2 396.5 533.2 C395.9 535.2 390.3 539.0 386.3 541.7 C382.4 544.4 377.6 548.0 372.8 549.3 C368.0 550.6 359.2 550.9 357.5 549.3Z" fill="#a1a1a1" /><path d="M362.6 546.8 C363.7 545.2 372.2 541.7 376.2 540.0 C380.1 538.3 385.8 535.8 386.3 536.6 C386.9 537.5 382.4 543.0 379.6 545.1 C376.7 547.2 372.2 549.0 369.4 549.3 C366.6 549.6 361.5 548.3 362.6 546.8Z" fill="#b3b3b3" /></g><g filter="url(#pg2)"><path d="M10.2 541.4 L40.7 518.9 L44.4 524.0 L55.9 522.3 L67.8 521.4 L76.2 524.0 L84.7 529.0 L91.5 533.3 L88.1 538.4 L92.3 545.1 L89.8 550.2 L74.5 550.2 L67.8 541.4 L55.9 536.2 L42.3 537.0 L25.4 542.9 L28.8 546.3 L42.3 542.9 L55.9 543.8 L64.4 550.2 L10.2 550.2Z" fill="#8a8a8a" /><ellipse cx="101.6" cy="531.9" rx="3.7" ry="1.7" fill="#8a8a8a" transform="rotate(-10.0 101.6 531.9)"/><ellipse cx="79.6" cy="540.1" rx="4.7" ry="1.5" fill="#8a8a8a" transform="rotate(-25.0 79.6 540.1)"/><ellipse cx="162.6" cy="466.4" rx="5.4" ry="1.9" fill="#8a8a8a" transform="rotate(-25.0 162.6 466.4)"/><ellipse cx="139.2" cy="477.4" rx="1.7" ry="1.2" fill="#8a8a8a"/><ellipse cx="139.2" cy="526.5" rx="1.5" ry="1.0" fill="#8a8a8a"/><ellipse cx="223.6" cy="494.3" rx="1.7" ry="1.4" fill="#8a8a8a"/><ellipse cx="228.7" cy="493.5" rx="1.4" ry="1.7" fill="#8a8a8a"/><ellipse cx="224.4" cy="500.8" rx="2.4" ry="1.2" fill="#8a8a8a" transform="rotate(-30.0 224.4 500.8)"/><ellipse cx="471.1" cy="216.1" rx="3.2" ry="7.0" fill="#8a8a8a" transform="rotate(-30.0 471.1 216.1)"/><ellipse cx="460.4" cy="226.2" rx="1.8" ry="2.5" fill="#8a8a8a" transform="rotate(-30.0 460.4 226.2)"/><ellipse cx="463.7" cy="242.0" rx="2.5" ry="6.2" fill="#6e6e6e" transform="rotate(-25.0 463.7 242.0)"/><ellipse cx="468.3" cy="260.1" rx="2.5" ry="6.8" fill="#8a8a8a" transform="rotate(-20.0 468.3 260.1)"/><ellipse cx="444.6" cy="277.6" rx="2.0" ry="5.6" fill="#8a8a8a" transform="rotate(-30.0 444.6 277.6)"/><path d="M460.4 330.1 C461.7 328.4 464.5 327.7 467.1 326.7 C469.8 325.8 475.0 323.9 476.2 324.5 C477.3 325.0 475.2 328.4 473.9 330.1 C472.6 331.8 470.3 332.8 468.3 334.6 C466.2 336.5 463.0 341.0 461.5 341.4 C460.0 341.8 459.4 338.8 459.2 336.9 C459.0 335.0 459.0 331.8 460.4 330.1Z" fill="#8a8a8a" /><path d="M445.7 355.0 C447.2 353.7 450.8 352.0 451.3 352.7 C451.9 353.5 450.2 357.6 449.1 359.5 C447.9 361.4 445.7 363.8 444.6 364.0 C443.4 364.2 442.1 362.1 442.3 360.6 C442.5 359.1 444.2 356.3 445.7 355.0Z" fill="#8a8a8a" /><path d="M480.7 310.9 C481.6 309.0 486.3 307.0 487.5 308.7 C488.6 310.4 488.4 319.2 487.5 321.1 C486.5 323.0 482.9 321.7 481.8 320.0 C480.7 318.3 479.7 312.8 480.7 310.9Z" fill="#666666" /><ellipse cx="478.4" cy="362.9" rx="2.0" ry="3.6" fill="#8a8a8a" transform="rotate(-20.0 478.4 362.9)"/><ellipse cx="412.9" cy="301.9" rx="2.5" ry="1.4" fill="#868686" transform="rotate(20.0 412.9 301.9)"/><ellipse cx="422.5" cy="297.4" rx="1.4" ry="1.0" fill="#868686"/><path d="M422.0 385.9 C422.5 384.4 425.4 383.8 427.6 382.5 C429.9 381.2 433.3 379.9 435.5 378.0 C437.8 376.1 439.8 372.0 441.2 371.2 C442.5 370.5 444.0 371.8 443.4 373.5 C442.9 375.2 440.0 378.9 437.8 381.4 C435.5 383.8 432.1 386.5 429.9 388.2 C427.6 389.9 425.5 391.9 424.2 391.5 C422.9 391.2 421.4 387.4 422.0 385.9Z" fill="#7b7b7b" /><path d="M406.2 411.9 C406.9 410.6 410.3 407.9 411.8 407.4 C413.3 406.8 415.4 407.4 415.2 408.5 C415.0 409.6 412.0 413.0 410.7 414.1 C409.4 415.3 408.0 415.6 407.3 415.3 C406.5 414.9 405.4 413.2 406.2 411.9Z" fill="#8a8a8a" /><path d="M425.4 406.2 C425.7 404.7 428.7 400.4 429.9 399.5 C431.0 398.5 432.5 399.1 432.1 400.6 C431.8 402.1 428.7 407.5 427.6 408.5 C426.5 409.4 425.0 407.7 425.4 406.2Z" fill="#8a8a8a" /><path d="M444.6 361.1 C444.9 359.9 448.1 358.4 449.1 358.8 C450.0 359.2 450.6 362.2 450.2 363.3 C449.8 364.4 447.8 366.0 446.8 365.6 C445.9 365.2 444.2 362.2 444.6 361.1Z" fill="#8a8a8a" /><path d="M467.1 480.8 C467.1 478.7 472.8 476.4 476.2 474.0 C479.6 471.5 485.6 465.3 487.5 466.1 C489.3 466.8 488.6 474.9 487.5 478.5 C486.3 482.1 482.6 484.5 480.7 487.5 C478.8 490.6 477.5 495.4 476.2 496.6 C474.9 497.7 472.8 496.0 472.8 494.3 C472.8 492.6 477.1 488.7 476.2 486.4 C475.2 484.2 467.1 482.8 467.1 480.8Z" fill="#7b7b7b" /><ellipse cx="438.3" cy="531.6" rx="1.6" ry="1.0" fill="#8a8a8a" transform="rotate(-30.0 438.3 531.6)"/><path d="M428.7 493.4 C430.4 491.3 436.9 488.2 440.5 486.6 C444.2 485.1 447.3 485.6 450.7 484.1 C454.1 482.5 457.5 479.9 460.9 477.3 C464.3 474.8 467.9 471.7 471.0 468.9 C474.1 466.0 476.7 462.6 479.5 460.4 C482.3 458.1 486.6 454.6 488.0 455.3 C489.4 456.0 489.7 461.5 488.0 464.6 C486.3 467.7 481.2 471.0 477.8 473.9 C474.4 476.9 471.6 479.6 467.6 482.4 C463.7 485.2 458.6 488.6 454.1 490.9 C449.6 493.1 444.5 494.5 440.5 496.0 C436.6 497.4 432.4 499.8 430.4 499.3 C428.4 498.9 427.0 495.5 428.7 493.4Z" fill="#7b7b7b" /><path d="M318.6 512.9 C320.1 511.2 324.5 510.1 326.2 511.2 C327.9 512.3 329.4 517.3 328.7 519.7 C328.0 522.1 323.9 525.3 322.0 525.6 C320.0 525.9 317.4 523.5 316.9 521.4 C316.3 519.2 317.0 514.6 318.6 512.9Z" fill="#8a8a8a" /></g><g filter="url(#pg3)"><path d="M396.0 451.4 L401.6 445.8 L408.4 440.1 L414.1 433.3 L419.7 429.4 L424.2 428.8 L425.4 435.6 L429.9 436.7 L434.4 432.2 L440.0 431.1 L438.9 437.9 L433.3 445.8 L428.7 452.5 L424.2 458.2 L417.4 459.9 L412.9 457.0 L408.4 454.8 L401.6 455.9Z" fill="#383838" /><path d="M385.8 458.2 L392.6 454.8 L398.2 457.0 L405.0 460.4 L411.8 461.6 L409.5 467.2 L406.2 472.9 L409.5 476.2 L401.6 481.9 L394.9 483.0 L390.3 477.4 L385.8 472.9 L384.7 465.0Z" fill="#383838" /><path d="M415.2 478.5 L419.7 470.6 L424.2 463.8 L431.0 460.4 L434.4 461.6 L429.9 468.3 L423.1 474.0 L417.4 479.6Z" fill="#383838" /><path d="M379.1 492.1 L383.6 489.8 L385.8 494.3 L389.2 492.1 L392.6 497.7 L389.2 501.1 L384.7 501.1 L383.6 504.5 L380.2 501.1Z" fill="#383838" /><path d="M299.9 484.1 L305.0 482.4 L311.8 487.5 L310.1 494.3 L303.3 496.0Z" fill="#383838" /><path d="M347.4 380.8 L350.8 379.1 L352.5 389.2 L349.1 392.6Z" fill="#383838" /><path d="M288.1 528.1 L294.9 516.3 L299.9 512.9 L298.2 523.1 L293.2 533.2 L288.1 536.6Z" fill="#383838" /><path d="M301.6 501.0 L306.7 499.3 L308.4 507.8 L303.3 507.8Z" fill="#383838" /><path d="M333.9 450.3 L339.5 449.1 L344.0 453.7 L341.8 455.9 L335.0 453.7Z" fill="#383838" /><path d="M347.4 380.3 L350.3 379.1 L350.8 388.2 L353.1 391.5 L349.7 392.7Z" fill="#383838" /></g><path d="M398.2 458.2 C399.0 457.0 399.9 456.5 401.6 455.9 C403.3 455.4 406.2 455.4 408.4 454.8 C410.7 454.2 412.9 452.7 415.2 452.5 C417.4 452.3 421.2 452.9 422.0 453.7 C422.7 454.4 421.2 456.3 419.7 457.0 C418.2 457.8 415.2 457.8 412.9 458.2 C410.7 458.6 408.2 458.8 406.2 459.3 C404.1 459.8 401.7 460.2 400.5 461.0 C399.3 461.8 399.4 463.4 398.8 463.8 C398.2 464.2 397.2 464.2 397.1 463.3 C397.0 462.3 397.5 459.4 398.2 458.2Z" fill="#84dc88" stroke="#000" stroke-width="0.9"/><path d="M401.6 457.3 C402.0 456.9 406.2 456.5 408.4 455.9 C410.7 455.4 413.3 454.1 415.2 453.9 C417.1 453.7 420.1 454.3 419.7 454.8 C419.3 455.3 415.2 456.3 412.9 456.8 C410.7 457.4 408.0 457.9 406.2 458.0 C404.3 458.0 401.3 457.6 401.6 457.3Z" fill="#9cc4ff"/></g></g>
<line x1="87.80" y1="40.9" x2="87.80" y2="548.8" stroke="#000" stroke-width="1.35" stroke-dasharray="3.1 5.17" fill="none"/>
<line x1="166.52" y1="40.9" x2="166.52" y2="548.8" stroke="#000" stroke-width="1.35" stroke-dasharray="3.1 5.17" fill="none"/>
<line x1="245.24" y1="40.9" x2="245.24" y2="548.8" stroke="#000" stroke-width="1.35" stroke-dasharray="3.1 5.17" fill="none"/>
<line x1="323.96" y1="40.9" x2="323.96" y2="548.8" stroke="#000" stroke-width="1.35" stroke-dasharray="3.1 5.17" fill="none"/>
<line x1="402.68" y1="40.9" x2="402.68" y2="548.8" stroke="#000" stroke-width="1.35" stroke-dasharray="3.1 5.17" fill="none"/>
<line x1="481.40" y1="40.9" x2="481.40" y2="548.8" stroke="#000" stroke-width="1.35" stroke-dasharray="3.1 5.17" fill="none"/>
<line x1="12.9" y1="486.10" x2="486.0" y2="486.10" stroke="#000" stroke-width="1.35" stroke-dasharray="3.1 5.17" fill="none"/>
<line x1="12.9" y1="401.40" x2="486.0" y2="401.40" stroke="#000" stroke-width="1.35" stroke-dasharray="3.1 5.17" fill="none"/>
<line x1="12.9" y1="316.70" x2="486.0" y2="316.70" stroke="#000" stroke-width="1.35" stroke-dasharray="3.1 5.17" fill="none"/>
<line x1="12.9" y1="232.00" x2="486.0" y2="232.00" stroke="#000" stroke-width="1.35" stroke-dasharray="3.1 5.17" fill="none"/>
<line x1="12.9" y1="147.30" x2="486.0" y2="147.30" stroke="#000" stroke-width="1.35" stroke-dasharray="3.1 5.17" fill="none"/>
<line x1="12.9" y1="62.60" x2="486.0" y2="62.60" stroke="#000" stroke-width="1.35" stroke-dasharray="3.1 5.17" fill="none"/>
<text x="87.60" y="294.9" font-size="12.2" text-anchor="middle" font-family="Liberation Sans, Arial, Helvetica, sans-serif">84</text>
<text x="166.32" y="294.9" font-size="12.2" text-anchor="middle" font-family="Liberation Sans, Arial, Helvetica, sans-serif">86</text>
<text x="245.04" y="294.9" font-size="12.2" text-anchor="middle" font-family="Liberation Sans, Arial, Helvetica, sans-serif">88</text>
<text x="323.76" y="294.9" font-size="12.2" text-anchor="middle" font-family="Liberation Sans, Arial, Helvetica, sans-serif">90</text>
<text x="402.48" y="294.9" font-size="12.2" text-anchor="middle" font-family="Liberation Sans, Arial, Helvetica, sans-serif">92</text>
<text x="481.20" y="294.9" font-size="12.2" text-anchor="middle" font-family="Liberation Sans, Arial, Helvetica, sans-serif">94</text>
<text x="258.6" y="486.40" font-size="12.2" font-family="Liberation Sans, Arial, Helvetica, sans-serif">14</text>
<text x="258.6" y="401.70" font-size="12.2" font-family="Liberation Sans, Arial, Helvetica, sans-serif">16</text>
<text x="258.6" y="317.00" font-size="12.2" font-family="Liberation Sans, Arial, Helvetica, sans-serif">18</text>
<text x="258.6" y="232.30" font-size="12.2" font-family="Liberation Sans, Arial, Helvetica, sans-serif">20</text>
<text x="258.6" y="147.60" font-size="12.2" font-family="Liberation Sans, Arial, Helvetica, sans-serif">22</text>
<text x="258.6" y="62.90" font-size="12.2" font-family="Liberation Sans, Arial, Helvetica, sans-serif">24</text>
<g clip-path="url(#plotclip)"><path d="M179.9 548.2 L199.9 533.2 L219.9 518.2 L239.9 503.4 L259.9 488.7 L279.9 474.0 L299.9 459.5 L319.9 445.0 L339.9 430.7 L359.9 416.4 L379.9 402.3 L399.9 388.2 L419.9 374.3 L439.9 360.4 L459.9 346.6 L479.9 333.0" stroke="#000" stroke-width="1.0" stroke-dasharray="11.75 11.75" fill="none"/><line x1="333.5" y1="548.2" x2="492" y2="435.8" stroke="#000" stroke-width="1.0" stroke-dasharray="11.75 11.75" fill="none"/></g>
<path d="M13.0 381.6 L16.9 379.8 L20.3 377.3 L22.6 371.7 L23.7 367.1 L23.5 362.6 L23.4 366.5 L20.3 364.9 L19.4 361.5 L20.3 357.0 L24.3 352.5 L29.9 347.9 L37.3 344.3 L45.2 341.2 L50.8 337.5 L55.9 335.0 L57.6 331.6 L59.9 328.7 L63.2 327.0 L65.5 323.7 L67.8 319.7 L72.3 315.0 L79.1 310.1 L87.0 306.7 L92.0 304.1 L93.7 301.1 L98.8 295.4 L105.0 289.8 L111.2 280.7 L115.8 275.1 L118.0 270.6 L117.4 268.7 L119.7 267.8 L124.2 263.2 L133.3 255.3 L141.2 249.1 L150.2 244.6 L158.1 241.8 L167.1 239.3 L176.2 236.1 L181.4 232.3 L176.5 229.5 L172.3 226.3 L177.0 230.3 L181.4 232.3 L186.1 224.5 L189.0 222.2 L195.2 218.8 L197.4 215.4 L195.2 214.3 L195.7 211.5 L199.7 207.5 L206.5 203.4 L203.6 201.3 L204.2 197.9 L201.9 196.8 L203.6 195.7 L200.8 187.8 L199.4 182.1 L200.8 177.6 L204.8 172.5 L209.9 168.4 L217.8 165.8 L229.1 162.9 L235.8 160.4 L241.5 156.7 L246.0 151.6 L249.4 146.0 L252.2 141.5 L249.4 139.2 L245.4 137.0 L243.7 133.6 L242.4 130.2 L244.4 134.5 L245.4 135.8 L252.2 140.3 L253.0 143.7 L251.6 148.2 L253.3 155.0 L252.2 160.7 L256.7 165.2 L257.8 161.2 L256.2 157.8 L261.2 160.1 L262.9 162.9 L264.1 155.0 L265.8 151.6 L266.9 158.4 L264.6 166.9 L268.6 162.9 L269.7 156.2 L268.6 151.6 L270.3 147.1 L272.5 143.7 L275.4 142.6 L272.5 147.1 L272.0 151.6 L274.2 158.4 L273.7 165.8 L277.6 161.2 L279.9 162.9 L285.0 164.1 L288.3 162.9 L285.5 155.0 L282.1 149.4 L285.5 150.5 L287.2 143.2 L288.3 148.2 L290.0 155.0 L292.9 156.7 L294.0 161.2 L296.2 161.2 L297.9 155.0 L299.6 159.0 L302.5 157.3 L304.1 151.6 L305.6 143.7 L303.8 137.0 L306.4 143.7 L308.7 133.6 L307.5 143.7 L306.4 151.6 L307.0 158.4 L309.8 159.0 L310.9 153.9 L318.3 152.8 L319.4 146.0 L318.8 139.2 L319.4 131.3 L323.9 126.8 L321.1 131.3 L321.1 140.3 L324.5 146.0 L327.9 144.9 L325.6 149.4 L325.6 153.3 L327.9 152.8 L329.6 155.6 L332.9 155.0 L335.8 149.9 L336.9 146.0 L340.8 143.2 L345.4 139.2 L348.2 132.4 L348.7 127.7 L345.0 121.4 L344.1 116.8 L341.4 115.0 L340.5 112.3 L347.8 111.9 L349.6 109.2 L339.6 104.2 L344.6 98.8 L345.0 90.6 L331.9 85.7 L330.6 87.0 L327.9 79.8 L322.5 81.2 L316.1 74.4 L304.4 72.1 L293.6 66.3 M293.6 66.3 L303.5 70.3 L311.6 69.4 L312.5 65.8 L314.3 68.1 L317.0 73.5 L322.5 77.1 L327.9 78.9 L331.5 83.4 L337.8 85.7 L343.2 87.0 L346.4 85.7 L346.8 81.6 L343.2 80.7 L347.0 81.2 L348.7 84.3 L348.2 88.8 L349.6 94.3 L347.3 98.8 L347.8 102.4 L352.3 108.7 L358.6 110.5 L364.5 113.2 L370.3 113.2 L375.8 114.1 L377.6 112.3 L377.1 109.6 L378.9 112.8 L380.3 109.6 L382.5 109.6 L381.6 113.7 L386.6 118.7 L392.0 127.7 L394.3 134.9 L396.5 135.4 L396.1 140.3 L398.3 147.6 L400.1 156.6 L403.3 162.0 L401.5 169.2 L404.9 178.1 L405.5 183.4 L410.5 189.9 L413.3 198.0 L416.1 198.9 L410.8 183.4 L416.7 198.0 L417.6 202.3 L421.1 204.5 L424.8 209.8 L428.5 214.1 L430.1 219.1 L431.6 219.1 L432.2 214.7 L431.3 209.8 L428.8 203.5 L432.9 211.6 L436.0 212.9 L436.9 216.0 L440.3 218.1 L436.3 219.7 L432.9 223.4 L436.3 226.5 L438.8 225.3 L440.9 219.7 L444.7 209.4 L442.8 219.7 L446.2 214.4 L443.4 222.8 L446.5 224.7 L443.4 225.9 L441.2 227.8 L444.0 232.7 L447.5 239.3 L447.8 235.8 L446.5 233.4 L448.7 234.0 L451.5 238.3 L448.1 232.1 L447.8 229.9 L452.1 229.9 L455.2 228.1 L460.2 234.0 L462.0 232.7 L464.5 237.1 L467.6 235.8 L470.7 235.8 L467.0 238.3 L466.4 242.7 L470.1 242.7 L471.4 245.2 L473.9 243.9 L473.2 247.6 L471.2 248.6 L477.4 252.4 L481.0 256.7 L481.5 258.5 L477.4 263.5 L484.7 258.1 L484.2 264.4 L482.8 267.1 L484.2 270.7 L484.0 276.1 L483.5 280.7 L485.8 281.3 M461.2 256.7 L465.7 256.7 L467.0 259.9 L472.5 263.7 L477.0 263.3 L478.8 267.1 L479.7 270.7 L481.5 274.3 L480.1 277.9 L478.3 279.5 L475.2 277.9 L470.2 273.9 L466.1 268.0 L461.6 261.2 L461.2 256.7 M131.6 252.5 L133.8 247.4 L136.1 243.5 L141.2 239.5 L145.7 236.7 L149.6 237.3 L149.6 242.3 L145.7 245.2 L136.6 246.5 L135.0 251.4 L131.6 252.5 M140.0 249.5 L143.5 246.8 L147.5 244.3 L146.0 246.2" fill="none" stroke="#000" stroke-width="1.3" stroke-linejoin="round"/><path d="M480.1 261.2 L484.7 258.1 L484.2 264.8 L481.9 267.1Z" fill="#000" stroke="#000" stroke-width="0.8"/>
<path d="M243.0 294.4h12.8M249.4 288.0v12.8" stroke="#000" stroke-width="4.4" fill="none"/>
<text x="311.4" y="332.9" font-size="22" transform="rotate(61 311.4 332.9)" font-family="Liberation Sans, Arial, Helvetica, sans-serif">210</text><text x="328.5" y="361.4" font-size="21.5" transform="rotate(68 328.5 361.4)" font-family="Liberation Sans, Arial, Helvetica, sans-serif">235</text><text x="429.7" y="499.6" font-size="19" font-family="Liberation Sans, Arial, Helvetica, sans-serif">235</text>
<text x="37.9" y="65.7" font-size="24.8" font-family="Liberation Sans, Arial, Helvetica, sans-serif">VIRS T<tspan font-size="15.4" dy="6.6">B11</tspan><tspan dy="-6.6" dx="2"> (K)</tspan></text>
<text x="438.5" y="523.3" font-size="31" font-family="Liberation Sans, Arial, Helvetica, sans-serif">(g)</text>
<rect x="495.0" y="531.67" width="9.0" height="8.77" fill="#f6f6f6"/>
<rect x="495.0" y="523.20" width="9.0" height="8.77" fill="#eeeeee"/>
<rect x="495.0" y="514.73" width="9.0" height="8.77" fill="#e6e6e6"/>
<rect x="495.0" y="506.27" width="9.0" height="8.77" fill="#dedede"/>
<rect x="495.0" y="497.80" width="9.0" height="8.77" fill="#d6d5d5"/>
<rect x="495.0" y="489.33" width="9.0" height="8.77" fill="#cecdcd"/>
<rect x="495.0" y="480.87" width="9.0" height="8.77" fill="#c6c5c5"/>
<rect x="495.0" y="472.40" width="9.0" height="8.77" fill="#bebdbd"/>
<rect x="495.0" y="463.93" width="9.0" height="8.77" fill="#b6b5b5"/>
<rect x="495.0" y="455.47" width="9.0" height="8.77" fill="#aeadad"/>
<rect x="495.0" y="447.00" width="9.0" height="8.77" fill="#a6a4a4"/>
<rect x="495.0" y="438.53" width="9.0" height="8.77" fill="#9e9c9c"/>
<rect x="495.0" y="430.07" width="9.0" height="8.77" fill="#969494"/>
<rect x="495.0" y="421.60" width="9.0" height="8.77" fill="#8e8c8c"/>
<rect x="495.0" y="413.13" width="9.0" height="8.77" fill="#84dc88"/>
<rect x="495.0" y="404.67" width="9.0" height="8.77" fill="#7cd380"/>
<rect x="495.0" y="396.20" width="9.0" height="8.77" fill="#74ca78"/>
<rect x="495.0" y="387.73" width="9.0" height="8.77" fill="#6cc170"/>
<rect x="495.0" y="379.27" width="9.0" height="8.77" fill="#64b868"/>
<rect x="495.0" y="370.80" width="9.0" height="8.77" fill="#ccd4fc"/>
<rect x="495.0" y="362.33" width="9.0" height="8.77" fill="#b4ccff"/>
<rect x="495.0" y="353.87" width="9.0" height="8.77" fill="#9cc4ff"/>
<rect x="495.0" y="345.40" width="9.0" height="8.77" fill="#84bcff"/>
<rect x="495.0" y="336.93" width="9.0" height="8.77" fill="#6cb4ff"/>
<rect x="495.0" y="328.47" width="9.0" height="8.77" fill="#54acff"/>
<rect x="495.0" y="320.00" width="9.0" height="8.77" fill="#4c88ff"/>
<rect x="495.0" y="311.53" width="9.0" height="8.77" fill="#4468ff"/>
<rect x="495.0" y="303.07" width="9.0" height="8.77" fill="#3c4cff"/>
<rect x="495.0" y="294.60" width="9.0" height="8.77" fill="#3030ff"/>
<rect x="495.0" y="286.13" width="9.0" height="8.77" fill="#0000ff"/>
<rect x="495.0" y="277.67" width="9.0" height="8.77" fill="#0000f4"/>
<rect x="495.0" y="269.20" width="9.0" height="8.77" fill="#0000e6"/>
<rect x="495.0" y="260.73" width="9.0" height="8.77" fill="#0000d8"/>
<rect x="495.0" y="252.27" width="9.0" height="8.77" fill="#0808c8"/>
<rect x="495.0" y="243.80" width="9.0" height="8.77" fill="#ffff00"/>
<rect x="495.0" y="235.33" width="9.0" height="8.77" fill="#fff300"/>
<rect x="495.0" y="226.87" width="9.0" height="8.77" fill="#ffe800"/>
<rect x="495.0" y="218.40" width="9.0" height="8.77" fill="#ffdc00"/>
<rect x="495.0" y="209.93" width="9.0" height="8.77" fill="#ffd000"/>
<rect x="495.0" y="201.47" width="9.0" height="8.77" fill="#ff9000"/>
<rect x="495.0" y="193.00" width="9.0" height="8.77" fill="#ff8800"/>
<rect x="495.0" y="184.53" width="9.0" height="8.77" fill="#ff8000"/>
<rect x="495.0" y="176.07" width="9.0" height="8.77" fill="#ff7800"/>
<rect x="495.0" y="167.60" width="9.0" height="8.77" fill="#ff7000"/>
<rect x="495.0" y="159.13" width="9.0" height="8.77" fill="#ff4400"/>
<rect x="495.0" y="150.67" width="9.0" height="8.77" fill="#ff3800"/>
<rect x="495.0" y="142.20" width="9.0" height="8.77" fill="#ff2c00"/>
<rect x="495.0" y="133.73" width="9.0" height="8.77" fill="#ff2000"/>
<rect x="495.0" y="125.27" width="9.0" height="8.77" fill="#ff1400"/>
<rect x="495.0" y="116.80" width="9.0" height="8.77" fill="#c80000"/>
<rect x="495.0" y="108.33" width="9.0" height="8.77" fill="#be0300"/>
<rect x="495.0" y="99.87" width="9.0" height="8.77" fill="#b40600"/>
<rect x="495.0" y="91.40" width="9.0" height="8.77" fill="#aa0900"/>
<rect x="495.0" y="82.93" width="9.0" height="8.77" fill="#a00c00"/>
<rect x="495.0" y="74.47" width="9.0" height="8.77" fill="#620e06"/>
<rect x="495.0" y="66.00" width="9.0" height="8.77" fill="#60110a"/>
<rect x="495.0" y="57.53" width="9.0" height="8.77" fill="#5e140f"/>
<rect x="495.0" y="49.07" width="9.0" height="8.77" fill="#5c1714"/>
<rect x="495.0" y="40.60" width="9.0" height="8.77" fill="#5a1a18"/>
<line x1="504.0" y1="548.60" x2="506.0" y2="548.60" stroke="#222" stroke-width="0.9"/>
<text x="524.0" y="557.20" font-size="19.2" text-anchor="middle" font-family="Liberation Sans, Arial, Helvetica, sans-serif">304</text>
<line x1="504.0" y1="497.80" x2="506.0" y2="497.80" stroke="#222" stroke-width="0.9"/>
<text x="524.0" y="506.40" font-size="19.2" text-anchor="middle" font-family="Liberation Sans, Arial, Helvetica, sans-serif">292</text>
<line x1="504.0" y1="447.00" x2="506.0" y2="447.00" stroke="#222" stroke-width="0.9"/>
<text x="524.0" y="455.60" font-size="19.2" text-anchor="middle" font-family="Liberation Sans, Arial, Helvetica, sans-serif">280</text>
<line x1="504.0" y1="396.20" x2="506.0" y2="396.20" stroke="#222" stroke-width="0.9"/>
<text x="524.0" y="404.80" font-size="19.2" text-anchor="middle" font-family="Liberation Sans, Arial, Helvetica, sans-serif">268</text>
<line x1="504.0" y1="345.40" x2="506.0" y2="345.40" stroke="#222" stroke-width="0.9"/>
<text x="524.0" y="354.00" font-size="19.2" text-anchor="middle" font-family="Liberation Sans, Arial, Helvetica, sans-serif">256</text>
<line x1="504.0" y1="294.60" x2="506.0" y2="294.60" stroke="#222" stroke-width="0.9"/>
<text x="524.0" y="303.20" font-size="19.2" text-anchor="middle" font-family="Liberation Sans, Arial, Helvetica, sans-serif">244</text>
<line x1="504.0" y1="243.80" x2="506.0" y2="243.80" stroke="#222" stroke-width="0.9"/>
<text x="524.0" y="252.40" font-size="19.2" text-anchor="middle" font-family="Liberation Sans, Arial, Helvetica, sans-serif">232</text>
<line x1="504.0" y1="193.00" x2="506.0" y2="193.00" stroke="#222" stroke-width="0.9"/>
<text x="524.0" y="201.60" font-size="19.2" text-anchor="middle" font-family="Liberation Sans, Arial, Helvetica, sans-serif">220</text>
<line x1="504.0" y1="142.20" x2="506.0" y2="142.20" stroke="#222" stroke-width="0.9"/>
<text x="524.0" y="150.80" font-size="19.2" text-anchor="middle" font-family="Liberation Sans, Arial, Helvetica, sans-serif">208</text>
<line x1="504.0" y1="91.40" x2="506.0" y2="91.40" stroke="#222" stroke-width="0.9"/>
<text x="524.0" y="100.00" font-size="19.2" text-anchor="middle" font-family="Liberation Sans, Arial, Helvetica, sans-serif">196</text>
</g>
<g transform="translate(590.75 1181.20)">
<g clip-path="url(#plotclip)"><g filter="url(#ph)"><path d="M408.6 381.9 L413.9 378.7 L419.8 373.9 L422.0 378.7 L424.7 385.1 L427.3 388.3 L425.7 393.7 L427.3 398.0 L425.7 403.4 L427.9 408.7 L429.5 416.2 L426.3 420.5 L423.1 420.5 L420.4 416.2 L417.2 413.0 L415.0 408.7 L412.3 403.4 L410.7 399.1 L412.3 392.6 L410.7 387.3Z" fill="#353535" /><path d="M440.2 364.7 L445.1 360.4 L450.4 352.4 L453.6 356.1 L454.2 365.8 L456.3 372.2 L455.2 379.8 L457.9 387.3 L456.9 394.8 L459.0 401.2 L456.3 404.4 L453.6 406.6 L452.0 402.3 L448.8 395.9 L445.1 391.6 L444.5 385.1 L446.1 378.7 L444.5 372.2 L442.9 366.9Z" fill="#353535" /><path d="M463.3 344.3 L470.8 337.9 L478.3 332.5 L486.9 327.2 L486.9 417.3 L482.6 420.5 L478.3 423.8 L481.5 430.2 L484.2 436.6 L481.5 438.8 L477.2 437.7 L473.0 432.3 L468.7 427.0 L464.4 421.6 L461.2 416.2 L463.3 413.0 L468.7 418.4 L471.9 413.0 L469.7 409.8 L474.0 406.6 L475.1 401.2 L471.9 399.1 L474.0 391.6 L473.0 385.1 L475.1 378.7 L471.9 373.3 L468.7 370.1 L470.8 363.7 L474.0 357.2 L470.8 352.9 L466.5 347.6Z" fill="#353535" /><path d="M433.2 392.6 L437.5 390.0 L440.8 393.7 L444.0 399.1 L440.8 401.2 L436.5 400.1 L433.8 396.9Z" fill="#353535" /><path d="M431.6 403.4 L434.9 403.4 L436.5 407.7 L433.2 409.8 L431.6 406.6Z" fill="#353535" /><path d="M443.4 404.4 L446.7 405.5 L448.3 410.9 L446.1 413.0 L444.0 409.8Z" fill="#353535" /><path d="M440.8 414.6 L445.1 413.0 L447.7 416.2 L447.2 420.5 L442.9 420.5 L440.8 417.3Z" fill="#353535" /><path d="M432.2 418.4 L434.9 417.9 L435.9 420.5 L433.2 421.6Z" fill="#353535" /><path d="M459.0 416.2 L462.2 415.7 L463.3 420.5 L462.2 425.9 L460.1 423.8Z" fill="#353535" /><path d="M450.4 424.8 L453.6 423.8 L456.3 427.0 L453.6 430.2 L451.0 428.0Z" fill="#353535" /><path d="M446.1 439.9 L450.4 438.8 L453.6 434.5 L455.8 436.6 L453.6 442.0 L456.9 446.3 L459.0 440.9 L463.3 440.4 L467.6 445.2 L466.0 448.4 L461.2 447.4 L457.9 449.5 L454.7 453.8 L450.4 454.9 L447.2 449.5 L448.3 445.2Z" fill="#353535" /><path d="M438.1 456.0 L442.9 454.9 L447.2 453.8 L451.0 457.0 L449.3 463.5 L445.1 466.7 L441.3 466.7 L439.2 462.4Z" fill="#353535" /><path d="M437.0 444.1 L440.8 443.1 L442.4 448.4 L442.9 452.7 L439.7 453.8 L438.1 449.5Z" fill="#353535" /><path d="M439.2 438.8 L441.8 438.2 L442.4 441.5 L439.7 442.0Z" fill="#353535" /><path d="M407.0 428.6 L410.7 427.0 L415.0 426.4 L414.5 428.6 L410.7 431.3 L407.5 432.3Z" fill="#353535" /><path d="M393.0 432.3 L395.2 431.8 L395.7 434.5 L393.5 435.0Z" fill="#353535" /><path d="M398.4 434.0 L400.5 433.4 L400.8 436.6 L398.7 436.8Z" fill="#353535" /><path d="M403.7 449.0 L406.4 447.9 L407.5 450.6 L404.8 451.7Z" fill="#353535" /><path d="M409.1 459.7 L412.3 458.6 L415.5 463.5 L416.6 468.8 L414.5 473.1 L412.9 467.8 L410.7 463.5Z" fill="#353535" /><path d="M407.0 480.1 L409.6 479.6 L410.2 482.8 L407.5 483.3Z" fill="#353535" /><path d="M410.7 485.5 L415.0 484.4 L417.7 488.1 L413.9 488.7Z" fill="#353535" /><path d="M432.2 471.0 L436.5 468.3 L437.5 471.0 L434.3 477.4 L432.2 476.3Z" fill="#353535" /><path d="M408.6 442.5 L412.3 442.0 L413.4 444.7 L410.2 445.8Z" fill="#353535" /><path d="M427.3 394.8 L429.2 394.2 L429.5 396.4 L427.7 396.7Z" fill="#353535" /><path d="M421.4 378.7 L423.1 385.1 L420.9 392.6 L423.6 400.1 L425.2 408.7 L425.7 416.2" fill="none" stroke="#bdbdbd" stroke-width="4.6" stroke-linecap="round" stroke-linejoin="round"/><path d="M450.4 357.2 L452.0 365.8 L451.0 374.4 L453.6 383.0 L452.6 391.6 L454.7 399.1 L454.2 403.4" fill="none" stroke="#bdbdbd" stroke-width="5.1" stroke-linecap="round" stroke-linejoin="round"/><path d="M482.6 331.5 L484.8 345.4 L483.7 361.5 L485.3 378.7 L482.6 391.6 L481.5 400.1 L478.3 406.6 L474.0 413.0" fill="none" stroke="#bdbdbd" stroke-width="6.8" stroke-linecap="round" stroke-linejoin="round"/><path d="M464.4 419.5 L468.7 424.8 L473.0 430.2 L477.2 435.6" fill="none" stroke="#bdbdbd" stroke-width="4.9" stroke-linecap="round" stroke-linejoin="round"/><path d="M449.3 440.9 L452.6 446.3 L453.6 451.7" fill="none" stroke="#bdbdbd" stroke-width="4.6" stroke-linecap="round" stroke-linejoin="round"/><path d="M461.2 444.1 L464.4 445.8" fill="none" stroke="#bdbdbd" stroke-width="4.1" stroke-linecap="round" stroke-linejoin="round"/><path d="M442.9 460.2 L447.2 459.2" fill="none" stroke="#bdbdbd" stroke-width="4.1" stroke-linecap="round" stroke-linejoin="round"/><path d="M437.0 394.8 L439.7 396.9" fill="none" stroke="#bdbdbd" stroke-width="3.5" stroke-linecap="round" stroke-linejoin="round"/><path d="M444.5 416.2 L446.1 418.4" fill="none" stroke="#bdbdbd" stroke-width="3.5" stroke-linecap="round" stroke-linejoin="round"/><path d="M460.6 418.4 L461.7 422.7" fill="none" stroke="#bdbdbd" stroke-width="3.5" stroke-linecap="round" stroke-linejoin="round"/><path d="M410.7 462.4 L414.5 467.8" fill="none" stroke="#bdbdbd" stroke-width="3.5" stroke-linecap="round" stroke-linejoin="round"/><path d="M409.1 429.1 L412.3 428.0" fill="none" stroke="#bdbdbd" stroke-width="3.2" stroke-linecap="round" stroke-linejoin="round"/><path d="M434.3 472.0 L435.4 474.2" fill="none" stroke="#bdbdbd" stroke-width="3.2" stroke-linecap="round" stroke-linejoin="round"/><path d="M415.0 391.6 L418.2 395.9 L416.6 400.1" fill="none" stroke="#bdbdbd" stroke-width="3.5" stroke-linecap="round" stroke-linejoin="round"/></g><path d="M413.9 380.8 C414.3 379.5 418.2 376.7 419.3 377.1 C420.4 377.4 420.7 381.6 420.4 383.0 C420.0 384.3 418.2 385.5 417.2 385.1 C416.1 384.8 413.6 382.2 413.9 380.8Z" fill="#fff"/><rect x="333.0" y="430.0" width="3.1" height="3.1" fill="#ff4500"/><rect x="337.0" y="431.5" width="2.5" height="2.5" fill="#ff4500"/><rect x="351.8" y="424.8" width="3.4" height="3.4" fill="#ff4500"/><rect x="354.6" y="431.6" width="2.8" height="2.8" fill="#ff4500"/><rect x="357.7" y="438.2" width="2.5" height="2.5" fill="#ff4500"/><rect x="342.0" y="442.0" width="2.0" height="2.0" fill="#0000ff"/><rect x="379.4" y="468.4" width="2.1" height="2.1" fill="#ff4500"/><rect x="422.5" y="438.2" width="2.4" height="2" fill="#ff4500" transform="rotate(-30 422.5 438.2)"/><rect x="426.8" y="439.9" width="2.4" height="2" fill="#ff4500" transform="rotate(-30 426.8 439.9)"/><rect x="439.7" y="440.4" width="2.4" height="2" fill="#ff4500" transform="rotate(-30 439.7 440.4)"/><rect x="436.5" y="446.8" width="2.4" height="2" fill="#ff4500" transform="rotate(-30 436.5 446.8)"/><rect x="438.6" y="448.4" width="2.4" height="2" fill="#ff4500" transform="rotate(-30 438.6 448.4)"/><rect x="432.7" y="453.8" width="2.4" height="2" fill="#ff4500" transform="rotate(-30 432.7 453.8)"/><rect x="409.1" y="472.6" width="2.4" height="2" fill="#ff4500" transform="rotate(-30 409.1 472.6)"/><rect x="390.3" y="444.1" width="2.4" height="2" fill="#ff4500" transform="rotate(-30 390.3 444.1)"/></g>
<line x1="87.80" y1="40.9" x2="87.80" y2="548.8" stroke="#000" stroke-width="1.35" stroke-dasharray="3.1 5.17" fill="none"/>
<line x1="166.52" y1="40.9" x2="166.52" y2="548.8" stroke="#000" stroke-width="1.35" stroke-dasharray="3.1 5.17" fill="none"/>
<line x1="245.24" y1="40.9" x2="245.24" y2="548.8" stroke="#000" stroke-width="1.35" stroke-dasharray="3.1 5.17" fill="none"/>
<line x1="323.96" y1="40.9" x2="323.96" y2="548.8" stroke="#000" stroke-width="1.35" stroke-dasharray="3.1 5.17" fill="none"/>
<line x1="402.68" y1="40.9" x2="402.68" y2="548.8" stroke="#000" stroke-width="1.35" stroke-dasharray="3.1 5.17" fill="none"/>
<line x1="481.40" y1="40.9" x2="481.40" y2="548.8" stroke="#000" stroke-width="1.35" stroke-dasharray="3.1 5.17" fill="none"/>
<line x1="12.9" y1="486.10" x2="486.0" y2="486.10" stroke="#000" stroke-width="1.35" stroke-dasharray="3.1 5.17" fill="none"/>
<line x1="12.9" y1="401.40" x2="486.0" y2="401.40" stroke="#000" stroke-width="1.35" stroke-dasharray="3.1 5.17" fill="none"/>
<line x1="12.9" y1="316.70" x2="486.0" y2="316.70" stroke="#000" stroke-width="1.35" stroke-dasharray="3.1 5.17" fill="none"/>
<line x1="12.9" y1="232.00" x2="486.0" y2="232.00" stroke="#000" stroke-width="1.35" stroke-dasharray="3.1 5.17" fill="none"/>
<line x1="12.9" y1="147.30" x2="486.0" y2="147.30" stroke="#000" stroke-width="1.35" stroke-dasharray="3.1 5.17" fill="none"/>
<line x1="12.9" y1="62.60" x2="486.0" y2="62.60" stroke="#000" stroke-width="1.35" stroke-dasharray="3.1 5.17" fill="none"/>
<text x="87.60" y="294.9" font-size="12.2" text-anchor="middle" font-family="Liberation Sans, Arial, Helvetica, sans-serif">84</text>
<text x="166.32" y="294.9" font-size="12.2" text-anchor="middle" font-family="Liberation Sans, Arial, Helvetica, sans-serif">86</text>
<text x="245.04" y="294.9" font-size="12.2" text-anchor="middle" font-family="Liberation Sans, Arial, Helvetica, sans-serif">88</text>
<text x="323.76" y="294.9" font-size="12.2" text-anchor="middle" font-family="Liberation Sans, Arial, Helvetica, sans-serif">90</text>
<text x="402.48" y="294.9" font-size="12.2" text-anchor="middle" font-family="Liberation Sans, Arial, Helvetica, sans-serif">92</text>
<text x="481.20" y="294.9" font-size="12.2" text-anchor="middle" font-family="Liberation Sans, Arial, Helvetica, sans-serif">94</text>
<text x="258.6" y="486.40" font-size="12.2" font-family="Liberation Sans, Arial, Helvetica, sans-serif">14</text>
<text x="258.6" y="401.70" font-size="12.2" font-family="Liberation Sans, Arial, Helvetica, sans-serif">16</text>
<text x="258.6" y="317.00" font-size="12.2" font-family="Liberation Sans, Arial, Helvetica, sans-serif">18</text>
<text x="258.6" y="232.30" font-size="12.2" font-family="Liberation Sans, Arial, Helvetica, sans-serif">20</text>
<text x="258.6" y="147.60" font-size="12.2" font-family="Liberation Sans, Arial, Helvetica, sans-serif">22</text>
<text x="258.6" y="62.90" font-size="12.2" font-family="Liberation Sans, Arial, Helvetica, sans-serif">24</text>
<g clip-path="url(#plotclip)"><path d="M179.9 548.2 L199.9 533.2 L219.9 518.2 L239.9 503.4 L259.9 488.7 L279.9 474.0 L299.9 459.5 L319.9 445.0 L339.9 430.7 L359.9 416.4 L379.9 402.3 L399.9 388.2 L419.9 374.3 L439.9 360.4 L459.9 346.6 L479.9 333.0" stroke="#000" stroke-width="1.0" stroke-dasharray="11.75 11.75" fill="none"/><line x1="333.5" y1="548.2" x2="492" y2="435.8" stroke="#000" stroke-width="1.0" stroke-dasharray="11.75 11.75" fill="none"/></g>
<path d="M13.0 381.6 L16.9 379.8 L20.3 377.3 L22.6 371.7 L23.7 367.1 L23.5 362.6 L23.4 366.5 L20.3 364.9 L19.4 361.5 L20.3 357.0 L24.3 352.5 L29.9 347.9 L37.3 344.3 L45.2 341.2 L50.8 337.5 L55.9 335.0 L57.6 331.6 L59.9 328.7 L63.2 327.0 L65.5 323.7 L67.8 319.7 L72.3 315.0 L79.1 310.1 L87.0 306.7 L92.0 304.1 L93.7 301.1 L98.8 295.4 L105.0 289.8 L111.2 280.7 L115.8 275.1 L118.0 270.6 L117.4 268.7 L119.7 267.8 L124.2 263.2 L133.3 255.3 L141.2 249.1 L150.2 244.6 L158.1 241.8 L167.1 239.3 L176.2 236.1 L181.4 232.3 L176.5 229.5 L172.3 226.3 L177.0 230.3 L181.4 232.3 L186.1 224.5 L189.0 222.2 L195.2 218.8 L197.4 215.4 L195.2 214.3 L195.7 211.5 L199.7 207.5 L206.5 203.4 L203.6 201.3 L204.2 197.9 L201.9 196.8 L203.6 195.7 L200.8 187.8 L199.4 182.1 L200.8 177.6 L204.8 172.5 L209.9 168.4 L217.8 165.8 L229.1 162.9 L235.8 160.4 L241.5 156.7 L246.0 151.6 L249.4 146.0 L252.2 141.5 L249.4 139.2 L245.4 137.0 L243.7 133.6 L242.4 130.2 L244.4 134.5 L245.4 135.8 L252.2 140.3 L253.0 143.7 L251.6 148.2 L253.3 155.0 L252.2 160.7 L256.7 165.2 L257.8 161.2 L256.2 157.8 L261.2 160.1 L262.9 162.9 L264.1 155.0 L265.8 151.6 L266.9 158.4 L264.6 166.9 L268.6 162.9 L269.7 156.2 L268.6 151.6 L270.3 147.1 L272.5 143.7 L275.4 142.6 L272.5 147.1 L272.0 151.6 L274.2 158.4 L273.7 165.8 L277.6 161.2 L279.9 162.9 L285.0 164.1 L288.3 162.9 L285.5 155.0 L282.1 149.4 L285.5 150.5 L287.2 143.2 L288.3 148.2 L290.0 155.0 L292.9 156.7 L294.0 161.2 L296.2 161.2 L297.9 155.0 L299.6 159.0 L302.5 157.3 L304.1 151.6 L305.6 143.7 L303.8 137.0 L306.4 143.7 L308.7 133.6 L307.5 143.7 L306.4 151.6 L307.0 158.4 L309.8 159.0 L310.9 153.9 L318.3 152.8 L319.4 146.0 L318.8 139.2 L319.4 131.3 L323.9 126.8 L321.1 131.3 L321.1 140.3 L324.5 146.0 L327.9 144.9 L325.6 149.4 L325.6 153.3 L327.9 152.8 L329.6 155.6 L332.9 155.0 L335.8 149.9 L336.9 146.0 L340.8 143.2 L345.4 139.2 L348.2 132.4 L348.7 127.7 L345.0 121.4 L344.1 116.8 L341.4 115.0 L340.5 112.3 L347.8 111.9 L349.6 109.2 L339.6 104.2 L344.6 98.8 L345.0 90.6 L331.9 85.7 L330.6 87.0 L327.9 79.8 L322.5 81.2 L316.1 74.4 L304.4 72.1 L293.6 66.3 M293.6 66.3 L303.5 70.3 L311.6 69.4 L312.5 65.8 L314.3 68.1 L317.0 73.5 L322.5 77.1 L327.9 78.9 L331.5 83.4 L337.8 85.7 L343.2 87.0 L346.4 85.7 L346.8 81.6 L343.2 80.7 L347.0 81.2 L348.7 84.3 L348.2 88.8 L349.6 94.3 L347.3 98.8 L347.8 102.4 L352.3 108.7 L358.6 110.5 L364.5 113.2 L370.3 113.2 L375.8 114.1 L377.6 112.3 L377.1 109.6 L378.9 112.8 L380.3 109.6 L382.5 109.6 L381.6 113.7 L386.6 118.7 L392.0 127.7 L394.3 134.9 L396.5 135.4 L396.1 140.3 L398.3 147.6 L400.1 156.6 L403.3 162.0 L401.5 169.2 L404.9 178.1 L405.5 183.4 L410.5 189.9 L413.3 198.0 L416.1 198.9 L410.8 183.4 L416.7 198.0 L417.6 202.3 L421.1 204.5 L424.8 209.8 L428.5 214.1 L430.1 219.1 L431.6 219.1 L432.2 214.7 L431.3 209.8 L428.8 203.5 L432.9 211.6 L436.0 212.9 L436.9 216.0 L440.3 218.1 L436.3 219.7 L432.9 223.4 L436.3 226.5 L438.8 225.3 L440.9 219.7 L444.7 209.4 L442.8 219.7 L446.2 214.4 L443.4 222.8 L446.5 224.7 L443.4 225.9 L441.2 227.8 L444.0 232.7 L447.5 239.3 L447.8 235.8 L446.5 233.4 L448.7 234.0 L451.5 238.3 L448.1 232.1 L447.8 229.9 L452.1 229.9 L455.2 228.1 L460.2 234.0 L462.0 232.7 L464.5 237.1 L467.6 235.8 L470.7 235.8 L467.0 238.3 L466.4 242.7 L470.1 242.7 L471.4 245.2 L473.9 243.9 L473.2 247.6 L471.2 248.6 L477.4 252.4 L481.0 256.7 L481.5 258.5 L477.4 263.5 L484.7 258.1 L484.2 264.4 L482.8 267.1 L484.2 270.7 L484.0 276.1 L483.5 280.7 L485.8 281.3 M461.2 256.7 L465.7 256.7 L467.0 259.9 L472.5 263.7 L477.0 263.3 L478.8 267.1 L479.7 270.7 L481.5 274.3 L480.1 277.9 L478.3 279.5 L475.2 277.9 L470.2 273.9 L466.1 268.0 L461.6 261.2 L461.2 256.7 M131.6 252.5 L133.8 247.4 L136.1 243.5 L141.2 239.5 L145.7 236.7 L149.6 237.3 L149.6 242.3 L145.7 245.2 L136.6 246.5 L135.0 251.4 L131.6 252.5 M140.0 249.5 L143.5 246.8 L147.5 244.3 L146.0 246.2" fill="none" stroke="#000" stroke-width="1.3" stroke-linejoin="round"/><path d="M480.1 261.2 L484.7 258.1 L484.2 264.8 L481.9 267.1Z" fill="#000" stroke="#000" stroke-width="0.8"/>
<path d="M243.0 294.4h12.8M249.4 288.0v12.8" stroke="#000" stroke-width="4.4" fill="none"/>

<text x="37.4" y="66.0" font-size="24.8" textLength="171.5" lengthAdjust="spacingAndGlyphs" font-family="Liberation Sans, Arial, Helvetica, sans-serif">2A23 rain types</text>
<text x="438.5" y="523.3" font-size="31" font-family="Liberation Sans, Arial, Helvetica, sans-serif">(h)</text>
<rect x="494.8" y="40.9" width="9.2" height="169.2" fill="#ff4200"/>
<rect x="494.8" y="210.1" width="9.2" height="169.2" fill="#0000ff"/>
<rect x="494.8" y="379.3" width="9.2" height="169.2" fill="#fff"/>
<rect x="494.8" y="40.9" width="9.2" height="507.6" fill="none" stroke="#222" stroke-width="0.7"/>
<line x1="504.0" y1="40.9" x2="506.2" y2="40.9" stroke="#333" stroke-width="1"/>
<text x="508.0" y="48.2" font-size="19.6" font-family="Liberation Sans, Arial, Helvetica, sans-serif">Conv</text>
<line x1="504.0" y1="210.1" x2="506.2" y2="210.1" stroke="#333" stroke-width="1"/>
<text x="508.0" y="217.4" font-size="19.6" font-family="Liberation Sans, Arial, Helvetica, sans-serif">Strat</text>
<line x1="504.0" y1="379.3" x2="506.2" y2="379.3" stroke="#333" stroke-width="1"/>
<text x="508.0" y="386.6" font-size="19.6" font-family="Liberation Sans, Arial, Helvetica, sans-serif">N/A</text>
</g>
<g transform="translate(1181.50 1181.20)">
<g clip-path="url(#plotclip)"><g filter="url(#pi)"><path d="M408.6 381.9 L413.9 378.7 L419.8 373.9 L422.0 378.7 L424.7 385.1 L427.3 388.3 L425.7 393.7 L427.3 398.0 L425.7 403.4 L427.9 408.7 L429.5 416.2 L426.3 420.5 L423.1 420.5 L420.4 416.2 L417.2 413.0 L415.0 408.7 L412.3 403.4 L410.7 399.1 L412.3 392.6 L410.7 387.3Z" fill="#4a4a4a" /><path d="M440.2 364.7 L445.1 360.4 L450.4 352.4 L453.6 356.1 L454.2 365.8 L456.3 372.2 L455.2 379.8 L457.9 387.3 L456.9 394.8 L459.0 401.2 L456.3 404.4 L453.6 406.6 L452.0 402.3 L448.8 395.9 L445.1 391.6 L444.5 385.1 L446.1 378.7 L444.5 372.2 L442.9 366.9Z" fill="#4a4a4a" /><path d="M463.3 344.3 L470.8 337.9 L478.3 332.5 L486.9 327.2 L486.9 417.3 L482.6 420.5 L478.3 423.8 L481.5 430.2 L484.2 436.6 L481.5 438.8 L477.2 437.7 L473.0 432.3 L468.7 427.0 L464.4 421.6 L461.2 416.2 L463.3 413.0 L468.7 418.4 L471.9 413.0 L469.7 409.8 L474.0 406.6 L475.1 401.2 L471.9 399.1 L474.0 391.6 L473.0 385.1 L475.1 378.7 L471.9 373.3 L468.7 370.1 L470.8 363.7 L474.0 357.2 L470.8 352.9 L466.5 347.6Z" fill="#4a4a4a" /><path d="M433.2 392.6 L437.5 390.0 L440.8 393.7 L444.0 399.1 L440.8 401.2 L436.5 400.1 L433.8 396.9Z" fill="#4a4a4a" /><path d="M431.6 403.4 L434.9 403.4 L436.5 407.7 L433.2 409.8 L431.6 406.6Z" fill="#4a4a4a" /><path d="M443.4 404.4 L446.7 405.5 L448.3 410.9 L446.1 413.0 L444.0 409.8Z" fill="#4a4a4a" /><path d="M440.8 414.6 L445.1 413.0 L447.7 416.2 L447.2 420.5 L442.9 420.5 L440.8 417.3Z" fill="#4a4a4a" /><path d="M432.2 418.4 L434.9 417.9 L435.9 420.5 L433.2 421.6Z" fill="#4a4a4a" /><path d="M459.0 416.2 L462.2 415.7 L463.3 420.5 L462.2 425.9 L460.1 423.8Z" fill="#4a4a4a" /><path d="M450.4 424.8 L453.6 423.8 L456.3 427.0 L453.6 430.2 L451.0 428.0Z" fill="#4a4a4a" /><path d="M446.1 439.9 L450.4 438.8 L453.6 434.5 L455.8 436.6 L453.6 442.0 L456.9 446.3 L459.0 440.9 L463.3 440.4 L467.6 445.2 L466.0 448.4 L461.2 447.4 L457.9 449.5 L454.7 453.8 L450.4 454.9 L447.2 449.5 L448.3 445.2Z" fill="#4a4a4a" /><path d="M438.1 456.0 L442.9 454.9 L447.2 453.8 L451.0 457.0 L449.3 463.5 L445.1 466.7 L441.3 466.7 L439.2 462.4Z" fill="#4a4a4a" /><path d="M437.0 444.1 L440.8 443.1 L442.4 448.4 L442.9 452.7 L439.7 453.8 L438.1 449.5Z" fill="#4a4a4a" /><path d="M439.2 438.8 L441.8 438.2 L442.4 441.5 L439.7 442.0Z" fill="#4a4a4a" /><path d="M407.0 428.6 L410.7 427.0 L415.0 426.4 L414.5 428.6 L410.7 431.3 L407.5 432.3Z" fill="#4a4a4a" /><path d="M393.0 432.3 L395.2 431.8 L395.7 434.5 L393.5 435.0Z" fill="#4a4a4a" /><path d="M398.4 434.0 L400.5 433.4 L400.8 436.6 L398.7 436.8Z" fill="#4a4a4a" /><path d="M403.7 449.0 L406.4 447.9 L407.5 450.6 L404.8 451.7Z" fill="#4a4a4a" /><path d="M409.1 459.7 L412.3 458.6 L415.5 463.5 L416.6 468.8 L414.5 473.1 L412.9 467.8 L410.7 463.5Z" fill="#4a4a4a" /><path d="M407.0 480.1 L409.6 479.6 L410.2 482.8 L407.5 483.3Z" fill="#4a4a4a" /><path d="M410.7 485.5 L415.0 484.4 L417.7 488.1 L413.9 488.7Z" fill="#4a4a4a" /><path d="M432.2 471.0 L436.5 468.3 L437.5 471.0 L434.3 477.4 L432.2 476.3Z" fill="#4a4a4a" /><path d="M408.6 442.5 L412.3 442.0 L413.4 444.7 L410.2 445.8Z" fill="#4a4a4a" /><path d="M427.3 394.8 L429.2 394.2 L429.5 396.4 L427.7 396.7Z" fill="#4a4a4a" /><path d="M421.4 378.7 L423.1 385.1 L420.9 392.6 L423.6 400.1 L425.2 408.7 L425.7 416.2" fill="none" stroke="#686868" stroke-width="4.0" stroke-linecap="round" stroke-linejoin="round"/><path d="M450.4 357.2 L452.0 365.8 L451.0 374.4 L453.6 383.0 L452.6 391.6 L454.7 399.1 L454.2 403.4" fill="none" stroke="#686868" stroke-width="4.4" stroke-linecap="round" stroke-linejoin="round"/><path d="M482.6 331.5 L484.8 345.4 L483.7 361.5 L485.3 378.7 L482.6 391.6 L481.5 400.1 L478.3 406.6 L474.0 413.0" fill="none" stroke="#686868" stroke-width="5.6" stroke-linecap="round" stroke-linejoin="round"/><path d="M464.4 419.5 L468.7 424.8 L473.0 430.2 L477.2 435.6" fill="none" stroke="#686868" stroke-width="4.2" stroke-linecap="round" stroke-linejoin="round"/><path d="M449.3 440.9 L452.6 446.3 L453.6 451.7" fill="none" stroke="#686868" stroke-width="4.0" stroke-linecap="round" stroke-linejoin="round"/><path d="M461.2 444.1 L464.4 445.8" fill="none" stroke="#686868" stroke-width="3.6" stroke-linecap="round" stroke-linejoin="round"/><path d="M442.9 460.2 L447.2 459.2" fill="none" stroke="#686868" stroke-width="3.6" stroke-linecap="round" stroke-linejoin="round"/><path d="M437.0 394.8 L439.7 396.9" fill="none" stroke="#686868" stroke-width="3.2" stroke-linecap="round" stroke-linejoin="round"/><path d="M444.5 416.2 L446.1 418.4" fill="none" stroke="#686868" stroke-width="3.2" stroke-linecap="round" stroke-linejoin="round"/><path d="M460.6 418.4 L461.7 422.7" fill="none" stroke="#686868" stroke-width="3.2" stroke-linecap="round" stroke-linejoin="round"/><path d="M410.7 462.4 L414.5 467.8" fill="none" stroke="#686868" stroke-width="3.2" stroke-linecap="round" stroke-linejoin="round"/><path d="M409.1 429.1 L412.3 428.0" fill="none" stroke="#686868" stroke-width="3.0" stroke-linecap="round" stroke-linejoin="round"/><path d="M434.3 472.0 L435.4 474.2" fill="none" stroke="#686868" stroke-width="3.0" stroke-linecap="round" stroke-linejoin="round"/><path d="M415.0 391.6 L418.2 395.9 L416.6 400.1" fill="none" stroke="#686868" stroke-width="3.2" stroke-linecap="round" stroke-linejoin="round"/><path d="M421.4 378.7 L423.1 385.1 L420.9 392.6 L423.6 400.1 L425.2 408.7 L425.7 416.2" fill="none" stroke="#828282" stroke-width="1.0" stroke-linecap="round" stroke-linejoin="round"/><path d="M450.4 357.2 L452.0 365.8 L451.0 374.4 L453.6 383.0 L452.6 391.6 L454.7 399.1 L454.2 403.4" fill="none" stroke="#828282" stroke-width="1.1" stroke-linecap="round" stroke-linejoin="round"/><path d="M482.6 331.5 L484.8 345.4 L483.7 361.5 L485.3 378.7 L482.6 391.6 L481.5 400.1 L478.3 406.6 L474.0 413.0" fill="none" stroke="#828282" stroke-width="1.5" stroke-linecap="round" stroke-linejoin="round"/><path d="M464.4 419.5 L468.7 424.8 L473.0 430.2 L477.2 435.6" fill="none" stroke="#828282" stroke-width="1.1" stroke-linecap="round" stroke-linejoin="round"/><path d="M449.3 440.9 L452.6 446.3 L453.6 451.7" fill="none" stroke="#828282" stroke-width="1.0" stroke-linecap="round" stroke-linejoin="round"/><ellipse cx="482.8" cy="399.1" rx="1.6" ry="3.0" fill="#a8a8a8"/><path d="M424.7 404.4 C426.1 401.2 432.4 399.4 434.3 402.3 C436.3 405.2 437.9 418.4 436.5 421.6 C435.0 424.8 427.7 424.5 425.7 421.6 C423.8 418.7 423.2 407.7 424.7 404.4Z" fill="#313131" /><path d="M434.3 438.8 C435.4 435.9 441.3 435.2 442.9 437.7 C444.5 440.2 445.1 450.9 444.0 453.8 C442.9 456.7 438.1 457.4 436.5 454.9 C434.9 452.4 433.2 441.6 434.3 438.8Z" fill="#313131" /></g><path d="M413.9 380.8 C414.3 379.5 418.2 376.7 419.3 377.1 C420.4 377.4 420.7 381.6 420.4 383.0 C420.0 384.3 418.2 385.5 417.2 385.1 C416.1 384.8 413.6 382.2 413.9 380.8Z" fill="#fff"/><rect x="333.0" y="430.0" width="3.1" height="3.1" fill="#c8c8c8"/><rect x="337.0" y="431.5" width="2.5" height="2.5" fill="#c8c8c8"/><rect x="351.8" y="424.8" width="3.4" height="3.4" fill="#c8c8c8"/><rect x="354.6" y="431.6" width="2.8" height="2.8" fill="#c8c8c8"/><rect x="357.7" y="438.2" width="2.5" height="2.5" fill="#c8c8c8"/><rect x="342.0" y="442.0" width="2.0" height="2.0" fill="#c8c8c8"/><rect x="379.4" y="468.4" width="2.1" height="2.1" fill="#c8c8c8"/></g>
<line x1="87.80" y1="40.9" x2="87.80" y2="548.8" stroke="#000" stroke-width="1.35" stroke-dasharray="3.1 5.17" fill="none"/>
<line x1="166.52" y1="40.9" x2="166.52" y2="548.8" stroke="#000" stroke-width="1.35" stroke-dasharray="3.1 5.17" fill="none"/>
<line x1="245.24" y1="40.9" x2="245.24" y2="548.8" stroke="#000" stroke-width="1.35" stroke-dasharray="3.1 5.17" fill="none"/>
<line x1="323.96" y1="40.9" x2="323.96" y2="548.8" stroke="#000" stroke-width="1.35" stroke-dasharray="3.1 5.17" fill="none"/>
<line x1="402.68" y1="40.9" x2="402.68" y2="548.8" stroke="#000" stroke-width="1.35" stroke-dasharray="3.1 5.17" fill="none"/>
<line x1="481.40" y1="40.9" x2="481.40" y2="548.8" stroke="#000" stroke-width="1.35" stroke-dasharray="3.1 5.17" fill="none"/>
<line x1="12.9" y1="486.10" x2="486.0" y2="486.10" stroke="#000" stroke-width="1.35" stroke-dasharray="3.1 5.17" fill="none"/>
<line x1="12.9" y1="401.40" x2="486.0" y2="401.40" stroke="#000" stroke-width="1.35" stroke-dasharray="3.1 5.17" fill="none"/>
<line x1="12.9" y1="316.70" x2="486.0" y2="316.70" stroke="#000" stroke-width="1.35" stroke-dasharray="3.1 5.17" fill="none"/>
<line x1="12.9" y1="232.00" x2="486.0" y2="232.00" stroke="#000" stroke-width="1.35" stroke-dasharray="3.1 5.17" fill="none"/>
<line x1="12.9" y1="147.30" x2="486.0" y2="147.30" stroke="#000" stroke-width="1.35" stroke-dasharray="3.1 5.17" fill="none"/>
<line x1="12.9" y1="62.60" x2="486.0" y2="62.60" stroke="#000" stroke-width="1.35" stroke-dasharray="3.1 5.17" fill="none"/>
<text x="87.60" y="294.9" font-size="12.2" text-anchor="middle" font-family="Liberation Sans, Arial, Helvetica, sans-serif">84</text>
<text x="166.32" y="294.9" font-size="12.2" text-anchor="middle" font-family="Liberation Sans, Arial, Helvetica, sans-serif">86</text>
<text x="245.04" y="294.9" font-size="12.2" text-anchor="middle" font-family="Liberation Sans, Arial, Helvetica, sans-serif">88</text>
<text x="323.76" y="294.9" font-size="12.2" text-anchor="middle" font-family="Liberation Sans, Arial, Helvetica, sans-serif">90</text>
<text x="402.48" y="294.9" font-size="12.2" text-anchor="middle" font-family="Liberation Sans, Arial, Helvetica, sans-serif">92</text>
<text x="481.20" y="294.9" font-size="12.2" text-anchor="middle" font-family="Liberation Sans, Arial, Helvetica, sans-serif">94</text>
<text x="258.6" y="486.40" font-size="12.2" font-family="Liberation Sans, Arial, Helvetica, sans-serif">14</text>
<text x="258.6" y="401.70" font-size="12.2" font-family="Liberation Sans, Arial, Helvetica, sans-serif">16</text>
<text x="258.6" y="317.00" font-size="12.2" font-family="Liberation Sans, Arial, Helvetica, sans-serif">18</text>
<text x="258.6" y="232.30" font-size="12.2" font-family="Liberation Sans, Arial, Helvetica, sans-serif">20</text>
<text x="258.6" y="147.60" font-size="12.2" font-family="Liberation Sans, Arial, Helvetica, sans-serif">22</text>
<text x="258.6" y="62.90" font-size="12.2" font-family="Liberation Sans, Arial, Helvetica, sans-serif">24</text>
<g clip-path="url(#plotclip)"><path d="M179.9 548.2 L199.9 533.2 L219.9 518.2 L239.9 503.4 L259.9 488.7 L279.9 474.0 L299.9 459.5 L319.9 445.0 L339.9 430.7 L359.9 416.4 L379.9 402.3 L399.9 388.2 L419.9 374.3 L439.9 360.4 L459.9 346.6 L479.9 333.0" stroke="#000" stroke-width="1.0" stroke-dasharray="11.75 11.75" fill="none"/><line x1="333.5" y1="548.2" x2="492" y2="435.8" stroke="#000" stroke-width="1.0" stroke-dasharray="11.75 11.75" fill="none"/></g>
<path d="M13.0 381.6 L16.9 379.8 L20.3 377.3 L22.6 371.7 L23.7 367.1 L23.5 362.6 L23.4 366.5 L20.3 364.9 L19.4 361.5 L20.3 357.0 L24.3 352.5 L29.9 347.9 L37.3 344.3 L45.2 341.2 L50.8 337.5 L55.9 335.0 L57.6 331.6 L59.9 328.7 L63.2 327.0 L65.5 323.7 L67.8 319.7 L72.3 315.0 L79.1 310.1 L87.0 306.7 L92.0 304.1 L93.7 301.1 L98.8 295.4 L105.0 289.8 L111.2 280.7 L115.8 275.1 L118.0 270.6 L117.4 268.7 L119.7 267.8 L124.2 263.2 L133.3 255.3 L141.2 249.1 L150.2 244.6 L158.1 241.8 L167.1 239.3 L176.2 236.1 L181.4 232.3 L176.5 229.5 L172.3 226.3 L177.0 230.3 L181.4 232.3 L186.1 224.5 L189.0 222.2 L195.2 218.8 L197.4 215.4 L195.2 214.3 L195.7 211.5 L199.7 207.5 L206.5 203.4 L203.6 201.3 L204.2 197.9 L201.9 196.8 L203.6 195.7 L200.8 187.8 L199.4 182.1 L200.8 177.6 L204.8 172.5 L209.9 168.4 L217.8 165.8 L229.1 162.9 L235.8 160.4 L241.5 156.7 L246.0 151.6 L249.4 146.0 L252.2 141.5 L249.4 139.2 L245.4 137.0 L243.7 133.6 L242.4 130.2 L244.4 134.5 L245.4 135.8 L252.2 140.3 L253.0 143.7 L251.6 148.2 L253.3 155.0 L252.2 160.7 L256.7 165.2 L257.8 161.2 L256.2 157.8 L261.2 160.1 L262.9 162.9 L264.1 155.0 L265.8 151.6 L266.9 158.4 L264.6 166.9 L268.6 162.9 L269.7 156.2 L268.6 151.6 L270.3 147.1 L272.5 143.7 L275.4 142.6 L272.5 147.1 L272.0 151.6 L274.2 158.4 L273.7 165.8 L277.6 161.2 L279.9 162.9 L285.0 164.1 L288.3 162.9 L285.5 155.0 L282.1 149.4 L285.5 150.5 L287.2 143.2 L288.3 148.2 L290.0 155.0 L292.9 156.7 L294.0 161.2 L296.2 161.2 L297.9 155.0 L299.6 159.0 L302.5 157.3 L304.1 151.6 L305.6 143.7 L303.8 137.0 L306.4 143.7 L308.7 133.6 L307.5 143.7 L306.4 151.6 L307.0 158.4 L309.8 159.0 L310.9 153.9 L318.3 152.8 L319.4 146.0 L318.8 139.2 L319.4 131.3 L323.9 126.8 L321.1 131.3 L321.1 140.3 L324.5 146.0 L327.9 144.9 L325.6 149.4 L325.6 153.3 L327.9 152.8 L329.6 155.6 L332.9 155.0 L335.8 149.9 L336.9 146.0 L340.8 143.2 L345.4 139.2 L348.2 132.4 L348.7 127.7 L345.0 121.4 L344.1 116.8 L341.4 115.0 L340.5 112.3 L347.8 111.9 L349.6 109.2 L339.6 104.2 L344.6 98.8 L345.0 90.6 L331.9 85.7 L330.6 87.0 L327.9 79.8 L322.5 81.2 L316.1 74.4 L304.4 72.1 L293.6 66.3 M293.6 66.3 L303.5 70.3 L311.6 69.4 L312.5 65.8 L314.3 68.1 L317.0 73.5 L322.5 77.1 L327.9 78.9 L331.5 83.4 L337.8 85.7 L343.2 87.0 L346.4 85.7 L346.8 81.6 L343.2 80.7 L347.0 81.2 L348.7 84.3 L348.2 88.8 L349.6 94.3 L347.3 98.8 L347.8 102.4 L352.3 108.7 L358.6 110.5 L364.5 113.2 L370.3 113.2 L375.8 114.1 L377.6 112.3 L377.1 109.6 L378.9 112.8 L380.3 109.6 L382.5 109.6 L381.6 113.7 L386.6 118.7 L392.0 127.7 L394.3 134.9 L396.5 135.4 L396.1 140.3 L398.3 147.6 L400.1 156.6 L403.3 162.0 L401.5 169.2 L404.9 178.1 L405.5 183.4 L410.5 189.9 L413.3 198.0 L416.1 198.9 L410.8 183.4 L416.7 198.0 L417.6 202.3 L421.1 204.5 L424.8 209.8 L428.5 214.1 L430.1 219.1 L431.6 219.1 L432.2 214.7 L431.3 209.8 L428.8 203.5 L432.9 211.6 L436.0 212.9 L436.9 216.0 L440.3 218.1 L436.3 219.7 L432.9 223.4 L436.3 226.5 L438.8 225.3 L440.9 219.7 L444.7 209.4 L442.8 219.7 L446.2 214.4 L443.4 222.8 L446.5 224.7 L443.4 225.9 L441.2 227.8 L444.0 232.7 L447.5 239.3 L447.8 235.8 L446.5 233.4 L448.7 234.0 L451.5 238.3 L448.1 232.1 L447.8 229.9 L452.1 229.9 L455.2 228.1 L460.2 234.0 L462.0 232.7 L464.5 237.1 L467.6 235.8 L470.7 235.8 L467.0 238.3 L466.4 242.7 L470.1 242.7 L471.4 245.2 L473.9 243.9 L473.2 247.6 L471.2 248.6 L477.4 252.4 L481.0 256.7 L481.5 258.5 L477.4 263.5 L484.7 258.1 L484.2 264.4 L482.8 267.1 L484.2 270.7 L484.0 276.1 L483.5 280.7 L485.8 281.3 M461.2 256.7 L465.7 256.7 L467.0 259.9 L472.5 263.7 L477.0 263.3 L478.8 267.1 L479.7 270.7 L481.5 274.3 L480.1 277.9 L478.3 279.5 L475.2 277.9 L470.2 273.9 L466.1 268.0 L461.6 261.2 L461.2 256.7 M131.6 252.5 L133.8 247.4 L136.1 243.5 L141.2 239.5 L145.7 236.7 L149.6 237.3 L149.6 242.3 L145.7 245.2 L136.6 246.5 L135.0 251.4 L131.6 252.5 M140.0 249.5 L143.5 246.8 L147.5 244.3 L146.0 246.2" fill="none" stroke="#000" stroke-width="1.3" stroke-linejoin="round"/><path d="M480.1 261.2 L484.7 258.1 L484.2 264.8 L481.9 267.1Z" fill="#000" stroke="#000" stroke-width="0.8"/>
<path d="M243.0 294.4h12.8M249.4 288.0v12.8" stroke="#000" stroke-width="4.4" fill="none"/>

<text x="37.0" y="66.0" font-size="24.8" textLength="258.5" lengthAdjust="spacingAndGlyphs" font-family="Liberation Sans, Arial, Helvetica, sans-serif">2A23 storm height (km)</text>
<text x="437.0" y="523.3" font-size="31" font-family="Liberation Sans, Arial, Helvetica, sans-serif">(i)</text>
<rect x="495.0" y="531.67" width="9.0" height="8.77" fill="#f6f6f6"/>
<rect x="495.0" y="523.20" width="9.0" height="8.77" fill="#eeeeee"/>
<rect x="495.0" y="514.73" width="9.0" height="8.77" fill="#e6e6e6"/>
<rect x="495.0" y="506.27" width="9.0" height="8.77" fill="#dedede"/>
<rect x="495.0" y="497.80" width="9.0" height="8.77" fill="#d6d5d5"/>
<rect x="495.0" y="489.33" width="9.0" height="8.77" fill="#cecdcd"/>
<rect x="495.0" y="480.87" width="9.0" height="8.77" fill="#c6c5c5"/>
<rect x="495.0" y="472.40" width="9.0" height="8.77" fill="#bebdbd"/>
<rect x="495.0" y="463.93" width="9.0" height="8.77" fill="#b6b5b5"/>
<rect x="495.0" y="455.47" width="9.0" height="8.77" fill="#aeadad"/>
<rect x="495.0" y="447.00" width="9.0" height="8.77" fill="#a6a4a4"/>
<rect x="495.0" y="438.53" width="9.0" height="8.77" fill="#9e9c9c"/>
<rect x="495.0" y="430.07" width="9.0" height="8.77" fill="#969494"/>
<rect x="495.0" y="421.60" width="9.0" height="8.77" fill="#8e8c8c"/>
<rect x="495.0" y="413.13" width="9.0" height="8.77" fill="#84dc88"/>
<rect x="495.0" y="404.67" width="9.0" height="8.77" fill="#7cd380"/>
<rect x="495.0" y="396.20" width="9.0" height="8.77" fill="#74ca78"/>
<rect x="495.0" y="387.73" width="9.0" height="8.77" fill="#6cc170"/>
<rect x="495.0" y="379.27" width="9.0" height="8.77" fill="#64b868"/>
<rect x="495.0" y="370.80" width="9.0" height="8.77" fill="#ccd4fc"/>
<rect x="495.0" y="362.33" width="9.0" height="8.77" fill="#b4ccff"/>
<rect x="495.0" y="353.87" width="9.0" height="8.77" fill="#9cc4ff"/>
<rect x="495.0" y="345.40" width="9.0" height="8.77" fill="#84bcff"/>
<rect x="495.0" y="336.93" width="9.0" height="8.77" fill="#6cb4ff"/>
<rect x="495.0" y="328.47" width="9.0" height="8.77" fill="#54acff"/>
<rect x="495.0" y="320.00" width="9.0" height="8.77" fill="#4c88ff"/>
<rect x="495.0" y="311.53" width="9.0" height="8.77" fill="#4468ff"/>
<rect x="495.0" y="303.07" width="9.0" height="8.77" fill="#3c4cff"/>
<rect x="495.0" y="294.60" width="9.0" height="8.77" fill="#3030ff"/>
<rect x="495.0" y="286.13" width="9.0" height="8.77" fill="#0000ff"/>
<rect x="495.0" y="277.67" width="9.0" height="8.77" fill="#0000f4"/>
<rect x="495.0" y="269.20" width="9.0" height="8.77" fill="#0000e6"/>
<rect x="495.0" y="260.73" width="9.0" height="8.77" fill="#0000d8"/>
<rect x="495.0" y="252.27" width="9.0" height="8.77" fill="#0808c8"/>
<rect x="495.0" y="243.80" width="9.0" height="8.77" fill="#ffff00"/>
<rect x="495.0" y="235.33" width="9.0" height="8.77" fill="#fff300"/>
<rect x="495.0" y="226.87" width="9.0" height="8.77" fill="#ffe800"/>
<rect x="495.0" y="218.40" width="9.0" height="8.77" fill="#ffdc00"/>
<rect x="495.0" y="209.93" width="9.0" height="8.77" fill="#ffd000"/>
<rect x="495.0" y="201.47" width="9.0" height="8.77" fill="#ff9000"/>
<rect x="495.0" y="193.00" width="9.0" height="8.77" fill="#ff8800"/>
<rect x="495.0" y="184.53" width="9.0" height="8.77" fill="#ff8000"/>
<rect x="495.0" y="176.07" width="9.0" height="8.77" fill="#ff7800"/>
<rect x="495.0" y="167.60" width="9.0" height="8.77" fill="#ff7000"/>
<rect x="495.0" y="159.13" width="9.0" height="8.77" fill="#ff4400"/>
<rect x="495.0" y="150.67" width="9.0" height="8.77" fill="#ff3800"/>
<rect x="495.0" y="142.20" width="9.0" height="8.77" fill="#ff2c00"/>
<rect x="495.0" y="133.73" width="9.0" height="8.77" fill="#ff2000"/>
<rect x="495.0" y="125.27" width="9.0" height="8.77" fill="#ff1400"/>
<rect x="495.0" y="116.80" width="9.0" height="8.77" fill="#c80000"/>
<rect x="495.0" y="108.33" width="9.0" height="8.77" fill="#be0300"/>
<rect x="495.0" y="99.87" width="9.0" height="8.77" fill="#b40600"/>
<rect x="495.0" y="91.40" width="9.0" height="8.77" fill="#aa0900"/>
<rect x="495.0" y="82.93" width="9.0" height="8.77" fill="#a00c00"/>
<rect x="495.0" y="74.47" width="9.0" height="8.77" fill="#620e06"/>
<rect x="495.0" y="66.00" width="9.0" height="8.77" fill="#60110a"/>
<rect x="495.0" y="57.53" width="9.0" height="8.77" fill="#5e140f"/>
<rect x="495.0" y="49.07" width="9.0" height="8.77" fill="#5c1714"/>
<rect x="495.0" y="40.60" width="9.0" height="8.77" fill="#5a1a18"/>
<line x1="504.0" y1="548.60" x2="506.0" y2="548.60" stroke="#222" stroke-width="0.9"/>
<text x="532.3" y="557.20" font-size="19.2" text-anchor="middle" font-family="Liberation Sans, Arial, Helvetica, sans-serif">0.0</text>
<line x1="504.0" y1="497.80" x2="506.0" y2="497.80" stroke="#222" stroke-width="0.9"/>
<text x="532.3" y="506.40" font-size="19.2" text-anchor="middle" font-family="Liberation Sans, Arial, Helvetica, sans-serif">2.0</text>
<line x1="504.0" y1="447.00" x2="506.0" y2="447.00" stroke="#222" stroke-width="0.9"/>
<text x="532.3" y="455.60" font-size="19.2" text-anchor="middle" font-family="Liberation Sans, Arial, Helvetica, sans-serif">4.0</text>
<line x1="504.0" y1="396.20" x2="506.0" y2="396.20" stroke="#222" stroke-width="0.9"/>
<text x="532.3" y="404.80" font-size="19.2" text-anchor="middle" font-family="Liberation Sans, Arial, Helvetica, sans-serif">6.0</text>
<line x1="504.0" y1="345.40" x2="506.0" y2="345.40" stroke="#222" stroke-width="0.9"/>
<text x="532.3" y="354.00" font-size="19.2" text-anchor="middle" font-family="Liberation Sans, Arial, Helvetica, sans-serif">8.0</text>
<line x1="504.0" y1="294.60" x2="506.0" y2="294.60" stroke="#222" stroke-width="0.9"/>
<text x="532.3" y="303.20" font-size="19.2" text-anchor="middle" font-family="Liberation Sans, Arial, Helvetica, sans-serif">10.0</text>
<line x1="504.0" y1="243.80" x2="506.0" y2="243.80" stroke="#222" stroke-width="0.9"/>
<text x="532.3" y="252.40" font-size="19.2" text-anchor="middle" font-family="Liberation Sans, Arial, Helvetica, sans-serif">12.0</text>
<line x1="504.0" y1="193.00" x2="506.0" y2="193.00" stroke="#222" stroke-width="0.9"/>
<text x="532.3" y="201.60" font-size="19.2" text-anchor="middle" font-family="Liberation Sans, Arial, Helvetica, sans-serif">14.0</text>
<line x1="504.0" y1="142.20" x2="506.0" y2="142.20" stroke="#222" stroke-width="0.9"/>
<text x="532.3" y="150.80" font-size="19.2" text-anchor="middle" font-family="Liberation Sans, Arial, Helvetica, sans-serif">16.0</text>
<line x1="504.0" y1="91.40" x2="506.0" y2="91.40" stroke="#222" stroke-width="0.9"/>
<text x="532.3" y="100.00" font-size="19.2" text-anchor="middle" font-family="Liberation Sans, Arial, Helvetica, sans-serif">18.0</text>
</g>
</svg></body></html>
